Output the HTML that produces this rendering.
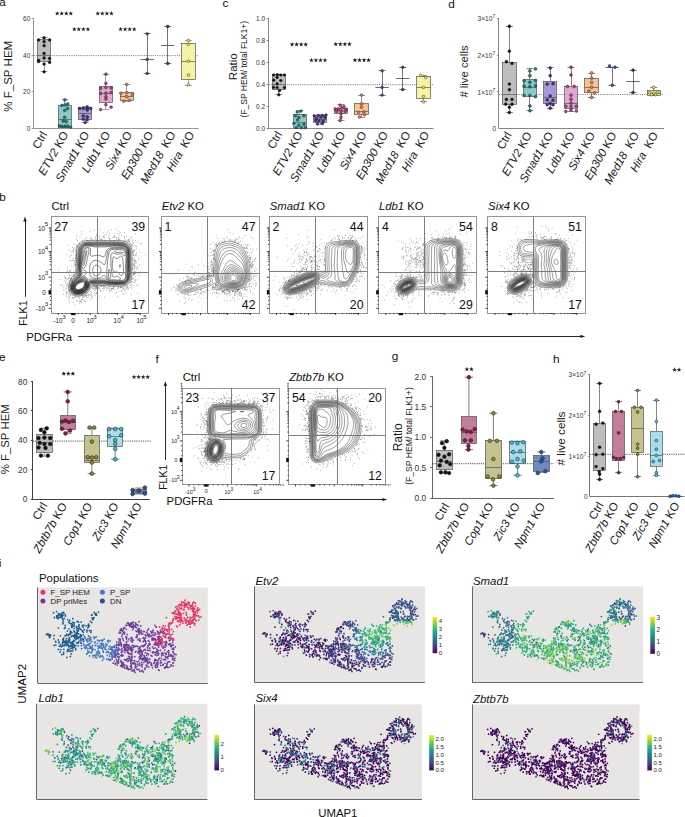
<!DOCTYPE html>
<html><head><meta charset="utf-8"><style>
html,body{margin:0;padding:0;background:#fff;width:685px;height:817px;overflow:hidden}
svg{display:block}
text{font-family:"Liberation Sans",sans-serif}
</style></head><body>
<svg width="685" height="817" viewBox="0 0 685 817" font-family="Liberation Sans, sans-serif">
<rect width="685" height="817" fill="#fff"/>
<text x="-0.7" y="5.8" font-size="11.8" text-anchor="start" fill="#111" >a</text>
<line x1="33.5" y1="18.2" x2="33.5" y2="128.7" stroke="#8a8a8a" stroke-width="0.9" />
<line x1="31.7" y1="18.5" x2="33.7" y2="18.5" stroke="#8a8a8a" stroke-width="0.9" />
<text x="30.2" y="20.9" font-size="6.4" text-anchor="end" fill="#333" >60</text>
<line x1="31.7" y1="55.5" x2="33.7" y2="55.5" stroke="#8a8a8a" stroke-width="0.9" />
<text x="30.2" y="57.7" font-size="6.4" text-anchor="end" fill="#333" >40</text>
<line x1="31.7" y1="91.5" x2="33.7" y2="91.5" stroke="#8a8a8a" stroke-width="0.9" />
<text x="30.2" y="94.2" font-size="6.4" text-anchor="end" fill="#333" >20</text>
<line x1="31.7" y1="128.5" x2="33.7" y2="128.5" stroke="#8a8a8a" stroke-width="0.9" />
<text x="30.2" y="130.6" font-size="6.4" text-anchor="end" fill="#333" >0</text>
<line x1="33.7" y1="128.5" x2="198.5" y2="128.5" stroke="#8a8a8a" stroke-width="0.9" />
<line x1="34" y1="55.6" x2="198" y2="55.6" stroke="#555" stroke-width="0.75" stroke-dasharray="1.1 1.1"/>
<line x1="44.5" y1="37.8" x2="44.5" y2="39.6" stroke="#9a9a9a" stroke-width="0.9" />
<line x1="44.5" y1="61.5" x2="44.5" y2="71.8" stroke="#9a9a9a" stroke-width="0.9" />
<line x1="40.6" y1="37.5" x2="47.6" y2="37.5" stroke="#9a9a9a" stroke-width="0.9" />
<line x1="40.6" y1="71.5" x2="47.6" y2="71.5" stroke="#9a9a9a" stroke-width="0.9" />
<rect x="37.5" y="39.5" width="13" height="22" fill="#bdbdbd" stroke="#555" stroke-width="0.7" />
<line x1="37.4" y1="55.5" x2="50.8" y2="55.5" stroke="#555" stroke-width="0.7" />
<circle cx="38.6" cy="40" r="1.4" fill="#111" stroke="#222" stroke-width="0.45"/>
<circle cx="44.1" cy="37.8" r="1.4" fill="#111" stroke="#222" stroke-width="0.45"/>
<circle cx="49.6" cy="40" r="1.4" fill="#111" stroke="#222" stroke-width="0.45"/>
<circle cx="44.1" cy="41.7" r="1.4" fill="#111" stroke="#222" stroke-width="0.45"/>
<circle cx="44.1" cy="45.7" r="1.4" fill="#111" stroke="#222" stroke-width="0.45"/>
<circle cx="44.1" cy="53.4" r="1.4" fill="#111" stroke="#222" stroke-width="0.45"/>
<circle cx="44.1" cy="58" r="1.4" fill="#111" stroke="#222" stroke-width="0.45"/>
<circle cx="49.6" cy="58.5" r="1.4" fill="#111" stroke="#222" stroke-width="0.45"/>
<circle cx="38.6" cy="60.4" r="1.4" fill="#111" stroke="#222" stroke-width="0.45"/>
<circle cx="49.6" cy="62.4" r="1.4" fill="#111" stroke="#222" stroke-width="0.45"/>
<circle cx="44.1" cy="64.1" r="1.4" fill="#111" stroke="#222" stroke-width="0.45"/>
<circle cx="44.1" cy="71.8" r="1.4" fill="#111" stroke="#222" stroke-width="0.45"/>
<circle cx="38.6" cy="61.5" r="1.4" fill="#111" stroke="#222" stroke-width="0.45"/>
<line x1="64.5" y1="99.9" x2="64.5" y2="105.3" stroke="#9a9a9a" stroke-width="0.9" />
<line x1="64.5" y1="127.5" x2="64.5" y2="127.5" stroke="#9a9a9a" stroke-width="0.9" />
<line x1="61.4" y1="99.5" x2="68.4" y2="99.5" stroke="#9a9a9a" stroke-width="0.9" />
<line x1="61.4" y1="127.5" x2="68.4" y2="127.5" stroke="#9a9a9a" stroke-width="0.9" />
<rect x="58.5" y="105.5" width="13" height="22" fill="#8ec8c7" stroke="#555" stroke-width="0.7" />
<line x1="58.2" y1="119.5" x2="71.6" y2="119.5" stroke="#555" stroke-width="0.7" />
<circle cx="64.9" cy="99.9" r="1.4" fill="#13817f" stroke="#222" stroke-width="0.45"/>
<circle cx="61.9" cy="105.4" r="1.4" fill="#13817f" stroke="#222" stroke-width="0.45"/>
<circle cx="64.9" cy="104.9" r="1.4" fill="#13817f" stroke="#222" stroke-width="0.45"/>
<circle cx="67.7" cy="103.9" r="1.4" fill="#13817f" stroke="#222" stroke-width="0.45"/>
<circle cx="67.7" cy="108.5" r="1.4" fill="#13817f" stroke="#222" stroke-width="0.45"/>
<circle cx="64.7" cy="110.4" r="1.4" fill="#13817f" stroke="#222" stroke-width="0.45"/>
<circle cx="64.7" cy="117.3" r="1.4" fill="#13817f" stroke="#222" stroke-width="0.45"/>
<circle cx="63.2" cy="121" r="1.4" fill="#13817f" stroke="#222" stroke-width="0.45"/>
<circle cx="66.2" cy="121.6" r="1.4" fill="#13817f" stroke="#222" stroke-width="0.45"/>
<circle cx="59.3" cy="125.9" r="1.4" fill="#13817f" stroke="#222" stroke-width="0.45"/>
<circle cx="61.9" cy="126.4" r="1.4" fill="#13817f" stroke="#222" stroke-width="0.45"/>
<circle cx="64.9" cy="126.2" r="1.4" fill="#13817f" stroke="#222" stroke-width="0.45"/>
<circle cx="67.7" cy="126.2" r="1.4" fill="#13817f" stroke="#222" stroke-width="0.45"/>
<circle cx="70.6" cy="127.2" r="1.4" fill="#13817f" stroke="#222" stroke-width="0.45"/>
<line x1="85.5" y1="106.3" x2="85.5" y2="107.3" stroke="#9a9a9a" stroke-width="0.9" />
<line x1="85.5" y1="119.5" x2="85.5" y2="122.6" stroke="#9a9a9a" stroke-width="0.9" />
<line x1="81.7" y1="106.5" x2="88.7" y2="106.5" stroke="#9a9a9a" stroke-width="0.9" />
<line x1="81.7" y1="122.5" x2="88.7" y2="122.5" stroke="#9a9a9a" stroke-width="0.9" />
<rect x="78.5" y="107.5" width="13" height="12" fill="#a797d4" stroke="#555" stroke-width="0.7" />
<line x1="78.5" y1="113.5" x2="91.9" y2="113.5" stroke="#555" stroke-width="0.7" />
<circle cx="79.6" cy="108.5" r="1.4" fill="#4b2d8d" stroke="#222" stroke-width="0.45"/>
<circle cx="83.3" cy="108.5" r="1.4" fill="#4b2d8d" stroke="#222" stroke-width="0.45"/>
<circle cx="87.2" cy="108.5" r="1.4" fill="#4b2d8d" stroke="#222" stroke-width="0.45"/>
<circle cx="90.8" cy="108.5" r="1.4" fill="#4b2d8d" stroke="#222" stroke-width="0.45"/>
<circle cx="87.2" cy="106.8" r="1.4" fill="#4b2d8d" stroke="#222" stroke-width="0.45"/>
<circle cx="87.2" cy="110.1" r="1.4" fill="#4b2d8d" stroke="#222" stroke-width="0.45"/>
<circle cx="83.3" cy="116" r="1.4" fill="#4b2d8d" stroke="#222" stroke-width="0.45"/>
<circle cx="87.2" cy="116.9" r="1.4" fill="#4b2d8d" stroke="#222" stroke-width="0.45"/>
<circle cx="83.3" cy="119.3" r="1.4" fill="#4b2d8d" stroke="#222" stroke-width="0.45"/>
<circle cx="87.2" cy="119.9" r="1.4" fill="#4b2d8d" stroke="#222" stroke-width="0.45"/>
<circle cx="85.2" cy="122.6" r="1.4" fill="#4b2d8d" stroke="#222" stroke-width="0.45"/>
<line x1="105.5" y1="74.2" x2="105.5" y2="86.8" stroke="#9a9a9a" stroke-width="0.9" />
<line x1="105.5" y1="102.3" x2="105.5" y2="109.6" stroke="#9a9a9a" stroke-width="0.9" />
<line x1="102.4" y1="74.5" x2="109.4" y2="74.5" stroke="#9a9a9a" stroke-width="0.9" />
<line x1="102.4" y1="109.5" x2="109.4" y2="109.5" stroke="#9a9a9a" stroke-width="0.9" />
<rect x="99.5" y="86.5" width="13" height="16" fill="#dcaad0" stroke="#555" stroke-width="0.7" />
<line x1="99.2" y1="93.5" x2="112.6" y2="93.5" stroke="#555" stroke-width="0.7" />
<circle cx="105.9" cy="74.2" r="1.4" fill="#c3397c" stroke="#222" stroke-width="0.45"/>
<circle cx="105.9" cy="83.4" r="1.4" fill="#c3397c" stroke="#222" stroke-width="0.45"/>
<circle cx="100.6" cy="88.4" r="1.4" fill="#c3397c" stroke="#222" stroke-width="0.45"/>
<circle cx="105.9" cy="87.6" r="1.4" fill="#c3397c" stroke="#222" stroke-width="0.45"/>
<circle cx="111.1" cy="87.9" r="1.4" fill="#c3397c" stroke="#222" stroke-width="0.45"/>
<circle cx="100.6" cy="93.5" r="1.4" fill="#c3397c" stroke="#222" stroke-width="0.45"/>
<circle cx="105.9" cy="93.2" r="1.4" fill="#c3397c" stroke="#222" stroke-width="0.45"/>
<circle cx="111.1" cy="92.4" r="1.4" fill="#c3397c" stroke="#222" stroke-width="0.45"/>
<circle cx="105.9" cy="96.7" r="1.4" fill="#c3397c" stroke="#222" stroke-width="0.45"/>
<circle cx="105.9" cy="99.1" r="1.4" fill="#c3397c" stroke="#222" stroke-width="0.45"/>
<circle cx="105.9" cy="104.7" r="1.4" fill="#c3397c" stroke="#222" stroke-width="0.45"/>
<circle cx="100.6" cy="109.6" r="1.4" fill="#c3397c" stroke="#222" stroke-width="0.45"/>
<circle cx="111.1" cy="107.2" r="1.4" fill="#c3397c" stroke="#222" stroke-width="0.45"/>
<line x1="126.5" y1="84.4" x2="126.5" y2="92.7" stroke="#9a9a9a" stroke-width="0.9" />
<line x1="126.5" y1="100.7" x2="126.5" y2="101.5" stroke="#9a9a9a" stroke-width="0.9" />
<line x1="123.2" y1="84.5" x2="130.2" y2="84.5" stroke="#9a9a9a" stroke-width="0.9" />
<line x1="123.2" y1="101.5" x2="130.2" y2="101.5" stroke="#9a9a9a" stroke-width="0.9" />
<rect x="120.5" y="92.5" width="13" height="8" fill="#f9c48f" stroke="#555" stroke-width="0.7" />
<line x1="120" y1="96.5" x2="133.4" y2="96.5" stroke="#555" stroke-width="0.7" />
<circle cx="126.7" cy="84.4" r="1.4" fill="#ea7b6d" stroke="#222" stroke-width="0.45"/>
<circle cx="120.9" cy="93.2" r="1.4" fill="#ea7b6d" stroke="#222" stroke-width="0.45"/>
<circle cx="126.7" cy="92.7" r="1.4" fill="#ea7b6d" stroke="#222" stroke-width="0.45"/>
<circle cx="132.3" cy="94.3" r="1.4" fill="#ea7b6d" stroke="#222" stroke-width="0.45"/>
<circle cx="126.7" cy="96.7" r="1.4" fill="#ea7b6d" stroke="#222" stroke-width="0.45"/>
<circle cx="123.6" cy="101.2" r="1.4" fill="#ea7b6d" stroke="#222" stroke-width="0.45"/>
<circle cx="129.5" cy="100.3" r="1.4" fill="#ea7b6d" stroke="#222" stroke-width="0.45"/>
<line x1="147.5" y1="33.8" x2="147.5" y2="73.4" stroke="#555" stroke-width="0.8" />
<line x1="143.7" y1="33.5" x2="150.7" y2="33.5" stroke="#555" stroke-width="0.8" />
<line x1="143.7" y1="73.5" x2="150.7" y2="73.5" stroke="#555" stroke-width="0.8" />
<line x1="140.5" y1="59.5" x2="153.9" y2="59.5" stroke="#444" stroke-width="0.8" />
<circle cx="147.2" cy="33.8" r="1.4" fill="#2d56a2" stroke="#222" stroke-width="0.45"/>
<circle cx="147.2" cy="59.5" r="1.4" fill="#2d56a2" stroke="#222" stroke-width="0.45"/>
<circle cx="147.2" cy="73.4" r="1.4" fill="#2d56a2" stroke="#222" stroke-width="0.45"/>
<line x1="167.5" y1="26.5" x2="167.5" y2="63.5" stroke="#555" stroke-width="0.8" />
<line x1="164.2" y1="26.5" x2="171.2" y2="26.5" stroke="#555" stroke-width="0.8" />
<line x1="164.2" y1="63.5" x2="171.2" y2="63.5" stroke="#555" stroke-width="0.8" />
<line x1="161" y1="45.5" x2="174.4" y2="45.5" stroke="#444" stroke-width="0.8" />
<circle cx="167.7" cy="26.5" r="1.4" fill="#7b1746" stroke="#222" stroke-width="0.45"/>
<circle cx="167.7" cy="63.5" r="1.4" fill="#7b1746" stroke="#222" stroke-width="0.45"/>
<line x1="188.5" y1="40.5" x2="188.5" y2="43.2" stroke="#9a9a9a" stroke-width="0.9" />
<line x1="188.5" y1="79.9" x2="188.5" y2="85" stroke="#9a9a9a" stroke-width="0.9" />
<line x1="184.9" y1="40.5" x2="191.9" y2="40.5" stroke="#9a9a9a" stroke-width="0.9" />
<line x1="184.9" y1="85.5" x2="191.9" y2="85.5" stroke="#9a9a9a" stroke-width="0.9" />
<rect x="181.5" y="43.5" width="14" height="36" fill="#f5f2a3" stroke="#555" stroke-width="0.7" />
<line x1="181.7" y1="61.5" x2="195.1" y2="61.5" stroke="#555" stroke-width="0.7" />
<circle cx="188.4" cy="40.5" r="1.4" fill="#ece463" stroke="#222" stroke-width="0.45"/>
<circle cx="188.4" cy="44.3" r="1.4" fill="#ece463" stroke="#222" stroke-width="0.45"/>
<circle cx="188.4" cy="61.1" r="1.4" fill="#ece463" stroke="#222" stroke-width="0.45"/>
<circle cx="188.4" cy="75.2" r="1.4" fill="#ece463" stroke="#222" stroke-width="0.45"/>
<circle cx="188.4" cy="85" r="1.4" fill="#ece463" stroke="#222" stroke-width="0.45"/>
<path d="M57.17,11.05 L57.78,12.67 L59.51,12.74 L58.15,13.82 L58.62,15.48 L57.17,14.53 L55.73,15.48 L56.2,13.82 L54.84,12.74 L56.57,12.67ZM61.72,11.05 L62.33,12.67 L64.06,12.74 L62.7,13.82 L63.17,15.48 L61.72,14.53 L60.28,15.48 L60.75,13.82 L59.39,12.74 L61.12,12.67ZM66.27,11.05 L66.88,12.67 L68.61,12.74 L67.25,13.82 L67.72,15.48 L66.27,14.53 L64.83,15.48 L65.3,13.82 L63.94,12.74 L65.67,12.67ZM70.82,11.05 L71.43,12.67 L73.16,12.74 L71.8,13.82 L72.27,15.48 L70.82,14.53 L69.38,15.48 L69.85,13.82 L68.49,12.74 L70.22,12.67Z" fill="#222"/>
<path d="M74.27,26.85 L74.88,28.47 L76.61,28.54 L75.25,29.62 L75.72,31.28 L74.27,30.33 L72.83,31.28 L73.3,29.62 L71.94,28.54 L73.67,28.47ZM78.82,26.85 L79.43,28.47 L81.16,28.54 L79.8,29.62 L80.27,31.28 L78.82,30.33 L77.38,31.28 L77.85,29.62 L76.49,28.54 L78.22,28.47ZM83.37,26.85 L83.98,28.47 L85.71,28.54 L84.35,29.62 L84.82,31.28 L83.37,30.33 L81.93,31.28 L82.4,29.62 L81.04,28.54 L82.77,28.47ZM87.92,26.85 L88.53,28.47 L90.26,28.54 L88.9,29.62 L89.37,31.28 L87.92,30.33 L86.48,31.28 L86.95,29.62 L85.59,28.54 L87.32,28.47Z" fill="#222"/>
<path d="M97.77,11.05 L98.38,12.67 L100.11,12.74 L98.75,13.82 L99.22,15.48 L97.77,14.53 L96.33,15.48 L96.8,13.82 L95.44,12.74 L97.17,12.67ZM102.32,11.05 L102.93,12.67 L104.66,12.74 L103.3,13.82 L103.77,15.48 L102.32,14.53 L100.88,15.48 L101.35,13.82 L99.99,12.74 L101.72,12.67ZM106.87,11.05 L107.48,12.67 L109.21,12.74 L107.85,13.82 L108.32,15.48 L106.87,14.53 L105.43,15.48 L105.9,13.82 L104.54,12.74 L106.27,12.67ZM111.42,11.05 L112.03,12.67 L113.76,12.74 L112.4,13.82 L112.87,15.48 L111.42,14.53 L109.98,15.48 L110.45,13.82 L109.09,12.74 L110.82,12.67Z" fill="#222"/>
<path d="M120.58,26.85 L121.18,28.47 L122.91,28.54 L121.55,29.62 L122.02,31.28 L120.58,30.33 L119.13,31.28 L119.6,29.62 L118.24,28.54 L119.97,28.47ZM125.12,26.85 L125.73,28.47 L127.46,28.54 L126.1,29.62 L126.57,31.28 L125.12,30.33 L123.68,31.28 L124.15,29.62 L122.79,28.54 L124.52,28.47ZM129.68,26.85 L130.28,28.47 L132.01,28.54 L130.65,29.62 L131.12,31.28 L129.68,30.33 L128.23,31.28 L128.7,29.62 L127.34,28.54 L129.07,28.47ZM134.22,26.85 L134.83,28.47 L136.56,28.54 L135.2,29.62 L135.67,31.28 L134.22,30.33 L132.78,31.28 L133.25,29.62 L131.89,28.54 L133.62,28.47Z" fill="#222"/>
<text x="12.1" y="76.3" font-size="11.55" text-anchor="middle" transform="rotate(-90 12.1 76.3)" fill="#1a1a1a" >% F_SP HEM</text>
<text x="47.6" y="134.3" font-size="11.5" text-anchor="end" transform="rotate(-60 47.6 134.3)" fill="#1a1a1a"><tspan>Ctrl</tspan></text>
<text x="68.8" y="134.3" font-size="11.5" text-anchor="end" transform="rotate(-60 68.8 134.3)" fill="#1a1a1a"><tspan font-style="italic">ETV2</tspan><tspan> KO</tspan></text>
<text x="89.8" y="134.3" font-size="11.5" text-anchor="end" transform="rotate(-60 89.8 134.3)" fill="#1a1a1a"><tspan font-style="italic">Smad1</tspan><tspan> KO</tspan></text>
<text x="110.8" y="134.3" font-size="11.5" text-anchor="end" transform="rotate(-60 110.8 134.3)" fill="#1a1a1a"><tspan font-style="italic">Ldb1</tspan><tspan> KO</tspan></text>
<text x="132.4" y="134.3" font-size="11.5" text-anchor="end" transform="rotate(-60 132.4 134.3)" fill="#1a1a1a"><tspan font-style="italic">Six4</tspan><tspan> KO</tspan></text>
<text x="153.7" y="134.3" font-size="11.5" text-anchor="end" transform="rotate(-60 153.7 134.3)" fill="#1a1a1a"><tspan font-style="italic">Ep300</tspan><tspan> KO</tspan></text>
<text x="175.9" y="134.3" font-size="11.5" text-anchor="end" transform="rotate(-60 175.9 134.3)" fill="#1a1a1a"><tspan font-style="italic">Med18</tspan><tspan>&#160; KO</tspan></text>
<text x="194.8" y="134.3" font-size="11.5" text-anchor="end" transform="rotate(-60 194.8 134.3)" fill="#1a1a1a"><tspan font-style="italic">Hira</tspan><tspan>&#160; KO</tspan></text>
<text x="222.6" y="6.5" font-size="11.8" text-anchor="start" fill="#111" >c</text>
<line x1="268.5" y1="18.1" x2="268.5" y2="128.8" stroke="#7a7a7a" stroke-width="0.9" />
<line x1="266.6" y1="18.5" x2="268.6" y2="18.5" stroke="#7a7a7a" stroke-width="0.9" />
<text x="265.1" y="20.84" font-size="6.5" text-anchor="end" fill="#333" >1.0</text>
<line x1="266.6" y1="40.5" x2="268.6" y2="40.5" stroke="#7a7a7a" stroke-width="0.9" />
<text x="265.1" y="42.74" font-size="6.5" text-anchor="end" fill="#333" >0.8</text>
<line x1="266.6" y1="62.5" x2="268.6" y2="62.5" stroke="#7a7a7a" stroke-width="0.9" />
<text x="265.1" y="64.74" font-size="6.5" text-anchor="end" fill="#333" >0.6</text>
<line x1="266.6" y1="84.5" x2="268.6" y2="84.5" stroke="#7a7a7a" stroke-width="0.9" />
<text x="265.1" y="86.74" font-size="6.5" text-anchor="end" fill="#333" >0.4</text>
<line x1="266.6" y1="106.5" x2="268.6" y2="106.5" stroke="#7a7a7a" stroke-width="0.9" />
<text x="265.1" y="108.74" font-size="6.5" text-anchor="end" fill="#333" >0.2</text>
<line x1="266.6" y1="128.5" x2="268.6" y2="128.5" stroke="#7a7a7a" stroke-width="0.9" />
<text x="265.1" y="130.74" font-size="6.5" text-anchor="end" fill="#333" >0.0</text>
<line x1="268.6" y1="128.5" x2="433.5" y2="128.5" stroke="#7a7a7a" stroke-width="0.9" />
<line x1="269" y1="84.7" x2="433" y2="84.7" stroke="#555" stroke-width="0.75" stroke-dasharray="1.1 1.1"/>
<line x1="278.5" y1="74.7" x2="278.5" y2="74.8" stroke="#8a8a8a" stroke-width="0.9" />
<line x1="278.5" y1="89" x2="278.5" y2="94.8" stroke="#8a8a8a" stroke-width="0.9" />
<line x1="275.4" y1="74.5" x2="282.4" y2="74.5" stroke="#8a8a8a" stroke-width="0.9" />
<line x1="275.4" y1="94.5" x2="282.4" y2="94.5" stroke="#8a8a8a" stroke-width="0.9" />
<rect x="272.5" y="74.5" width="13" height="15" fill="#bdbdbd" stroke="#555" stroke-width="0.7" />
<line x1="272.2" y1="84.5" x2="285.6" y2="84.5" stroke="#555" stroke-width="0.7" />
<circle cx="273.7" cy="75" r="1.35" fill="#111" stroke="#222" stroke-width="0.45"/>
<circle cx="277.4" cy="74.7" r="1.35" fill="#111" stroke="#222" stroke-width="0.45"/>
<circle cx="280.8" cy="75" r="1.35" fill="#111" stroke="#222" stroke-width="0.45"/>
<circle cx="284.4" cy="75" r="1.35" fill="#111" stroke="#222" stroke-width="0.45"/>
<circle cx="277.1" cy="77.4" r="1.35" fill="#111" stroke="#222" stroke-width="0.45"/>
<circle cx="273.7" cy="80.2" r="1.35" fill="#111" stroke="#222" stroke-width="0.45"/>
<circle cx="280.8" cy="80.6" r="1.35" fill="#111" stroke="#222" stroke-width="0.45"/>
<circle cx="277.1" cy="83.9" r="1.35" fill="#111" stroke="#222" stroke-width="0.45"/>
<circle cx="273.4" cy="87.3" r="1.35" fill="#111" stroke="#222" stroke-width="0.45"/>
<circle cx="277.1" cy="87.6" r="1.35" fill="#111" stroke="#222" stroke-width="0.45"/>
<circle cx="284.4" cy="87.6" r="1.35" fill="#111" stroke="#222" stroke-width="0.45"/>
<circle cx="279.6" cy="90.6" r="1.35" fill="#111" stroke="#222" stroke-width="0.45"/>
<circle cx="278.9" cy="94.8" r="1.35" fill="#111" stroke="#222" stroke-width="0.45"/>
<line x1="299.5" y1="110.8" x2="299.5" y2="114.2" stroke="#8a8a8a" stroke-width="0.9" />
<line x1="299.5" y1="128.5" x2="299.5" y2="128.5" stroke="#8a8a8a" stroke-width="0.9" />
<line x1="296.2" y1="110.5" x2="303.2" y2="110.5" stroke="#8a8a8a" stroke-width="0.9" />
<line x1="296.2" y1="128.5" x2="303.2" y2="128.5" stroke="#8a8a8a" stroke-width="0.9" />
<rect x="293.5" y="114.5" width="13" height="14" fill="#8ec8c7" stroke="#555" stroke-width="0.7" />
<line x1="293" y1="122.5" x2="306.4" y2="122.5" stroke="#555" stroke-width="0.7" />
<circle cx="297.2" cy="112.1" r="1.35" fill="#13817f" stroke="#222" stroke-width="0.45"/>
<circle cx="300.9" cy="111.1" r="1.35" fill="#13817f" stroke="#222" stroke-width="0.45"/>
<circle cx="295.5" cy="115.8" r="1.35" fill="#13817f" stroke="#222" stroke-width="0.45"/>
<circle cx="298.9" cy="117.5" r="1.35" fill="#13817f" stroke="#222" stroke-width="0.45"/>
<circle cx="303.9" cy="115.8" r="1.35" fill="#13817f" stroke="#222" stroke-width="0.45"/>
<circle cx="297.6" cy="120" r="1.35" fill="#13817f" stroke="#222" stroke-width="0.45"/>
<circle cx="293.9" cy="123.4" r="1.35" fill="#13817f" stroke="#222" stroke-width="0.45"/>
<circle cx="298.9" cy="125.1" r="1.35" fill="#13817f" stroke="#222" stroke-width="0.45"/>
<circle cx="303.9" cy="124.2" r="1.35" fill="#13817f" stroke="#222" stroke-width="0.45"/>
<circle cx="296.4" cy="127.6" r="1.35" fill="#13817f" stroke="#222" stroke-width="0.45"/>
<circle cx="301.4" cy="127.6" r="1.35" fill="#13817f" stroke="#222" stroke-width="0.45"/>
<circle cx="305.4" cy="127.6" r="1.35" fill="#13817f" stroke="#222" stroke-width="0.45"/>
<line x1="320.5" y1="114.8" x2="320.5" y2="115.4" stroke="#8a8a8a" stroke-width="0.9" />
<line x1="320.5" y1="122.3" x2="320.5" y2="124.2" stroke="#8a8a8a" stroke-width="0.9" />
<line x1="316.7" y1="114.5" x2="323.7" y2="114.5" stroke="#8a8a8a" stroke-width="0.9" />
<line x1="316.7" y1="124.5" x2="323.7" y2="124.5" stroke="#8a8a8a" stroke-width="0.9" />
<rect x="313.5" y="115.5" width="13" height="7" fill="#a797d4" stroke="#555" stroke-width="0.7" />
<line x1="313.5" y1="119.5" x2="326.9" y2="119.5" stroke="#555" stroke-width="0.7" />
<circle cx="314.2" cy="115.8" r="1.35" fill="#4b2d8d" stroke="#222" stroke-width="0.45"/>
<circle cx="318.2" cy="115.5" r="1.35" fill="#4b2d8d" stroke="#222" stroke-width="0.45"/>
<circle cx="322.4" cy="115.5" r="1.35" fill="#4b2d8d" stroke="#222" stroke-width="0.45"/>
<circle cx="326" cy="115" r="1.35" fill="#4b2d8d" stroke="#222" stroke-width="0.45"/>
<circle cx="316.5" cy="118.3" r="1.35" fill="#4b2d8d" stroke="#222" stroke-width="0.45"/>
<circle cx="320.7" cy="117.5" r="1.35" fill="#4b2d8d" stroke="#222" stroke-width="0.45"/>
<circle cx="324.9" cy="117.5" r="1.35" fill="#4b2d8d" stroke="#222" stroke-width="0.45"/>
<circle cx="315.7" cy="120.5" r="1.35" fill="#4b2d8d" stroke="#222" stroke-width="0.45"/>
<circle cx="319" cy="120.9" r="1.35" fill="#4b2d8d" stroke="#222" stroke-width="0.45"/>
<circle cx="323.2" cy="120.9" r="1.35" fill="#4b2d8d" stroke="#222" stroke-width="0.45"/>
<circle cx="317.4" cy="123.9" r="1.35" fill="#4b2d8d" stroke="#222" stroke-width="0.45"/>
<circle cx="322.4" cy="123.4" r="1.35" fill="#4b2d8d" stroke="#222" stroke-width="0.45"/>
<line x1="341.5" y1="104.9" x2="341.5" y2="108" stroke="#8a8a8a" stroke-width="0.9" />
<line x1="341.5" y1="113.1" x2="341.5" y2="120.6" stroke="#8a8a8a" stroke-width="0.9" />
<line x1="337.5" y1="104.5" x2="344.5" y2="104.5" stroke="#8a8a8a" stroke-width="0.9" />
<line x1="337.5" y1="120.5" x2="344.5" y2="120.5" stroke="#8a8a8a" stroke-width="0.9" />
<rect x="334.5" y="108.5" width="13" height="5" fill="#dcaad0" stroke="#555" stroke-width="0.7" />
<line x1="334.3" y1="110.5" x2="347.7" y2="110.5" stroke="#555" stroke-width="0.7" />
<circle cx="340.1" cy="105.2" r="1.35" fill="#c3397c" stroke="#222" stroke-width="0.45"/>
<circle cx="335.1" cy="108.9" r="1.35" fill="#c3397c" stroke="#222" stroke-width="0.45"/>
<circle cx="338.4" cy="108.9" r="1.35" fill="#c3397c" stroke="#222" stroke-width="0.45"/>
<circle cx="341.8" cy="108.1" r="1.35" fill="#c3397c" stroke="#222" stroke-width="0.45"/>
<circle cx="346" cy="109.2" r="1.35" fill="#c3397c" stroke="#222" stroke-width="0.45"/>
<circle cx="336.8" cy="111.4" r="1.35" fill="#c3397c" stroke="#222" stroke-width="0.45"/>
<circle cx="341" cy="111.4" r="1.35" fill="#c3397c" stroke="#222" stroke-width="0.45"/>
<circle cx="345.1" cy="111.4" r="1.35" fill="#c3397c" stroke="#222" stroke-width="0.45"/>
<circle cx="341" cy="113.9" r="1.35" fill="#c3397c" stroke="#222" stroke-width="0.45"/>
<circle cx="341" cy="117.3" r="1.35" fill="#c3397c" stroke="#222" stroke-width="0.45"/>
<circle cx="340.1" cy="120.6" r="1.35" fill="#c3397c" stroke="#222" stroke-width="0.45"/>
<circle cx="344" cy="106.5" r="1.35" fill="#c3397c" stroke="#222" stroke-width="0.45"/>
<line x1="361.5" y1="95.1" x2="361.5" y2="103.9" stroke="#8a8a8a" stroke-width="0.9" />
<line x1="361.5" y1="114.3" x2="361.5" y2="117.2" stroke="#8a8a8a" stroke-width="0.9" />
<line x1="358" y1="95.5" x2="365" y2="95.5" stroke="#8a8a8a" stroke-width="0.9" />
<line x1="358" y1="117.5" x2="365" y2="117.5" stroke="#8a8a8a" stroke-width="0.9" />
<rect x="354.5" y="103.5" width="14" height="11" fill="#f9c48f" stroke="#555" stroke-width="0.7" />
<line x1="354.8" y1="111.5" x2="368.2" y2="111.5" stroke="#555" stroke-width="0.7" />
<circle cx="361.5" cy="95.1" r="1.35" fill="#ea7b6d" stroke="#222" stroke-width="0.45"/>
<circle cx="361.5" cy="103.9" r="1.35" fill="#ea7b6d" stroke="#222" stroke-width="0.45"/>
<circle cx="361.5" cy="107.2" r="1.35" fill="#ea7b6d" stroke="#222" stroke-width="0.45"/>
<circle cx="358.6" cy="112.3" r="1.35" fill="#ea7b6d" stroke="#222" stroke-width="0.45"/>
<circle cx="364" cy="111.9" r="1.35" fill="#ea7b6d" stroke="#222" stroke-width="0.45"/>
<circle cx="359.4" cy="117" r="1.35" fill="#ea7b6d" stroke="#222" stroke-width="0.45"/>
<circle cx="364.4" cy="114.8" r="1.35" fill="#ea7b6d" stroke="#222" stroke-width="0.45"/>
<line x1="382.5" y1="70.8" x2="382.5" y2="95.1" stroke="#555" stroke-width="0.8" />
<line x1="378.6" y1="70.5" x2="385.6" y2="70.5" stroke="#555" stroke-width="0.8" />
<line x1="378.6" y1="95.5" x2="385.6" y2="95.5" stroke="#555" stroke-width="0.8" />
<line x1="375.4" y1="87.5" x2="388.8" y2="87.5" stroke="#444" stroke-width="0.8" />
<circle cx="382.1" cy="70.8" r="1.35" fill="#2d56a2" stroke="#222" stroke-width="0.45"/>
<circle cx="382.1" cy="87.4" r="1.35" fill="#2d56a2" stroke="#222" stroke-width="0.45"/>
<circle cx="382.1" cy="95.1" r="1.35" fill="#2d56a2" stroke="#222" stroke-width="0.45"/>
<line x1="402.5" y1="67.3" x2="402.5" y2="89.6" stroke="#555" stroke-width="0.8" />
<line x1="399.2" y1="67.5" x2="406.2" y2="67.5" stroke="#555" stroke-width="0.8" />
<line x1="399.2" y1="89.5" x2="406.2" y2="89.5" stroke="#555" stroke-width="0.8" />
<line x1="396" y1="78.5" x2="409.4" y2="78.5" stroke="#444" stroke-width="0.8" />
<circle cx="402.7" cy="67.3" r="1.35" fill="#7b1746" stroke="#222" stroke-width="0.45"/>
<circle cx="402.7" cy="89.6" r="1.35" fill="#7b1746" stroke="#222" stroke-width="0.45"/>
<line x1="423.5" y1="75.3" x2="423.5" y2="76.7" stroke="#8a8a8a" stroke-width="0.9" />
<line x1="423.5" y1="98.5" x2="423.5" y2="101.8" stroke="#8a8a8a" stroke-width="0.9" />
<line x1="419.9" y1="75.5" x2="426.9" y2="75.5" stroke="#8a8a8a" stroke-width="0.9" />
<line x1="419.9" y1="101.5" x2="426.9" y2="101.5" stroke="#8a8a8a" stroke-width="0.9" />
<rect x="416.5" y="76.5" width="14" height="22" fill="#f5f2a3" stroke="#555" stroke-width="0.7" />
<line x1="416.7" y1="87.5" x2="430.1" y2="87.5" stroke="#555" stroke-width="0.7" />
<circle cx="420.7" cy="75.3" r="1.35" fill="#ece463" stroke="#222" stroke-width="0.45"/>
<circle cx="425.7" cy="77.5" r="1.35" fill="#ece463" stroke="#222" stroke-width="0.45"/>
<circle cx="423.4" cy="87.4" r="1.35" fill="#ece463" stroke="#222" stroke-width="0.45"/>
<circle cx="423.4" cy="96.3" r="1.35" fill="#ece463" stroke="#222" stroke-width="0.45"/>
<circle cx="423.4" cy="101.8" r="1.35" fill="#ece463" stroke="#222" stroke-width="0.45"/>
<path d="M292.07,41.95 L292.68,43.57 L294.41,43.64 L293.05,44.72 L293.52,46.38 L292.07,45.43 L290.63,46.38 L291.1,44.72 L289.74,43.64 L291.47,43.57ZM296.62,41.95 L297.23,43.57 L298.96,43.64 L297.6,44.72 L298.07,46.38 L296.62,45.43 L295.18,46.38 L295.65,44.72 L294.29,43.64 L296.02,43.57ZM301.18,41.95 L301.78,43.57 L303.51,43.64 L302.15,44.72 L302.62,46.38 L301.18,45.43 L299.73,46.38 L300.2,44.72 L298.84,43.64 L300.57,43.57ZM305.72,41.95 L306.33,43.57 L308.06,43.64 L306.7,44.72 L307.17,46.38 L305.72,45.43 L304.28,46.38 L304.75,44.72 L303.39,43.64 L305.12,43.57Z" fill="#222"/>
<path d="M311.38,57.85 L311.98,59.47 L313.71,59.54 L312.35,60.62 L312.82,62.28 L311.38,61.33 L309.93,62.28 L310.4,60.62 L309.04,59.54 L310.77,59.47ZM315.93,57.85 L316.53,59.47 L318.26,59.54 L316.9,60.62 L317.37,62.28 L315.93,61.33 L314.48,62.28 L314.95,60.62 L313.59,59.54 L315.32,59.47ZM320.48,57.85 L321.08,59.47 L322.81,59.54 L321.45,60.62 L321.92,62.28 L320.48,61.33 L319.03,62.28 L319.5,60.62 L318.14,59.54 L319.87,59.47ZM325.02,57.85 L325.63,59.47 L327.36,59.54 L326,60.62 L326.47,62.28 L325.02,61.33 L323.58,62.28 L324.05,60.62 L322.69,59.54 L324.42,59.47Z" fill="#222"/>
<path d="M335.78,41.75 L336.38,43.37 L338.11,43.44 L336.75,44.52 L337.22,46.18 L335.78,45.23 L334.33,46.18 L334.8,44.52 L333.44,43.44 L335.17,43.37ZM340.33,41.75 L340.93,43.37 L342.66,43.44 L341.3,44.52 L341.77,46.18 L340.33,45.23 L338.88,46.18 L339.35,44.52 L337.99,43.44 L339.72,43.37ZM344.88,41.75 L345.48,43.37 L347.21,43.44 L345.85,44.52 L346.32,46.18 L344.88,45.23 L343.43,46.18 L343.9,44.52 L342.54,43.44 L344.27,43.37ZM349.43,41.75 L350.03,43.37 L351.76,43.44 L350.4,44.52 L350.87,46.18 L349.43,45.23 L347.98,46.18 L348.45,44.52 L347.09,43.44 L348.82,43.37Z" fill="#222"/>
<path d="M354.98,57.75 L355.58,59.37 L357.31,59.44 L355.95,60.52 L356.42,62.18 L354.98,61.23 L353.53,62.18 L354,60.52 L352.64,59.44 L354.37,59.37ZM359.53,57.75 L360.13,59.37 L361.86,59.44 L360.5,60.52 L360.97,62.18 L359.53,61.23 L358.08,62.18 L358.55,60.52 L357.19,59.44 L358.92,59.37ZM364.08,57.75 L364.68,59.37 L366.41,59.44 L365.05,60.52 L365.52,62.18 L364.08,61.23 L362.63,62.18 L363.1,60.52 L361.74,59.44 L363.47,59.37ZM368.62,57.75 L369.23,59.37 L370.96,59.44 L369.6,60.52 L370.07,62.18 L368.62,61.23 L367.18,62.18 L367.65,60.52 L366.29,59.44 L368.02,59.37Z" fill="#222"/>
<text x="236.7" y="66.7" font-size="11.5" text-anchor="middle" transform="rotate(-90 236.7 66.7)" fill="#1a1a1a" >Ratio</text>
<text x="246.9" y="69.2" font-size="8.5" text-anchor="middle" transform="rotate(-90 246.9 69.2)" fill="#1a1a1a" >(F_SP HEM/ total FLK1+)</text>
<text x="282.6" y="134.3" font-size="11.5" text-anchor="end" transform="rotate(-60 282.6 134.3)" fill="#1a1a1a"><tspan>Ctrl</tspan></text>
<text x="303.1" y="134.3" font-size="11.5" text-anchor="end" transform="rotate(-60 303.1 134.3)" fill="#1a1a1a"><tspan font-style="italic">ETV2</tspan><tspan> KO</tspan></text>
<text x="324.5" y="134.3" font-size="11.5" text-anchor="end" transform="rotate(-60 324.5 134.3)" fill="#1a1a1a"><tspan font-style="italic">Smad1</tspan><tspan> KO</tspan></text>
<text x="345.8" y="134.3" font-size="11.5" text-anchor="end" transform="rotate(-60 345.8 134.3)" fill="#1a1a1a"><tspan font-style="italic">Ldb1</tspan><tspan> KO</tspan></text>
<text x="367.1" y="134.3" font-size="11.5" text-anchor="end" transform="rotate(-60 367.1 134.3)" fill="#1a1a1a"><tspan font-style="italic">Six4</tspan><tspan> KO</tspan></text>
<text x="388.5" y="134.3" font-size="11.5" text-anchor="end" transform="rotate(-60 388.5 134.3)" fill="#1a1a1a"><tspan font-style="italic">Ep300</tspan><tspan> KO</tspan></text>
<text x="410.9" y="134.3" font-size="11.5" text-anchor="end" transform="rotate(-60 410.9 134.3)" fill="#1a1a1a"><tspan font-style="italic">Med18</tspan><tspan>&#160; KO</tspan></text>
<text x="429.8" y="134.3" font-size="11.5" text-anchor="end" transform="rotate(-60 429.8 134.3)" fill="#1a1a1a"><tspan font-style="italic">Hira</tspan><tspan>&#160; KO</tspan></text>
<text x="448.3" y="8.4" font-size="11.8" text-anchor="start" fill="#111" >d</text>
<line x1="498.5" y1="18" x2="498.5" y2="128.5" stroke="#777" stroke-width="0.9" />
<line x1="498.7" y1="128.5" x2="664" y2="128.5" stroke="#777" stroke-width="0.9" />
<line x1="497" y1="18.5" x2="498.7" y2="18.5" stroke="#777" stroke-width="0.9" />
<line x1="497" y1="55.5" x2="498.7" y2="55.5" stroke="#777" stroke-width="0.9" />
<line x1="497" y1="91.5" x2="498.7" y2="91.5" stroke="#777" stroke-width="0.9" />
<text x="495.2" y="21.1" font-size="6.6" text-anchor="end" fill="#333">3×10<tspan dy="-2.7" font-size="4.95">7</tspan></text>
<text x="495.2" y="57.8" font-size="6.6" text-anchor="end" fill="#333">2×10<tspan dy="-2.7" font-size="4.95">7</tspan></text>
<text x="495.2" y="94.5" font-size="6.6" text-anchor="end" fill="#333">1×10<tspan dy="-2.7" font-size="4.95">7</tspan></text>
<text x="496.2" y="130.8" font-size="6.6" text-anchor="end" fill="#333" >0</text>
<line x1="499" y1="94.5" x2="664" y2="94.5" stroke="#555" stroke-width="0.75" stroke-dasharray="1.1 1.1"/>
<line x1="509.5" y1="26.3" x2="509.5" y2="62.2" stroke="#777" stroke-width="0.9" />
<line x1="509.5" y1="104.2" x2="509.5" y2="112.6" stroke="#777" stroke-width="0.9" />
<line x1="505.9" y1="26.5" x2="512.9" y2="26.5" stroke="#777" stroke-width="0.9" />
<line x1="505.9" y1="112.5" x2="512.9" y2="112.5" stroke="#777" stroke-width="0.9" />
<rect x="502.5" y="62.5" width="14" height="42" fill="#bdbdbd" stroke="#555" stroke-width="0.7" />
<line x1="502.7" y1="94.5" x2="516.1" y2="94.5" stroke="#555" stroke-width="0.7" />
<circle cx="509.4" cy="26.3" r="1.45" fill="#111" stroke="#222" stroke-width="0.45"/>
<circle cx="509.4" cy="51.2" r="1.45" fill="#111" stroke="#222" stroke-width="0.45"/>
<circle cx="506.4" cy="61.7" r="1.45" fill="#111" stroke="#222" stroke-width="0.45"/>
<circle cx="512" cy="63.4" r="1.45" fill="#111" stroke="#222" stroke-width="0.45"/>
<circle cx="509.4" cy="84.1" r="1.45" fill="#111" stroke="#222" stroke-width="0.45"/>
<circle cx="509.4" cy="89.7" r="1.45" fill="#111" stroke="#222" stroke-width="0.45"/>
<circle cx="506.4" cy="99.5" r="1.45" fill="#111" stroke="#222" stroke-width="0.45"/>
<circle cx="512" cy="99.5" r="1.45" fill="#111" stroke="#222" stroke-width="0.45"/>
<circle cx="505.7" cy="104.2" r="1.45" fill="#111" stroke="#222" stroke-width="0.45"/>
<circle cx="512" cy="104.2" r="1.45" fill="#111" stroke="#222" stroke-width="0.45"/>
<circle cx="509.4" cy="107.2" r="1.45" fill="#111" stroke="#222" stroke-width="0.45"/>
<circle cx="509.4" cy="112.6" r="1.45" fill="#111" stroke="#222" stroke-width="0.45"/>
<line x1="529.5" y1="68.3" x2="529.5" y2="79.2" stroke="#777" stroke-width="0.9" />
<line x1="529.5" y1="96" x2="529.5" y2="110.7" stroke="#777" stroke-width="0.9" />
<line x1="526.4" y1="68.5" x2="533.4" y2="68.5" stroke="#777" stroke-width="0.9" />
<line x1="526.4" y1="110.5" x2="533.4" y2="110.5" stroke="#777" stroke-width="0.9" />
<rect x="523.5" y="79.5" width="13" height="17" fill="#8ec8c7" stroke="#555" stroke-width="0.7" />
<line x1="523.2" y1="87.5" x2="536.6" y2="87.5" stroke="#555" stroke-width="0.7" />
<circle cx="529.9" cy="71" r="1.45" fill="#13817f" stroke="#222" stroke-width="0.45"/>
<circle cx="535.5" cy="68.9" r="1.45" fill="#13817f" stroke="#222" stroke-width="0.45"/>
<circle cx="529.9" cy="75.7" r="1.45" fill="#13817f" stroke="#222" stroke-width="0.45"/>
<circle cx="524.1" cy="80.9" r="1.45" fill="#13817f" stroke="#222" stroke-width="0.45"/>
<circle cx="529.9" cy="82.3" r="1.45" fill="#13817f" stroke="#222" stroke-width="0.45"/>
<circle cx="535.5" cy="80.6" r="1.45" fill="#13817f" stroke="#222" stroke-width="0.45"/>
<circle cx="524.1" cy="86.2" r="1.45" fill="#13817f" stroke="#222" stroke-width="0.45"/>
<circle cx="529.9" cy="86.7" r="1.45" fill="#13817f" stroke="#222" stroke-width="0.45"/>
<circle cx="535.5" cy="85.8" r="1.45" fill="#13817f" stroke="#222" stroke-width="0.45"/>
<circle cx="524.1" cy="95.5" r="1.45" fill="#13817f" stroke="#222" stroke-width="0.45"/>
<circle cx="529.9" cy="95.5" r="1.45" fill="#13817f" stroke="#222" stroke-width="0.45"/>
<circle cx="535.5" cy="96.7" r="1.45" fill="#13817f" stroke="#222" stroke-width="0.45"/>
<circle cx="529.9" cy="106" r="1.45" fill="#13817f" stroke="#222" stroke-width="0.45"/>
<circle cx="529.9" cy="110.7" r="1.45" fill="#13817f" stroke="#222" stroke-width="0.45"/>
<line x1="550.5" y1="67.4" x2="550.5" y2="81.1" stroke="#777" stroke-width="0.9" />
<line x1="550.5" y1="103.4" x2="550.5" y2="108.6" stroke="#777" stroke-width="0.9" />
<line x1="546.7" y1="67.5" x2="553.7" y2="67.5" stroke="#777" stroke-width="0.9" />
<line x1="546.7" y1="108.5" x2="553.7" y2="108.5" stroke="#777" stroke-width="0.9" />
<rect x="543.5" y="81.5" width="13" height="22" fill="#a797d4" stroke="#555" stroke-width="0.7" />
<line x1="543.5" y1="97.5" x2="556.9" y2="97.5" stroke="#555" stroke-width="0.7" />
<circle cx="550.2" cy="68" r="1.45" fill="#4b2d8d" stroke="#222" stroke-width="0.45"/>
<circle cx="550.2" cy="75.7" r="1.45" fill="#4b2d8d" stroke="#222" stroke-width="0.45"/>
<circle cx="547.2" cy="84.1" r="1.45" fill="#4b2d8d" stroke="#222" stroke-width="0.45"/>
<circle cx="553" cy="83.7" r="1.45" fill="#4b2d8d" stroke="#222" stroke-width="0.45"/>
<circle cx="550.2" cy="96" r="1.45" fill="#4b2d8d" stroke="#222" stroke-width="0.45"/>
<circle cx="547.2" cy="99.9" r="1.45" fill="#4b2d8d" stroke="#222" stroke-width="0.45"/>
<circle cx="553" cy="100.2" r="1.45" fill="#4b2d8d" stroke="#222" stroke-width="0.45"/>
<circle cx="550.2" cy="103.4" r="1.45" fill="#4b2d8d" stroke="#222" stroke-width="0.45"/>
<circle cx="547.2" cy="104.8" r="1.45" fill="#4b2d8d" stroke="#222" stroke-width="0.45"/>
<circle cx="553" cy="104.8" r="1.45" fill="#4b2d8d" stroke="#222" stroke-width="0.45"/>
<circle cx="550.2" cy="108.3" r="1.45" fill="#4b2d8d" stroke="#222" stroke-width="0.45"/>
<line x1="571.5" y1="67.2" x2="571.5" y2="86.4" stroke="#777" stroke-width="0.9" />
<line x1="571.5" y1="108.3" x2="571.5" y2="111.2" stroke="#777" stroke-width="0.9" />
<line x1="567.5" y1="67.5" x2="574.5" y2="67.5" stroke="#777" stroke-width="0.9" />
<line x1="567.5" y1="111.5" x2="574.5" y2="111.5" stroke="#777" stroke-width="0.9" />
<rect x="564.5" y="86.5" width="13" height="22" fill="#dcaad0" stroke="#555" stroke-width="0.7" />
<line x1="564.3" y1="103.5" x2="577.7" y2="103.5" stroke="#555" stroke-width="0.7" />
<circle cx="571" cy="67.2" r="1.45" fill="#c3397c" stroke="#222" stroke-width="0.45"/>
<circle cx="571" cy="75" r="1.45" fill="#c3397c" stroke="#222" stroke-width="0.45"/>
<circle cx="567.5" cy="86.4" r="1.45" fill="#c3397c" stroke="#222" stroke-width="0.45"/>
<circle cx="574.2" cy="86.4" r="1.45" fill="#c3397c" stroke="#222" stroke-width="0.45"/>
<circle cx="571" cy="95.2" r="1.45" fill="#c3397c" stroke="#222" stroke-width="0.45"/>
<circle cx="571" cy="99.2" r="1.45" fill="#c3397c" stroke="#222" stroke-width="0.45"/>
<circle cx="571" cy="103.1" r="1.45" fill="#c3397c" stroke="#222" stroke-width="0.45"/>
<circle cx="565.8" cy="106.2" r="1.45" fill="#c3397c" stroke="#222" stroke-width="0.45"/>
<circle cx="571" cy="106.6" r="1.45" fill="#c3397c" stroke="#222" stroke-width="0.45"/>
<circle cx="576.4" cy="106.2" r="1.45" fill="#c3397c" stroke="#222" stroke-width="0.45"/>
<circle cx="571" cy="110.1" r="1.45" fill="#c3397c" stroke="#222" stroke-width="0.45"/>
<circle cx="565.8" cy="111.5" r="1.45" fill="#c3397c" stroke="#222" stroke-width="0.45"/>
<circle cx="576.4" cy="111" r="1.45" fill="#c3397c" stroke="#222" stroke-width="0.45"/>
<line x1="591.5" y1="73" x2="591.5" y2="78.2" stroke="#777" stroke-width="0.9" />
<line x1="591.5" y1="92.6" x2="591.5" y2="97.5" stroke="#777" stroke-width="0.9" />
<line x1="588.1" y1="73.5" x2="595.1" y2="73.5" stroke="#777" stroke-width="0.9" />
<line x1="588.1" y1="97.5" x2="595.1" y2="97.5" stroke="#777" stroke-width="0.9" />
<rect x="584.5" y="78.5" width="14" height="14" fill="#f9c48f" stroke="#555" stroke-width="0.7" />
<line x1="584.9" y1="87.5" x2="598.3" y2="87.5" stroke="#555" stroke-width="0.7" />
<circle cx="591.6" cy="72.9" r="1.45" fill="#ea7b6d" stroke="#222" stroke-width="0.45"/>
<circle cx="591.6" cy="78.2" r="1.45" fill="#ea7b6d" stroke="#222" stroke-width="0.45"/>
<circle cx="591.6" cy="82.4" r="1.45" fill="#ea7b6d" stroke="#222" stroke-width="0.45"/>
<circle cx="591.6" cy="87.3" r="1.45" fill="#ea7b6d" stroke="#222" stroke-width="0.45"/>
<circle cx="588.9" cy="91.2" r="1.45" fill="#ea7b6d" stroke="#222" stroke-width="0.45"/>
<circle cx="594.5" cy="92.9" r="1.45" fill="#ea7b6d" stroke="#222" stroke-width="0.45"/>
<circle cx="591.6" cy="97.5" r="1.45" fill="#ea7b6d" stroke="#222" stroke-width="0.45"/>
<line x1="612.5" y1="67.2" x2="612.5" y2="85.2" stroke="#555" stroke-width="0.8" />
<line x1="608.7" y1="67.5" x2="615.7" y2="67.5" stroke="#555" stroke-width="0.8" />
<line x1="608.7" y1="85.5" x2="615.7" y2="85.5" stroke="#555" stroke-width="0.8" />
<line x1="605.5" y1="67.5" x2="618.9" y2="67.5" stroke="#444" stroke-width="0.8" />
<circle cx="609.6" cy="66" r="1.45" fill="#2d56a2" stroke="#222" stroke-width="0.45"/>
<circle cx="615" cy="67.2" r="1.45" fill="#2d56a2" stroke="#222" stroke-width="0.45"/>
<circle cx="612.2" cy="85.2" r="1.45" fill="#2d56a2" stroke="#222" stroke-width="0.45"/>
<line x1="633.5" y1="70.1" x2="633.5" y2="92.6" stroke="#555" stroke-width="0.8" />
<line x1="629.5" y1="70.5" x2="636.5" y2="70.5" stroke="#555" stroke-width="0.8" />
<line x1="629.5" y1="92.5" x2="636.5" y2="92.5" stroke="#555" stroke-width="0.8" />
<line x1="626.3" y1="81.5" x2="639.7" y2="81.5" stroke="#444" stroke-width="0.8" />
<circle cx="633" cy="70.1" r="1.45" fill="#7b1746" stroke="#222" stroke-width="0.45"/>
<circle cx="633" cy="92.6" r="1.45" fill="#7b1746" stroke="#222" stroke-width="0.45"/>
<line x1="653.5" y1="87.3" x2="653.5" y2="90.5" stroke="#777" stroke-width="0.9" />
<line x1="653.5" y1="95.5" x2="653.5" y2="95.5" stroke="#777" stroke-width="0.9" />
<line x1="650.2" y1="87.5" x2="657.2" y2="87.5" stroke="#777" stroke-width="0.9" />
<line x1="650.2" y1="95.5" x2="657.2" y2="95.5" stroke="#777" stroke-width="0.9" />
<rect x="647.5" y="90.5" width="13" height="5" fill="#f5f2a3" stroke="#555" stroke-width="0.7" />
<line x1="647" y1="93.5" x2="660.4" y2="93.5" stroke="#555" stroke-width="0.7" />
<circle cx="653.7" cy="87.3" r="1.45" fill="#ece463" stroke="#222" stroke-width="0.45"/>
<circle cx="649.6" cy="92.7" r="1.45" fill="#ece463" stroke="#222" stroke-width="0.45"/>
<circle cx="653.7" cy="93.2" r="1.45" fill="#ece463" stroke="#222" stroke-width="0.45"/>
<circle cx="657.6" cy="92.5" r="1.45" fill="#ece463" stroke="#222" stroke-width="0.45"/>
<circle cx="651.5" cy="94.6" r="1.45" fill="#ece463" stroke="#222" stroke-width="0.45"/>
<circle cx="655.8" cy="94.6" r="1.45" fill="#ece463" stroke="#222" stroke-width="0.45"/>
<text x="467.6" y="71.5" font-size="11.3" text-anchor="middle" transform="rotate(-90 467.6 71.5)" fill="#1a1a1a" ># live cells</text>
<text x="512.1" y="134.8" font-size="11.5" text-anchor="end" transform="rotate(-60 512.1 134.8)" fill="#1a1a1a"><tspan>Ctrl</tspan></text>
<text x="532.3" y="134.8" font-size="11.5" text-anchor="end" transform="rotate(-60 532.3 134.8)" fill="#1a1a1a"><tspan font-style="italic">ETV2</tspan><tspan> KO</tspan></text>
<text x="553.8" y="134.8" font-size="11.5" text-anchor="end" transform="rotate(-60 553.8 134.8)" fill="#1a1a1a"><tspan font-style="italic">Smad1</tspan><tspan> KO</tspan></text>
<text x="575.2" y="134.8" font-size="11.5" text-anchor="end" transform="rotate(-60 575.2 134.8)" fill="#1a1a1a"><tspan font-style="italic">Ldb1</tspan><tspan> KO</tspan></text>
<text x="595.5" y="134.8" font-size="11.5" text-anchor="end" transform="rotate(-60 595.5 134.8)" fill="#1a1a1a"><tspan font-style="italic">Six4</tspan><tspan> KO</tspan></text>
<text x="617.1" y="134.8" font-size="11.5" text-anchor="end" transform="rotate(-60 617.1 134.8)" fill="#1a1a1a"><tspan font-style="italic">Ep300</tspan><tspan> KO</tspan></text>
<text x="639.5" y="134.8" font-size="11.5" text-anchor="end" transform="rotate(-60 639.5 134.8)" fill="#1a1a1a"><tspan font-style="italic">Med18</tspan><tspan>&#160; KO</tspan></text>
<text x="658.5" y="134.8" font-size="11.5" text-anchor="end" transform="rotate(-60 658.5 134.8)" fill="#1a1a1a"><tspan font-style="italic">Hira</tspan><tspan>&#160; KO</tspan></text>
<text x="-1" y="360.6" font-size="11.8" text-anchor="start" fill="#111" >e</text>
<line x1="32.5" y1="381.1" x2="32.5" y2="499.5" stroke="#2a2a2a" stroke-width="0.9" />
<line x1="30.9" y1="381.5" x2="32.7" y2="381.5" stroke="#2a2a2a" stroke-width="0.9" />
<text x="27.3" y="384.52" font-size="8.4" text-anchor="end" fill="#333" >80</text>
<line x1="30.9" y1="410.5" x2="32.7" y2="410.5" stroke="#2a2a2a" stroke-width="0.9" />
<text x="27.3" y="413.92" font-size="8.4" text-anchor="end" fill="#333" >60</text>
<line x1="30.9" y1="440.5" x2="32.7" y2="440.5" stroke="#2a2a2a" stroke-width="0.9" />
<text x="27.3" y="443.32" font-size="8.4" text-anchor="end" fill="#333" >40</text>
<line x1="30.9" y1="469.5" x2="32.7" y2="469.5" stroke="#2a2a2a" stroke-width="0.9" />
<text x="27.3" y="472.72" font-size="8.4" text-anchor="end" fill="#333" >20</text>
<line x1="30.9" y1="499.5" x2="32.7" y2="499.5" stroke="#2a2a2a" stroke-width="0.9" />
<text x="27.3" y="502.12" font-size="8.4" text-anchor="end" fill="#333" >0</text>
<line x1="32.7" y1="499.5" x2="149.8" y2="499.5" stroke="#2a2a2a" stroke-width="0.9" />
<line x1="33" y1="441.1" x2="151.5" y2="441.1" stroke="#333" stroke-width="0.9" stroke-dasharray="1.1 1.1"/>
<line x1="44.4" y1="428.3" x2="44.4" y2="434.6" stroke="#a0a0a0" stroke-width="1.3" />
<line x1="44.4" y1="452.1" x2="44.4" y2="456.1" stroke="#a0a0a0" stroke-width="1.3" />
<line x1="40.2" y1="428.3" x2="48.6" y2="428.3" stroke="#a0a0a0" stroke-width="1.3" />
<line x1="40.2" y1="456.1" x2="48.6" y2="456.1" stroke="#a0a0a0" stroke-width="1.3" />
<rect x="36.5" y="434.5" width="16" height="18" fill="#bdbdbd" stroke="#555" stroke-width="0.7" />
<line x1="36.8" y1="442.5" x2="52" y2="442.5" stroke="#555" stroke-width="0.7" />
<circle cx="40.9" cy="429.9" r="1.85" fill="#111" stroke="#222" stroke-width="0.6"/>
<circle cx="46.7" cy="428.3" r="1.85" fill="#111" stroke="#222" stroke-width="0.6"/>
<circle cx="44.4" cy="432.3" r="1.85" fill="#111" stroke="#222" stroke-width="0.6"/>
<circle cx="38.5" cy="438.1" r="1.85" fill="#111" stroke="#222" stroke-width="0.6"/>
<circle cx="44.4" cy="437.6" r="1.85" fill="#111" stroke="#222" stroke-width="0.6"/>
<circle cx="50.2" cy="438.1" r="1.85" fill="#111" stroke="#222" stroke-width="0.6"/>
<circle cx="39.7" cy="442.8" r="1.85" fill="#111" stroke="#222" stroke-width="0.6"/>
<circle cx="44.4" cy="444" r="1.85" fill="#111" stroke="#222" stroke-width="0.6"/>
<circle cx="50.2" cy="444" r="1.85" fill="#111" stroke="#222" stroke-width="0.6"/>
<circle cx="38.5" cy="447.5" r="1.85" fill="#111" stroke="#222" stroke-width="0.6"/>
<circle cx="45.5" cy="447.9" r="1.85" fill="#111" stroke="#222" stroke-width="0.6"/>
<circle cx="40.9" cy="455.6" r="1.85" fill="#111" stroke="#222" stroke-width="0.6"/>
<circle cx="47.9" cy="455.6" r="1.85" fill="#111" stroke="#222" stroke-width="0.6"/>
<line x1="67.7" y1="391.9" x2="67.7" y2="415.9" stroke="#a0a0a0" stroke-width="1.3" />
<line x1="67.7" y1="429.5" x2="67.7" y2="433.4" stroke="#a0a0a0" stroke-width="1.3" />
<line x1="63.5" y1="391.9" x2="71.9" y2="391.9" stroke="#a0a0a0" stroke-width="1.3" />
<line x1="63.5" y1="433.4" x2="71.9" y2="433.4" stroke="#a0a0a0" stroke-width="1.3" />
<rect x="60.5" y="415.5" width="15" height="14" fill="#c27d98" stroke="#555" stroke-width="0.7" />
<line x1="60.1" y1="422.5" x2="75.3" y2="422.5" stroke="#555" stroke-width="0.7" />
<circle cx="67.7" cy="391.9" r="1.85" fill="#8f1753" stroke="#222" stroke-width="0.6"/>
<circle cx="67.7" cy="401.3" r="1.85" fill="#8f1753" stroke="#222" stroke-width="0.6"/>
<circle cx="62" cy="421.5" r="1.85" fill="#8f1753" stroke="#222" stroke-width="0.6"/>
<circle cx="65.5" cy="420.5" r="1.85" fill="#8f1753" stroke="#222" stroke-width="0.6"/>
<circle cx="69" cy="422" r="1.85" fill="#8f1753" stroke="#222" stroke-width="0.6"/>
<circle cx="73" cy="420.8" r="1.85" fill="#8f1753" stroke="#222" stroke-width="0.6"/>
<circle cx="62" cy="428.8" r="1.85" fill="#8f1753" stroke="#222" stroke-width="0.6"/>
<circle cx="70" cy="430.5" r="1.85" fill="#8f1753" stroke="#222" stroke-width="0.6"/>
<circle cx="65.5" cy="433.4" r="1.85" fill="#8f1753" stroke="#222" stroke-width="0.6"/>
<line x1="91.8" y1="427.6" x2="91.8" y2="435.3" stroke="#a0a0a0" stroke-width="1.3" />
<line x1="91.8" y1="462.2" x2="91.8" y2="473.6" stroke="#a0a0a0" stroke-width="1.3" />
<line x1="87.6" y1="427.6" x2="96" y2="427.6" stroke="#a0a0a0" stroke-width="1.3" />
<line x1="87.6" y1="473.6" x2="96" y2="473.6" stroke="#a0a0a0" stroke-width="1.3" />
<rect x="84.5" y="435.5" width="15" height="27" fill="#c4c28e" stroke="#555" stroke-width="0.7" />
<line x1="84.2" y1="460.5" x2="99.4" y2="460.5" stroke="#555" stroke-width="0.7" />
<circle cx="89.6" cy="427.6" r="1.85" fill="#8d8b2c" stroke="#222" stroke-width="0.6"/>
<circle cx="94.2" cy="427.6" r="1.85" fill="#8d8b2c" stroke="#222" stroke-width="0.6"/>
<circle cx="91.8" cy="441.6" r="1.85" fill="#8d8b2c" stroke="#222" stroke-width="0.6"/>
<circle cx="87.6" cy="457.3" r="1.85" fill="#8d8b2c" stroke="#222" stroke-width="0.6"/>
<circle cx="91.8" cy="457.6" r="1.85" fill="#8d8b2c" stroke="#222" stroke-width="0.6"/>
<circle cx="96.2" cy="457.3" r="1.85" fill="#8d8b2c" stroke="#222" stroke-width="0.6"/>
<circle cx="91.8" cy="462.6" r="1.85" fill="#8d8b2c" stroke="#222" stroke-width="0.6"/>
<circle cx="91.8" cy="473.6" r="1.85" fill="#8d8b2c" stroke="#222" stroke-width="0.6"/>
<line x1="115.2" y1="428.3" x2="115.2" y2="428.3" stroke="#a0a0a0" stroke-width="1.3" />
<line x1="115.2" y1="446.2" x2="115.2" y2="459.3" stroke="#a0a0a0" stroke-width="1.3" />
<line x1="111" y1="428.3" x2="119.4" y2="428.3" stroke="#a0a0a0" stroke-width="1.3" />
<line x1="111" y1="459.3" x2="119.4" y2="459.3" stroke="#a0a0a0" stroke-width="1.3" />
<rect x="107.5" y="428.5" width="15" height="18" fill="#aadde9" stroke="#555" stroke-width="0.7" />
<line x1="107.6" y1="436.5" x2="122.8" y2="436.5" stroke="#555" stroke-width="0.7" />
<circle cx="109" cy="429" r="1.85" fill="#40bedb" stroke="#222" stroke-width="0.6"/>
<circle cx="115.2" cy="429" r="1.85" fill="#40bedb" stroke="#222" stroke-width="0.6"/>
<circle cx="121.3" cy="429" r="1.85" fill="#40bedb" stroke="#222" stroke-width="0.6"/>
<circle cx="109" cy="436.2" r="1.85" fill="#40bedb" stroke="#222" stroke-width="0.6"/>
<circle cx="121.3" cy="435.2" r="1.85" fill="#40bedb" stroke="#222" stroke-width="0.6"/>
<circle cx="115.2" cy="440" r="1.85" fill="#40bedb" stroke="#222" stroke-width="0.6"/>
<circle cx="115.2" cy="443.8" r="1.85" fill="#40bedb" stroke="#222" stroke-width="0.6"/>
<circle cx="115.2" cy="448.8" r="1.85" fill="#40bedb" stroke="#222" stroke-width="0.6"/>
<circle cx="115.2" cy="459.3" r="1.85" fill="#40bedb" stroke="#222" stroke-width="0.6"/>
<line x1="139" y1="488" x2="139" y2="489" stroke="#a0a0a0" stroke-width="1.3" />
<line x1="139" y1="493.6" x2="139" y2="494" stroke="#a0a0a0" stroke-width="1.3" />
<line x1="134.8" y1="488" x2="143.2" y2="488" stroke="#a0a0a0" stroke-width="1.3" />
<line x1="134.8" y1="494" x2="143.2" y2="494" stroke="#a0a0a0" stroke-width="1.3" />
<rect x="131.5" y="489.5" width="15" height="4" fill="#7089c3" stroke="#555" stroke-width="0.7" />
<line x1="131.6" y1="491.5" x2="146.4" y2="491.5" stroke="#555" stroke-width="0.7" />
<circle cx="132.6" cy="490" r="1.85" fill="#1e5ca8" stroke="#222" stroke-width="0.6"/>
<circle cx="138.8" cy="490.6" r="1.85" fill="#1e5ca8" stroke="#222" stroke-width="0.6"/>
<circle cx="144.9" cy="487.6" r="1.85" fill="#1e5ca8" stroke="#222" stroke-width="0.6"/>
<circle cx="132.6" cy="494" r="1.85" fill="#1e5ca8" stroke="#222" stroke-width="0.6"/>
<circle cx="144.9" cy="493.6" r="1.85" fill="#1e5ca8" stroke="#222" stroke-width="0.6"/>
<path d="M63.75,371.25 L64.35,372.87 L66.08,372.94 L64.73,374.02 L65.19,375.68 L63.75,374.73 L62.31,375.68 L62.77,374.02 L61.42,372.94 L63.15,372.87ZM68.3,371.25 L68.9,372.87 L70.63,372.94 L69.28,374.02 L69.74,375.68 L68.3,374.73 L66.86,375.68 L67.32,374.02 L65.97,372.94 L67.7,372.87ZM72.85,371.25 L73.45,372.87 L75.18,372.94 L73.83,374.02 L74.29,375.68 L72.85,374.73 L71.41,375.68 L71.87,374.02 L70.52,372.94 L72.25,372.87Z" fill="#222"/>
<path d="M134.08,374.55 L134.68,376.17 L136.41,376.24 L135.05,377.32 L135.52,378.98 L134.08,378.03 L132.63,378.98 L133.1,377.32 L131.74,376.24 L133.47,376.17ZM138.63,374.55 L139.23,376.17 L140.96,376.24 L139.6,377.32 L140.07,378.98 L138.63,378.03 L137.18,378.98 L137.65,377.32 L136.29,376.24 L138.02,376.17ZM143.18,374.55 L143.78,376.17 L145.51,376.24 L144.15,377.32 L144.62,378.98 L143.18,378.03 L141.73,378.98 L142.2,377.32 L140.84,376.24 L142.57,376.17ZM147.73,374.55 L148.33,376.17 L150.06,376.24 L148.7,377.32 L149.17,378.98 L147.73,378.03 L146.28,378.98 L146.75,377.32 L145.39,376.24 L147.12,376.17Z" fill="#222"/>
<text x="9.4" y="439.3" font-size="11.4" text-anchor="middle" transform="rotate(-90 9.4 439.3)" fill="#1a1a1a" >% F_SP HEM</text>
<text x="47.8" y="505.2" font-size="11.5" text-anchor="end" transform="rotate(-60 47.8 505.2)" fill="#1a1a1a"><tspan>Ctrl</tspan></text>
<text x="67.4" y="505.5" font-size="11.5" text-anchor="end" transform="rotate(-60 67.4 505.5)" fill="#1a1a1a"><tspan font-style="italic">Zbtb7b</tspan><tspan> KO</tspan></text>
<text x="92.8" y="505.5" font-size="11.5" text-anchor="end" transform="rotate(-60 92.8 505.5)" fill="#1a1a1a"><tspan font-style="italic">Cop1</tspan><tspan> KO</tspan></text>
<text x="119" y="505.5" font-size="11.5" text-anchor="end" transform="rotate(-60 119 505.5)" fill="#1a1a1a"><tspan font-style="italic">Zic3</tspan><tspan> KO</tspan></text>
<text x="142.2" y="505.5" font-size="11.5" text-anchor="end" transform="rotate(-60 142.2 505.5)" fill="#1a1a1a"><tspan font-style="italic">Npm1</tspan><tspan> KO</tspan></text>
<text x="391.7" y="360.3" font-size="11.8" text-anchor="start" fill="#111" >g</text>
<line x1="432.5" y1="376.1" x2="432.5" y2="498.4" stroke="#555" stroke-width="0.9" />
<line x1="430.2" y1="376.5" x2="432" y2="376.5" stroke="#555" stroke-width="0.9" />
<text x="426.2" y="379.52" font-size="8.4" text-anchor="end" fill="#333" >2.0</text>
<line x1="430.2" y1="406.5" x2="432" y2="406.5" stroke="#555" stroke-width="0.9" />
<text x="426.2" y="409.92" font-size="8.4" text-anchor="end" fill="#333" >1.5</text>
<line x1="430.2" y1="437.5" x2="432" y2="437.5" stroke="#555" stroke-width="0.9" />
<text x="426.2" y="440.32" font-size="8.4" text-anchor="end" fill="#333" >1.0</text>
<line x1="430.2" y1="467.5" x2="432" y2="467.5" stroke="#555" stroke-width="0.9" />
<text x="426.2" y="470.62" font-size="8.4" text-anchor="end" fill="#333" >0.5</text>
<line x1="430.2" y1="498.5" x2="432" y2="498.5" stroke="#555" stroke-width="0.9" />
<text x="426.2" y="501.02" font-size="8.4" text-anchor="end" fill="#333" >0.0</text>
<line x1="432" y1="498.5" x2="553.9" y2="498.5" stroke="#555" stroke-width="0.9" />
<line x1="432.5" y1="463.7" x2="553.9" y2="463.7" stroke="#333" stroke-width="0.9" stroke-dasharray="1.1 1.1"/>
<line x1="444.4" y1="440.8" x2="444.4" y2="450.6" stroke="#8a8a8a" stroke-width="1.1" />
<line x1="444.4" y1="469.3" x2="444.4" y2="473" stroke="#8a8a8a" stroke-width="1.1" />
<line x1="440.2" y1="440.8" x2="448.6" y2="440.8" stroke="#8a8a8a" stroke-width="1.1" />
<line x1="440.2" y1="473" x2="448.6" y2="473" stroke="#8a8a8a" stroke-width="1.1" />
<rect x="436.5" y="450.5" width="16" height="19" fill="#bdbdbd" stroke="#555" stroke-width="0.7" />
<line x1="436.5" y1="461.5" x2="452.3" y2="461.5" stroke="#555" stroke-width="0.7" />
<circle cx="442" cy="443.1" r="1.85" fill="#111" stroke="#222" stroke-width="0.55"/>
<circle cx="446.7" cy="441.2" r="1.85" fill="#111" stroke="#222" stroke-width="0.55"/>
<circle cx="444.4" cy="447.8" r="1.85" fill="#111" stroke="#222" stroke-width="0.55"/>
<circle cx="438.5" cy="454.8" r="1.85" fill="#111" stroke="#222" stroke-width="0.55"/>
<circle cx="444.4" cy="456.7" r="1.85" fill="#111" stroke="#222" stroke-width="0.55"/>
<circle cx="449.1" cy="454.3" r="1.85" fill="#111" stroke="#222" stroke-width="0.55"/>
<circle cx="440.9" cy="460.6" r="1.85" fill="#111" stroke="#222" stroke-width="0.55"/>
<circle cx="446.7" cy="461.8" r="1.85" fill="#111" stroke="#222" stroke-width="0.55"/>
<circle cx="439.7" cy="465.3" r="1.85" fill="#111" stroke="#222" stroke-width="0.55"/>
<circle cx="450.2" cy="464.1" r="1.85" fill="#111" stroke="#222" stroke-width="0.55"/>
<circle cx="440.9" cy="472.3" r="1.85" fill="#111" stroke="#222" stroke-width="0.55"/>
<circle cx="445.5" cy="472.3" r="1.85" fill="#111" stroke="#222" stroke-width="0.55"/>
<circle cx="449.1" cy="473" r="1.85" fill="#111" stroke="#222" stroke-width="0.55"/>
<line x1="468.9" y1="377.2" x2="468.9" y2="416.2" stroke="#8a8a8a" stroke-width="1.1" />
<line x1="468.9" y1="443.6" x2="468.9" y2="449.6" stroke="#8a8a8a" stroke-width="1.1" />
<line x1="464.7" y1="377.2" x2="473.1" y2="377.2" stroke="#8a8a8a" stroke-width="1.1" />
<line x1="464.7" y1="449.6" x2="473.1" y2="449.6" stroke="#8a8a8a" stroke-width="1.1" />
<rect x="461.5" y="416.5" width="15" height="27" fill="#c27d98" stroke="#555" stroke-width="0.7" />
<line x1="461" y1="432.5" x2="476.8" y2="432.5" stroke="#555" stroke-width="0.7" />
<circle cx="468.9" cy="377.2" r="1.85" fill="#8f1753" stroke="#222" stroke-width="0.55"/>
<circle cx="462.6" cy="429.6" r="1.85" fill="#8f1753" stroke="#222" stroke-width="0.55"/>
<circle cx="466.6" cy="431.4" r="1.85" fill="#8f1753" stroke="#222" stroke-width="0.55"/>
<circle cx="470.8" cy="431.9" r="1.85" fill="#8f1753" stroke="#222" stroke-width="0.55"/>
<circle cx="474.7" cy="429.1" r="1.85" fill="#8f1753" stroke="#222" stroke-width="0.55"/>
<circle cx="464.9" cy="440.3" r="1.85" fill="#8f1753" stroke="#222" stroke-width="0.55"/>
<circle cx="470.8" cy="440.3" r="1.85" fill="#8f1753" stroke="#222" stroke-width="0.55"/>
<circle cx="468.4" cy="445.9" r="1.85" fill="#8f1753" stroke="#222" stroke-width="0.55"/>
<circle cx="468.4" cy="449.6" r="1.85" fill="#8f1753" stroke="#222" stroke-width="0.55"/>
<line x1="493.4" y1="413.2" x2="493.4" y2="440.8" stroke="#8a8a8a" stroke-width="1.1" />
<line x1="493.4" y1="478.6" x2="493.4" y2="485.6" stroke="#8a8a8a" stroke-width="1.1" />
<line x1="489.2" y1="413.2" x2="497.6" y2="413.2" stroke="#8a8a8a" stroke-width="1.1" />
<line x1="489.2" y1="485.6" x2="497.6" y2="485.6" stroke="#8a8a8a" stroke-width="1.1" />
<rect x="485.5" y="440.5" width="16" height="38" fill="#c4c28e" stroke="#555" stroke-width="0.7" />
<line x1="485.5" y1="467.5" x2="501.3" y2="467.5" stroke="#555" stroke-width="0.7" />
<circle cx="493.4" cy="413.2" r="1.85" fill="#8d8b2c" stroke="#222" stroke-width="0.55"/>
<circle cx="489.9" cy="440.8" r="1.85" fill="#8d8b2c" stroke="#222" stroke-width="0.55"/>
<circle cx="496.9" cy="440.8" r="1.85" fill="#8d8b2c" stroke="#222" stroke-width="0.55"/>
<circle cx="493.4" cy="459" r="1.85" fill="#8d8b2c" stroke="#222" stroke-width="0.55"/>
<circle cx="487.6" cy="476.5" r="1.85" fill="#8d8b2c" stroke="#222" stroke-width="0.55"/>
<circle cx="499.3" cy="476.5" r="1.85" fill="#8d8b2c" stroke="#222" stroke-width="0.55"/>
<circle cx="493" cy="479.3" r="1.85" fill="#8d8b2c" stroke="#222" stroke-width="0.55"/>
<circle cx="493.4" cy="485.6" r="1.85" fill="#8d8b2c" stroke="#222" stroke-width="0.55"/>
<line x1="517.6" y1="441.2" x2="517.6" y2="441.2" stroke="#8a8a8a" stroke-width="1.1" />
<line x1="517.6" y1="463.4" x2="517.6" y2="475.3" stroke="#8a8a8a" stroke-width="1.1" />
<line x1="513.4" y1="441.2" x2="521.8" y2="441.2" stroke="#8a8a8a" stroke-width="1.1" />
<line x1="513.4" y1="475.3" x2="521.8" y2="475.3" stroke="#8a8a8a" stroke-width="1.1" />
<rect x="509.5" y="441.5" width="16" height="22" fill="#aadde9" stroke="#555" stroke-width="0.7" />
<line x1="509.7" y1="452.5" x2="525.5" y2="452.5" stroke="#555" stroke-width="0.7" />
<circle cx="511.7" cy="442.6" r="1.85" fill="#40bedb" stroke="#222" stroke-width="0.55"/>
<circle cx="517.5" cy="443.1" r="1.85" fill="#40bedb" stroke="#222" stroke-width="0.55"/>
<circle cx="523.3" cy="442.1" r="1.85" fill="#40bedb" stroke="#222" stroke-width="0.55"/>
<circle cx="513.3" cy="452" r="1.85" fill="#40bedb" stroke="#222" stroke-width="0.55"/>
<circle cx="520.3" cy="451.3" r="1.85" fill="#40bedb" stroke="#222" stroke-width="0.55"/>
<circle cx="517.5" cy="459" r="1.85" fill="#40bedb" stroke="#222" stroke-width="0.55"/>
<circle cx="517.5" cy="466.5" r="1.85" fill="#40bedb" stroke="#222" stroke-width="0.55"/>
<circle cx="512.1" cy="461.8" r="1.85" fill="#40bedb" stroke="#222" stroke-width="0.55"/>
<circle cx="523.8" cy="460.6" r="1.85" fill="#40bedb" stroke="#222" stroke-width="0.55"/>
<circle cx="517.5" cy="475.3" r="1.85" fill="#40bedb" stroke="#222" stroke-width="0.55"/>
<line x1="541.4" y1="452" x2="541.4" y2="455.3" stroke="#8a8a8a" stroke-width="1.1" />
<line x1="541.4" y1="471.8" x2="541.4" y2="472.5" stroke="#8a8a8a" stroke-width="1.1" />
<line x1="537.2" y1="452" x2="545.6" y2="452" stroke="#8a8a8a" stroke-width="1.1" />
<line x1="537.2" y1="472.5" x2="545.6" y2="472.5" stroke="#8a8a8a" stroke-width="1.1" />
<rect x="533.5" y="455.5" width="16" height="16" fill="#7089c3" stroke="#555" stroke-width="0.7" />
<line x1="533.5" y1="461.5" x2="549.3" y2="461.5" stroke="#555" stroke-width="0.7" />
<circle cx="541.3" cy="452" r="1.85" fill="#1e5ca8" stroke="#222" stroke-width="0.55"/>
<circle cx="542.5" cy="458.3" r="1.85" fill="#1e5ca8" stroke="#222" stroke-width="0.55"/>
<circle cx="541.3" cy="461.3" r="1.85" fill="#1e5ca8" stroke="#222" stroke-width="0.55"/>
<circle cx="537.8" cy="473" r="1.85" fill="#1e5ca8" stroke="#222" stroke-width="0.55"/>
<circle cx="545.5" cy="471.1" r="1.85" fill="#1e5ca8" stroke="#222" stroke-width="0.55"/>
<path d="M466.93,366.85 L467.53,368.47 L469.26,368.54 L467.9,369.62 L468.37,371.28 L466.93,370.33 L465.48,371.28 L465.95,369.62 L464.59,368.54 L466.32,368.47ZM471.48,366.85 L472.08,368.47 L473.81,368.54 L472.45,369.62 L472.92,371.28 L471.48,370.33 L470.03,371.28 L470.5,369.62 L469.14,368.54 L470.87,368.47Z" fill="#222"/>
<text x="402" y="437.3" font-size="12" text-anchor="middle" transform="rotate(-90 402 437.3)" fill="#1a1a1a" >Ratio</text>
<text x="411.8" y="436" font-size="8.6" text-anchor="middle" transform="rotate(-90 411.8 436)" fill="#1a1a1a" >(F_SP HEM/ total FLK1+)</text>
<text x="449.7" y="506" font-size="11.5" text-anchor="end" transform="rotate(-60 449.7 506)" fill="#1a1a1a"><tspan>Ctrl</tspan></text>
<text x="469.7" y="505.5" font-size="11.5" text-anchor="end" transform="rotate(-60 469.7 505.5)" fill="#1a1a1a"><tspan font-style="italic">Zbtb7b</tspan><tspan> KO</tspan></text>
<text x="494" y="505.5" font-size="11.5" text-anchor="end" transform="rotate(-60 494 505.5)" fill="#1a1a1a"><tspan font-style="italic">Cop1</tspan><tspan> KO</tspan></text>
<text x="520.3" y="505.5" font-size="11.5" text-anchor="end" transform="rotate(-60 520.3 505.5)" fill="#1a1a1a"><tspan font-style="italic">Zic3</tspan><tspan> KO</tspan></text>
<text x="545.6" y="505.5" font-size="11.5" text-anchor="end" transform="rotate(-60 545.6 505.5)" fill="#1a1a1a"><tspan font-style="italic">Npm1</tspan><tspan> KO</tspan></text>
<text x="553.1" y="362.6" font-size="11.8" text-anchor="start" fill="#111" >h</text>
<line x1="589.5" y1="374.8" x2="589.5" y2="496.6" stroke="#666" stroke-width="0.9" />
<line x1="589.8" y1="496.5" x2="684.5" y2="496.5" stroke="#666" stroke-width="0.9" />
<line x1="588.2" y1="374.5" x2="589.8" y2="374.5" stroke="#666" stroke-width="0.9" />
<line x1="588.2" y1="415.5" x2="589.8" y2="415.5" stroke="#666" stroke-width="0.9" />
<line x1="588.2" y1="456.5" x2="589.8" y2="456.5" stroke="#666" stroke-width="0.9" />
<text x="586.2" y="377.4" font-size="6.6" text-anchor="end" fill="#333">3×10<tspan dy="-2.7" font-size="4.95">7</tspan></text>
<text x="586.2" y="418.1" font-size="6.6" text-anchor="end" fill="#333">2×10<tspan dy="-2.7" font-size="4.95">7</tspan></text>
<text x="586.2" y="458.6" font-size="6.6" text-anchor="end" fill="#333">1×10<tspan dy="-2.7" font-size="4.95">7</tspan></text>
<text x="587.6" y="498.9" font-size="6.6" text-anchor="end" fill="#333" >0</text>
<line x1="590" y1="454.3" x2="685" y2="454.3" stroke="#333" stroke-width="0.9" stroke-dasharray="1.1 1.1"/>
<line x1="599.5" y1="383.4" x2="599.5" y2="423.7" stroke="#777" stroke-width="0.9" />
<line x1="599.5" y1="470.3" x2="599.5" y2="479.5" stroke="#777" stroke-width="0.9" />
<line x1="596.2" y1="383.5" x2="603" y2="383.5" stroke="#777" stroke-width="0.9" />
<line x1="596.2" y1="479.5" x2="603" y2="479.5" stroke="#777" stroke-width="0.9" />
<rect x="593.5" y="423.5" width="12" height="47" fill="#bdbdbd" stroke="#555" stroke-width="0.7" />
<line x1="593.5" y1="454.5" x2="605.7" y2="454.5" stroke="#555" stroke-width="0.7" />
<circle cx="599.6" cy="383.4" r="1.45" fill="#111" stroke="#222" stroke-width="0.5"/>
<circle cx="599.6" cy="411.4" r="1.45" fill="#111" stroke="#222" stroke-width="0.5"/>
<circle cx="596.1" cy="424.3" r="1.45" fill="#111" stroke="#222" stroke-width="0.5"/>
<circle cx="602.8" cy="423.1" r="1.45" fill="#111" stroke="#222" stroke-width="0.5"/>
<circle cx="599.6" cy="447.2" r="1.45" fill="#111" stroke="#222" stroke-width="0.5"/>
<circle cx="596.1" cy="454.7" r="1.45" fill="#111" stroke="#222" stroke-width="0.5"/>
<circle cx="602.8" cy="454.3" r="1.45" fill="#111" stroke="#222" stroke-width="0.5"/>
<circle cx="596.1" cy="466.6" r="1.45" fill="#111" stroke="#222" stroke-width="0.5"/>
<circle cx="602.8" cy="468.6" r="1.45" fill="#111" stroke="#222" stroke-width="0.5"/>
<circle cx="599.2" cy="471.7" r="1.45" fill="#111" stroke="#222" stroke-width="0.5"/>
<circle cx="599.6" cy="474.2" r="1.45" fill="#111" stroke="#222" stroke-width="0.5"/>
<circle cx="599.6" cy="479.5" r="1.45" fill="#111" stroke="#222" stroke-width="0.5"/>
<line x1="618.5" y1="401.8" x2="618.5" y2="411.4" stroke="#777" stroke-width="0.9" />
<line x1="618.5" y1="460.1" x2="618.5" y2="472.7" stroke="#777" stroke-width="0.9" />
<line x1="615.2" y1="401.5" x2="622" y2="401.5" stroke="#777" stroke-width="0.9" />
<line x1="615.2" y1="472.5" x2="622" y2="472.5" stroke="#777" stroke-width="0.9" />
<rect x="612.5" y="411.5" width="12" height="49" fill="#c27d98" stroke="#555" stroke-width="0.7" />
<line x1="612.5" y1="457.5" x2="624.7" y2="457.5" stroke="#555" stroke-width="0.7" />
<circle cx="618.6" cy="401.8" r="1.45" fill="#8f1753" stroke="#222" stroke-width="0.5"/>
<circle cx="615.5" cy="411.4" r="1.45" fill="#8f1753" stroke="#222" stroke-width="0.5"/>
<circle cx="621.6" cy="411.4" r="1.45" fill="#8f1753" stroke="#222" stroke-width="0.5"/>
<circle cx="618.6" cy="432.9" r="1.45" fill="#8f1753" stroke="#222" stroke-width="0.5"/>
<circle cx="613.5" cy="457.4" r="1.45" fill="#8f1753" stroke="#222" stroke-width="0.5"/>
<circle cx="616.5" cy="459" r="1.45" fill="#8f1753" stroke="#222" stroke-width="0.5"/>
<circle cx="620.2" cy="459" r="1.45" fill="#8f1753" stroke="#222" stroke-width="0.5"/>
<circle cx="623.7" cy="457.4" r="1.45" fill="#8f1753" stroke="#222" stroke-width="0.5"/>
<circle cx="618.6" cy="472.7" r="1.45" fill="#8f1753" stroke="#222" stroke-width="0.5"/>
<line x1="637.5" y1="390.4" x2="637.5" y2="407.3" stroke="#777" stroke-width="0.9" />
<line x1="637.5" y1="452.3" x2="637.5" y2="476.8" stroke="#777" stroke-width="0.9" />
<line x1="634.2" y1="390.5" x2="641" y2="390.5" stroke="#777" stroke-width="0.9" />
<line x1="634.2" y1="476.5" x2="641" y2="476.5" stroke="#777" stroke-width="0.9" />
<rect x="631.5" y="407.5" width="12" height="45" fill="#c4c28e" stroke="#555" stroke-width="0.7" />
<line x1="631.5" y1="428.5" x2="643.7" y2="428.5" stroke="#555" stroke-width="0.7" />
<circle cx="637.6" cy="390.4" r="1.45" fill="#8d8b2c" stroke="#222" stroke-width="0.5"/>
<circle cx="634.5" cy="407.3" r="1.45" fill="#8d8b2c" stroke="#222" stroke-width="0.5"/>
<circle cx="641" cy="407.3" r="1.45" fill="#8d8b2c" stroke="#222" stroke-width="0.5"/>
<circle cx="637.6" cy="412" r="1.45" fill="#8d8b2c" stroke="#222" stroke-width="0.5"/>
<circle cx="637.6" cy="444.1" r="1.45" fill="#8d8b2c" stroke="#222" stroke-width="0.5"/>
<circle cx="637.6" cy="448.2" r="1.45" fill="#8d8b2c" stroke="#222" stroke-width="0.5"/>
<circle cx="637.6" cy="454.3" r="1.45" fill="#8d8b2c" stroke="#222" stroke-width="0.5"/>
<circle cx="637.6" cy="476.8" r="1.45" fill="#8d8b2c" stroke="#222" stroke-width="0.5"/>
<line x1="656.5" y1="400.2" x2="656.5" y2="431.5" stroke="#777" stroke-width="0.9" />
<line x1="656.5" y1="466.6" x2="656.5" y2="475.4" stroke="#777" stroke-width="0.9" />
<line x1="653" y1="400.5" x2="659.8" y2="400.5" stroke="#777" stroke-width="0.9" />
<line x1="653" y1="475.5" x2="659.8" y2="475.5" stroke="#777" stroke-width="0.9" />
<rect x="650.5" y="431.5" width="12" height="35" fill="#aadde9" stroke="#555" stroke-width="0.7" />
<line x1="650.3" y1="455.5" x2="662.5" y2="455.5" stroke="#555" stroke-width="0.7" />
<circle cx="656.4" cy="400.2" r="1.45" fill="#40bedb" stroke="#222" stroke-width="0.5"/>
<circle cx="656.4" cy="421.6" r="1.45" fill="#40bedb" stroke="#222" stroke-width="0.5"/>
<circle cx="656.4" cy="440.6" r="1.45" fill="#40bedb" stroke="#222" stroke-width="0.5"/>
<circle cx="656.4" cy="449.2" r="1.45" fill="#40bedb" stroke="#222" stroke-width="0.5"/>
<circle cx="656.4" cy="455.4" r="1.45" fill="#40bedb" stroke="#222" stroke-width="0.5"/>
<circle cx="653.3" cy="461.5" r="1.45" fill="#40bedb" stroke="#222" stroke-width="0.5"/>
<circle cx="659.5" cy="460.5" r="1.45" fill="#40bedb" stroke="#222" stroke-width="0.5"/>
<circle cx="656.4" cy="472.7" r="1.45" fill="#40bedb" stroke="#222" stroke-width="0.5"/>
<circle cx="656.4" cy="475.4" r="1.45" fill="#40bedb" stroke="#222" stroke-width="0.5"/>
<circle cx="670.1" cy="496.3" r="1.5" fill="#1e5ca8" stroke="#123" stroke-width="0.45"/>
<circle cx="672.7" cy="495.8" r="1.5" fill="#1e5ca8" stroke="#123" stroke-width="0.45"/>
<circle cx="675.8" cy="495.8" r="1.5" fill="#1e5ca8" stroke="#123" stroke-width="0.45"/>
<circle cx="678.9" cy="496.3" r="1.5" fill="#1e5ca8" stroke="#123" stroke-width="0.45"/>
<path d="M674.52,367.35 L675.13,368.97 L676.86,369.04 L675.5,370.12 L675.97,371.78 L674.52,370.83 L673.08,371.78 L673.55,370.12 L672.19,369.04 L673.92,368.97ZM679.07,367.35 L679.68,368.97 L681.41,369.04 L680.05,370.12 L680.52,371.78 L679.07,370.83 L677.63,371.78 L678.1,370.12 L676.74,369.04 L678.47,368.97Z" fill="#222"/>
<text x="565.2" y="438.5" font-size="11.7" text-anchor="middle" transform="rotate(-90 565.2 438.5)" fill="#1a1a1a" ># live cells</text>
<text x="604" y="505" font-size="11.5" text-anchor="end" transform="rotate(-60 604 505)" fill="#1a1a1a"><tspan>Ctrl</tspan></text>
<text x="619" y="505" font-size="11.5" text-anchor="end" transform="rotate(-60 619 505)" fill="#1a1a1a"><tspan font-style="italic">Zbtb7b</tspan><tspan> KO</tspan></text>
<text x="639.2" y="505" font-size="11.5" text-anchor="end" transform="rotate(-60 639.2 505)" fill="#1a1a1a"><tspan font-style="italic">Cop1</tspan><tspan> KO</tspan></text>
<text x="659.2" y="505" font-size="11.5" text-anchor="end" transform="rotate(-60 659.2 505)" fill="#1a1a1a"><tspan font-style="italic">Zic3</tspan><tspan> KO</tspan></text>
<text x="679.9" y="505" font-size="11.5" text-anchor="end" transform="rotate(-60 679.9 505)" fill="#1a1a1a"><tspan font-style="italic">Npm1</tspan><tspan> KO</tspan></text>
<text x="-0.8" y="200.7" font-size="11.8" text-anchor="start" fill="#111" >b</text>
<g>
<path d="M63.5 286.8h0.65M135.5 280.5h0.65M66.8 271.6h0.65M73.5 276.1h0.65M124.0 237.4h0.65M108.1 230.9h0.65M91.6 287.4h0.65M66.9 270.2h0.65M65.7 279.2h0.65M70.1 255.8h0.65M133.1 300.3h0.65M106.7 232.9h0.65M135.1 263.9h0.65M123.1 293.7h0.65M127.5 287.6h0.65M109.0 289.6h0.65M132.2 241.1h0.65M93.4 289.2h0.65M81.1 300.0h0.65M120.9 287.5h0.65M87.8 297.6h0.65M75.4 256.9h0.65M134.3 272.8h0.65M99.8 286.1h0.65M132.4 268.5h0.65M93.4 288.2h0.65M130.0 243.0h0.65M140.1 272.0h0.65M73.7 260.6h0.65M114.6 286.7h0.65M99.3 236.9h0.65M135.9 253.1h0.65M69.8 295.3h0.65M106.7 290.1h0.65M134.2 269.5h0.65M98.9 287.9h0.65M65.6 277.4h0.65M73.9 244.2h0.65M117.8 287.3h0.65M75.9 255.2h0.65M86.4 237.5h0.65M112.8 288.8h0.65M94.3 286.8h0.65M95.5 293.1h0.65M131.3 279.3h0.65M69.0 257.0h0.65M103.2 290.2h0.65M118.0 288.4h0.65M94.8 295.4h0.65M75.1 297.0h0.65M109.8 286.5h0.65M76.7 246.1h0.65M65.3 282.5h0.65M69.3 297.6h0.65M133.8 267.9h0.65M92.3 297.8h0.65M67.9 283.2h0.65M76.1 272.9h0.65M110.4 290.3h0.65M67.4 279.2h0.65M66.4 284.6h0.65M135.1 261.5h0.65M66.1 293.9h0.65M118.5 237.9h0.65M132.3 259.3h0.65M85.4 301.5h0.65M68.6 285.5h0.65M100.1 290.9h0.65M134.1 278.9h0.65M120.2 286.8h0.65M68.6 290.6h0.65M104.1 296.9h0.65M75.3 258.4h0.65M89.4 295.0h0.65M78.9 244.1h0.65M113.1 237.5h0.65M84.5 295.9h0.65M95.7 286.7h0.65M76.1 270.3h0.65M118.2 287.0h0.65M119.7 287.8h0.65M89.7 238.4h0.65M84.5 296.6h0.65M75.0 265.6h0.65M76.4 297.2h0.65M73.1 260.7h0.65M136.0 246.8h0.65M77.4 240.8h0.65M87.4 295.2h0.65M107.7 287.0h0.65M122.6 289.3h0.65M98.7 235.6h0.65M82.4 240.1h0.65M76.0 239.1h0.65M132.1 279.1h0.65M134.3 261.9h0.65M60.2 285.2h0.65M135.1 279.8h0.65M71.5 275.4h0.65M135.1 254.7h0.65M76.3 256.7h0.65M66.5 293.1h0.65M81.8 299.5h0.65M136.2 253.7h0.65M68.9 302.2h0.65M137.1 293.4h0.65M100.9 239.5h0.65M139.9 274.8h0.65M122.6 294.3h0.65M85.7 295.3h0.65M75.8 260.4h0.65M132.4 271.9h0.65M99.7 296.0h0.65M97.1 287.0h0.65M75.1 258.6h0.65M110.9 288.6h0.65M108.8 292.1h0.65M111.3 290.2h0.65M74.9 254.4h0.65M103.1 285.8h0.65M97.5 225.0h0.65M117.9 287.1h0.65M66.2 288.3h0.65M99.6 239.3h0.65M74.4 264.3h0.65M68.0 245.2h0.65M123.8 287.0h0.65M75.2 255.7h0.65M86.4 240.4h0.65M125.6 293.4h0.65M60.4 279.6h0.65M99.0 288.0h0.65M71.0 278.5h0.65M91.0 291.7h0.65M67.4 292.3h0.65M135.9 255.7h0.65M81.4 302.8h0.65M70.4 279.4h0.65M70.5 270.2h0.65M127.7 289.3h0.65M90.1 291.6h0.65M124.0 232.6h0.65M138.7 273.4h0.65M106.4 234.5h0.65M73.6 251.8h0.65M116.2 239.2h0.65M131.5 239.9h0.65M133.0 282.2h0.65M82.0 297.4h0.65M131.5 282.1h0.65M91.8 288.2h0.65M132.8 263.3h0.65M72.1 251.0h0.65M129.4 241.5h0.65M131.1 244.4h0.65M109.4 235.1h0.65M130.7 284.8h0.65M131.6 286.9h0.65M120.4 232.8h0.65M105.5 240.4h0.65M82.1 299.5h0.65M132.5 264.0h0.65M104.7 288.2h0.65M133.5 264.0h0.65M111.5 288.6h0.65M96.5 286.7h0.65M84.2 300.7h0.65M108.4 237.2h0.65M134.5 263.0h0.65M74.4 248.0h0.65M75.0 249.5h0.65M70.9 278.8h0.65M123.2 288.6h0.65M66.4 291.4h0.65M133.8 250.7h0.65M82.8 296.6h0.65M96.3 287.1h0.65M76.0 245.3h0.65M140.6 244.0h0.65M65.2 288.1h0.65M118.4 291.7h0.65M124.3 289.4h0.65M82.3 295.8h0.65M91.7 239.1h0.65M80.5 301.4h0.65M75.2 271.8h0.65M76.9 246.1h0.65M112.5 237.3h0.65M114.1 236.6h0.65M95.2 289.7h0.65M96.3 234.5h0.65M72.1 247.3h0.65M122.0 287.8h0.65M114.1 240.5h0.65M63.3 290.3h0.65M120.9 290.6h0.65M96.1 292.5h0.65M131.5 245.8h0.65M81.9 295.9h0.65M86.3 297.2h0.65M104.6 240.2h0.65M67.3 284.7h0.65M128.4 241.1h0.65M74.5 263.2h0.65M133.4 252.3h0.65M137.1 267.9h0.65M94.5 292.9h0.65M134.3 250.6h0.65M72.7 248.8h0.65M69.1 250.5h0.65M66.7 283.5h0.65M145.3 254.8h0.65M130.4 237.5h0.65M129.7 244.1h0.65M90.6 293.4h0.65M82.3 240.8h0.65M69.5 281.6h0.65M113.3 286.6h0.65M100.6 285.9h0.65M137.8 242.2h0.65M135.2 260.6h0.65M126.7 241.0h0.65M112.9 288.3h0.65M96.4 288.8h0.65M133.0 260.6h0.65M90.9 294.9h0.65M112.6 288.1h0.65M132.2 267.0h0.65M74.4 266.9h0.65M134.8 267.2h0.65M96.5 288.7h0.65M130.9 289.0h0.65M94.0 286.6h0.65M74.1 274.9h0.65M127.2 285.8h0.65M97.1 285.8h0.65M118.6 235.7h0.65M106.1 287.9h0.65M126.3 236.0h0.65M132.9 274.1h0.65M136.2 262.9h0.65M65.0 277.9h0.65M68.6 294.8h0.65M66.2 296.7h0.65M107.7 287.9h0.65M128.2 239.4h0.65M72.6 298.1h0.65M132.5 260.1h0.65M96.0 293.9h0.65M115.7 292.9h0.65M69.5 293.7h0.65M83.5 297.3h0.65M134.2 274.4h0.65M103.8 286.3h0.65M132.9 265.7h0.65M103.9 237.4h0.65M126.6 287.6h0.65M111.8 291.0h0.65M66.4 292.6h0.65M104.5 287.2h0.65M133.1 242.4h0.65M130.8 237.9h0.65M91.7 297.3h0.65M60.6 285.2h0.65M134.0 282.4h0.65M68.0 278.5h0.65M71.0 255.0h0.65M75.8 259.1h0.65M71.7 294.2h0.65M117.9 239.2h0.65M101.4 286.2h0.65M123.1 286.9h0.65M75.9 247.7h0.65M81.3 299.5h0.65M58.4 270.7h0.65M132.4 251.9h0.65M117.1 233.6h0.65M132.4 269.1h0.65M73.2 249.4h0.65M135.0 240.8h0.65M103.5 285.9h0.65M70.4 280.3h0.65M127.5 242.3h0.65M112.0 288.7h0.65M134.4 273.4h0.65M137.9 258.0h0.65M94.5 286.7h0.65M103.5 288.2h0.65M132.8 243.6h0.65M87.6 240.3h0.65M74.9 252.5h0.65M74.0 297.9h0.65M133.8 265.6h0.65M101.9 288.4h0.65M129.9 285.4h0.65M64.7 290.1h0.65M133.8 245.7h0.65M88.3 295.9h0.65M131.8 248.1h0.65M135.1 276.4h0.65M124.6 239.8h0.65M103.7 237.3h0.65M95.0 286.9h0.65M68.6 281.2h0.65M109.3 238.6h0.65M132.4 246.8h0.65M135.8 261.6h0.65M100.1 290.8h0.65M70.0 295.4h0.65M131.4 282.2h0.65M134.1 266.0h0.65M71.4 252.0h0.65M109.3 291.1h0.65M116.4 292.4h0.65M75.8 274.0h0.65M90.7 238.8h0.65M136.8 285.1h0.65M113.2 240.3h0.65M132.4 244.1h0.65M94.8 239.3h0.65M132.4 269.2h0.65M68.6 290.1h0.65M129.3 241.7h0.65M98.4 287.4h0.65M135.8 248.8h0.65M89.9 231.1h0.65M126.6 288.4h0.65M65.6 295.1h0.65M132.6 252.6h0.65M76.4 262.5h0.65M64.0 276.8h0.65M77.3 301.2h0.65M135.4 233.9h0.65M75.3 264.2h0.65M109.0 288.1h0.65M96.1 235.9h0.65M133.2 255.3h0.65M120.0 287.1h0.65M115.0 237.2h0.65M75.2 271.5h0.65M138.2 259.9h0.65M132.4 257.4h0.65M72.5 297.4h0.65M118.3 237.8h0.65M133.6 249.6h0.65M73.1 271.2h0.65M121.3 291.5h0.65M130.3 244.5h0.65M101.5 239.4h0.65M132.4 253.2h0.65M94.2 288.2h0.65M67.8 285.4h0.65M92.6 288.7h0.65M73.3 298.6h0.65M124.8 288.3h0.65M121.1 287.0h0.65M133.9 285.2h0.65M78.6 297.5h0.65M86.6 293.4h0.65M69.2 271.6h0.65M119.3 239.9h0.65M76.1 259.3h0.65M114.0 236.5h0.65M133.2 254.4h0.65M129.3 239.8h0.65M117.3 296.3h0.65M64.5 280.8h0.65M102.5 239.9h0.65M95.9 287.2h0.65M86.1 295.8h0.65M105.3 286.5h0.65M114.5 286.6h0.65M75.1 260.6h0.65M133.4 255.5h0.65M75.3 269.7h0.65M72.8 258.3h0.65M71.2 265.6h0.65M62.0 288.0h0.65M91.6 236.7h0.65M76.5 300.1h0.65M108.8 286.2h0.65M130.8 281.1h0.65M68.7 296.5h0.65M92.3 286.7h0.65M67.2 267.1h0.65M85.4 295.3h0.65M137.4 285.4h0.65M133.9 273.8h0.65M78.3 244.0h0.65M84.9 239.9h0.65M69.1 275.9h0.65M135.5 246.1h0.65M84.9 238.4h0.65M103.4 237.0h0.65M66.2 286.5h0.65M133.5 251.4h0.65M68.6 300.1h0.65M93.9 230.3h0.65M64.7 278.2h0.65M81.4 302.5h0.65M123.6 240.9h0.65M79.2 298.4h0.65M74.7 296.7h0.65M128.4 240.8h0.65M69.1 277.5h0.65M133.4 274.7h0.65M90.6 238.9h0.65M69.8 275.0h0.65M94.6 285.7h0.65M99.1 240.0h0.65M76.5 236.1h0.65M65.8 281.2h0.65M62.6 284.6h0.65M134.4 271.6h0.65M136.5 269.5h0.65M68.1 298.5h0.65M103.0 233.0h0.65M137.5 279.0h0.65M72.9 266.0h0.65M139.2 264.5h0.65M130.2 282.8h0.65M79.7 296.9h0.65M75.5 265.2h0.65M68.8 273.9h0.65M95.0 237.1h0.65M138.7 276.0h0.65M73.2 251.4h0.65M68.6 278.4h0.65M81.5 231.4h0.65M66.5 255.0h0.65M70.5 271.7h0.65M116.1 237.6h0.65M71.9 297.4h0.65M134.3 266.1h0.65M133.3 278.0h0.65M134.3 260.8h0.65M99.0 288.3h0.65M79.4 242.9h0.65M107.7 288.4h0.65M96.8 238.1h0.65M131.6 294.9h0.65M79.1 301.1h0.65M131.6 284.8h0.65M131.8 277.1h0.65M96.3 286.8h0.65M111.4 288.4h0.65M134.3 273.2h0.65M75.1 262.6h0.65M79.7 301.4h0.65M114.5 289.6h0.65M102.3 286.3h0.65M95.5 238.6h0.65M124.0 236.7h0.65M79.7 237.1h0.65M119.2 233.7h0.65M131.8 279.4h0.65M76.2 261.2h0.65M108.9 240.6h0.65M132.9 250.4h0.65M135.0 273.7h0.65M68.9 289.9h0.65M76.3 253.9h0.65M120.4 287.3h0.65M70.1 280.4h0.65M101.5 240.4h0.65M83.7 295.2h0.65M108.9 232.9h0.65M141.1 243.6h0.65M125.6 240.4h0.65M127.8 240.0h0.65M121.2 235.3h0.65M75.5 257.6h0.65M70.9 260.9h0.65M109.1 239.2h0.65M136.9 273.8h0.65M100.4 238.2h0.65M118.6 239.5h0.65M68.8 292.6h0.65M72.9 273.9h0.65M94.4 290.4h0.65M101.0 285.9h0.65M95.1 288.2h0.65M134.1 258.2h0.65M133.4 273.0h0.65M132.8 264.4h0.65M88.0 294.6h0.65M79.1 303.3h0.65M74.6 304.3h0.65M69.3 270.8h0.65M75.4 264.5h0.65M92.8 239.7h0.65M139.6 252.2h0.65M102.8 236.3h0.65M95.6 288.1h0.65M67.7 286.4h0.65M75.8 273.7h0.65M129.8 287.5h0.65M134.1 259.3h0.65M69.4 260.6h0.65M131.7 245.6h0.65M103.6 288.0h0.65M72.0 260.0h0.65M133.1 274.0h0.65M73.0 274.6h0.65M91.4 296.4h0.65M135.1 255.8h0.65M136.8 266.9h0.65M133.6 264.7h0.65M127.6 287.2h0.65M76.1 251.1h0.65M72.7 302.4h0.65M132.8 275.2h0.65M95.8 286.4h0.65M109.9 240.4h0.65M117.9 240.4h0.65M126.0 286.8h0.65M104.5 235.0h0.65M71.1 278.6h0.65M132.7 268.0h0.65M128.2 288.8h0.65M75.5 268.9h0.65M75.9 245.8h0.65M90.6 299.2h0.65M134.8 271.7h0.65M99.9 230.1h0.65M96.2 240.3h0.65M124.9 290.4h0.65M80.1 301.2h0.65M114.0 235.5h0.65M90.7 295.5h0.65M81.2 233.9h0.65M136.6 267.8h0.65M118.5 231.2h0.65M93.2 286.3h0.65M75.5 250.4h0.65M98.0 289.0h0.65M68.5 287.1h0.65M63.1 294.3h0.65M85.5 295.4h0.65M111.8 288.2h0.65M117.4 289.0h0.65M74.1 261.5h0.65M113.1 286.8h0.65M100.9 291.2h0.65M115.1 229.3h0.65M74.0 274.9h0.65M111.4 229.8h0.65M109.1 238.7h0.65M113.8 234.0h0.65M135.0 281.0h0.65" stroke="#555" stroke-width="0.65" fill="none"/>
<path d="M78.5 296.2l-3.7 -0.4 -1.6 -0.5 -1.7 -1.2 -1.3 -1.5 -0.9 -1.4 -0.5 -1.8 -0.1 -1.8 1.1 -6 1.1 -3 1.6 -2 3 -2.3 0.7 -1.4 -0.1 -6.5 0.5 -16.5 0.8 -3.3 1.8 -2.8 1.8 -1.4 2.2 -1.1 2.6 -0.6 3.2 -0.1 32.2 0.1 4.3 0.8 1.7 0.9 1.6 1.2 1.5 2 1 2.3 0.5 2.5 0.2 3.2 -0.3 22.6 -1 4.2 -0.8 1.8 -1.1 1.5 -1.3 1 -1.5 0.8 -4 0.6 -11 0 -7.2 -0.7 -11.4 0.2 -1.2 0.8 -1.8 4 -2.4 2.6 -3.8 2 -4.7 1.2z M79.2 294.9l-2 0.2 -1.7 -0.2 -1.7 -0.7 -1.3 -0.7 -1.1 -1.1 -0.9 -1.5 -0.6 -1.7 -0.1 -1.6 0.6 -3.2 1.8 -5 1.4 -1.8 3 -2.2 0.9 -1.6 0.2 -1.9 -0.4 -5.7 0.7 -16 0.7 -3 1.7 -2.6 2.6 -1.8 3.8 -0.8 28.2 -0.1 5.2 0.1 3 0.3 2.8 1 1.9 1.3 1.4 1.8 0.9 2 0.4 2.2 0.1 3.3 -0.2 22.3 -1 4 -1.7 2.7 -1.3 0.9 -1.5 0.7 -4.8 0.5 -9.4 -0.1 -6.8 -0.8 -12.5 0.3 -1.3 1 -1.6 4 -2.1 2.5 -3.3 1.9 -4 1.1z M78.8 294.4l-3.3 -0.2 -2.7 -1.3 -1.2 -1.3 -0.7 -1.2 -0.5 -3 0.7 -3.2 1.8 -4.3 1.3 -1.6 3 -2.2 1 -1.9 0.2 -2 -0.4 -6 0.8 -15.8 0.7 -3 1.5 -2.2 2.5 -1.7 3.5 -0.8 29.2 0 4.6 0.1 2.7 0.4 2.3 0.8 1.7 1.4 1.2 1.5 0.9 2 0.3 2 0.1 3 -0.2 22 -0.9 3.7 -1.7 2.8 -1.2 0.9 -1.5 0.6 -4.7 0.5 -9 -0.1 -6.8 -0.9 -12.8 0.2 -0.7 0.3 -0.7 0.7 -1.7 4.3 -2 2.5 -3.1 1.9 -4.2 1.1z M79 293.9l-3.2 -0.1 -1.6 -0.5 -1.2 -0.8 -1.7 -2.3 -0.4 -2.8 0.7 -3.2 1.6 -3.6 1.5 -1.7 3.1 -2.3 1.1 -2.2 0.2 -2.2 -0.6 -6.3 0.9 -15.3 0.6 -2.7 1.5 -2.3 2.5 -1.6 3.2 -0.7 29.6 0 4.2 0.1 2.5 0.4 2 0.8 1.7 1.3 1.1 1.5 0.8 1.8 0.4 4.4 -0.2 22 -0.7 3.6 -1.6 2.7 -1.2 0.9 -1.6 0.6 -5 0.5 -8.7 -0.1 -6.5 -1 -13 0.2 -0.9 0.4 -0.6 0.7 -1.6 4.3 -1.9 2.5 -3 1.9 -4 1.1z M78.2 293.7l-3 -0.4 -2.2 -1.3 -1.4 -2.1 -0.3 -2.7 0.6 -2.8 1.6 -3.2 1.5 -1.8 3.2 -2.5 1.2 -2.3 0.2 -2.4 -0.6 -6.3 1 -15.3 0.7 -2.7 1.3 -2 2.5 -1.6 3 -0.5 6.7 0.2 23 -0.2 3.8 0.2 2.5 0.4 2 0.8 1.5 1.2 1.4 2.2 0.6 3 -0.1 22 -0.5 4.8 -0.7 1.8 -1.1 1.4 -1.1 0.8 -1.5 0.6 -5.5 0.5 -8 -0.2 -6.5 -1 -13.2 0.2 -0.9 0.4 -0.7 0.7 -1.6 4.6 -1.9 2.4 -3.2 2 -4.3 1.1z M79.5 293.2l-3.3 0 -2.4 -1 -1.7 -2 -0.5 -2.8 0.6 -2.8 1.6 -3 1.4 -1.7 3.3 -2.5 1.4 -2.5 0.2 -2.7 -0.8 -6.3 1.3 -15 0.6 -2.7 1.4 -2 2.2 -1.4 2.7 -0.6 6.7 0.3 23 -0.2 6 0.6 1.8 0.6 1.5 1.1 1 1.3 0.8 1.7 0.4 4 -0.3 22.3 -0.7 3.3 -1.5 2.2 -1.2 0.8 -1.5 0.5 -5.3 0.4 -8 -0.2 -6.2 -1.1 -13.5 0.3 -0.8 0.3 -0.7 0.8 -1.6 4.7 -1.6 2.3 -2.8 1.9 -3.5 1.1z M79.2 292.9l-3 0 -2.4 -1.1 -0.9 -0.9 -0.7 -1.3 -0.3 -2.4 0.6 -2.6 1.5 -2.7 1.5 -1.6 3.5 -2.7 1.4 -2.7 0.3 -2.5 -0.9 -4.8 0 -3.4 1.5 -14.3 0.7 -2 1.1 -1.5 2.1 -1.2 2.3 -0.5 6.7 0.5 23.8 -0.3 5.5 0.6 1.7 0.7 1.3 1 1.3 2 0.5 2.7 -0.2 22.3 -0.5 4.2 -0.7 1.5 -0.9 1.2 -1.2 0.8 -1.6 0.5 -5.4 0.4 -7.6 -0.2 -6.2 -1.3 -13.8 0.3 -0.7 0.4 -0.7 0.8 -1.5 4.6 -1.7 2.5 -2.6 1.8 -3.8 1.2z M79.2 292.7l-3 0 -2.2 -1 -1.5 -2.1 -0.3 -2.4 0.5 -2.3 1.4 -2.5 1.4 -1.6 3.7 -2.8 1.2 -1.6 0.7 -1.8 0.2 -2.2 -1.1 -4.8 0 -3.2 1.7 -14.2 0.7 -2 1.1 -1.6 1.8 -1.1 2 -0.4 6.7 0.8 11.3 0 12.5 -0.5 5.2 0.5 1.8 0.7 1.2 1 1.3 2 0.5 2.6 -0.3 22.2 -0.5 3.8 -0.6 1.4 -0.8 1.2 -1 0.7 -1.6 0.5 -5.7 0.5 -7.5 -0.3 -6 -1.4 -13.8 0.3 -1 0.4 -0.7 0.9 -1.4 4.8 -1.6 2.4 -2.7 2 -3.6 1.1z M79.2 292.4l-2.7 0.1 -2.3 -1 -1.4 -1.9 -0.4 -2.4 0.6 -2.3 1.2 -2.2 1.6 -1.6 3.9 -2.9 1.4 -2 0.8 -1.8 0.2 -2 -1.5 -4.5 -0.1 -3.4 2.1 -14.1 0.6 -2 1.1 -1.5 1.5 -0.9 1.7 -0.4 7 1.3 10.5 0 6.2 -0.7 7 -0.3 5 0.6 1.6 0.5 1.2 1 1.1 1.6 0.5 2.6 -0.3 22.4 -0.4 3.6 -1.4 2.3 -1 0.7 -1.5 0.5 -5.8 0.4 -7.2 -0.2 -6 -1.7 -14 0.4 -1 0.5 -0.8 1 -1.3 4.8 -1.6 2.5 -2.5 1.9 -3.6 1.1z M79.5 291.9l-2.7 0.1 -2.3 -0.9 -1.3 -1.7 -0.3 -2.5 0.8 -2.3 1.5 -2.2 4.6 -3.2 2.7 -2.8 2.7 -1.8 0.8 -1 0.1 -1.4 -0.3 -1.2 -0.6 -0.5 -2 -0.6 -1 -0.9 -0.7 -1.3 -0.3 -1.8 0.4 -3.7 1.6 -8.8 1.1 -4 1.2 -1.9 1.3 -0.7 1.2 -0.1 1.2 0.5 1 1 0.4 1.7 -0.4 4.7 0.6 1.4 1 0.2 3.7 -0.8 2.7 -0.1 1.8 0.3 3.2 1.3 0.8 -0.1 0.8 -0.8 1.7 -4.8 0.7 -1.5 1 -1 1.3 -0.6 5.3 -0.9 4.4 -0.1 4.3 0.5 1.3 0.5 0.9 0.8 0.9 1.5 0.3 2 -0.4 8.2 -0.1 14.8 -0.4 2.8 -1 1.6 -1 0.7 -1.5 0.4 -6 0.5 -7 -0.4 -4.3 -2 -1.2 -0.3 -7.5 0.8 -7 -0.5 -0.7 0.4 -0.8 1.1 -1.3 5.7 -1.3 2.4 -2.4 2.1 -3.5 1.2z M120 267.2l0.3 -0.3 0.1 -1 -0.4 -1.3 -0.5 0.5 -0.1 0.8 0.6 1.3z M84 268l-1.2 -0.1 -0.8 -1.2 -0.2 -1.8 0.4 -3.1 1.3 -5.9 1.7 -6.3 1 -1.5 1.6 -0.4 0.8 0.5 0.4 0.7 -0.1 2.3 -2.8 13.4 -1 2.3 -1.1 1.1z M117.8 280.9l-7.3 -0.2 -1.7 -0.5 -2.1 -1.6 -1.9 -2.9 -0.6 -0.4 -0.7 0.2 -2.8 1.9 -2.3 0.8 -3.4 0.2 -2.8 -0.8 -1.6 -1.2 -0.6 -1.8 -0.3 -4.2 0.1 -4 0.7 -2.5 1.1 -1.7 1.5 -1.3 1.9 -0.6 2 0.1 2.2 0.8 2 1.2 2.6 2.2 0.7 0.1 0.5 -0.6 0.5 -1.6 2.2 -10.6 1.1 -2 2 -1.1 4.4 -0.8 3.3 -0.2 4 0.3 1.5 0.4 1.2 0.8 0.8 1.1 0.4 1.5 -0.7 9.3 -0.3 10.2 0.2 5.5 -0.6 1.8 -1.2 1.1 -2.3 0.6 -3.7 0.5z M121.6 275.6l0.6 -0.4 0.7 -1 0.6 -3 -0.4 -10 -0.9 -4.2 -0.7 -1 -1 -0.1 -2.3 2.3 -1.2 0.5 -1 -0.3 -2.2 -1.9 -0.5 0.4 -0.3 1.1 -0.7 5.6 0.1 4 0.8 3 1 1.4 2.3 -0.1 1.3 0.3 2.7 3.1 1.1 0.3z M79.5 291.7l-3 0 -1.3 -0.4 -1 -0.9 -0.7 -1 -0.3 -1.2 0.4 -2.8 0.9 -1.6 1.3 -1.4 4 -2.8 2.7 -2.2 1.5 -0.6 1.8 0.3 1.2 0.9 0.4 1.4 -0.7 5.2 -0.6 2.3 -1.1 1.7 -1.3 1.3 -1.9 1.1 -2.3 0.7z M117.8 280.2l-4.3 -0.5 -3.5 0.2 -1.6 -0.7 -0.9 -1.3 -0.6 -2.3 -0.2 -4.2 1.1 -12.6 1.2 -6.6 0.5 -1 0.7 -0.8 1.8 -0.8 4.2 -0.9 2.6 -0.1 4 0.3 1.8 0.7 1 1.6 0.1 2.4 -0.9 2.5 -0.6 -0.1 -1.6 -1.8 -1.4 -0.6 -4 0.7 -3.2 -1.1 -1.2 -0.2 -1.3 0.6 -0.6 1.3 0.1 12 1.4 8.7 0.6 1.3 0.8 0.3 2.4 -1.1 1.3 0.1 3 2.4 0 0.6 -0.6 0.4 -2.1 0.6z M83.5 265.5l-0.3 -0.1 -0.3 -0.8 0.3 -2.7 3 -10.3 0.6 -1 0.2 0 0 0.9 -1.6 6.7 -0.9 5.4 -0.5 1.4 -0.5 0.5z M96.8 275.9l-1.6 0 -1.2 -0.8 -0.8 -1.5 -0.5 -2.2 0.1 -2.5 0.7 -2 1 -1.2 1.5 -0.5 1.8 0.3 1.4 0.9 1.3 1.7 0.5 1.8 -0.2 2 -0.9 1.7 -1.4 1.6 -1.7 0.7z M79.2 291.4l-2.8 0 -1.2 -0.5 -0.9 -0.7 -0.6 -1 -0.3 -1.3 0.6 -2.5 1.2 -2 1.8 -1.5 5.8 -3.8 1 -0.3 1.2 0.2 1.1 0.9 0.6 1.5 -0.2 3.8 -0.6 2.4 -1.1 1.8 -1.3 1.3 -2 1.1 -2.3 0.6z M124.5 252.7l-0.7 0.1 -2.6 -0.6 -4.2 0.4 -1.8 -0.7 -0.8 -1 0.7 -0.7 1.9 -0.6 5.8 0.4 1 0.3 0.7 0.6 0.3 1 -0.3 0.8z M110.2 278.5l-0.6 -0.1 -0.6 -0.5 -0.6 -2 0 -4.5 0.4 -1.7 0.4 -0.6 0.6 1 0.6 3.3 0.3 4.2 -0.5 0.9z M79.2 291.2l-2.7 -0.1 -1.1 -0.5 -0.9 -0.7 -0.8 -2 0.5 -2.4 1.3 -1.9 2 -1.6 5 -3 1.3 -0.3 1 0.2 1 0.8 0.5 1.7 -0.1 3 -0.6 2.2 -0.9 1.6 -1.5 1.3 -1.7 1 -2.3 0.7z M79 290.9l-2.5 -0.1 -1.7 -1.1 -0.8 -1.8 0.5 -2.3 1.3 -1.8 2 -1.6 4.7 -2.6 1 -0.2 1 0.2 1 0.9 0.4 1.7 0 2.4 -0.7 2.1 -0.9 1.5 -1.4 1.2 -1.9 1 -2 0.5z M78.8 290.7l-2.3 -0.2 -1.6 -1.1 -0.6 -1.8 0.7 -2.2 1.4 -1.8 2.1 -1.4 4 -2 1.7 0 1 1 0.4 1.7 -0.1 2 -0.7 2 -1 1.4 -1.4 1.1 -1.6 0.8 -2 0.5z M78.2 290.4l-2 -0.3 -1.2 -1.2 -0.3 -1.7 0.8 -2 1.7 -1.8 3.6 -2 2 -0.7 1.4 0.2 0.8 1.1 0.3 1.6 -0.3 2 -0.7 1.6 -1.1 1.2 -1.4 1 -1.8 0.7 -1.8 0.3z M79.2 289.9l-2 0.1 -1.5 -0.8 -0.6 -1.6 0.4 -1.7 1.3 -1.6 2 -1.4 3.2 -1.5 1.8 0 0.7 0.8 0.4 1.2 -0.1 1.5 -0.6 1.6 -1.9 2.1 -3.1 1.3z M78.5 289.7l-1.7 -0.3 -1 -0.9 -0.3 -1.3 0.6 -1.6 1.5 -1.4 2.2 -1.3 2.4 -1 1.4 0.3 0.6 0.7 0.2 1.3 -0.2 1.2 -0.7 1.5 -2 1.8 -3 1z" fill="none" stroke="#181818" stroke-width="0.5" stroke-opacity="1.0" stroke-linejoin="round"/>
</g>
<rect x="51.5" y="216.5" width="97" height="97" fill="none" stroke="#8a8a8a" stroke-width="0.9" />
<line x1="97.5" y1="216.9" x2="97.5" y2="313" stroke="#6f6f6f" stroke-width="0.9" />
<line x1="51" y1="272.5" x2="148.8" y2="272.5" stroke="#6f6f6f" stroke-width="0.9" />
<text x="54.3" y="231.1" font-size="12.3" text-anchor="start" fill="#111" >27</text>
<text x="145.2" y="231.1" font-size="12.3" text-anchor="end" fill="#111" >39</text>
<text x="145.2" y="308.6" font-size="12.3" text-anchor="end" fill="#111" >17</text>
<g>
<path d="M189.9 277.4h0.65M204.0 274.1h0.65M251.7 283.0h0.65M212.6 242.5h0.65M238.3 289.5h0.65M189.5 297.7h0.65M226.3 295.8h0.65M242.1 288.2h0.65M249.6 259.7h0.65M250.0 265.8h0.65M222.1 240.9h0.65M234.1 298.0h0.65M212.5 255.3h0.65M185.6 276.8h0.65M245.7 250.1h0.65M250.7 277.5h0.65M217.4 245.6h0.65M234.1 300.7h0.65M175.6 291.5h0.65M224.2 292.8h0.65M213.0 257.8h0.65M230.4 239.4h0.65M230.2 300.6h0.65M251.0 276.8h0.65M249.0 257.6h0.65M213.3 254.3h0.65M251.6 267.3h0.65M211.5 261.2h0.65M186.7 279.4h0.65M254.0 276.3h0.65M237.2 297.1h0.65M193.5 274.1h0.65M212.2 250.5h0.65M200.2 278.4h0.65M248.1 281.4h0.65M222.7 292.4h0.65M220.0 288.1h0.65M210.4 248.4h0.65M220.4 289.6h0.65M210.8 275.4h0.65M246.5 296.7h0.65M212.8 288.0h0.65M213.8 287.6h0.65M229.4 239.8h0.65M241.5 244.9h0.65M254.4 269.1h0.65M213.2 251.6h0.65M213.0 250.6h0.65M198.4 278.6h0.65M234.9 291.7h0.65M227.2 238.2h0.65M224.8 293.0h0.65M234.9 241.1h0.65M256.7 285.5h0.65M250.2 257.7h0.65M216.1 290.2h0.65M218.6 294.3h0.65M245.9 289.8h0.65M249.6 269.2h0.65M213.2 272.3h0.65M212.5 270.6h0.65M246.3 253.1h0.65M187.8 273.7h0.65M240.0 291.9h0.65M199.4 296.0h0.65M206.7 287.9h0.65M206.9 289.2h0.65M192.9 274.4h0.65M233.0 291.7h0.65M242.3 298.7h0.65M186.8 276.3h0.65M246.7 245.0h0.65M212.0 267.1h0.65M220.5 293.6h0.65M217.9 288.9h0.65M224.3 294.5h0.65M213.1 287.1h0.65M254.0 288.7h0.65M200.4 292.4h0.65M218.9 289.3h0.65M213.2 271.8h0.65M227.7 291.1h0.65M244.8 287.8h0.65M249.3 283.7h0.65M190.4 295.0h0.65M213.0 269.8h0.65M247.6 287.2h0.65M213.6 259.0h0.65M253.2 284.2h0.65M234.1 291.9h0.65M232.3 291.2h0.65M246.4 251.6h0.65M188.5 294.5h0.65M240.1 296.1h0.65M244.7 287.9h0.65M187.2 277.9h0.65M184.6 294.0h0.65M170.5 290.0h0.65M232.8 291.1h0.65M176.8 294.7h0.65M218.8 289.6h0.65M185.6 301.9h0.65M251.9 261.4h0.65M227.3 293.6h0.65M188.4 299.5h0.65M244.0 288.1h0.65M211.7 255.5h0.65M230.4 294.0h0.65M224.0 238.8h0.65M250.5 266.8h0.65M203.1 291.5h0.65M251.4 272.8h0.65M215.0 284.7h0.65M249.0 255.4h0.65M246.8 245.4h0.65M188.0 276.4h0.65M249.9 265.0h0.65M196.0 275.5h0.65M215.3 244.2h0.65M191.5 277.5h0.65M212.6 275.1h0.65M235.5 290.6h0.65M215.8 235.2h0.65M216.6 244.4h0.65M249.5 283.6h0.65M216.4 289.4h0.65M256.4 283.3h0.65M209.3 269.1h0.65M173.8 287.2h0.65M213.8 289.5h0.65M249.5 258.0h0.65M212.3 264.3h0.65M200.8 289.8h0.65M196.9 297.6h0.65M187.9 279.6h0.65M239.2 294.2h0.65M251.5 279.4h0.65M224.0 292.4h0.65M234.8 240.6h0.65M226.4 291.5h0.65M205.4 292.6h0.65M255.3 283.2h0.65M188.6 280.2h0.65M229.2 291.6h0.65M211.6 274.4h0.65M238.5 293.4h0.65M200.4 290.4h0.65M209.9 266.0h0.65M237.2 291.3h0.65M249.4 280.2h0.65M244.7 235.6h0.65M241.6 295.9h0.65M251.1 263.4h0.65M204.0 292.1h0.65M184.4 303.5h0.65M218.9 290.6h0.65M246.2 247.8h0.65M237.7 290.4h0.65M245.2 289.6h0.65M179.0 283.4h0.65M235.8 292.1h0.65M218.1 289.6h0.65M205.8 290.8h0.65M211.1 265.4h0.65M249.8 283.7h0.65M246.1 285.1h0.65M210.4 266.9h0.65M227.3 229.4h0.65M215.4 285.1h0.65M185.0 280.5h0.65M211.9 293.6h0.65M215.0 283.2h0.65M248.7 286.2h0.65M211.3 271.1h0.65M178.0 269.8h0.65M210.3 255.8h0.65M255.2 267.6h0.65M246.7 287.0h0.65M193.7 273.2h0.65M256.5 269.3h0.65M249.4 265.3h0.65M224.3 290.4h0.65M235.2 242.0h0.65M208.5 269.1h0.65M207.2 289.7h0.65M201.7 291.4h0.65M218.7 288.8h0.65M213.7 287.0h0.65M255.3 285.8h0.65M215.1 284.3h0.65M216.2 292.7h0.65M219.3 242.3h0.65M239.2 292.1h0.65M215.8 245.5h0.65M254.2 261.3h0.65M250.5 264.9h0.65M226.7 294.5h0.65M226.7 300.7h0.65M213.2 267.6h0.65M248.4 256.1h0.65M249.3 279.0h0.65M251.5 267.2h0.65M208.6 262.8h0.65M216.9 287.2h0.65M212.4 288.8h0.65M222.8 242.4h0.65M214.4 250.1h0.65M200.9 276.5h0.65M222.3 289.9h0.65M242.6 289.5h0.65M232.5 297.0h0.65M209.4 274.7h0.65M247.5 252.7h0.65M229.1 292.8h0.65M208.4 275.3h0.65M194.2 278.9h0.65M206.5 275.2h0.65M235.8 293.6h0.65M244.9 244.9h0.65M249.5 260.2h0.65M232.5 291.4h0.65M205.8 297.9h0.65M222.6 292.5h0.65M233.6 290.6h0.65M249.5 277.0h0.65M225.8 289.9h0.65M214.4 247.1h0.65M184.9 281.3h0.65M195.5 292.0h0.65M224.5 300.8h0.65M240.1 293.0h0.65M213.7 254.5h0.65M211.1 268.6h0.65M216.3 285.4h0.65M224.5 240.4h0.65M210.3 273.5h0.65M208.4 275.1h0.65M231.7 290.9h0.65M216.6 246.0h0.65M249.2 279.5h0.65M244.9 251.9h0.65M241.6 244.8h0.65M232.0 241.2h0.65M189.7 279.1h0.65M238.2 243.2h0.65M250.4 280.1h0.65M232.5 291.5h0.65M249.9 270.7h0.65M188.6 295.4h0.65M189.6 278.5h0.65M216.8 297.1h0.65M175.3 289.5h0.65M247.4 252.8h0.65M210.3 275.4h0.65M213.0 274.6h0.65M216.0 244.3h0.65M187.5 276.4h0.65M217.4 290.0h0.65M211.3 275.3h0.65M218.7 243.2h0.65M217.6 288.7h0.65M234.1 295.2h0.65M200.9 294.2h0.65M207.8 272.4h0.65M226.0 293.0h0.65M226.8 290.2h0.65M212.1 272.0h0.65M206.7 267.2h0.65M223.1 238.8h0.65M252.3 271.7h0.65M239.3 289.4h0.65M213.1 286.1h0.65M231.8 290.7h0.65M216.6 287.8h0.65M207.8 272.0h0.65M229.2 290.3h0.65M215.0 288.9h0.65M196.2 278.7h0.65M193.8 275.3h0.65M250.2 272.8h0.65M216.3 292.3h0.65M232.9 233.9h0.65M244.8 248.5h0.65M207.6 269.0h0.65M229.6 294.8h0.65M208.0 272.8h0.65M256.4 275.9h0.65M171.1 288.0h0.65M198.1 264.8h0.65M243.8 291.0h0.65M217.6 293.2h0.65M216.6 288.0h0.65M240.4 241.4h0.65M210.8 258.9h0.65M213.4 291.2h0.65M206.9 266.5h0.65M181.9 282.2h0.65M229.1 295.8h0.65M243.5 247.8h0.65M243.1 247.0h0.65M243.8 248.0h0.65M236.3 239.2h0.65M210.0 261.8h0.65M213.9 258.9h0.65M191.0 278.3h0.65M238.4 242.9h0.65M237.4 290.3h0.65M202.6 275.6h0.65M203.5 265.5h0.65M224.0 290.1h0.65M250.4 257.9h0.65M251.3 266.7h0.65M235.0 291.2h0.65M224.5 290.3h0.65M243.7 296.7h0.65M236.7 290.9h0.65M251.5 268.9h0.65M208.5 255.8h0.65M198.3 293.1h0.65M176.3 287.9h0.65M252.5 261.5h0.65M194.7 272.3h0.65M216.5 243.3h0.65M250.8 252.8h0.65M192.7 299.3h0.65M246.2 286.1h0.65M253.0 276.0h0.65M235.2 238.9h0.65M237.7 239.3h0.65M220.9 242.0h0.65M207.6 290.4h0.65M234.6 294.0h0.65M248.4 279.9h0.65M209.0 274.9h0.65M192.1 267.0h0.65M206.8 255.3h0.65M238.5 299.4h0.65M254.2 259.9h0.65M213.1 272.2h0.65M187.0 294.2h0.65M212.2 269.8h0.65M246.7 291.2h0.65M250.0 292.1h0.65M211.4 261.3h0.65M195.4 294.3h0.65M211.8 262.5h0.65M234.7 295.4h0.65M202.5 293.1h0.65M209.5 272.5h0.65M249.4 262.1h0.65M241.9 238.2h0.65M220.7 288.8h0.65M230.1 240.4h0.65M185.8 264.0h0.65M210.9 269.8h0.65M190.8 300.0h0.65M237.5 289.7h0.65M255.5 259.0h0.65M252.2 264.6h0.65M206.2 290.0h0.65M215.8 293.2h0.65M252.2 294.0h0.65M213.7 250.4h0.65M208.6 290.5h0.65M191.2 278.9h0.65M227.1 289.9h0.65M244.5 294.1h0.65M250.0 264.2h0.65M242.3 298.1h0.65M237.8 292.0h0.65M214.0 249.7h0.65M196.2 292.2h0.65M250.2 291.2h0.65M249.3 280.5h0.65M248.6 245.0h0.65M213.3 275.9h0.65M238.6 237.2h0.65M224.5 292.8h0.65M215.7 289.5h0.65M176.2 289.4h0.65M222.1 291.3h0.65M251.2 237.4h0.65M183.7 297.2h0.65M173.7 287.2h0.65M213.4 251.7h0.65M197.9 291.5h0.65M211.7 265.8h0.65M246.7 289.6h0.65M209.1 275.9h0.65M238.3 289.7h0.65M247.9 285.1h0.65M203.4 275.6h0.65M236.6 291.8h0.65M249.6 275.8h0.65M202.5 276.4h0.65M249.2 286.3h0.65M214.0 292.6h0.65M208.5 276.1h0.65M212.3 264.2h0.65M241.4 293.5h0.65M184.9 281.5h0.65M252.7 274.2h0.65M249.3 279.0h0.65M249.5 276.4h0.65M228.4 291.5h0.65M218.8 244.2h0.65M221.1 288.8h0.65M213.5 286.0h0.65M224.1 241.8h0.65M256.1 249.1h0.65M234.5 294.2h0.65M221.0 290.8h0.65M210.8 273.7h0.65M200.5 289.3h0.65M253.4 238.7h0.65M211.5 263.8h0.65M222.8 290.6h0.65M241.0 294.6h0.65M252.7 264.4h0.65M217.4 238.4h0.65M210.3 244.1h0.65M250.3 257.4h0.65M254.7 271.1h0.65M224.7 290.8h0.65M229.8 291.9h0.65M246.4 247.0h0.65M226.6 236.9h0.65M251.9 265.0h0.65M252.7 258.9h0.65M213.2 270.7h0.65M251.3 263.2h0.65M228.6 291.2h0.65M246.3 247.6h0.65M207.7 276.3h0.65M189.4 270.7h0.65M214.1 287.7h0.65M225.6 289.6h0.65M254.2 271.2h0.65M213.3 258.8h0.65M200.1 293.8h0.65M245.2 287.5h0.65M252.1 266.4h0.65M252.1 262.9h0.65M249.7 258.0h0.65M222.9 291.7h0.65M208.2 266.6h0.65M211.9 286.5h0.65M249.8 261.6h0.65M247.6 257.0h0.65M250.2 259.5h0.65M233.7 241.6h0.65M199.8 276.6h0.65M211.8 289.7h0.65M233.7 240.0h0.65M239.4 237.4h0.65M249.7 267.4h0.65M244.4 248.0h0.65M177.5 285.9h0.65M238.9 294.9h0.65M228.4 293.5h0.65M221.6 290.3h0.65M210.7 252.5h0.65M251.1 286.9h0.65M211.8 268.3h0.65M249.6 278.2h0.65M229.8 232.5h0.65M211.9 287.5h0.65M198.4 276.5h0.65M192.2 278.3h0.65M234.9 292.4h0.65M186.9 294.2h0.65M238.4 242.4h0.65M253.4 265.4h0.65M237.5 289.7h0.65M250.3 248.9h0.65M211.6 287.6h0.65M214.9 287.2h0.65M246.8 248.3h0.65M239.4 292.8h0.65M193.9 294.5h0.65M244.6 287.3h0.65M193.6 294.6h0.65M252.8 277.3h0.65M244.1 289.2h0.65M247.1 248.4h0.65M251.2 253.2h0.65M212.6 268.1h0.65M196.7 293.7h0.65M212.0 288.5h0.65M238.1 289.5h0.65M222.7 290.6h0.65M237.5 291.0h0.65M251.9 267.6h0.65M217.3 246.0h0.65M214.2 289.0h0.65M213.5 255.1h0.65M252.7 251.1h0.65M222.5 291.6h0.65M223.4 291.3h0.65M178.1 294.3h0.65M197.8 302.6h0.65M249.8 289.3h0.65M181.5 293.1h0.65M250.5 275.1h0.65M254.7 280.7h0.65M255.0 258.0h0.65M213.0 276.8h0.65M252.7 249.1h0.65M237.3 294.5h0.65M219.7 288.9h0.65M255.2 275.5h0.65M251.7 274.2h0.65M200.9 274.4h0.65M185.9 274.1h0.65M215.0 285.6h0.65M239.7 295.4h0.65M177.3 290.7h0.65M179.3 280.0h0.65M185.1 298.4h0.65M214.4 244.9h0.65M210.8 264.3h0.65M215.5 287.1h0.65M237.3 243.3h0.65M179.4 301.1h0.65M200.8 298.8h0.65M232.5 298.6h0.65M249.6 281.6h0.65M183.4 278.3h0.65M176.2 284.6h0.65M184.5 294.9h0.65M250.0 275.7h0.65M251.2 278.7h0.65M198.2 274.2h0.65M186.8 280.5h0.65M249.7 262.5h0.65M214.3 259.4h0.65M227.3 290.1h0.65M202.4 276.2h0.65M240.9 294.0h0.65M211.5 271.3h0.65M191.3 266.9h0.65M227.2 289.7h0.65M229.3 292.5h0.65M239.8 289.8h0.65M253.2 279.0h0.65M216.5 285.7h0.65M251.2 265.6h0.65M188.1 278.2h0.65M177.5 285.5h0.65M209.2 274.9h0.65" stroke="#555" stroke-width="0.65" fill="none"/>
<path d="M185.6 293.2l-2.6 0 -2 -0.6 -1.6 -1.2 -1 -1.5 -0.4 -2 0.4 -2 1 -1.5 1.6 -1.4 2.3 -1 3.3 -1 11.4 -2.4 9 -2.2 2.6 -0.3 3 0.6 0.7 -0.4 0.2 -1.4 0.5 -14.3 0.6 -6 1.7 -7 0.9 -1.7 1.4 -1.5 2 -1.2 3.7 -1.2 3.3 -0.7 2.7 -0.1 3.3 0.8 4 1.5 2.4 1.4 1.8 1.7 2.2 3.6 3.7 7.2 1 2.8 0.5 3.2 0.2 9.2 -0.4 4.8 -0.9 2.8 -1.4 3.2 -1.3 2 -1.4 1.5 -2.4 1.5 -3.6 0.9 -5.7 0.6 -4.5 -0.1 -5.2 -1.1 -3.3 -1.1 -2 -1.4 -2 -2.7 -0.7 -0.5 -3 2.1 -2 1 -18.8 5.9 -5.2 1.2z M235 288.7l-3.7 0.2 -3.3 -0.2 -4.7 -1 -3.3 -1.1 -1.7 -1.2 -1.2 -1.5 -1 -2.3 -0.7 -2.7 -0.6 -6.3 0.5 -10.2 0.7 -6.5 1.4 -6 1.2 -2.6 1.5 -1.7 2.5 -1.1 4.2 -1.2 2.8 -0.2 3 0.5 4.2 1.5 2.8 1.7 2.1 2.6 3 5.2 2 4 0.9 3 0.6 8.6 0 4.4 -0.5 3.3 -1.5 4 -1.8 3 -2.1 1.8 -2.7 1.2 -4.6 0.8z M185.3 291.9l-2 -0.1 -1.7 -0.5 -1.3 -1.1 -0.7 -1.3 -0.1 -1.7 0.7 -1.6 1.1 -1.1 1.7 -1 4.8 -1.5 11 -2.1 9 -2.1 2.8 0.2 1.1 0.6 0.7 1 0.2 1.3 -0.5 1.5 -1.1 1.2 -1.4 0.8 -9.6 3 -9.4 3.4 -5.3 1.1z M234.6 287.9l-3.6 0.2 -3.2 -0.3 -4.8 -1 -2.7 -1.1 -1.5 -1.2 -1.1 -1.6 -0.8 -2.3 -0.7 -3.2 -0.4 -5.2 0.7 -9.8 0.7 -5.8 1.3 -5 1.3 -2.7 1.4 -1.5 2.5 -1.2 3.6 -1 2.7 -0.2 2.8 0.5 3.5 1.3 2.3 1.4 2.2 2.7 3.4 5.5 1.6 3.2 0.7 2.8 0.7 8 0.1 4.2 -0.6 3.6 -1.3 3.4 -1.7 2.8 -1.9 1.7 -3 1.1 -4.2 0.7z M186.8 290.7l-3.2 0 -2 -1 -0.7 -1.1 -0.1 -1 0.3 -1 0.7 -1 2 -1.3 3.5 -1.1 12 -2 7.7 -1.8 2.3 0 1.2 1 0.1 0.8 -0.3 0.7 -1.7 1.3 -8.3 2.7 -9.3 3.6 -4.2 1.2z M232.3 287.4l-3 -0.1 -3.3 -0.6 -4 -1.1 -2 -1.1 -1.1 -1.3 -0.8 -1.8 -1.2 -6.2 0 -4.3 0.9 -9 0.8 -4.3 1.2 -3.8 1.3 -2.4 1.8 -1.8 2.9 -1.4 3 -0.7 3.2 0.2 3.5 1.2 2.3 1.6 2.2 2.5 3 4.4 1.8 3.5 0.7 2.7 0.8 7 0.1 4 -0.4 3 -1.3 3.8 -1.5 2.5 -1.6 1.4 -2 1 -3.3 0.7 -4 0.4z M186.3 289.7l-2.5 -0.2 -0.8 -0.4 -0.6 -0.7 -0.1 -0.8 0.3 -1 1.7 -1.3 3 -1.1 3.7 -0.6 4.8 -0.2 2.3 0.5 -0.1 0.5 -0.8 0.8 -3.9 2.2 -3.6 1.5 -3.4 0.8z M234.6 286.7l-3.3 0.1 -3 -0.2 -3.5 -0.9 -3 -1.1 -1.4 -1 -1 -1.2 -1.2 -4 -0.4 -3.8 0.1 -3.7 1.1 -7.7 1.2 -4.3 1.6 -3.3 2 -2.4 2.2 -1.7 2.6 -0.9 2.7 0 2.7 1 2.6 1.8 3.2 3.1 2.2 2.8 1.5 2.6 0.8 2.4 0.9 4.6 0.5 4 -0.1 3.3 -0.8 3.2 -1.4 3 -1.3 1.8 -1.8 1.1 -2.3 0.8 -3.4 0.6z M187.8 288.2l-2.5 0.1 -0.7 -0.4 -0.1 -0.7 1.1 -1.1 2.4 -0.8 2.8 -0.2 1.2 0.5 -0.1 0.6 -0.9 0.7 -3.2 1.3z M234.8 286.2l-3.2 0.1 -2.8 -0.2 -6 -1.8 -1.5 -0.8 -1 -1.1 -0.6 -1.2 -0.5 -2 -0.5 -3.8 0.1 -3 1 -5.2 1.2 -4.3 1.7 -3.5 2.1 -3.1 2 -1.9 2 -0.8 2.2 0.1 2.3 1 2.3 1.9 5.2 5.2 1.2 1.6 1 1.8 1.6 5.4 0.4 3.3 -0.2 2.7 -0.8 3.3 -1.2 2.5 -1.2 1.5 -1.6 1 -2.2 0.7 -3 0.6z M234 285.4l-4.7 -0.1 -4.3 -1.3 -2.8 -1.8 -0.7 -1 -0.5 -1.6 -0.1 -4.4 1.3 -4 4.4 -7.9 1.4 -1.7 1.6 -0.8 1.4 0.1 1.8 0.8 7.2 5.1 2.3 2.7 1.2 3.4 0.2 2.5 -0.3 2.5 -0.7 2.5 -1.1 2 -1.3 1.2 -1.5 0.8 -4.8 1z M233.8 284.9l-4 -0.1 -3.6 -1.2 -2.6 -1.7 -0.7 -1 -0.4 -1.3 -0.1 -2 0.5 -2.4 2.1 -5 1.4 -2.3 1.4 -1.7 1.2 -0.9 1.6 -0.6 1.4 0 2 0.6 2.6 1.2 2.2 1.5 2.6 2.9 0.9 1.7 0.4 1.8 0.1 2 -0.3 2.2 -0.7 2 -0.9 1.6 -1.1 1 -1.5 0.8 -4.5 0.9z M233.6 284.4l-3.6 -0.2 -3.1 -1 -2.1 -1.8 -0.7 -2 0.4 -4 1.7 -4.2 2.4 -3 1.2 -0.8 1.5 -0.5 1.5 0 1.8 0.5 3.7 2.1 2.4 2.7 1.1 3.2 -0.2 3.8 -0.6 1.7 -0.9 1.3 -2.5 1.4 -4 0.8z M232.8 283.9l-3 -0.3 -2.5 -1.2 -1.4 -1.5 -0.5 -2.3 0.5 -3.4 1.7 -3.6 2.2 -2.3 2.5 -0.7 3 0.6 3 2 1.9 2.7 0.8 3.3 -0.5 3 -1.4 2 -2.7 1.2 -3.6 0.5z M234.8 283.2l-3 0.1 -2.5 -0.7 -1.7 -1.2 -0.8 -1.8 0 -3 1 -3 1.6 -2.2 2.2 -1.2 2.4 0 2.6 1.2 2 2 1.2 2.8 0.1 2.4 -0.7 2.3 -1.8 1.5 -2.6 0.8z M233.8 282.7l-2.2 -0.2 -1.8 -0.6 -1.3 -1.3 -0.6 -1.7 0.1 -2.5 1 -2.5 1.6 -1.7 2 -0.7 2.2 0.3 2 1.4 1.4 2 0.7 2.2 -0.1 2 -1 1.7 -1.7 1.1 -2.3 0.5z M234.8 281.7l-1.8 0.2 -1.7 -0.4 -1.3 -0.9 -0.7 -1.2 -0.2 -1.8 0.5 -2 1 -1.5 1.4 -1 1.8 -0.1 1.5 0.7 1.3 1.2 0.9 1.7 0.2 1.8 -0.3 1.5 -1.1 1.2 -1.5 0.6z M234 280.7l-1.2 0 -1 -0.4 -0.7 -0.7 -0.5 -1 0 -1.2 0.4 -1.2 0.6 -0.8 1 -0.6 1.2 0 1 0.5 0.8 0.9 0.5 1.2 0.1 1.2 -0.4 1 -0.8 0.7 -1 0.4z" fill="none" stroke="#2a2a2a" stroke-width="0.45" stroke-opacity="1.0" stroke-linejoin="round"/>
</g>
<rect x="161.5" y="216.5" width="98" height="97" fill="none" stroke="#8a8a8a" stroke-width="0.9" />
<line x1="207.5" y1="216.9" x2="207.5" y2="313" stroke="#6f6f6f" stroke-width="0.9" />
<line x1="161.3" y1="273.5" x2="259.1" y2="273.5" stroke="#6f6f6f" stroke-width="0.9" />
<text x="164.6" y="231.1" font-size="12.3" text-anchor="start" fill="#111" >1</text>
<text x="255.5" y="231.1" font-size="12.3" text-anchor="end" fill="#111" >47</text>
<text x="255.5" y="308.6" font-size="12.3" text-anchor="end" fill="#111" >42</text>
<g>
<path d="M317.6 263.2h0.65M315.9 269.9h0.65M359.4 280.2h0.65M360.5 252.0h0.65M322.6 272.9h0.65M362.4 236.3h0.65M306.5 251.3h0.65M273.2 280.2h0.65M306.7 299.5h0.65M305.3 262.4h0.65M341.2 290.1h0.65M320.3 249.7h0.65M288.4 280.6h0.65M299.8 298.5h0.65M293.5 296.0h0.65M347.9 286.7h0.65M296.7 248.9h0.65M335.0 293.0h0.65M360.7 272.1h0.65M360.2 271.5h0.65M314.0 260.1h0.65M311.6 260.7h0.65M360.7 248.8h0.65M303.2 250.7h0.65M307.7 237.7h0.65M313.1 261.9h0.65M306.0 252.6h0.65M289.9 270.3h0.65M297.6 263.9h0.65M288.6 279.2h0.65M352.5 240.2h0.65M301.0 269.4h0.65M287.7 281.4h0.65M300.7 256.0h0.65M291.0 274.4h0.65M287.5 277.0h0.65M360.1 238.3h0.65M284.7 282.8h0.65M280.6 287.1h0.65M298.1 275.3h0.65M319.3 248.9h0.65M296.8 273.8h0.65M292.9 278.4h0.65M360.9 249.1h0.65M313.1 287.8h0.65M287.5 245.9h0.65M322.4 289.3h0.65M314.7 270.5h0.65M281.4 294.8h0.65M351.1 237.6h0.65M299.9 270.9h0.65M359.8 270.1h0.65M299.8 275.3h0.65M289.6 278.8h0.65M298.6 295.7h0.65M301.9 293.9h0.65M309.8 262.1h0.65M331.1 287.6h0.65M336.3 290.6h0.65M298.0 234.6h0.65M306.3 293.0h0.65M360.7 254.1h0.65M311.8 288.4h0.65M362.8 267.2h0.65M341.4 288.0h0.65M299.7 271.9h0.65M301.4 271.4h0.65M319.4 286.4h0.65M278.9 289.5h0.65M311.1 270.1h0.65M359.6 270.0h0.65M288.9 298.1h0.65M309.8 258.8h0.65M353.7 284.4h0.65M340.0 240.7h0.65M303.3 253.9h0.65M364.1 278.7h0.65M338.2 238.2h0.65M311.4 288.0h0.65M323.6 271.8h0.65M307.2 261.9h0.65M301.1 294.4h0.65M357.7 238.1h0.65M324.0 284.3h0.65M296.4 244.5h0.65M319.9 290.7h0.65M310.9 256.5h0.65M324.0 286.1h0.65M288.9 276.3h0.65M362.1 252.5h0.65M352.2 240.5h0.65M302.9 296.6h0.65M309.5 256.3h0.65M303.5 273.5h0.65M306.1 269.8h0.65M309.9 271.1h0.65M308.1 230.2h0.65M309.1 291.2h0.65M355.9 275.6h0.65M346.9 288.2h0.65M321.4 284.7h0.65M319.3 266.8h0.65M355.6 289.0h0.65M362.0 249.0h0.65M280.8 290.6h0.65M300.7 257.0h0.65M317.4 250.7h0.65M356.8 278.2h0.65M305.7 273.1h0.65M311.7 287.9h0.65M302.5 259.5h0.65M307.6 260.5h0.65M296.4 273.4h0.65M289.9 280.0h0.65M319.0 248.5h0.65M355.8 286.3h0.65M352.8 292.3h0.65M364.0 250.7h0.65M304.7 269.4h0.65M337.6 239.3h0.65M305.8 270.8h0.65M303.0 296.1h0.65M288.5 258.6h0.65M360.9 260.9h0.65M284.7 294.3h0.65M312.2 264.2h0.65M315.9 287.8h0.65M324.6 257.8h0.65M361.0 262.5h0.65M323.8 284.3h0.65M301.6 292.5h0.65M293.9 272.6h0.65M363.4 267.5h0.65M342.1 237.1h0.65M360.6 246.4h0.65M283.7 284.2h0.65M363.7 266.5h0.65M320.4 284.4h0.65M321.9 256.2h0.65M312.7 290.2h0.65M304.4 252.5h0.65M306.3 271.9h0.65M279.2 291.3h0.65M315.2 286.3h0.65M356.0 279.6h0.65M293.8 262.3h0.65M359.7 262.6h0.65M306.9 255.9h0.65M286.2 280.5h0.65M304.1 252.7h0.65M333.9 290.9h0.65M356.4 281.8h0.65M339.1 241.4h0.65M306.0 291.3h0.65M290.2 277.2h0.65M363.7 248.0h0.65M352.5 281.4h0.65M294.0 260.2h0.65M356.4 240.6h0.65M319.0 271.5h0.65M297.9 255.1h0.65M317.1 251.7h0.65M288.2 281.2h0.65M314.6 268.6h0.65M300.1 272.7h0.65M317.8 285.8h0.65M306.8 236.9h0.65M296.4 276.0h0.65M279.4 289.7h0.65M316.5 247.1h0.65M286.0 297.3h0.65M306.0 259.4h0.65M344.9 234.8h0.65M306.0 294.1h0.65M355.4 238.2h0.65M310.0 292.0h0.65M326.2 243.0h0.65M313.7 287.3h0.65M306.6 252.3h0.65M356.0 240.5h0.65M352.0 237.5h0.65M295.6 275.5h0.65M291.6 275.5h0.65M329.0 286.1h0.65M296.7 294.1h0.65M330.8 291.5h0.65M287.0 260.6h0.65M316.9 266.0h0.65M279.8 288.3h0.65M313.1 267.0h0.65M357.4 280.7h0.65M344.1 287.1h0.65M303.4 267.7h0.65M287.3 297.4h0.65M360.4 257.8h0.65M359.7 245.9h0.65M310.8 257.3h0.65M336.9 235.2h0.65M314.8 263.9h0.65M285.0 281.8h0.65M308.6 254.4h0.65M293.1 275.4h0.65M307.6 267.0h0.65M283.4 277.6h0.65M317.8 284.6h0.65M306.2 295.8h0.65M316.7 290.6h0.65M313.9 261.2h0.65M298.5 293.3h0.65M302.2 269.7h0.65M277.3 294.9h0.65M297.3 247.0h0.65M350.3 291.9h0.65M296.0 296.9h0.65M292.3 266.0h0.65M350.4 239.2h0.65M317.2 265.7h0.65M347.4 290.7h0.65M306.4 290.7h0.65M323.3 270.3h0.65M295.0 250.8h0.65M314.3 271.2h0.65M319.9 294.6h0.65M283.4 293.5h0.65M364.1 252.9h0.65M298.8 244.0h0.65M337.2 236.6h0.65M364.4 255.9h0.65M300.6 264.0h0.65M361.0 247.5h0.65M315.4 287.3h0.65M324.8 272.7h0.65M310.8 268.1h0.65M294.3 273.5h0.65M289.2 280.5h0.65M310.6 262.2h0.65M305.5 264.0h0.65M308.0 293.9h0.65M301.6 274.1h0.65M310.3 265.3h0.65M293.5 309.7h0.65M307.2 293.4h0.65M306.5 271.7h0.65M331.2 240.3h0.65M358.2 273.3h0.65M361.5 247.3h0.65M286.4 238.2h0.65M318.8 269.4h0.65M338.2 236.0h0.65M299.5 271.0h0.65M307.6 244.3h0.65M299.1 262.0h0.65M282.1 292.8h0.65M344.7 295.8h0.65M285.2 296.0h0.65M320.9 243.3h0.65M291.0 277.8h0.65M311.4 267.5h0.65M291.4 263.9h0.65M308.6 271.3h0.65M354.5 285.0h0.65M360.9 248.8h0.65M311.2 267.2h0.65M304.0 292.5h0.65M303.7 292.6h0.65M324.3 259.3h0.65M360.2 257.2h0.65M276.8 257.1h0.65M366.6 249.2h0.65M291.1 298.1h0.65M352.3 286.4h0.65M355.4 276.3h0.65M316.7 265.3h0.65M295.1 245.9h0.65M360.6 253.7h0.65M309.5 258.0h0.65M309.0 290.6h0.65M288.6 297.7h0.65M315.5 291.4h0.65M300.9 297.2h0.65M362.0 276.4h0.65M315.3 287.4h0.65M312.3 268.2h0.65M362.6 242.6h0.65M350.5 238.8h0.65M313.0 293.7h0.65M322.4 272.2h0.65M319.3 245.2h0.65M302.1 256.9h0.65M310.0 257.7h0.65M299.1 252.9h0.65M362.3 251.8h0.65M334.3 237.8h0.65M311.7 260.5h0.65M299.3 293.6h0.65M301.1 293.4h0.65M287.0 299.2h0.65M347.7 237.4h0.65M366.7 245.4h0.65M350.0 235.6h0.65M362.4 264.5h0.65M298.3 299.7h0.65M318.7 288.0h0.65M318.0 251.4h0.65M298.1 256.5h0.65M297.2 274.8h0.65M316.7 262.1h0.65M298.2 272.7h0.65M289.1 279.5h0.65M349.8 238.4h0.65M359.9 272.0h0.65M314.5 286.9h0.65M312.8 250.4h0.65M339.1 239.7h0.65M293.2 266.6h0.65M315.3 288.0h0.65M322.8 272.7h0.65M362.9 265.9h0.65M283.8 279.3h0.65M299.9 294.0h0.65M303.8 272.9h0.65M303.6 264.2h0.65M320.8 285.3h0.65M360.7 265.7h0.65M296.2 270.1h0.65M324.0 260.3h0.65M360.1 253.9h0.65M307.2 254.7h0.65M318.2 284.8h0.65M321.8 259.6h0.65M317.4 286.5h0.65M344.3 238.0h0.65M299.7 296.9h0.65M361.7 247.4h0.65M309.1 290.5h0.65M314.8 234.4h0.65M303.8 269.2h0.65M350.9 237.9h0.65M317.2 269.5h0.65M357.4 272.3h0.65M302.2 270.8h0.65M353.6 279.3h0.65M309.1 259.7h0.65M365.7 267.8h0.65M359.9 255.8h0.65M351.9 235.7h0.65M366.5 267.7h0.65M318.2 260.3h0.65M310.2 256.2h0.65M334.0 230.0h0.65M355.2 281.5h0.65M313.8 254.9h0.65M310.8 295.3h0.65M298.6 271.5h0.65M310.3 290.1h0.65M324.8 248.2h0.65M315.6 262.1h0.65M287.6 297.6h0.65M357.4 272.4h0.65M366.6 241.5h0.65M357.6 272.8h0.65M321.7 253.0h0.65M349.3 286.0h0.65M339.1 287.8h0.65M359.2 276.4h0.65M321.3 285.9h0.65M285.3 282.0h0.65M316.4 264.9h0.65M310.9 261.7h0.65M305.9 268.9h0.65M298.9 258.5h0.65M295.8 276.1h0.65M284.9 278.2h0.65M314.6 249.2h0.65M313.4 242.9h0.65M305.5 262.0h0.65M353.1 236.5h0.65M312.3 258.8h0.65M304.9 294.2h0.65M321.6 262.6h0.65M314.6 256.4h0.65M299.1 256.0h0.65M318.7 255.9h0.65M300.7 261.2h0.65M308.9 241.6h0.65M300.4 272.2h0.65M301.3 270.4h0.65M360.2 265.1h0.65M300.5 266.3h0.65M315.0 288.3h0.65M302.3 268.7h0.65M281.6 288.3h0.65M305.9 260.9h0.65M313.0 257.8h0.65M320.8 239.3h0.65M319.2 267.2h0.65M363.5 254.5h0.65M306.3 269.0h0.65M360.9 246.2h0.65M307.1 260.4h0.65M324.2 261.5h0.65M346.4 288.8h0.65M354.9 239.7h0.65M306.1 258.7h0.65M324.2 264.6h0.65M310.8 261.2h0.65M287.0 298.9h0.65M311.4 295.1h0.65M325.1 247.7h0.65M285.8 306.1h0.65M358.8 281.4h0.65M292.6 276.0h0.65M304.7 255.4h0.65M339.3 287.3h0.65M310.1 291.8h0.65M313.8 250.9h0.65M323.8 242.7h0.65M325.3 268.3h0.65M340.2 286.7h0.65M295.5 294.0h0.65M297.0 276.3h0.65M304.1 251.7h0.65M361.8 250.2h0.65M298.5 273.8h0.65M336.4 290.6h0.65M311.8 243.7h0.65M361.4 266.9h0.65M274.9 276.5h0.65M312.0 261.4h0.65M314.2 256.5h0.65M321.3 290.1h0.65M347.3 289.0h0.65M288.8 295.7h0.65M345.3 235.5h0.65M306.7 264.7h0.65M338.8 239.3h0.65M318.5 258.1h0.65M319.5 251.7h0.65M322.3 272.2h0.65M293.4 263.1h0.65M281.0 285.5h0.65M348.9 235.2h0.65M300.8 295.4h0.65M333.3 289.0h0.65M323.1 252.7h0.65M339.0 235.9h0.65M362.2 263.7h0.65M311.5 291.0h0.65M321.0 272.1h0.65M304.8 262.5h0.65M320.0 259.9h0.65M302.7 293.6h0.65M284.7 297.6h0.65M301.6 259.2h0.65M293.6 275.4h0.65M360.8 251.8h0.65M300.9 259.7h0.65M291.5 249.6h0.65M340.6 286.6h0.65M360.9 259.5h0.65M307.0 292.9h0.65M330.6 240.8h0.65M331.9 240.1h0.65M311.3 269.9h0.65M303.4 257.3h0.65M308.7 242.5h0.65M362.7 249.8h0.65M340.9 286.8h0.65M361.3 273.7h0.65M300.9 267.6h0.65M315.8 289.6h0.65M302.5 245.5h0.65M302.8 268.8h0.65M306.3 270.1h0.65M319.6 260.5h0.65M361.4 262.9h0.65M307.6 271.5h0.65M298.8 294.9h0.65M335.2 238.8h0.65M342.1 238.2h0.65M303.2 268.0h0.65M311.1 261.8h0.65M366.7 254.9h0.65M336.7 287.4h0.65M283.8 282.2h0.65M304.8 267.5h0.65M308.0 272.0h0.65M320.0 271.2h0.65M293.9 276.3h0.65M360.4 270.2h0.65M316.3 246.8h0.65M291.2 248.9h0.65M289.8 297.2h0.65M361.0 251.3h0.65M302.4 298.4h0.65M360.1 276.5h0.65M352.5 286.4h0.65M359.6 243.9h0.65M292.9 253.8h0.65M320.7 273.1h0.65M316.2 256.1h0.65M359.8 257.8h0.65M345.6 291.3h0.65M282.8 287.1h0.65M356.5 241.9h0.65M364.7 255.2h0.65M318.6 266.2h0.65M307.8 253.2h0.65M327.0 290.8h0.65M283.2 282.6h0.65M360.9 247.0h0.65M348.4 237.8h0.65M365.9 259.5h0.65M365.1 262.8h0.65M310.9 260.8h0.65M327.9 287.7h0.65M323.3 265.1h0.65M324.4 265.0h0.65M289.9 295.1h0.65M299.1 259.4h0.65M363.9 258.6h0.65M310.5 289.8h0.65M346.3 240.1h0.65M317.0 287.3h0.65M310.9 291.8h0.65M317.6 288.7h0.65M295.6 294.0h0.65M356.1 277.8h0.65M316.8 267.3h0.65M282.6 292.8h0.65M291.5 277.1h0.65M306.9 267.0h0.65M301.1 271.4h0.65M364.4 248.1h0.65M363.0 273.5h0.65M288.2 280.7h0.65M348.7 240.1h0.65M312.8 246.4h0.65M278.8 281.9h0.65M357.1 241.8h0.65M332.5 239.0h0.65M321.8 245.0h0.65M311.3 265.5h0.65M305.8 269.4h0.65M299.4 272.7h0.65M306.4 249.3h0.65M318.2 288.4h0.65M361.7 276.1h0.65M303.9 264.9h0.65M318.3 269.1h0.65" stroke="#555" stroke-width="0.65" fill="none"/>
<path d="M291.3 294.7l-3 0 -2.5 -0.9 -1.9 -1.6 -1 -2.6 0.1 -2.2 1.1 -2.5 1.9 -2.1 3.6 -2.5 5.4 -3.1 5.6 -2.4 5 -1.8 5.2 -1.3 3.2 -0.3 2.6 0.3 1.4 0.6 3 1.9 1.3 0.5 1.5 -0.1 1 -0.8 0.6 -1.4 0.2 -2.5 -0.5 -13.7 0.1 -7.8 0.6 -2.8 1.5 -1.9 1.7 -0.9 3 -0.7 10.8 -1.4 5.8 -0.3 3.4 0 2.3 0.4 2 0.9 1.5 1.5 1.4 2.7 0.6 3.5 -0.2 11 -0.6 6.5 -1.3 3.7 -4.7 9.3 -1.8 3 -1.6 1.8 -1.8 1 -2.2 0.5 -9 0.1 -6.3 -0.5 -6.7 -1.9 -4.3 -0.2 -2.7 0.9 -7 4 -5.6 2.4 -6.4 2.3 -6.3 1.4z M292 293.7l-3.2 0.1 -2.5 -0.8 -1.9 -1.8 -0.6 -2.6 0.6 -2.4 1.5 -2 2.7 -2.2 4 -2.4 5 -2.6 4.7 -2 4.7 -1.5 5 -1.1 2.6 -0.1 2.2 0.4 1.8 1 2.4 2 1.3 0.6 2.3 -0.2 1.7 -1.2 0.8 -1.5 0.2 -2.8 -0.4 -13.7 0.2 -8.3 0.5 -2.2 1.2 -1.5 1.8 -0.9 3 -0.7 9.2 -1.5 5 -0.3 3.8 -0.1 2.2 0.4 1.8 0.7 1.5 1.4 1.2 2.5 0.5 3.2 -0.2 10.8 -0.6 6.2 -1.3 3.8 -4.5 8.8 -1.8 3 -1.6 1.6 -1.8 1 -1.7 0.3 -8.5 -0.1 -6.8 -0.7 -6.4 -1.9 -3.6 -0.1 -2.5 0.9 -7.7 4.3 -5 2.3 -7 2.5 -5.8 1.4z M290.8 293.2l-3 -0.3 -1.2 -0.6 -1 -0.8 -0.7 -1.1 -0.4 -1.2 0.5 -2.6 1.3 -1.9 2.3 -1.9 3.4 -2.2 5.6 -2.8 7.7 -3.1 4.5 -1.2 3.2 -0.5 2.3 0.1 2 0.6 1.6 1.2 2.4 2.7 1.3 0.5 1.2 0 1.5 -0.6 2.7 -1.9 0.9 -1.4 0.3 -2.3 -0.3 -13.3 0.3 -9.7 0.4 -1.7 1 -1.3 1.9 -1 3.1 -0.8 6.7 -1.3 5 -0.5 3.7 -0.1 2.3 0.3 1.7 0.7 1.6 1.4 1.1 2.3 0.4 3 -0.3 10.5 -0.6 6.2 -1.3 3.6 -4.5 8.7 -1.7 2.7 -1.4 1.5 -1.5 0.8 -2 0.4 -8 -0.3 -7.2 -1.1 -5.8 -2.2 -2.2 -0.3 -2.3 0.9 -9.5 5.4 -4.8 2.3 -7.7 2.8 -6.5 1.4z M344.8 283.4l-4.2 -0.2 -4.5 -0.6 -7.1 -1.5 -1.2 -0.7 -0.6 -0.8 0 -0.4 0.6 -0.8 3.2 -2.2 0.7 -1.8 -0.3 -14.2 0.6 -11.6 0.6 -1.2 1.2 -1.2 4.8 -1.7 7 -1.3 4.4 -0.3 2.8 0.2 1.5 0.5 1.4 1 0.9 1.6 0.6 2 0 11.2 -0.6 6.5 -1.5 4.3 -5.7 10.4 -2 2 -2.6 0.8z M292 292.4l-2.7 0.2 -2 -0.5 -1.6 -1.5 -0.6 -1.7 0.3 -1.7 1.2 -1.9 2 -1.8 3 -2 5.2 -2.8 5 -2.2 4.5 -1.5 5 -1.2 2.7 -0.3 2 0.4 1.8 0.9 1.4 1.6 0.7 2 -0.5 1.5 -2.4 1.9 -5 3 -4.4 2.5 -4.8 2 -5.8 2 -5 1.1z M345.8 282.4l-3 0.1 -4.5 -0.8 -2.3 -1 -1 -1.3 0 -4.8 -0.8 -8.4 0.8 -17 0.4 -1.3 0.9 -1 1.8 -1 2.7 -1 5.8 -1.2 6 0 1.4 0.5 1.3 1 0.9 1.4 0.4 1.8 0 10.8 -0.6 6.4 -1.4 4 -5.3 9.8 -1.5 2 -2 1z M290 292.2l-2 -0.4 -1.4 -0.9 -0.8 -1.5 0 -1.8 0.7 -1.4 1.3 -1.5 5 -3.4 9 -4.3 4.5 -1.5 5 -1.2 2.5 -0.3 2 0.3 1.5 0.8 1.2 1.3 0.4 1.2 0 1 -1 1.8 -2.1 1.6 -6 3.6 -4.5 2.2 -6.7 2.5 -5.3 1.4 -3.3 0.5z M345.3 281.7l-2.3 -0.1 -2.5 -0.7 -1.5 -0.8 -0.7 -1.2 -0.2 -4.3 -1 -7 0.5 -18.2 0.4 -1.2 0.8 -1 3.2 -1.8 4.8 -1.1 5.5 0 1.5 0.5 1.1 0.8 0.7 1.3 0.5 1.7 0 10.6 -0.6 6.2 -1.5 4.1 -5 9 -1.7 2.3 -2 0.9z M291.6 291.7l-2.3 0 -1.6 -0.5 -1.2 -1.3 -0.4 -1.5 0.4 -1.5 1.1 -1.5 4.4 -3.2 9.6 -4.7 8.4 -2.6 2.8 -0.4 2.2 0 1.6 0.7 1.3 1.2 0.4 2 -0.8 1.8 -1.9 1.5 -5 3 -4 2.1 -5 2 -5.3 1.8 -4.7 1.1z M345.6 278.9l-0.9 -0.3 -0.7 -1 -1.5 -8.2 -1.1 -12 0.2 -8 1 -2 2 -1.2 3.4 -0.8 4 -0.1 1.3 0.5 0.9 0.8 0.9 2.6 -0.1 10 -0.6 6 -1.1 3.2 -3.3 5.6 -2.7 3.8 -1 0.9 -0.7 0.2z M292 290.9l-2.2 0.2 -1.5 -0.4 -1.1 -1.1 -0.3 -1.2 0.3 -1.2 1.1 -1.5 4 -2.9 9 -4.5 7.7 -2.5 3.3 -0.6 2 -0.1 1.7 0.5 1.1 1 0.3 1.8 -1 1.8 -1.8 1.4 -5 3 -3.8 1.9 -4.5 1.7 -4.7 1.6 -4.6 1.1z M348.3 272.7l-0.7 -0.2 -0.7 -1.3 -3.1 -11 -0.5 -3.8 0.2 -5.2 0.6 -2.6 1.2 -1.3 2.5 -0.9 3.5 -0.3 1.2 0.3 0.8 0.5 0.7 1 0.3 1.2 -0.2 11.8 -0.6 3.7 -0.9 2.7 -2.3 3.7 -1 1.1 -1 0.6z M291 290.7l-1.7 -0.2 -1.2 -0.6 -0.7 -1.3 0.2 -1.2 0.7 -1.1 1.3 -1.2 4.4 -2.8 8.3 -4 7.5 -2.2 2.8 -0.6 1.7 0 1.5 0.5 0.8 0.9 0.3 1.5 -1.1 1.8 -7.5 4.6 -4 1.9 -5.7 2.1 -4.3 1.3 -3.3 0.6z M351.3 264.2l-0.7 0.2 -1 -0.3 -2.3 -2 -1.4 -2.7 -0.6 -3 0.2 -4 0.9 -3 1.4 -1.4 2.5 -0.6 1.3 0.1 1 0.6 0.5 1.1 0.2 1.4 -0.2 9.3 -0.8 2.8 -1 1.5z M292 290.2l-2 0.1 -1.2 -0.4 -0.8 -1 0 -1.3 0.6 -1 1.1 -1.2 4.3 -2.7 7.6 -3.7 6.7 -2.2 5.3 -0.9 1.4 0.3 1.2 1 0.1 1.4 -1 1.4 -7.3 4.5 -3.4 1.7 -4.8 1.8 -7.8 2.2z M292.6 289.7l-2 0.2 -1.3 -0.3 -0.7 -0.8 -0.1 -1.2 0.5 -1 1.3 -1.2 4.6 -2.8 7.1 -3.4 6 -2 5.3 -0.9 1.5 0.3 0.9 0.8 0 1.2 -0.9 1.3 -7 4.4 -6.8 2.8 -8.4 2.6z M291.8 289.4l-1.5 0 -1 -0.5 -0.3 -1 0.6 -1.3 2.5 -2 6 -3.2 5.7 -2.5 6.3 -1.7 3.5 -0.5 1 0.3 0.6 0.6 0 1 -1.1 1.3 -7.3 4.5 -9.1 3.5 -5.9 1.5z M292.3 288.9l-1.5 0 -1 -0.5 -0.1 -0.8 0.6 -1 2.6 -2 6.6 -3.4 4.8 -2.1 5.5 -1.5 3.2 -0.4 1 0.2 0.5 0.5 -0.1 1 -1 1 -6.9 4.3 -8.6 3.2 -5.6 1.5z M292.3 288.4l-1.3 -0.1 -0.5 -0.4 0.1 -0.7 0.9 -1 2.7 -1.8 6.7 -3.5 3.8 -1.5 3.8 -1 3.8 -0.6 0.8 0.1 0.5 0.4 -0.1 0.6 -1 1 -4.1 2.7 -2.8 1.6 -9.1 3.2 -4.2 1z M292.8 287.7l-0.8 -0.2 -0.2 -0.3 1.1 -1.3 8.6 -4.7 5.8 -2 3 -0.5 1.3 0.2 -0.2 0.7 -1.4 1.3 -4.4 2.8 -8.6 2.9 -4.2 1.1z M297 285.7l-1.3 -0.1 2.7 -2 4 -2.2 4.2 -1.4 1.7 -0.1 0.6 0.3 -0.1 0.4 -1 1 -3 1.8 -3.6 1.2 -4.2 1.1z M303.3 282.7l-0.2 -0.1 0.1 -0.2 0.4 -0.2 1.1 -0.3 -1.4 0.8z" fill="none" stroke="#2a2a2a" stroke-width="0.45" stroke-opacity="1.0" stroke-linejoin="round"/>
</g>
<rect x="269.5" y="216.5" width="98" height="97" fill="none" stroke="#8a8a8a" stroke-width="0.9" />
<line x1="315.5" y1="216.9" x2="315.5" y2="313" stroke="#6f6f6f" stroke-width="0.9" />
<line x1="269.3" y1="271.5" x2="367.1" y2="271.5" stroke="#6f6f6f" stroke-width="0.9" />
<text x="272.6" y="231.1" font-size="12.3" text-anchor="start" fill="#111" >2</text>
<text x="363.5" y="231.1" font-size="12.3" text-anchor="end" fill="#111" >44</text>
<text x="363.5" y="308.6" font-size="12.3" text-anchor="end" fill="#111" >20</text>
<g>
<path d="M398.3 294.8h0.65M469.0 253.8h0.65M407.5 247.6h0.65M463.0 251.4h0.65M418.5 293.9h0.65M418.0 261.9h0.65M397.2 280.4h0.65M476.3 287.3h0.65M423.7 263.3h0.65M404.4 276.1h0.65M466.4 233.2h0.65M458.1 291.7h0.65M451.3 236.1h0.65M422.6 262.8h0.65M420.1 260.8h0.65M420.5 251.4h0.65M411.8 241.9h0.65M463.8 270.9h0.65M424.8 259.2h0.65M409.8 256.8h0.65M409.7 238.9h0.65M398.6 280.0h0.65M394.1 304.4h0.65M407.3 297.6h0.65M464.8 242.7h0.65M418.3 248.0h0.65M461.3 290.4h0.65M448.8 291.3h0.65M433.5 292.3h0.65M405.8 276.1h0.65M463.0 245.6h0.65M409.5 243.5h0.65M470.8 269.7h0.65M415.3 247.2h0.65M409.0 263.4h0.65M403.5 256.7h0.65M463.6 265.9h0.65M408.4 266.3h0.65M416.6 255.1h0.65M384.3 299.9h0.65M423.5 256.8h0.65M417.4 259.8h0.65M432.9 292.5h0.65M406.4 252.4h0.65M414.8 277.9h0.65M393.3 288.4h0.65M464.5 259.6h0.65M408.8 269.0h0.65M438.2 238.5h0.65M416.7 262.5h0.65M413.7 259.3h0.65M417.8 251.4h0.65M405.7 260.8h0.65M464.8 283.8h0.65M410.3 248.6h0.65M442.0 290.8h0.65M449.8 303.2h0.65M459.3 231.5h0.65M409.0 307.0h0.65M453.7 292.0h0.65M420.7 295.9h0.65M409.1 265.1h0.65M425.3 233.5h0.65M464.1 283.3h0.65M398.1 241.0h0.65M464.4 288.2h0.65M416.7 253.5h0.65M463.8 282.6h0.65M421.0 255.4h0.65M425.7 239.2h0.65M464.8 275.1h0.65M454.3 291.6h0.65M408.9 249.4h0.65M420.0 261.4h0.65M406.7 295.2h0.65M404.8 270.1h0.65M410.2 263.4h0.65M423.5 254.3h0.65M399.4 281.5h0.65M441.8 237.6h0.65M419.1 271.2h0.65M466.3 274.6h0.65M421.7 260.0h0.65M416.5 267.9h0.65M448.2 292.5h0.65M423.8 259.6h0.65M408.2 276.0h0.65M421.3 276.3h0.65M448.0 292.2h0.65M418.2 274.6h0.65M397.8 296.2h0.65M415.6 298.3h0.65M435.5 238.9h0.65M411.9 262.4h0.65M423.5 243.4h0.65M419.8 279.1h0.65M423.0 258.7h0.65M416.0 249.9h0.65M464.7 261.7h0.65M463.2 275.1h0.65M465.5 264.4h0.65M398.5 280.9h0.65M395.8 276.0h0.65M465.4 249.0h0.65M423.1 245.5h0.65M424.0 265.3h0.65M420.8 265.1h0.65M417.1 256.1h0.65M438.6 239.1h0.65M413.0 261.1h0.65M410.9 265.9h0.65M451.8 237.6h0.65M420.0 255.9h0.65M395.1 284.4h0.65M476.0 281.7h0.65M453.9 303.4h0.65M469.9 249.6h0.65M421.6 262.2h0.65M438.3 234.6h0.65M431.3 234.8h0.65M407.4 266.7h0.65M416.4 261.9h0.65M467.4 269.6h0.65M463.4 253.9h0.65M381.9 284.8h0.65M423.0 266.2h0.65M428.0 296.3h0.65M411.5 261.3h0.65M416.9 263.5h0.65M415.9 253.0h0.65M418.4 260.5h0.65M463.6 276.4h0.65M415.7 258.8h0.65M420.2 247.2h0.65M463.2 283.4h0.65M464.7 280.3h0.65M411.9 293.1h0.65M390.5 281.6h0.65M416.1 238.9h0.65M421.8 243.7h0.65M424.3 254.2h0.65M466.5 274.2h0.65M403.7 256.2h0.65M420.6 261.2h0.65M422.2 267.4h0.65M437.7 239.0h0.65M397.8 295.3h0.65M463.8 257.9h0.65M464.2 258.3h0.65M445.8 237.3h0.65M399.4 296.2h0.65M430.0 290.3h0.65M424.5 253.8h0.65M410.4 267.3h0.65M414.5 262.8h0.65M406.0 270.0h0.65M463.7 262.8h0.65M417.2 259.7h0.65M416.7 256.5h0.65M453.3 299.3h0.65M469.2 276.0h0.65M425.0 244.2h0.65M471.4 282.0h0.65M404.8 246.4h0.65M416.3 266.0h0.65M399.4 276.9h0.65M423.4 252.3h0.65M423.2 261.5h0.65M466.9 265.6h0.65M398.5 294.7h0.65M469.1 279.1h0.65M466.5 245.1h0.65M449.1 238.4h0.65M421.1 253.0h0.65M396.0 281.1h0.65M463.6 270.0h0.65M401.9 276.7h0.65M391.4 291.6h0.65M403.3 296.3h0.65M415.6 257.5h0.65M443.3 234.0h0.65M449.3 238.3h0.65M442.6 236.4h0.65M407.1 295.4h0.65M413.5 242.7h0.65M405.2 295.3h0.65M401.7 299.0h0.65M410.3 257.3h0.65M455.2 292.3h0.65M413.3 277.0h0.65M450.7 227.9h0.65M415.7 267.3h0.65M410.8 270.7h0.65M415.7 260.8h0.65M448.4 295.2h0.65M436.6 292.5h0.65M439.7 298.7h0.65M455.5 237.3h0.65M450.8 238.9h0.65M455.2 236.4h0.65M418.5 252.5h0.65M405.5 276.2h0.65M463.7 273.0h0.65M402.6 257.4h0.65M463.6 264.5h0.65M400.5 278.7h0.65M400.9 277.0h0.65M452.4 291.8h0.65M406.9 255.2h0.65M424.8 254.8h0.65M449.9 237.6h0.65M422.9 251.8h0.65M433.8 292.8h0.65M453.7 298.6h0.65M400.1 280.5h0.65M467.6 290.1h0.65M410.3 255.4h0.65M416.1 277.3h0.65M413.5 249.8h0.65M415.1 264.3h0.65M415.0 258.0h0.65M414.5 247.1h0.65M463.8 269.5h0.65M394.1 296.0h0.65M410.1 276.7h0.65M418.2 295.1h0.65M412.8 293.4h0.65M458.8 293.4h0.65M418.3 254.9h0.65M449.3 291.7h0.65M405.1 244.0h0.65M404.4 270.1h0.65M423.1 264.8h0.65M422.4 279.2h0.65M442.6 292.5h0.65M411.0 259.3h0.65M391.7 286.4h0.65M464.4 282.4h0.65M450.1 292.4h0.65M467.5 268.0h0.65M465.5 264.3h0.65M445.6 231.2h0.65M441.5 295.4h0.65M395.8 273.3h0.65M400.5 276.5h0.65M407.7 247.1h0.65M463.2 254.4h0.65M424.8 263.3h0.65M417.8 242.9h0.65M451.6 300.9h0.65M400.9 297.2h0.65M458.6 240.0h0.65M441.8 291.6h0.65M409.3 270.8h0.65M458.9 290.0h0.65M414.0 272.5h0.65M463.6 290.4h0.65M417.2 264.8h0.65M418.2 265.1h0.65M418.9 255.1h0.65M400.9 257.1h0.65M399.4 295.9h0.65M401.0 276.2h0.65M407.9 302.9h0.65M418.4 262.8h0.65M412.5 295.7h0.65M408.8 260.8h0.65M454.4 292.4h0.65M469.5 282.6h0.65M402.8 278.9h0.65M463.1 274.9h0.65M416.4 259.1h0.65M423.1 266.9h0.65M408.7 275.3h0.65M390.4 289.0h0.65M468.9 253.4h0.65M423.8 260.3h0.65M452.5 300.7h0.65M407.2 274.4h0.65M455.1 236.9h0.65M412.8 276.9h0.65M409.0 273.4h0.65M402.1 274.9h0.65M414.0 259.2h0.65M463.1 258.9h0.65M403.5 243.0h0.65M398.4 294.1h0.65M454.5 292.5h0.65M419.0 275.7h0.65M422.9 244.2h0.65M463.8 285.8h0.65M469.1 265.6h0.65M449.3 295.0h0.65M424.5 261.6h0.65M395.1 292.0h0.65M444.3 294.4h0.65M412.8 269.4h0.65M422.9 275.4h0.65M412.9 298.1h0.65M410.9 241.1h0.65M401.8 274.8h0.65M419.4 247.5h0.65M401.9 277.2h0.65M444.4 237.6h0.65M431.1 240.3h0.65M463.0 278.2h0.65M397.7 279.2h0.65M413.8 253.8h0.65M402.3 249.3h0.65M447.9 292.7h0.65M415.0 260.8h0.65M419.6 257.5h0.65M400.9 273.7h0.65M419.5 270.9h0.65M408.9 294.1h0.65M463.6 288.9h0.65M462.8 243.8h0.65M421.5 278.4h0.65M424.4 256.3h0.65M420.2 261.8h0.65M412.2 300.5h0.65M393.7 282.8h0.65M465.3 285.8h0.65M463.0 249.9h0.65M416.2 278.0h0.65M421.8 253.3h0.65M463.1 265.1h0.65M451.8 291.9h0.65M445.2 238.5h0.65M448.7 233.0h0.65M411.7 257.9h0.65M416.0 249.2h0.65M414.9 278.2h0.65M439.9 291.1h0.65M413.4 292.2h0.65M422.8 259.8h0.65M438.1 294.5h0.65M464.6 286.9h0.65M420.2 238.3h0.65M419.4 274.3h0.65M414.7 258.6h0.65M408.2 264.8h0.65M464.2 273.5h0.65M395.0 281.0h0.65M424.8 275.7h0.65M387.6 292.2h0.65M463.1 265.4h0.65M434.4 294.7h0.65M462.9 259.7h0.65M393.9 284.2h0.65M465.6 254.2h0.65M430.7 293.5h0.65M400.4 278.0h0.65M409.9 275.2h0.65M406.2 256.0h0.65M401.7 249.1h0.65M464.2 284.4h0.65M406.4 268.1h0.65M416.2 242.5h0.65M416.5 290.1h0.65M423.4 264.8h0.65M470.3 267.0h0.65M422.9 257.4h0.65M428.9 295.7h0.65M446.1 238.3h0.65M463.9 270.8h0.65M409.8 276.3h0.65M444.4 291.9h0.65M462.1 242.0h0.65M451.3 292.2h0.65M400.9 275.7h0.65M421.0 269.0h0.65M391.9 290.3h0.65M393.0 284.0h0.65M405.9 264.4h0.65M383.8 287.0h0.65M410.5 274.5h0.65M407.3 296.3h0.65M466.7 249.3h0.65M398.1 294.5h0.65M406.8 261.1h0.65M455.0 238.5h0.65M401.6 297.3h0.65M419.0 258.6h0.65M408.1 251.1h0.65M425.3 241.8h0.65M436.2 230.9h0.65M402.8 296.4h0.65M400.9 278.5h0.65M402.4 298.9h0.65M433.2 238.7h0.65M414.9 243.9h0.65M420.0 265.2h0.65M464.8 285.4h0.65M459.8 289.7h0.65M456.4 292.0h0.65M419.8 279.0h0.65M417.4 253.2h0.65M406.0 251.8h0.65M472.3 263.2h0.65M422.5 256.5h0.65M446.0 237.7h0.65M431.8 238.8h0.65M416.5 271.5h0.65M423.8 253.5h0.65M406.8 295.3h0.65M424.4 259.2h0.65M410.9 255.0h0.65M447.1 292.3h0.65M444.8 294.2h0.65M407.1 276.1h0.65M467.7 275.1h0.65M464.5 263.6h0.65M420.6 267.9h0.65M465.0 275.4h0.65M454.4 236.3h0.65M403.4 258.8h0.65M463.9 285.0h0.65M455.3 293.3h0.65M419.0 291.3h0.65M417.3 276.6h0.65M419.0 260.5h0.65M413.5 276.3h0.65M417.0 247.1h0.65M424.9 278.7h0.65M467.2 257.3h0.65M471.6 275.4h0.65M421.6 254.8h0.65M405.3 277.6h0.65M452.3 291.9h0.65M436.9 295.1h0.65M465.3 257.4h0.65M395.9 276.4h0.65M423.0 257.1h0.65M463.7 261.7h0.65M415.6 272.2h0.65M463.1 278.6h0.65M446.5 234.0h0.65M448.1 229.1h0.65M453.1 298.0h0.65M423.1 271.7h0.65M460.0 240.8h0.65M468.3 252.4h0.65M431.9 237.3h0.65M434.7 291.2h0.65M419.4 266.7h0.65M410.4 247.1h0.65M412.9 258.5h0.65M422.2 259.5h0.65M402.6 247.8h0.65M420.6 276.4h0.65M454.5 238.2h0.65M402.6 299.4h0.65M464.9 270.5h0.65M423.2 249.6h0.65M394.5 292.4h0.65M418.5 291.7h0.65M416.2 277.7h0.65M410.3 271.7h0.65M464.3 292.2h0.65M403.4 295.7h0.65M410.7 302.1h0.65M465.6 249.5h0.65M417.8 248.5h0.65M441.7 301.4h0.65M462.6 289.1h0.65M407.0 277.9h0.65M416.5 241.8h0.65M416.6 257.8h0.65M424.3 264.0h0.65M416.6 254.9h0.65M417.0 272.8h0.65M415.7 261.9h0.65M419.6 262.4h0.65M416.2 264.7h0.65M460.2 234.3h0.65M466.1 252.2h0.65M417.8 270.8h0.65M417.2 248.9h0.65M411.8 259.2h0.65M423.4 264.1h0.65M405.6 249.8h0.65M415.9 259.3h0.65M422.3 264.1h0.65M410.5 248.9h0.65M464.2 265.9h0.65M464.5 270.0h0.65M465.3 270.5h0.65M470.8 244.0h0.65M410.5 251.6h0.65M407.0 276.1h0.65M448.8 237.7h0.65M410.3 260.4h0.65M405.1 250.8h0.65M463.9 248.0h0.65M421.4 249.1h0.65M401.2 242.3h0.65M422.9 244.5h0.65M396.1 298.5h0.65M432.6 292.5h0.65M420.9 277.2h0.65M468.0 253.9h0.65M395.5 298.9h0.65M408.6 262.0h0.65M444.0 237.4h0.65M422.2 253.9h0.65M454.3 297.2h0.65M405.4 247.3h0.65M401.2 295.6h0.65M418.1 277.0h0.65M406.4 272.8h0.65M470.1 246.4h0.65M436.5 292.8h0.65M419.9 273.1h0.65M414.4 267.1h0.65M464.6 255.7h0.65M431.1 237.6h0.65M449.0 235.1h0.65M403.3 258.7h0.65M424.6 252.0h0.65M437.0 238.0h0.65M422.1 245.9h0.65M449.5 237.2h0.65M432.2 294.4h0.65M393.9 286.1h0.65M466.7 266.3h0.65M389.7 280.3h0.65M424.8 264.1h0.65M443.0 291.4h0.65M464.4 275.1h0.65M419.5 248.5h0.65M412.2 300.5h0.65M418.8 257.0h0.65M468.0 280.3h0.65M405.2 262.7h0.65M415.2 277.1h0.65M466.9 270.5h0.65M438.1 292.8h0.65M437.7 239.2h0.65M423.4 249.5h0.65M464.8 284.7h0.65M408.5 262.8h0.65M408.4 295.1h0.65M420.9 250.8h0.65M423.0 271.9h0.65M466.9 242.7h0.65M386.7 295.5h0.65M464.5 278.8h0.65M437.6 293.5h0.65M411.7 256.7h0.65" stroke="#555" stroke-width="0.65" fill="none"/>
<path d="M405.1 294.9l-2.7 0.1 -2.8 -0.8 -2 -1.3 -1.3 -2 -0.6 -2.5 0.5 -2.5 1.2 -2.3 2.2 -2.2 2 -1.4 2.5 -1.2 2.7 -1 2.8 -0.5 3.5 0.3 4.7 2.2 2 0.5 3.3 0 1 -0.4 0.6 -0.7 0.4 -2.6 0.1 -28.4 0.6 -3.3 1.7 -2.5 2.6 -1.7 3.5 -0.9 6.8 -0.8 9.2 -0.3 3.5 0.1 2.7 0.4 2.6 1.1 1.7 1.4 1.8 2.7 0.8 3.8 0.1 29.7 -0.1 3.7 -0.4 2.6 -0.8 2 -1.5 2 -1.9 1.3 -1.7 0.8 -4.8 0.7 -5.5 -0.2 -14.3 -1.2 -5.7 0.4 -8.5 -0.5 -2 0.6 -6 3.4 -4.5 1.4z M405.6 293.9l-3 0.2 -2.5 -0.6 -1.9 -1.3 -1.2 -2 -0.3 -2.3 0.5 -2.3 1.5 -2.2 2.4 -2.1 4.3 -2.1 4.4 -1 1.8 0 1.8 0.4 4.7 2.8 2.1 0.5 2.4 0.1 1.8 -0.2 1.3 -0.6 0.9 -1.3 0.4 -2.5 0.1 -29.2 0.6 -3 1.4 -2 2.5 -1.5 4 -0.9 5.5 -0.7 9 -0.3 3 0 2.5 0.4 2 0.8 1.8 1.4 1.6 2.5 0.8 3.5 0 29.2 -0.4 6 -0.8 2 -1.3 1.8 -1.5 1.1 -1.7 0.8 -2.3 0.5 -2.7 0.2 -5.3 -0.2 -14.1 -1.6 -5.3 0.3 -8.3 -0.5 -2 0.6 -6 3.7 -4.5 1.6z M404.6 293.4l-2.5 0 -2.3 -0.8 -1.7 -1.7 -0.7 -2 0.1 -2 1.1 -2.3 1.8 -1.9 2.4 -1.7 4.8 -1.8 2.2 -0.4 1.8 0.1 3 1.1 4.2 3.4 3.6 0.4 2 -0.2 1.7 -0.6 1.5 -1 0.9 -1.1 0.5 -2.7 -0.2 -13.3 0.3 -17 0.4 -2.3 1.2 -1.7 2.7 -1.4 5 -1.2 12.2 -0.7 2.8 0 2.2 0.4 2 0.9 1.4 1.3 1.5 2.4 0.5 3.3 0 30 -0.1 3 -0.4 2 -0.8 1.7 -1.1 1.4 -1.5 1 -2 0.8 -5.3 0.4 -5.4 -0.4 -12.8 -2.1 -4.8 0.3 -7.7 -0.8 -2 0.7 -6.7 4.6 -3 1.3 -2.8 0.6z M453.4 288.4l-6.6 -0.1 -9.2 -1.6 -4 -1.3 -1.6 -1 -0.6 -0.8 0.3 -4.7 -0.3 -9.5 0.2 -22 0.4 -1.5 0.5 -1 2.3 -1.5 3 -1 3.3 -0.6 12 -0.5 2.3 0.4 1.7 0.8 1.5 1.2 1.1 1.7 0.5 2.2 0.2 3 -0.2 31.6 -0.7 2.4 -1.4 1.9 -2 1.2 -2.7 0.7z M404.1 292.9l-2 -0.1 -1.5 -0.5 -1.3 -0.9 -0.9 -1.2 -0.4 -1.6 0.1 -1.4 0.7 -1.8 1.1 -1.5 1.7 -1.4 2 -1.2 5 -1.8 3.5 0 1.5 0.6 1.5 1.1 1.3 1.4 0.6 1.6 -0.2 1.2 -0.9 1.2 -2.5 2.3 -3 2 -3.3 1.4 -3 0.6z M452.4 287.9l-5.6 -0.2 -6.8 -1.5 -3.7 -1.6 -0.8 -0.7 -0.6 -1 -0.6 -11 0.3 -8.7 -0.1 -16 0.3 -1.3 0.7 -1 1.5 -1 1.9 -0.7 4.5 -0.8 7.7 -0.4 3 0.1 2 0.6 1.5 0.9 1.1 1.3 0.7 1.5 0.3 2 0.1 3.2 0 26.8 -0.3 4 -0.7 2.2 -1.4 1.7 -2.3 1.2 -2.7 0.4z M404.4 292.4l-1.8 0 -1.5 -0.4 -1.3 -0.8 -1 -1.3 -0.3 -1.3 0.1 -1.4 0.6 -1.6 1.1 -1.4 3.3 -2.4 5 -1.8 1.8 -0.2 1.7 0.2 1.3 0.5 1.2 0.9 1.1 1.5 0.4 1.5 -0.4 1.2 -1.1 1.6 -2.2 1.9 -2.6 1.5 -3 1.3 -2.4 0.5z M452.4 287.4l-5 -0.2 -4.8 -1.2 -3.4 -1.6 -1 -1 -0.5 -1.2 -0.6 -8.3 0.2 -9 -0.5 -9 0 -8.5 0.2 -1.2 0.7 -1 1.1 -0.9 1.8 -0.7 10 -1 3.8 0.1 1.7 0.6 1.3 0.8 1 1.3 0.6 1.5 0.3 5 -0.2 9.7 0.2 16.6 -0.2 4 -0.7 2.1 -1.4 1.6 -1.9 1 -2.7 0.5z M405.1 291.9l-1.7 0.2 -1.6 -0.3 -1.4 -0.6 -0.9 -1 -0.6 -1.3 0 -1.3 0.4 -1.2 0.9 -1.5 2.9 -2.4 4.7 -1.9 3.6 -0.3 1.4 0.4 1.2 0.7 1 1.2 0.5 1.3 -0.3 1.5 -0.7 1.2 -1.7 1.6 -2.2 1.6 -3 1.4 -2.5 0.7z M452.6 286.7l-4.2 -0.1 -3.6 -0.9 -2.5 -1.5 -0.8 -1 -0.5 -1.3 -0.3 -3.3 0.2 -8 -1.8 -12.2 -0.2 -5 0.3 -5 0.4 -1.8 0.9 -1.2 1.9 -0.8 8.7 -1.1 3 0 1.5 0.5 1.2 0.8 0.9 1.1 0.6 1.5 0.3 4.5 -0.3 9.5 0.3 15.5 -0.2 4.7 -0.6 2 -1.1 1.6 -1.7 1 -2.4 0.5z M405.1 291.4l-3 0 -1.3 -0.6 -0.8 -0.9 -0.5 -1.3 0 -1.2 0.4 -1.2 0.9 -1.3 3 -2.3 4.3 -1.6 3.3 -0.2 2.2 1 0.9 1.1 0.3 1.3 -0.3 1.2 -1 1.5 -1.7 1.5 -2 1.2 -2.4 1.2 -2.3 0.6z M453.1 286.2l-3.5 0.1 -3 -0.5 -2.4 -1.2 -1.5 -1.7 -0.4 -1.5 -0.2 -2.2 0.6 -8 -2.1 -9 -0.8 -7 0.7 -6.6 0.5 -1.4 0.8 -1 2 -0.9 9 -1.3 2.6 0.4 1.7 1.5 0.8 2 0.2 3.7 -0.3 9.8 0.3 15 -0.1 5 -0.6 2 -0.9 1.2 -1.4 1 -2 0.6z M404.8 291.2l-2.7 -0.1 -1.3 -0.7 -0.6 -0.8 -0.4 -1 0 -1.2 0.5 -1.2 0.9 -1.3 2.9 -2.1 4.3 -1.6 3 -0.1 2.1 1.1 0.7 1 0.2 1.2 -0.4 1.2 -0.9 1.3 -1.5 1.3 -2.2 1.4 -4.6 1.6z M451.4 285.9l-2.8 -0.1 -2.3 -0.6 -1.8 -1.3 -0.9 -1.5 -0.4 -1.8 0 -2.2 1.2 -5.8 0 -1.7 -2.8 -8.6 -0.8 -4.4 -0.1 -3.5 0.9 -4.6 0.7 -1.4 0.8 -0.9 7.2 -2.3 3.3 -0.5 1.5 0.3 1.3 0.9 0.7 1.3 0.4 1.7 0.1 5 -0.4 7.7 0.4 18.3 -0.4 2.7 -1.1 1.7 -1.8 1.1 -2.9 0.5z M404.8 290.9l-2.7 -0.1 -1 -0.6 -0.7 -0.8 -0.4 -1 0.1 -1.2 1.5 -2.3 3 -2 4 -1.5 2.8 -0.1 1.9 1.1 0.6 1 0.2 1.2 -0.4 1 -0.9 1.3 -3.7 2.5 -4.3 1.5z M451.8 285.4l-2.7 0 -2.1 -0.5 -1.6 -1.1 -1 -1.6 -0.4 -2 0.2 -2.6 2.1 -6 0.2 -1.4 -0.5 -1.3 -2.2 -3.3 -1 -2.4 -1 -4.3 -0.2 -3.5 0.5 -2.9 1.3 -2 1.4 -0.5 3.3 0.7 0.7 -0.8 1.2 -2.3 0.8 -1 1.3 -0.7 1.7 -0.3 1.3 0.3 0.9 0.7 0.6 1.1 0.3 1.7 0.1 5 -0.6 7.2 0.7 17.8 -0.3 2.5 -0.9 1.7 -1.5 1.2 -2.6 0.6z M404.8 290.7l-2.4 -0.1 -1 -0.5 -0.8 -0.9 -0.3 -1 0.1 -1 1.3 -2 2.7 -1.9 4 -1.6 2.7 -0.1 1.8 0.8 0.7 1 0.2 1 -0.4 1.2 -0.8 1.1 -3.5 2.4 -4.3 1.6z M454.8 258.4l-0.7 0 -0.9 -1.2 -0.6 -1.8 -0.3 -2.2 0.1 -2.6 0.4 -2 0.7 -1 0.9 -0.3 0.7 0.2 0.5 0.7 0.6 3 -0.3 4.7 -0.5 1.8 -0.6 0.7z M446.8 265l-1 0 -1.2 -1.2 -0.9 -1.6 -0.7 -2.3 -0.4 -2.5 0.1 -2 0.5 -1.5 0.9 -0.8 1 0.2 1 1 1.4 3.6 0.5 4.7 -0.3 1.6 -0.9 0.8z M451.6 284.9l-3.2 -0.1 -2.3 -1.2 -1.1 -2 -0.2 -3 0.6 -2.2 1 -2 1.4 -1.7 3.6 -3 1.9 -4.3 1.1 -1 0.7 0.7 0.6 2.3 0.8 8.5 -0.1 4.7 -0.5 1.8 -0.9 1.2 -1.4 0.8 -2 0.5z M404.8 290.4l-2.4 -0.1 -1.5 -1.1 -0.3 -1 0.1 -1 1.3 -2 2.6 -1.8 3.8 -1.4 2.4 -0.2 2 0.8 0.6 1 0 1 -1.1 2 -3.5 2.4 -4 1.4z M451.4 284.4l-2.8 -0.1 -2 -1.1 -1 -2.3 0.1 -2.7 0.9 -2.3 1.8 -1.8 2.2 -1 3.2 -0.5 1 0.8 0.7 2 0.3 2.8 -0.3 2.7 -0.4 1.3 -0.8 1 -1.2 0.7 -1.7 0.5z M404.8 290.2l-2.2 -0.1 -0.9 -0.5 -0.6 -0.7 -0.1 -1.7 1.4 -2 2.7 -1.8 3.5 -1.2 2.2 -0.2 1.8 0.9 0.5 0.7 0 1 -0.4 1 -0.9 1.1 -3.2 2.1 -3.8 1.4z M451.4 283.7l-1.8 0.2 -1.8 -0.6 -1 -1.1 -0.6 -1.8 0.2 -2 0.9 -2 1.3 -1.2 1.8 -0.6 1.7 0.1 1.3 0.6 0.8 1.1 0.4 1.5 -0.1 2.3 -0.6 1.7 -1.1 1.1 -1.4 0.7z M404.8 289.9l-2.2 -0.1 -1.2 -1.1 0 -1.7 1.2 -1.7 2.5 -1.6 3.5 -1.3 2.2 -0.1 1.6 0.8 0.4 0.8 0 0.7 -0.4 1 -0.8 1 -3.2 2.1 -3.6 1.2z M451.1 282.9l-1.5 0.2 -1.2 -0.4 -0.9 -0.8 -0.5 -1.3 0 -1.4 0.5 -1.6 0.9 -1 1.2 -0.6 1.2 0 1.1 0.4 0.8 0.8 0.5 1.2 0.1 1.5 -0.3 1.3 -0.7 1 -1.2 0.7z M404.8 289.7l-2 -0.1 -1.1 -1 -0.1 -1.4 1.2 -1.8 2.4 -1.5 3.4 -1.2 2 -0.2 1.5 0.8 0.4 0.6 -0.1 1 -1.2 1.7 -3.3 2 -3.1 1.1z M450.6 281.9l-1 0.2 -0.8 -0.3 -0.9 -1.4 0 -1 0.3 -1 0.6 -0.7 0.8 -0.4 1.5 0.3 0.8 1.3 -0.1 1.7 -1.2 1.3z M404.8 289.4l-1.7 -0.1 -1.2 -0.9 0.1 -1.5 1.3 -1.5 2.3 -1.4 3 -1.1 2 -0.1 1.2 0.7 0.4 0.7 -0.1 0.7 -1.3 1.7 -3 1.8 -3 1z M404.6 289.2l-1.5 -0.2 -0.8 -0.8 0.1 -1.3 1.2 -1.4 2.2 -1.3 2.8 -1 1.8 -0.1 1.1 0.5 0.2 1.3 -1.1 1.5 -3 1.8 -3 1z M405.4 288.7l-1.8 0.1 -0.9 -0.6 0.1 -1.3 1 -1.2 1.8 -1.1 2.8 -1 1.7 -0.2 1 0.5 0.2 1 -0.9 1.3 -2.4 1.4 -2.6 1.1z M405.1 288.4l-1.3 0 -0.6 -0.5 0.1 -1 0.8 -1 1.7 -1 2.6 -0.9 1.4 -0.2 0.8 0.4 0.1 1 -0.9 1 -2.5 1.4 -2.2 0.8z M405.1 287.9l-0.8 0 -0.5 -0.5 0.2 -0.8 0.8 -0.7 3.6 -1.5 1 -0.1 0.6 0.3 -0.1 0.8 -0.8 0.8 -2.3 1.2 -1.7 0.5z M406.1 286.9l-0.7 0.1 -0.2 -0.4 1.6 -1 1.3 -0.1 -0.4 0.7 -1.6 0.7z" fill="none" stroke="#2a2a2a" stroke-width="0.45" stroke-opacity="1.0" stroke-linejoin="round"/>
</g>
<rect x="378.5" y="216.5" width="98" height="97" fill="none" stroke="#8a8a8a" stroke-width="0.9" />
<line x1="424.5" y1="216.9" x2="424.5" y2="313" stroke="#6f6f6f" stroke-width="0.9" />
<line x1="378.6" y1="272.5" x2="476.4" y2="272.5" stroke="#6f6f6f" stroke-width="0.9" />
<text x="381.9" y="231.1" font-size="12.3" text-anchor="start" fill="#111" >4</text>
<text x="472.8" y="231.1" font-size="12.3" text-anchor="end" fill="#111" >54</text>
<text x="472.8" y="308.6" font-size="12.3" text-anchor="end" fill="#111" >29</text>
<g>
<path d="M544.4 289.4h0.65M541.2 293.2h0.65M507.4 294.2h0.65M520.4 262.7h0.65M528.1 295.9h0.65M563.0 286.4h0.65M556.1 292.6h0.65M524.6 266.3h0.65M522.9 257.5h0.65M529.3 271.6h0.65M506.4 283.0h0.65M574.0 278.0h0.65M507.5 293.2h0.65M516.6 258.2h0.65M531.7 276.4h0.65M531.2 290.9h0.65M507.3 259.7h0.65M568.5 249.0h0.65M518.0 261.9h0.65M532.7 277.1h0.65M515.8 253.4h0.65M530.7 274.1h0.65M510.7 271.4h0.65M530.4 268.9h0.65M518.7 264.8h0.65M512.9 274.1h0.65M532.7 273.9h0.65M552.9 288.5h0.65M528.5 264.6h0.65M524.1 294.7h0.65M513.6 257.1h0.65M521.9 274.0h0.65M521.6 259.2h0.65M570.4 256.8h0.65M518.5 267.2h0.65M530.9 287.6h0.65M543.6 236.8h0.65M531.5 268.8h0.65M517.1 253.2h0.65M504.9 276.5h0.65M522.8 260.2h0.65M531.1 265.5h0.65M523.7 271.6h0.65M512.6 294.8h0.65M559.7 287.9h0.65M542.2 238.3h0.65M521.8 292.9h0.65M525.5 291.7h0.65M513.5 274.3h0.65M568.8 251.0h0.65M517.6 270.2h0.65M521.3 274.6h0.65M534.3 284.9h0.65M572.1 234.8h0.65M526.7 290.1h0.65M521.2 295.0h0.65M531.2 287.5h0.65M528.2 268.6h0.65M517.6 255.9h0.65M536.8 288.8h0.65M532.4 262.7h0.65M535.0 232.7h0.65M572.5 250.5h0.65M531.5 298.2h0.65M523.6 266.9h0.65M569.9 282.1h0.65M569.3 275.6h0.65M532.0 268.0h0.65M533.0 270.5h0.65M516.0 300.4h0.65M568.6 275.1h0.65M536.1 285.1h0.65M532.1 274.7h0.65M520.0 293.8h0.65M574.0 279.8h0.65M522.7 260.0h0.65M522.8 258.5h0.65M540.2 288.0h0.65M558.8 291.2h0.65M516.1 296.5h0.65M559.4 290.2h0.65M525.3 261.0h0.65M573.7 266.0h0.65M523.2 273.4h0.65M517.2 267.2h0.65M536.5 237.7h0.65M562.8 297.5h0.65M507.8 293.5h0.65M518.2 262.1h0.65M503.9 268.4h0.65M532.3 263.9h0.65M532.0 275.4h0.65M520.1 266.0h0.65M529.6 266.7h0.65M560.0 238.9h0.65M568.9 265.5h0.65M533.0 284.6h0.65M570.8 263.9h0.65M529.4 236.5h0.65M537.3 292.1h0.65M514.4 272.9h0.65M535.0 233.3h0.65M515.9 248.3h0.65M530.2 274.2h0.65M520.8 272.5h0.65M557.4 291.7h0.65M518.0 262.2h0.65M534.6 290.4h0.65M502.4 266.0h0.65M523.3 269.7h0.65M512.9 275.8h0.65M509.7 278.6h0.65M517.2 270.1h0.65M517.0 257.6h0.65M556.0 296.1h0.65M529.3 259.6h0.65M573.9 261.6h0.65M514.4 261.0h0.65M576.5 240.1h0.65M566.4 243.9h0.65M521.4 272.1h0.65M530.8 268.9h0.65M513.6 258.9h0.65M541.5 239.3h0.65M512.8 262.3h0.65M569.4 267.1h0.65M558.4 293.2h0.65M508.3 293.3h0.65M560.0 238.6h0.65M568.5 272.4h0.65M517.2 269.4h0.65M576.9 267.6h0.65M499.2 251.7h0.65M572.3 253.5h0.65M557.2 237.9h0.65M532.4 287.5h0.65M509.8 262.3h0.65M545.5 239.5h0.65M522.6 261.5h0.65M518.8 269.6h0.65M550.0 288.2h0.65M565.9 240.5h0.65M543.0 238.0h0.65M548.2 231.3h0.65M534.9 286.4h0.65M514.6 259.9h0.65M555.9 239.4h0.65M525.4 263.9h0.65M529.5 269.2h0.65M544.9 236.3h0.65M535.3 283.9h0.65M559.2 235.4h0.65M556.9 239.4h0.65M514.2 255.3h0.65M523.8 265.7h0.65M572.4 248.2h0.65M554.5 289.1h0.65M531.3 274.6h0.65M518.0 302.1h0.65M504.1 268.2h0.65M569.1 273.6h0.65M532.8 263.7h0.65M527.5 262.5h0.65M510.7 273.0h0.65M569.8 281.1h0.65M513.7 277.1h0.65M526.8 262.2h0.65M505.2 280.0h0.65M513.5 303.0h0.65M505.1 281.5h0.65M569.6 261.1h0.65M520.0 296.1h0.65M525.5 290.5h0.65M571.6 251.8h0.65M525.9 258.0h0.65M517.7 240.9h0.65M529.6 231.5h0.65M530.1 262.1h0.65M527.3 289.6h0.65M520.6 273.9h0.65M517.3 268.7h0.65M511.4 279.1h0.65M527.2 267.4h0.65M567.7 284.4h0.65M560.1 294.0h0.65M517.0 255.8h0.65M511.3 257.0h0.65M573.8 257.0h0.65M567.8 240.9h0.65M508.4 281.7h0.65M506.3 281.5h0.65M516.8 226.9h0.65M569.0 257.1h0.65M511.5 240.9h0.65M564.5 241.7h0.65M511.3 263.8h0.65M523.5 297.8h0.65M526.1 273.2h0.65M540.5 237.2h0.65M524.0 295.9h0.65M538.0 286.2h0.65M568.7 248.7h0.65M551.2 237.3h0.65M570.6 286.7h0.65M541.6 226.5h0.65M524.9 264.7h0.65M513.2 262.3h0.65M518.3 255.8h0.65M531.3 236.7h0.65M568.1 283.2h0.65M529.4 267.2h0.65M525.5 269.7h0.65M574.2 277.5h0.65M543.8 239.0h0.65M526.6 259.9h0.65M569.6 265.9h0.65M512.8 252.8h0.65M523.3 267.2h0.65M545.2 288.3h0.65M525.5 259.5h0.65M546.2 289.3h0.65M570.4 255.0h0.65M518.0 243.1h0.65M515.6 254.0h0.65M567.9 229.9h0.65M530.2 287.5h0.65M518.0 262.3h0.65M525.4 272.7h0.65M517.6 295.1h0.65M527.6 237.3h0.65M570.2 242.4h0.65M530.6 264.5h0.65M509.0 281.2h0.65M570.1 268.8h0.65M504.9 291.5h0.65M541.2 287.5h0.65M548.3 289.0h0.65M530.3 270.9h0.65M518.3 258.3h0.65M529.9 291.0h0.65M528.9 270.6h0.65M505.7 294.3h0.65M568.4 262.4h0.65M530.1 264.3h0.65M516.8 273.8h0.65M526.6 239.3h0.65M523.9 257.9h0.65M529.5 265.2h0.65M504.3 272.5h0.65M517.4 296.2h0.65M551.8 227.4h0.65M531.0 262.1h0.65M526.6 265.7h0.65M523.9 267.1h0.65M570.3 264.0h0.65M551.2 238.5h0.65M536.2 236.0h0.65M515.5 294.5h0.65M568.0 253.2h0.65M526.9 289.8h0.65M545.9 227.9h0.65M527.1 271.4h0.65M534.2 287.1h0.65M548.7 238.7h0.65M561.7 290.2h0.65M532.1 287.3h0.65M528.7 262.5h0.65M572.5 284.5h0.65M512.2 268.5h0.65M574.0 244.3h0.65M531.1 264.4h0.65M537.2 239.1h0.65M528.3 268.6h0.65M521.6 273.5h0.65M532.5 271.6h0.65M568.3 267.7h0.65M517.1 274.9h0.65M540.7 237.5h0.65M520.6 265.0h0.65M521.8 292.8h0.65M523.7 265.5h0.65M551.0 236.5h0.65M514.9 266.9h0.65M528.3 264.4h0.65M523.5 258.8h0.65M568.8 271.7h0.65M508.5 268.9h0.65M530.0 295.2h0.65M522.7 269.9h0.65M540.9 295.9h0.65M515.7 266.2h0.65M568.7 252.3h0.65M532.1 235.8h0.65M570.5 271.7h0.65M520.3 255.2h0.65M513.8 275.6h0.65M511.2 263.4h0.65M528.7 292.6h0.65M515.7 277.1h0.65M531.3 295.3h0.65M522.7 261.0h0.65M530.4 288.7h0.65M569.1 262.8h0.65M520.7 271.1h0.65M517.0 240.0h0.65M530.6 271.2h0.65M532.7 283.6h0.65M571.5 262.7h0.65M552.1 289.0h0.65M517.1 262.9h0.65M519.4 268.2h0.65M542.7 237.9h0.65M514.0 273.9h0.65M518.4 258.5h0.65M547.7 289.3h0.65M526.2 272.1h0.65M507.5 270.7h0.65M535.2 285.6h0.65M568.5 263.3h0.65M536.8 234.9h0.65M518.1 254.5h0.65M571.7 279.1h0.65M512.3 246.9h0.65M563.7 238.5h0.65M546.1 237.6h0.65M529.1 234.6h0.65M528.2 268.5h0.65M544.3 236.4h0.65M507.4 274.2h0.65M524.7 259.7h0.65M531.7 262.0h0.65M539.3 289.2h0.65M565.8 240.2h0.65M514.9 271.9h0.65M518.2 263.4h0.65M513.0 269.4h0.65M514.9 276.7h0.65M519.1 296.0h0.65M521.7 257.1h0.65M531.9 290.6h0.65M568.1 249.6h0.65M524.1 260.8h0.65M567.5 292.3h0.65M531.5 259.2h0.65M570.9 265.8h0.65M573.1 274.1h0.65M524.9 294.6h0.65M568.3 275.6h0.65M507.4 249.3h0.65M529.7 274.6h0.65M522.6 303.8h0.65M524.6 261.8h0.65M515.6 274.3h0.65M513.9 266.4h0.65M516.0 271.7h0.65M545.1 225.8h0.65M568.6 232.0h0.65M506.4 252.8h0.65M519.0 302.3h0.65M516.1 266.7h0.65M532.0 276.1h0.65M519.8 294.2h0.65M523.7 269.4h0.65M515.1 272.8h0.65M565.3 292.6h0.65M567.9 246.9h0.65M571.9 259.8h0.65M568.8 248.4h0.65M536.5 287.4h0.65M516.8 267.0h0.65M531.5 262.3h0.65M569.4 260.4h0.65M520.4 273.9h0.65M516.7 269.8h0.65M526.7 259.1h0.65M507.7 279.6h0.65M571.0 259.7h0.65M571.5 290.2h0.65M568.0 286.0h0.65M568.6 258.3h0.65M515.5 250.4h0.65M516.7 294.6h0.65M574.8 272.6h0.65M517.2 294.7h0.65M517.1 256.6h0.65M552.7 289.4h0.65M532.2 261.1h0.65M569.7 255.8h0.65M516.0 246.0h0.65M565.9 287.2h0.65M518.2 254.0h0.65M509.0 292.9h0.65M529.1 295.5h0.65M518.4 239.1h0.65M510.1 280.4h0.65M569.8 267.6h0.65M528.1 289.8h0.65M507.6 290.7h0.65M513.8 297.4h0.65M521.5 270.9h0.65M531.1 271.6h0.65M514.8 234.1h0.65M569.4 284.2h0.65M508.1 293.7h0.65M511.4 251.1h0.65M507.4 281.4h0.65M507.9 276.2h0.65M519.3 265.1h0.65M516.2 273.8h0.65M507.0 283.3h0.65M530.7 233.7h0.65M512.7 265.9h0.65M559.4 291.1h0.65M568.1 238.6h0.65M531.0 232.6h0.65M571.4 275.3h0.65M519.2 295.6h0.65M571.6 246.1h0.65M558.9 287.8h0.65M513.8 270.2h0.65M528.9 290.2h0.65M509.7 270.5h0.65M546.1 239.8h0.65M574.6 253.2h0.65M555.8 239.4h0.65M511.5 280.1h0.65M526.8 290.6h0.65M566.8 244.5h0.65M518.3 265.5h0.65M525.3 262.0h0.65M554.9 233.9h0.65M530.5 259.4h0.65M571.5 258.6h0.65M513.2 275.9h0.65M521.0 271.4h0.65M523.5 294.1h0.65M523.5 269.7h0.65M507.9 255.0h0.65M519.7 297.2h0.65M531.1 274.6h0.65M506.4 259.1h0.65M566.8 288.5h0.65M520.2 271.5h0.65M522.0 271.6h0.65M526.1 302.2h0.65M525.4 294.9h0.65M534.8 283.0h0.65M570.5 262.4h0.65M521.3 273.8h0.65M539.8 234.1h0.65M547.8 293.2h0.65M518.0 258.9h0.65M531.2 285.2h0.65M563.1 288.0h0.65M528.4 269.3h0.65M528.8 273.9h0.65M521.9 262.3h0.65M544.2 239.6h0.65M506.5 256.8h0.65M565.5 285.5h0.65M531.5 260.2h0.65M507.8 290.9h0.65M521.0 294.2h0.65M570.8 260.5h0.65M505.3 276.8h0.65M522.3 298.5h0.65M532.7 283.3h0.65M569.7 273.0h0.65M521.2 240.7h0.65M570.7 263.3h0.65M571.5 256.8h0.65M527.3 266.1h0.65M522.9 259.6h0.65M540.3 289.5h0.65M568.8 257.4h0.65M515.8 260.1h0.65M544.2 290.5h0.65M521.1 260.4h0.65M568.5 260.0h0.65M509.5 294.2h0.65M524.9 239.6h0.65M521.1 296.5h0.65M574.5 254.8h0.65M576.1 269.4h0.65M512.6 296.8h0.65M520.8 257.4h0.65M501.3 286.5h0.65M537.5 240.1h0.65M568.6 249.2h0.65M532.0 265.5h0.65M530.0 268.3h0.65M568.3 249.7h0.65M517.4 247.7h0.65M565.3 241.8h0.65M569.8 276.9h0.65M524.8 271.5h0.65M507.2 292.6h0.65M506.6 281.0h0.65M533.8 286.9h0.65M520.5 302.2h0.65M526.8 270.6h0.65M500.5 265.6h0.65M510.2 246.4h0.65M541.6 297.8h0.65M504.9 282.7h0.65M573.6 253.2h0.65M522.3 257.9h0.65M573.1 269.0h0.65M530.3 239.3h0.65M572.3 270.3h0.65M558.9 289.9h0.65M518.6 274.5h0.65M520.2 239.3h0.65M523.5 259.4h0.65M508.9 258.3h0.65M526.9 268.2h0.65M510.4 274.7h0.65M523.0 268.4h0.65M505.7 288.0h0.65M530.0 272.1h0.65M533.8 237.9h0.65M525.3 264.2h0.65M534.9 236.0h0.65M527.5 262.8h0.65M545.7 287.8h0.65M513.0 255.3h0.65M524.5 270.2h0.65M548.7 229.4h0.65M499.2 255.7h0.65M528.6 233.0h0.65M570.4 253.7h0.65M550.5 239.2h0.65M571.5 260.8h0.65M563.5 239.9h0.65M524.5 292.8h0.65M532.5 283.9h0.65M514.2 253.4h0.65M572.7 252.6h0.65M530.8 264.4h0.65M522.2 271.9h0.65M528.7 259.3h0.65M520.5 267.0h0.65M555.2 234.0h0.65M516.1 259.3h0.65M533.0 284.4h0.65M521.2 270.1h0.65M535.8 289.8h0.65M568.1 281.2h0.65M568.1 273.9h0.65M507.2 282.6h0.65" stroke="#555" stroke-width="0.65" fill="none"/>
<path d="M514.7 294.2l-2.3 -0.2 -2.2 -1 -1.6 -1.4 -1.1 -2 -0.3 -2 0.4 -2.2 1.1 -2.2 2 -2.4 2.7 -2.2 3.3 -2 3.3 -1.6 3.2 -0.9 2.8 -0.2 2.4 0.5 1.8 1.1 2.2 2.2 0.3 -0.1 0.3 -1.2 0.1 -15.5 -0.2 -2.5 -0.7 -0.9 -1 -0.4 -6.2 -0.4 -2.6 -0.4 -1.7 -0.8 -1.5 -1.4 -1.4 -2.7 -0.3 -3.8 0.6 -3.2 1.5 -2.5 2.6 -1.7 3.8 -0.7 7.4 0 6 0.9 16.6 -0.9 3 0.2 2.2 0.6 2 0.9 1.5 1.2 1.4 1.8 1 2 0.5 2.4 0.2 3.3 -0.1 26.3 -0.9 3.4 -1.9 3 -2.9 2.1 -3.8 1 -5.2 0.1 -10.3 -0.6 -3 -0.6 -2.5 -1.2 -1.9 -1.8 -2.1 -3 -0.2 0 -1.2 2.8 -1.2 2 -1.6 1.9 -2.3 1.9 -2.7 1.8 -3.6 1.7 -3.2 1.1 -2.5 0.4z M558.4 286.7l-5.7 0.1 -10.5 -0.8 -3.5 -1.1 -2.5 -2 -1.2 -2.3 -0.6 -2.7 -0.1 -18 -0.3 -2.5 -0.7 -1 -1.1 -0.6 -8.5 -0.7 -1.8 -0.7 -1.5 -1.2 -1.1 -2.3 -0.2 -3.5 0.6 -2.8 1.4 -2 2.1 -1.1 3.2 -0.5 6.8 -0.2 5.8 0.8 6.2 -0.6 11.2 -0.5 2.8 0.2 2 0.6 1.8 0.9 1.5 1.4 1.6 2.8 0.7 3.5 0 25 -0.2 3.7 -0.8 3 -1.8 2.6 -2.3 1.6 -3.3 0.9z M516 293.2l-2.3 0.1 -2 -0.5 -1.7 -1.1 -1.1 -1.3 -0.7 -1.8 0 -2 0.6 -1.7 1.2 -2 2 -2.1 2.7 -2.1 3 -1.7 3.3 -1.4 2.7 -0.7 2 -0.2 2 0.4 1.7 1 1.6 1.8 0.6 2.3 -0.6 2.7 -1.5 2.5 -2.5 2.6 -3.6 2.3 -4 1.9 -3.4 1z M558.4 285.9l-5.7 0.1 -10 -0.8 -3.3 -1 -2.3 -1.8 -1.1 -2 -0.6 -2.8 -0.1 -18.2 -0.4 -2.8 -0.8 -1.2 -1.4 -0.9 -8 -0.8 -1.5 -0.4 -1.3 -0.9 -1 -1.8 -0.3 -2.7 0.5 -2.5 1.1 -1.5 1.8 -1 3 -0.5 6.2 -0.3 5.5 0.5 6.7 -0.8 10.8 -0.6 2.8 0.3 2 0.5 1.7 1 1.3 1.2 1.4 2.4 0.6 3.3 -0.1 28.5 -0.8 3 -1.6 2.2 -2.1 1.5 -3 0.8z M516.4 292.4l-2.2 0.2 -2 -0.3 -1.5 -0.8 -1.2 -1.3 -0.6 -1.6 0 -1.7 0.5 -1.7 1.2 -2 1.8 -2 2.6 -1.9 3 -1.7 3 -1.4 2.4 -0.7 2 -0.1 2 0.3 1.6 0.8 1.3 1.7 0.6 2.2 -0.5 2.2 -1.3 2.3 -2.4 2.4 -3 2.2 -3.7 1.8 -3.6 1.1z M557 285.4l-6 -0.2 -8.3 -0.9 -3 -1 -1.9 -1.7 -1.1 -2 -0.4 -2.4 0 -18.3 -0.4 -2.7 -1.2 -1.9 -2 -1.5 -1.7 -0.5 -4.8 -0.8 -1.8 -0.9 -0.7 -1 -0.1 -1.4 0.3 -1.6 0.8 -0.9 2 -0.8 6 -1 6 -0.4 6 -0.8 10.3 -0.8 3 0.1 2.2 0.4 1.8 0.8 1.6 1.4 1.2 2.3 0.6 3.3 0.1 25 -0.2 3.4 -0.9 2.8 -1.7 2.1 -2.5 1.4 -3.2 0.5z M516.2 291.9l-2 0.2 -1.8 -0.3 -1.4 -0.9 -1.1 -1.3 -0.5 -1.4 0.1 -1.8 0.6 -1.5 1.2 -1.7 1.9 -1.9 2.5 -1.8 5.5 -2.8 2.2 -0.6 2 -0.2 1.8 0.3 1.5 0.9 1.2 1.5 0.4 2 -0.5 2 -1.4 2.3 -2.4 2.4 -3 2 -3.6 1.7 -3.2 0.9z M558.4 284.7l-6 0 -9.2 -1.2 -3.1 -1.1 -1.9 -1.9 -0.7 -1.9 -0.3 -2.2 0 -19.5 -0.8 -2.2 -2.2 -3.3 -0.5 -1.8 0.4 -2.7 1.3 -1.5 1.8 -0.7 7 -1.2 7.5 -0.8 5 -0.2 2.3 0.2 2 0.6 1.5 1.1 1.3 1.5 0.8 2 0.3 2.7 -0.1 27.6 -0.7 2.4 -1.3 2 -1.8 1.3 -2.6 0.8z M516.4 291.4l-1.7 0.2 -1.7 -0.2 -1.6 -0.7 -1 -1.1 -0.5 -1.4 0.1 -1.6 0.6 -1.7 1.1 -1.5 1.7 -1.8 2.3 -1.6 3 -1.7 2.7 -1.2 2.3 -0.6 1.7 -0.1 1.8 0.3 1.2 0.8 1.2 1.7 0.2 1.7 -0.6 2 -1.3 2 -2.2 2 -2.7 1.9 -3.6 1.7 -3 0.9z M558.4 284.2l-6 0 -8.2 -1.3 -3.2 -1.2 -1.9 -1.8 -0.6 -1.7 -0.2 -2.3 0.1 -19 -0.5 -2 -2 -3.3 -0.5 -1.7 0.4 -2.5 1.4 -1.4 8 -1.9 6.5 -0.8 5 -0.3 2.3 0.2 1.9 0.7 1.4 1 1.1 1.5 0.8 2 0.2 2.5 -0.1 27 -0.6 2.5 -1.1 1.8 -1.9 1.3 -2.3 0.7z M516 291.2l-1.8 0.1 -1.5 -0.4 -1.3 -0.7 -0.9 -1.3 -0.2 -1.3 0.2 -1.4 0.7 -1.6 1.2 -1.4 1.8 -1.7 2.5 -1.7 5.3 -2.5 2 -0.5 1.7 0 1.5 0.4 1.1 0.7 0.9 1.5 0.2 1.8 -0.6 1.7 -1.4 2 -2.4 2.1 -2.8 1.8 -3.2 1.5 -3 0.9z M558.4 283.4l-5.2 0 -6.2 -1.2 -3.3 -1.6 -1 -1 -0.5 -1 -0.5 -2.7 0.1 -5.7 -0.5 -5.8 0.6 -6 -0.1 -2.2 -0.8 -3.3 -2 -2.6 -0.3 -0.9 0.7 -1 4.9 -2.5 6.9 -1.6 6.5 -0.5 2 0.4 1.4 0.7 1.1 1 0.9 1.5 0.6 3.8 0 26.4 -0.6 2.3 -1.1 1.7 -1.6 1.2 -2 0.6z M515.7 290.7l-1.5 0 -1.5 -0.4 -1 -0.7 -0.7 -1.2 -0.2 -1.2 0.3 -1.3 2 -2.7 4.1 -3.1 4.8 -2.3 3.4 -0.5 1.6 0.4 1 0.7 0.7 1.2 0.1 1.8 -0.7 1.8 -1.4 1.7 -2.3 1.9 -2.7 1.7 -3.3 1.5 -2.7 0.7z M558.4 282.9l-3.2 0.1 -4.2 -0.6 -3 -1 -1.8 -1.2 -0.8 -2.3 -0.4 -7.5 -1 -5.5 0.5 -7.3 -0.5 -6.7 0.5 -2.5 1.2 -1.3 2.2 -1.2 3.3 -0.9 3.8 -0.6 3.4 0 2.6 1 1.5 1.8 0.7 2.7 0 28 -0.5 1.8 -1 1.6 -1.5 1.1 -1.8 0.5z M515.4 290.4l-1.4 0 -1.3 -0.4 -0.9 -0.8 -0.5 -1 -0.1 -1.3 0.4 -1.3 1.8 -2.4 4 -3 4.8 -2.2 3.2 -0.4 1.3 0.3 1 0.7 0.7 1.3 0 1.7 -0.8 1.8 -1.4 1.6 -2.2 1.8 -3 1.8 -3 1.2 -2.6 0.6z M558.2 282.4l-2.8 0 -3.2 -0.5 -2.1 -0.7 -1.5 -1.3 -0.6 -2 -0.5 -7.7 -1.3 -6.8 0.2 -11.2 0.9 -3.6 1.3 -1.4 1.7 -1 2.7 -0.9 3.4 -0.4 2.8 0.2 1.9 1.1 1.2 1.7 0.4 2.5 0 27.2 -0.5 2 -0.9 1.3 -1.3 1 -1.8 0.5z M515 290.2l-2.3 -0.6 -0.9 -1 -0.3 -1 0.5 -2.2 2 -2.3 4 -2.8 4.2 -2 3.2 -0.4 1.3 0.4 0.8 0.6 0.7 1.3 -0.2 1.7 -0.8 1.5 -1.6 1.8 -2.4 1.8 -2.8 1.5 -3 1.2 -2.4 0.5z M558.7 281.7l-2.3 0.1 -2.7 -0.4 -1.8 -0.8 -1.2 -1.2 -0.6 -2.8 -0.6 -7.2 -1.5 -6.8 0.5 -9.4 0.5 -2.3 0.8 -2 0.9 -1.3 1.4 -1 2.2 -0.7 2.7 -0.4 2.2 0.3 1.6 0.8 0.9 1.6 0.5 2.4 0.1 26.6 -0.4 1.7 -0.7 1.3 -1.1 1 -1.4 0.5z M516.4 289.7l-2.7 0 -1 -0.5 -0.7 -0.8 -0.2 -1 0.2 -1.2 1.7 -2.6 3.7 -2.8 4.6 -2.1 3 -0.6 1.2 0.3 1 0.6 0.6 1.2 0 1.2 -0.6 1.5 -1.2 1.6 -4.3 3.1 -2.7 1.3 -2.6 0.8z M558.7 280.9l-1.7 0.1 -1.7 -0.4 -1.4 -0.7 -0.7 -0.9 -1.6 -9.4 -1.6 -5.2 -0.4 -2.5 0.1 -3 0.7 -4.3 1.8 -5 0.8 -1.2 1 -1 1.7 -0.7 1.7 -0.3 1.8 0.2 1.3 0.8 0.7 1.3 0.3 2.2 0.2 25.7 -0.3 1.8 -0.7 1.2 -0.8 0.8 -1.2 0.5z M516.4 289.4l-1.4 0.2 -1.3 -0.2 -0.9 -0.5 -0.5 -0.7 -0.2 -1 0.2 -1 1.7 -2.4 3.4 -2.7 4.3 -2.1 3.3 -0.6 1.2 0.2 0.8 0.6 0.6 1.2 -0.1 1.2 -0.6 1.3 -1.2 1.5 -4.3 3 -5 2z M559 279.5l-1.4 -0.1 -1 -1 -1.3 -7 -0.8 -2 -2.5 -4.9 -0.7 -3.1 0.5 -3.2 1.4 -3.6 3.2 -5.7 1 -0.7 1 -0.3 1.3 0.6 0.6 1.7 0.4 12.4 -0.2 6.6 0.3 7.4 -0.6 1.9 -1.2 1z M516.4 289.2l-2.4 0 -1 -0.6 -0.5 -0.7 -0.1 -1 0.3 -1 1.5 -2 3.5 -2.7 4.3 -2 2.7 -0.6 1.3 0.3 0.7 0.5 0.6 1 -0.1 1.2 -0.6 1.3 -1.2 1.5 -4.2 2.9 -4.8 1.9z M557.2 264.4l-1.8 -0.3 -0.7 -0.7 -0.5 -1 0 -2 0.5 -0.8 0.7 -0.4 0.8 0 0.8 0.4 1.1 1.8 0.1 2 -0.5 0.8 -0.5 0.2z M516.4 288.9l-2.4 0 -0.8 -0.5 -0.4 -0.8 0.2 -1.7 1.7 -2.2 3.5 -2.5 3.8 -1.8 2.7 -0.5 1 0.2 0.8 0.5 0.5 1 -0.1 1.3 -0.7 1.3 -1.2 1.2 -4 2.8 -4.6 1.7z M516.4 288.7l-2.2 0 -0.8 -0.5 -0.4 -0.8 0.4 -1.8 1.8 -2 3.5 -2.4 3.5 -1.6 2.5 -0.4 1 0.2 0.6 0.5 0.4 1 -0.1 1 -0.8 1.3 -1.1 1.2 -4 2.6 -4.3 1.7z M516.4 288.4l-2 0 -1 -1 0.3 -1.8 1.7 -1.9 3.4 -2.3 3.4 -1.6 2.5 -0.3 1.4 0.7 0.3 1 -0.3 1 -1.8 2.2 -3.9 2.5 -4 1.5z M516.2 288.2l-1.8 -0.2 -0.4 -0.4 -0.3 -0.7 0.5 -1.5 1.7 -1.8 3.1 -2 3 -1.4 2.2 -0.5 1.5 0.6 0.3 0.9 -0.2 1 -1.9 2.2 -3.9 2.5 -3.8 1.3z M517.2 287.7l-2 0.2 -1 -0.7 0.3 -1.6 1.5 -1.6 3 -2.1 3 -1.4 2.2 -0.5 1.2 0.6 0.3 0.8 -0.2 0.8 -1.7 2 -3 2 -3.6 1.5z M516.7 287.4l-1.5 0 -0.5 -0.4 -0.1 -0.6 0.6 -1.2 1.7 -1.6 2.7 -1.7 2.6 -1.2 1.8 -0.3 1.1 0.5 0.1 0.7 -0.3 0.8 -1.7 1.8 -3.1 2 -3.4 1.2z M517.2 286.9l-1.5 0.1 -0.5 -0.6 0.5 -1.2 1.4 -1.3 2.6 -1.7 2.2 -1 1.5 -0.4 1.1 0.4 0.2 0.4 -0.2 0.8 -1.7 1.8 -2.8 1.7 -2.8 1z M517.2 286.4l-1 -0.2 -0.1 -0.6 2 -2 3.6 -2 1.5 -0.3 0.7 0.3 -0.2 1 -1.6 1.6 -2.6 1.4 -2.3 0.8z" fill="none" stroke="#2a2a2a" stroke-width="0.45" stroke-opacity="1.0" stroke-linejoin="round"/>
</g>
<rect x="487.5" y="216.5" width="98" height="97" fill="none" stroke="#8a8a8a" stroke-width="0.9" />
<line x1="533.5" y1="216.9" x2="533.5" y2="313" stroke="#6f6f6f" stroke-width="0.9" />
<line x1="487.7" y1="271.5" x2="585.5" y2="271.5" stroke="#6f6f6f" stroke-width="0.9" />
<text x="491" y="231.1" font-size="12.3" text-anchor="start" fill="#111" >8</text>
<text x="581.9" y="231.1" font-size="12.3" text-anchor="end" fill="#111" >51</text>
<text x="581.9" y="308.6" font-size="12.3" text-anchor="end" fill="#111" >17</text>
<text x="155.4" y="362.7" font-size="11.8" text-anchor="start" fill="#111" >f</text>
<g>
<path d="M206.8 425.8h0.65M265.9 438.8h0.65M234.3 403.8h0.65M201.2 439.5h0.65M222.5 458.4h0.65M247.7 402.7h0.65M221.6 461.1h0.65M199.5 462.1h0.65M212.6 404.8h0.65M220.0 464.7h0.65M225.0 458.4h0.65M207.2 426.0h0.65M244.0 459.4h0.65M221.9 400.2h0.65M206.7 422.5h0.65M262.6 413.1h0.65M251.7 457.3h0.65M217.4 464.4h0.65M205.6 420.7h0.65M224.4 396.8h0.65M265.1 432.4h0.65M207.8 424.7h0.65M260.8 405.1h0.65M265.7 419.1h0.65M200.5 413.7h0.65M225.9 461.1h0.65M202.7 418.6h0.65M215.3 464.6h0.65M260.5 405.8h0.65M243.2 456.8h0.65M223.6 469.7h0.65M203.5 438.0h0.65M226.5 403.3h0.65M204.8 460.9h0.65M271.9 429.1h0.65M262.5 429.7h0.65M208.5 437.3h0.65M210.5 437.3h0.65M206.7 460.0h0.65M198.5 449.4h0.65M216.4 462.9h0.65M217.2 466.9h0.65M203.5 422.6h0.65M248.2 403.0h0.65M214.4 402.8h0.65M235.2 463.6h0.65M204.8 433.0h0.65M254.2 447.4h0.65M255.5 439.7h0.65M250.9 404.2h0.65M202.7 452.0h0.65M230.2 401.6h0.65M207.0 421.7h0.65M265.5 431.3h0.65M245.9 455.3h0.65M202.2 454.5h0.65M211.7 398.6h0.65M198.0 407.3h0.65M242.8 401.9h0.65M226.2 459.6h0.65M207.3 431.0h0.65M262.3 421.6h0.65M225.1 402.3h0.65M265.7 407.3h0.65M240.8 403.6h0.65M256.2 442.1h0.65M223.8 398.8h0.65M242.1 402.4h0.65M236.8 460.2h0.65M210.8 464.7h0.65M201.0 451.8h0.65M258.7 403.6h0.65M237.3 404.2h0.65M205.5 444.0h0.65M204.0 419.9h0.65M203.4 429.0h0.65M241.2 402.1h0.65M212.3 463.2h0.65M229.9 402.6h0.65M250.3 450.3h0.65M219.6 464.6h0.65M265.8 421.4h0.65M234.3 400.6h0.65M204.4 444.7h0.65M204.8 443.3h0.65M204.9 462.5h0.65M216.0 400.5h0.65M204.4 418.1h0.65M219.2 402.9h0.65M202.6 466.2h0.65M248.5 455.9h0.65M204.2 427.5h0.65M198.7 445.7h0.65M202.7 420.7h0.65M239.9 459.4h0.65M206.3 427.9h0.65M206.4 417.3h0.65M205.9 410.4h0.65M206.5 423.5h0.65M267.4 445.9h0.65M210.4 469.6h0.65M262.9 431.8h0.65M205.5 454.8h0.65M206.1 467.8h0.65M230.2 402.1h0.65M265.0 410.2h0.65M197.9 458.1h0.65M236.4 396.9h0.65M206.4 414.3h0.65M256.7 403.9h0.65M212.9 404.8h0.65M231.4 402.8h0.65M201.9 435.4h0.65M227.0 402.1h0.65M247.4 395.4h0.65M224.4 467.1h0.65M262.2 425.7h0.65M207.0 462.0h0.65M246.1 400.7h0.65M224.4 462.1h0.65M207.8 402.1h0.65M203.0 426.1h0.65M224.1 462.7h0.65M243.1 403.1h0.65M248.3 404.3h0.65M262.6 410.6h0.65M203.7 451.5h0.65M230.8 398.5h0.65M258.9 440.5h0.65M261.0 438.5h0.65M204.7 441.7h0.65M237.1 399.7h0.65M256.8 438.4h0.65M205.7 414.2h0.65M257.1 441.1h0.65M209.1 438.1h0.65M206.1 463.5h0.65M240.1 458.1h0.65M254.8 439.2h0.65M258.1 440.1h0.65M204.3 457.6h0.65M253.2 402.8h0.65M266.5 429.1h0.65M262.6 425.3h0.65M200.8 441.9h0.65M204.9 447.8h0.65M209.4 436.8h0.65M204.2 450.9h0.65M207.0 460.1h0.65M221.5 403.8h0.65M200.6 464.5h0.65M203.8 452.5h0.65M208.9 438.7h0.65M208.8 439.7h0.65M209.7 439.3h0.65M223.3 403.5h0.65M230.9 404.2h0.65M253.9 398.0h0.65M248.1 399.1h0.65M249.4 403.9h0.65M204.7 424.2h0.65M209.4 438.1h0.65M219.5 462.1h0.65M202.4 418.7h0.65M206.9 437.5h0.65M216.8 404.3h0.65M228.6 403.2h0.65M211.0 402.8h0.65M210.6 438.9h0.65M207.4 437.8h0.65M236.8 403.3h0.65M234.3 404.3h0.65M263.6 402.6h0.65M205.6 412.2h0.65M204.9 455.8h0.65M240.6 402.5h0.65M226.7 403.4h0.65M208.1 435.8h0.65M206.0 402.7h0.65M228.2 397.3h0.65M231.3 402.7h0.65M257.9 401.6h0.65M263.0 427.0h0.65M205.5 443.2h0.65M227.2 459.7h0.65M206.6 425.0h0.65M253.9 445.8h0.65M207.4 441.6h0.65M227.6 463.7h0.65M206.5 442.4h0.65M253.8 445.7h0.65M206.3 432.0h0.65M204.2 456.3h0.65M244.2 404.3h0.65M201.4 415.2h0.65M206.0 420.6h0.65M205.1 450.4h0.65M204.2 458.4h0.65M262.7 421.8h0.65M254.5 402.1h0.65M231.7 404.0h0.65M262.3 419.3h0.65M203.5 451.7h0.65M253.6 403.8h0.65M261.9 410.4h0.65M242.6 459.1h0.65M222.1 402.6h0.65M209.8 435.7h0.65M249.3 401.2h0.65M239.2 403.9h0.65M229.2 459.6h0.65M205.9 458.9h0.65M227.1 401.0h0.65M204.7 456.3h0.65M205.0 407.7h0.65M196.5 425.6h0.65M240.2 402.9h0.65M267.1 429.3h0.65M212.9 463.6h0.65M261.8 406.7h0.65M252.0 403.8h0.65M229.0 404.2h0.65M234.9 402.0h0.65M204.2 450.6h0.65M254.4 462.4h0.65M213.6 392.2h0.65M226.4 465.2h0.65M239.9 399.2h0.65M207.4 443.0h0.65M205.9 411.9h0.65M201.1 434.2h0.65M207.4 460.4h0.65M232.5 460.0h0.65M266.6 418.9h0.65M230.9 400.8h0.65M240.5 404.0h0.65M229.5 464.6h0.65M203.6 448.1h0.65M264.4 436.5h0.65M267.2 404.3h0.65M254.9 443.7h0.65M206.4 415.2h0.65M253.3 443.3h0.65M209.7 440.4h0.65M200.6 426.1h0.65M243.0 400.3h0.65M218.7 462.2h0.65M204.5 447.2h0.65M260.0 435.7h0.65M230.5 398.1h0.65M208.4 438.9h0.65M213.2 404.3h0.65M205.9 443.7h0.65M203.4 422.7h0.65M243.4 459.4h0.65M197.5 438.1h0.65M206.3 420.8h0.65M206.5 428.2h0.65M205.0 449.5h0.65M201.8 440.3h0.65M243.0 458.5h0.65M259.4 439.7h0.65M204.6 454.9h0.65M206.2 421.6h0.65M205.9 430.1h0.65M206.0 442.1h0.65M209.6 407.9h0.65M196.6 432.1h0.65M243.7 401.7h0.65M267.4 402.3h0.65M201.4 444.7h0.65M218.9 402.8h0.65M201.5 424.4h0.65M262.3 408.2h0.65M209.2 462.5h0.65M260.8 393.2h0.65M219.6 461.6h0.65M226.6 464.0h0.65M253.1 403.4h0.65M244.0 403.8h0.65M263.1 433.9h0.65M254.9 449.1h0.65M256.4 404.6h0.65M260.3 399.7h0.65M224.6 458.7h0.65M206.4 429.8h0.65M204.7 437.2h0.65M213.1 402.5h0.65M260.5 406.0h0.65M215.9 402.8h0.65M261.8 435.8h0.65M241.0 457.2h0.65M231.9 464.2h0.65M239.6 461.6h0.65M254.6 443.2h0.65M272.8 420.4h0.65M199.3 448.4h0.65M226.4 403.5h0.65M200.8 440.1h0.65M228.1 467.7h0.65M206.9 432.4h0.65M265.0 435.3h0.65M241.0 400.1h0.65M207.5 419.5h0.65M242.2 403.4h0.65M239.7 401.0h0.65M252.3 401.9h0.65M206.7 413.8h0.65M207.7 425.8h0.65M223.0 395.1h0.65M210.8 464.7h0.65M207.5 424.2h0.65M221.8 462.6h0.65M204.9 452.7h0.65M222.5 458.4h0.65M244.9 401.8h0.65M266.7 403.9h0.65M222.0 461.2h0.65M249.7 400.4h0.65M237.1 403.9h0.65M254.1 403.1h0.65M223.8 398.0h0.65M247.4 453.2h0.65M267.5 417.7h0.65M238.1 404.4h0.65M207.9 397.7h0.65M221.1 462.8h0.65M263.0 422.4h0.65M206.9 421.5h0.65M201.1 471.0h0.65M262.7 406.2h0.65M205.7 421.5h0.65M243.8 400.8h0.65M207.7 412.3h0.65M237.4 400.7h0.65M202.5 441.2h0.65M263.2 419.8h0.65M201.5 455.5h0.65M207.3 440.6h0.65M203.9 451.6h0.65M243.4 401.0h0.65M267.7 439.5h0.65M254.8 402.7h0.65M270.6 412.5h0.65M245.1 455.5h0.65M210.4 406.9h0.65M230.2 459.7h0.65M218.2 399.6h0.65M262.8 434.2h0.65M223.4 462.1h0.65M257.1 398.8h0.65M244.3 400.8h0.65M209.9 439.8h0.65M221.0 403.3h0.65M251.3 449.1h0.65M193.3 448.2h0.65M201.8 465.7h0.65M269.3 441.1h0.65M249.8 462.0h0.65M204.5 450.8h0.65M207.4 428.3h0.65M237.7 403.7h0.65M229.4 398.2h0.65M203.9 460.3h0.65M206.6 442.1h0.65M205.6 454.7h0.65M261.1 437.7h0.65M239.6 403.0h0.65M232.2 395.3h0.65M250.7 403.5h0.65M193.7 455.8h0.65M267.0 418.0h0.65M234.7 401.7h0.65M254.6 440.0h0.65M204.4 424.0h0.65M261.6 431.8h0.65M220.3 399.0h0.65M206.9 432.3h0.65M235.5 400.9h0.65M206.3 439.2h0.65M213.3 399.3h0.65M202.5 416.8h0.65M202.8 458.7h0.65M216.5 466.4h0.65M243.8 401.6h0.65M224.5 460.4h0.65M262.8 429.3h0.65M229.5 400.3h0.65M198.3 458.8h0.65M242.4 459.6h0.65M227.8 400.9h0.65M202.1 449.0h0.65M221.7 460.9h0.65M260.7 405.9h0.65M264.0 425.9h0.65M258.4 403.7h0.65M202.7 462.2h0.65M266.4 433.7h0.65M238.7 399.9h0.65M250.9 451.0h0.65M211.6 405.9h0.65M222.0 402.7h0.65M222.1 402.8h0.65M203.7 448.8h0.65M204.7 437.8h0.65M216.0 462.9h0.65M204.8 405.0h0.65M208.4 410.5h0.65M261.1 409.8h0.65M216.8 397.9h0.65M217.3 463.2h0.65M208.7 438.3h0.65M227.2 400.7h0.65M208.4 439.8h0.65M254.8 401.2h0.65M199.9 451.3h0.65M262.3 434.5h0.65M221.1 399.5h0.65M201.7 398.5h0.65M222.9 464.7h0.65M231.5 461.1h0.65M200.3 426.8h0.65M242.8 403.4h0.65M238.2 469.8h0.65M202.8 417.8h0.65M212.0 404.1h0.65M263.8 425.5h0.65M226.3 398.2h0.65M238.1 403.7h0.65M201.0 453.4h0.65M238.9 395.3h0.65M253.3 403.0h0.65M202.7 421.0h0.65M221.9 459.5h0.65M218.3 402.0h0.65M209.2 438.2h0.65M208.2 408.7h0.65M222.7 458.6h0.65M253.1 445.1h0.65M200.7 461.1h0.65M255.7 404.1h0.65M253.6 400.5h0.65M204.7 437.1h0.65M248.4 403.7h0.65M204.7 420.1h0.65M223.8 457.6h0.65M235.1 459.1h0.65M263.6 423.3h0.65M204.5 448.4h0.65M229.3 402.9h0.65M205.4 414.7h0.65M206.4 409.1h0.65M207.7 459.5h0.65M223.6 462.2h0.65M201.9 447.3h0.65M225.6 398.8h0.65M205.1 448.9h0.65M207.4 419.2h0.65M207.3 431.0h0.65M210.5 462.9h0.65M206.5 435.5h0.65M254.8 440.1h0.65M216.8 469.8h0.65M238.8 468.4h0.65M241.0 402.0h0.65M272.7 410.2h0.65M263.1 415.4h0.65M261.5 431.8h0.65M232.0 403.1h0.65M207.7 405.4h0.65M221.3 398.5h0.65M257.1 401.4h0.65M202.7 455.6h0.65M218.2 464.8h0.65M211.5 469.4h0.65M207.2 430.4h0.65M209.3 439.0h0.65M210.0 461.9h0.65M204.4 414.6h0.65M196.3 447.3h0.65M205.6 462.6h0.65M207.0 425.2h0.65M267.4 416.7h0.65M226.2 403.2h0.65M200.1 428.5h0.65M208.9 467.2h0.65M226.3 458.1h0.65M224.3 397.3h0.65M228.5 400.7h0.65M253.8 449.0h0.65M253.3 401.6h0.65M229.4 461.4h0.65M257.9 458.2h0.65M225.9 460.0h0.65M208.4 433.2h0.65M206.7 423.7h0.65M197.6 424.4h0.65M205.5 435.5h0.65M202.8 445.2h0.65M263.1 432.7h0.65M204.2 451.0h0.65M215.9 463.1h0.65M226.1 402.1h0.65M254.1 402.9h0.65M230.1 404.0h0.65M222.7 459.8h0.65M206.4 422.1h0.65M228.1 459.0h0.65M256.7 403.5h0.65M223.0 401.5h0.65M239.7 458.2h0.65M207.7 417.6h0.65M267.6 450.6h0.65M230.8 404.1h0.65M226.4 393.8h0.65M201.2 448.3h0.65M244.6 459.7h0.65M244.1 458.2h0.65M211.4 438.4h0.65M205.2 424.3h0.65M262.4 436.5h0.65M209.5 438.7h0.65M220.3 403.8h0.65M244.5 458.2h0.65M219.4 462.2h0.65M233.2 401.2h0.65M215.3 465.9h0.65M232.2 464.4h0.65M244.7 464.6h0.65M207.3 464.7h0.65M206.6 412.5h0.65M249.1 402.4h0.65M200.3 463.2h0.65M244.7 403.7h0.65M252.8 403.9h0.65M252.0 399.2h0.65M208.7 439.2h0.65M215.8 404.3h0.65M269.1 410.2h0.65M261.2 407.4h0.65M226.0 459.5h0.65M205.6 464.2h0.65M262.3 419.5h0.65M254.3 398.2h0.65M223.5 403.3h0.65M219.6 403.1h0.65M264.6 438.6h0.65M255.4 449.6h0.65M226.0 400.4h0.65M224.8 457.7h0.65" stroke="#555" stroke-width="0.65" fill="none"/>
<path d="M216 462.5l-1.8 0.2 -1.8 -0.2 -1.7 -0.6 -1.7 -1.2 -1.3 -1.3 -1.2 -1.7 -0.7 -1.7 -0.5 -2.6 0 -4 1.3 -4.4 1.7 -3.3 3 -3.7 -0.3 -0.8 -1.5 -2 -1 -1.8 -0.7 -4 0.1 -16.2 0.6 -3.2 1.3 -2.6 1.4 -1.3 2 -1.1 2.8 -0.6 3.4 -0.3 32 0.2 4 0.6 3 1.4 1.2 1.1 0.9 1.6 1 4 0.3 12.4 -0.3 5.3 -0.7 2.5 -1.5 2.5 -1.9 1.6 -3.1 1.9 -0.8 1 -1.2 6.2 -1.5 3 -1.8 2 -4.3 3.4 -3.7 2.3 -3.3 0.6 -7.5 0.1 -2.8 -0.2 -3.4 -0.7 -0.8 0.4 -3.5 3.5 -1.7 1 -2 0.7z M215.7 461.7l-1.7 0.2 -1.8 -0.3 -1.8 -0.8 -1.2 -0.9 -2.1 -2.9 -1.1 -4 0.3 -4.3 1.2 -4 1.8 -3 3.5 -3.7 -0.2 -0.8 -1.8 -1.8 -1 -1.4 -0.7 -1.8 -0.4 -2.2 0.1 -16.6 0.5 -3 1.3 -2.4 1.6 -1.4 1.8 -0.9 2.2 -0.5 3.2 -0.2 32 0.2 3.8 0.6 2.5 1.2 1.9 2.2 0.9 3.8 0.3 12.7 -0.3 5 -0.9 2.7 -1.4 2 -1.8 1.4 -3.4 1.9 -1 1 -0.5 1.5 -0.8 4.8 -1.2 2.4 -1.5 1.7 -4 3.2 -3.6 2.2 -3 0.6 -7.7 0.1 -2 -0.2 -2.7 -0.9 -0.8 0 -1 0.7 -3.8 4.2 -1.7 1.1 -2 0.6z M215 461.2l-3 -0.3 -1.6 -0.8 -1.2 -1.1 -1.8 -2.8 -0.8 -3.5 0.4 -4.5 1.6 -4.2 1.9 -2.8 3.3 -2.8 0.4 -0.7 -3.4 -3.5 -0.9 -2 -0.4 -2 0 -16.8 0.6 -3 1 -2 1.3 -1.2 1.8 -0.8 2.2 -0.5 3.3 -0.2 31.3 0.2 4 0.5 2.4 1.3 1.7 2.3 0.7 3.4 0.2 13 -0.4 4.8 -0.9 2.2 -1.5 1.8 -1.5 1.1 -3.8 1.9 -1.7 1.5 -0.7 1.5 -0.7 4.2 -1 2 -5.8 5 -3 1.6 -2.6 0.2 -7 0.1 -1.7 -0.3 -2.3 -0.9 -0.7 0 -1 0.8 -2.8 3.8 -1.7 1.7 -2 1.2 -2.2 0.6z M215 460.7l-1.6 0 -1.4 -0.4 -2.4 -1.6 -1.8 -2.7 -0.7 -3.6 0.5 -4.4 1.8 -4.6 2.3 -2.7 4 -2.5 0.4 -0.5 -3.1 -2.1 -1.3 -1.2 -1 -1.7 -0.6 -2 -0.2 -4.3 0.2 -12.7 0.5 -3 1.1 -2 1.3 -1.1 1.7 -0.8 2.3 -0.4 3 -0.2 31 0.3 3.7 0.5 2.3 1.1 1 1.1 0.7 1.5 0.5 5 0 13.3 -0.5 2.7 -1.3 2.2 -1.2 1.2 -1.5 0.9 -7.3 2.9 -16.4 0.2 -7.7 0.6 0 0.5 1.6 2.8 0.6 2.2 0.1 2.5 -0.6 2.3 -2.9 5.2 -2 2.8 -2.4 1.8 -2.7 0.9z M227.4 438l-4.7 -0.1 -6.5 -1.3 -3 -1.5 -1.8 -2.1 -0.6 -1.8 -0.3 -2.2 0.1 -14.6 0.5 -3.4 1.3 -2.4 1.6 -1 1.7 -0.6 5.7 -0.3 29.8 0.3 3.5 0.5 2.3 1.3 1 1.6 0.5 2.3 0.3 13.7 -0.6 4.8 -0.7 1.5 -1.1 1.4 -1.2 0.9 -2 1 -5.2 1.6 -20.6 0.4z M215.4 460.2l-1.7 0.1 -1.7 -0.4 -1.6 -0.9 -1.1 -1.3 -0.9 -1.5 -0.7 -2 -0.1 -4.2 1.2 -4.6 1.1 -2 1.3 -1.7 1.5 -1.3 1.7 -1 1.8 -0.6 1.8 0 2.7 1 2.1 1.9 1.3 3 0.2 3.5 -1 3.8 -2.7 4.7 -2.4 2.3 -2.8 1.2z M228.2 437.2l-5.2 0 -6.3 -1 -3 -1.2 -1.8 -2 -0.7 -1.8 -0.3 -2.2 0.1 -14.3 0.4 -3.5 1.3 -2.2 1.5 -1.1 1.8 -0.5 5.7 -0.3 29.3 0.3 3.4 0.5 2.2 1.3 0.9 1.5 0.5 2 0.2 14 -0.5 4.3 -0.7 1.4 -0.9 1.3 -3.1 1.8 -4.8 1.3 -20 0.4z M215 460l-1.8 -0.1 -1.5 -0.5 -1.3 -0.9 -1.1 -1.3 -1.3 -3.2 -0.2 -2 0.1 -2.3 1.4 -4.5 1.1 -2 1.2 -1.5 1.4 -1.1 1.7 -0.9 1.5 -0.4 1.8 0 2.7 1.1 1.9 2 1.1 3 0 3.6 -1.2 3.7 -2.3 4 -2.5 2.3 -2.7 1z M225.4 436l-3.7 -0.1 -5.5 -0.9 -2.2 -1.2 -1.5 -1.8 -0.4 -1.6 -0.2 -2.2 0.2 -14.2 0.4 -2.8 1.2 -1.8 2 -1 3.3 -0.4 26.4 0.2 7.3 0.4 1.7 0.5 1.3 0.9 0.6 1 0.3 1.4 0 5.3 0.3 9 -0.5 3.7 -0.7 1.4 -1 1.1 -3 1.6 -4.3 0.9 -22 0.6z M215.2 459.2l-1.5 0.1 -1.5 -0.5 -1.2 -0.8 -1 -1 -1.3 -3 -0.2 -3.8 1.1 -4 2.1 -3.6 1.3 -1.2 1.4 -0.9 1.6 -0.4 1.4 -0.1 2.3 0.8 1.9 1.9 1.1 2.7 0.1 3.3 -1 3.7 -1.9 3.6 -2.2 2.2 -2.5 1z M227.2 435l-4.8 0.1 -5.2 -0.7 -2.2 -0.8 -1.6 -1.6 -0.5 -1.6 -0.3 -2.2 0.2 -14.2 0.4 -2.6 1 -1.5 1 -0.6 1.5 -0.5 5 -0.2 28 0.4 3.3 0.4 1.8 1 0.7 1.6 -0.7 4.7 0.9 6.7 0.1 3 -0.6 3.4 -1.5 2.2 -3 1.6 -4.3 0.9 -19.2 0.5z M215.4 458.7l-1.4 0.2 -1.3 -0.3 -1.3 -0.7 -1 -1 -1.3 -2.9 -0.1 -3.8 1 -4 2 -3.2 1.2 -1.2 1.5 -0.9 1.3 -0.4 1.4 0 2.3 0.9 1.6 1.8 0.9 2.5 0.1 3 -0.7 3.3 -1.8 3.4 -2.1 2.3 -2.3 1z M226.7 434l-4.3 0.2 -5 -0.6 -2 -0.7 -1.3 -1.5 -0.5 -1.4 -0.2 -2.3 0.3 -14.5 0.3 -1.5 0.7 -1.3 2.3 -1 4.2 -0.2 26.2 0.6 4.3 0.4 1.7 0.8 0.3 1 -0.5 0.8 -4.2 1.6 -0.8 0.6 -0.2 0.4 0.5 0.8 3.8 3.2 1.1 1.9 0.7 1.9 0.3 2.2 -0.3 2.3 -0.7 1.7 -1.4 1.6 -3 1.7 -4 0.9 -4.6 0.2 -8.2 -0.3 -5.5 0.5z M214.7 458.5l-1.3 -0.1 -1.2 -0.5 -1 -0.8 -0.9 -1.1 -0.9 -2.8 0 -3.5 1.1 -3.7 1.9 -3 2.6 -1.8 2.4 -0.3 2 0.8 1.7 2 0.8 2.5 -0.1 3.2 -0.9 3.3 -1.8 3 -2.1 2 -2.3 0.8z M223.4 432.7l-2.8 0 -3.6 -0.5 -1.3 -0.8 -0.8 -1.2 -0.3 -2 0 -3.8 0.9 -8.4 -0.6 -3.6 0.5 -1.2 1.3 -0.8 2.3 -0.4 4 0.1 8.3 0.6 4.3 0.7 0 0.3 -2.5 0.7 -8.6 1.8 -2 0.8 -1 0.7 -0.1 0.5 0.2 0.8 2.1 2.7 2.3 3.6 1.4 1.4 1 0.1 1 -0.4 4.3 -3.2 3 -1.6 3.3 -1 2.7 -0.4 3.3 0.3 2.7 1.1 2.3 1.8 1.3 2.3 0.2 2.5 -0.9 2.2 -2.2 2.1 -3 1.4 -3 0.6 -3.8 -0.1 -9.4 -2 -1 0.2 -3.3 1.6 -2.5 0.5z M243.4 411.7l-2.4 0.1 -0.9 -0.1 -0.2 -0.3 2.3 -0.1 1.7 0.1 -0.5 0.3z M215.4 458l-1.2 0.1 -1.2 -0.2 -1.9 -1.5 -1.3 -2.7 -0.1 -3.3 0.9 -3.7 1.7 -3 2.4 -2 2.5 -0.4 2 0.7 1.5 1.7 0.8 2.3 0 2.7 -0.6 3 -1.5 3 -2 2.2 -2 1.1z M243.7 431l-2.3 -0.1 -2.2 -0.5 -2.1 -1 -1.5 -1.2 -0.8 -1.2 -0.1 -1.6 0.6 -1.4 1.4 -1.6 3.3 -1.7 3.7 -0.7 3.3 0.6 1.4 0.8 1.2 1 0.7 1.3 0.4 1.5 -0.2 1.2 -0.6 1.3 -1.2 1.3 -1.5 0.9 -3.5 1.1z M215 457.7l-2.3 -0.3 -1.7 -1.7 -0.9 -2.5 -0.1 -3.2 1.1 -3.6 1.6 -2.7 2.3 -1.7 2.2 -0.4 1.8 0.7 1.4 1.7 0.8 2.4 -0.1 2.8 -0.8 3 -1.4 2.8 -1.9 1.9 -2 0.8z M245 429.2l-1.6 0.2 -1.7 -0.1 -1.5 -0.5 -1.2 -0.8 -0.9 -1 -0.3 -1 0.1 -1 0.5 -1 1.9 -1.6 2.7 -0.8 2.4 0.1 2.1 1 1.3 1.7 0.1 1 -0.2 1 -1.5 1.8 -2.2 1z M215.4 457.3l-1.2 0.1 -1 -0.2 -1.8 -1.4 -1 -2.4 -0.1 -3 0.9 -3.4 1.5 -2.8 2.3 -1.9 2.2 -0.3 1.7 0.7 1.3 1.5 0.6 2.2 0 2.6 -0.6 2.7 -1.2 2.6 -1.7 1.9 -1.9 1.1z M244.7 427.5l-1.7 0.1 -1.6 -0.6 -0.7 -1.3 0.5 -1.3 1 -0.7 1.5 -0.4 1.3 0.1 1.1 0.6 0.6 1 0 1 -0.7 0.9 -1.3 0.6z M215.2 457l-2 -0.2 -1.6 -1.4 -0.9 -2.2 0 -3 0.8 -3.2 1.7 -2.8 2 -1.6 2 -0.3 1.5 0.7 1.3 1.6 0.5 2.1 0 2.5 -0.7 2.8 -1.3 2.4 -1.5 1.7 -1.8 0.9z M214.7 456.7l-1.7 -0.4 -1.5 -1.6 -0.6 -2.3 0.2 -2.7 0.9 -3 1.4 -2.3 1.8 -1.4 2 -0.3 1.5 0.7 1 1.6 0.5 2.2 -0.1 2.5 -0.8 2.5 -1.3 2.4 -1.6 1.4 -1.7 0.7z M215.2 456.2l-1.8 -0.1 -1.3 -1.1 -0.7 -2 -0.1 -2.8 0.8 -3 1.3 -2.3 1.8 -1.5 1.8 -0.4 1.4 0.7 1 1.3 0.5 2 -0.1 2.2 -0.6 2.5 -1 2 -1.5 1.7 -1.5 0.8z M215.4 455.7l-1.7 0.1 -1.3 -1 -0.7 -1.8 0 -2.6 0.7 -3 1.3 -2.2 1.5 -1.4 1.8 -0.3 1.2 0.5 0.8 1.2 0.5 1.8 0 2.2 -0.5 2.1 -1 2.1 -1.3 1.5 -1.3 0.8z M215.4 455.3l-1.4 0.1 -1.3 -1.1 -0.6 -1.9 0 -2.2 0.7 -2.5 1.2 -2.1 1.4 -1.4 1.6 -0.2 1 0.4 0.8 1.3 0.3 1.5 0 2 -0.5 2 -0.9 1.9 -1.1 1.3 -1.2 0.9z M215.2 454.8l-1.2 -0.1 -1 -1 -0.5 -1.5 0.1 -2 0.6 -2.2 1 -1.9 1.2 -1.3 1.3 -0.3 1 0.5 0.6 1 0.4 1.4 -0.1 2 -0.5 1.8 -0.9 1.8 -1 1.2 -1 0.6z M215.2 454l-1 -0.1 -0.7 -0.7 -0.3 -1.2 0 -1.8 0.5 -1.8 1 -1.9 1 -0.9 1 -0.2 0.7 0.5 0.5 0.8 0.1 2.9 -1 2.7 -0.8 1 -1 0.7z" fill="none" stroke="#222" stroke-width="0.45" stroke-opacity="1.0" stroke-linejoin="round"/>
</g>
<rect x="182.5" y="388.5" width="97" height="96" fill="none" stroke="#8a8a8a" stroke-width="0.9" />
<line x1="231.5" y1="388.2" x2="231.5" y2="484.4" stroke="#6f6f6f" stroke-width="0.9" />
<line x1="182.2" y1="434.5" x2="279" y2="434.5" stroke="#6f6f6f" stroke-width="0.9" />
<text x="185.5" y="402.4" font-size="12.3" text-anchor="start" fill="#111" >23</text>
<text x="275.4" y="402.4" font-size="12.3" text-anchor="end" fill="#111" >37</text>
<text x="275.4" y="480" font-size="12.3" text-anchor="end" fill="#111" >17</text>
<g>
<path d="M312.9 401.3h0.65M308.1 417.8h0.65M313.8 400.4h0.65M364.1 420.0h0.65M308.4 457.5h0.65M320.8 396.6h0.65M306.4 438.7h0.65M337.5 395.8h0.65M336.3 459.6h0.65M309.2 410.8h0.65M308.5 452.6h0.65M308.7 431.3h0.65M336.8 400.6h0.65M341.6 397.1h0.65M308.0 412.9h0.65M345.0 457.0h0.65M350.9 405.5h0.65M308.6 416.4h0.65M315.7 399.8h0.65M337.3 458.0h0.65M308.5 406.4h0.65M306.4 443.5h0.65M357.4 444.5h0.65M309.0 429.0h0.65M360.3 409.2h0.65M342.8 397.4h0.65M349.9 398.8h0.65M364.4 434.2h0.65M309.6 431.0h0.65M300.6 399.8h0.65M302.9 409.9h0.65M367.3 427.7h0.65M351.4 395.1h0.65M315.4 401.4h0.65M315.3 401.6h0.65M306.4 414.1h0.65M307.4 452.1h0.65M308.6 429.1h0.65M361.9 426.3h0.65M366.1 430.6h0.65M347.8 396.7h0.65M304.6 430.1h0.65M359.1 439.0h0.65M323.0 462.2h0.65M320.3 465.0h0.65M327.5 465.9h0.65M303.6 426.3h0.65M306.4 446.4h0.65M324.9 396.5h0.65M319.2 464.7h0.65M337.6 397.0h0.65M332.6 398.4h0.65M305.3 430.2h0.65M307.1 412.7h0.65M364.6 399.6h0.65M309.8 454.9h0.65M346.5 399.1h0.65M340.6 460.3h0.65M308.6 407.9h0.65M345.0 404.0h0.65M351.3 405.0h0.65M339.6 398.6h0.65M355.6 412.5h0.65M309.0 425.0h0.65M367.6 450.3h0.65M354.4 451.1h0.65M364.7 442.2h0.65M343.7 403.6h0.65M327.6 460.9h0.65M357.6 401.9h0.65M335.2 457.4h0.65M306.4 462.2h0.65M306.0 414.3h0.65M355.3 408.7h0.65M365.1 426.6h0.65M305.4 429.9h0.65M366.1 429.4h0.65M324.0 397.3h0.65M356.2 396.6h0.65M368.9 426.0h0.65M344.6 398.6h0.65M308.4 425.0h0.65M330.2 463.5h0.65M368.9 436.1h0.65M308.1 408.8h0.65M352.2 398.5h0.65M358.4 410.7h0.65M344.7 401.2h0.65M305.1 441.4h0.65M304.2 419.6h0.65M362.2 431.8h0.65M356.3 409.2h0.65M307.8 402.2h0.65M348.5 403.0h0.65M308.4 425.1h0.65M357.1 412.6h0.65M374.2 434.0h0.65M308.4 403.2h0.65M308.1 448.4h0.65M309.4 442.8h0.65M370.8 427.1h0.65M355.3 407.6h0.65M304.4 425.7h0.65M357.8 414.5h0.65M355.2 451.0h0.65M307.5 422.8h0.65M335.2 397.6h0.65M346.9 403.4h0.65M309.3 435.8h0.65M331.3 398.0h0.65M308.5 420.9h0.65M352.3 465.8h0.65M357.4 453.7h0.65M360.2 413.6h0.65M342.5 402.8h0.65M311.6 401.4h0.65M316.4 399.8h0.65M332.1 399.1h0.65M308.1 422.0h0.65M304.4 418.0h0.65M370.2 420.6h0.65M331.7 459.8h0.65M305.4 420.5h0.65M308.0 426.5h0.65M355.1 452.0h0.65M309.3 411.5h0.65M315.2 398.0h0.65M308.6 426.5h0.65M360.3 439.3h0.65M320.1 397.4h0.65M323.4 463.8h0.65M325.5 398.2h0.65M361.1 419.4h0.65M334.7 397.9h0.65M368.3 429.8h0.65M354.9 407.3h0.65M362.7 411.3h0.65M309.0 401.8h0.65M324.8 396.2h0.65M336.4 400.6h0.65M359.7 415.4h0.65M308.6 459.4h0.65M328.3 397.9h0.65M362.6 419.2h0.65M326.0 466.9h0.65M307.8 414.2h0.65M331.1 399.4h0.65M309.1 434.1h0.65M307.8 438.5h0.65M336.1 390.5h0.65M342.9 396.4h0.65M334.8 395.8h0.65M368.2 423.8h0.65M306.3 426.3h0.65M320.1 393.8h0.65M319.5 393.5h0.65M308.3 425.7h0.65M352.3 451.0h0.65M309.1 427.0h0.65M309.2 419.9h0.65M342.5 397.7h0.65M308.3 438.7h0.65M305.9 413.4h0.65M306.1 405.5h0.65M341.4 400.8h0.65M363.3 442.6h0.65M370.6 429.1h0.65M349.4 451.3h0.65M309.9 441.2h0.65M313.6 400.8h0.65M303.0 429.7h0.65M308.4 451.6h0.65M312.1 460.5h0.65M360.7 419.4h0.65M321.1 389.9h0.65M309.1 402.0h0.65M309.1 419.0h0.65M302.3 419.3h0.65M307.8 431.8h0.65M330.1 459.0h0.65M321.7 396.2h0.65M314.5 401.1h0.65M356.3 445.0h0.65M364.2 453.2h0.65M304.9 443.5h0.65M348.2 396.3h0.65M307.9 426.1h0.65M351.3 398.3h0.65M345.1 460.0h0.65M356.7 454.8h0.65M336.7 399.8h0.65M364.6 439.2h0.65M343.1 403.3h0.65M305.0 408.3h0.65M323.9 461.4h0.65M310.5 398.9h0.65M384.7 421.6h0.65M309.5 441.5h0.65M304.8 418.5h0.65M311.1 458.9h0.65M308.0 430.9h0.65M306.2 411.3h0.65M305.1 441.3h0.65M311.6 402.8h0.65M338.5 398.4h0.65M327.8 461.5h0.65M308.0 417.4h0.65M308.4 460.2h0.65M354.1 448.5h0.65M305.9 440.7h0.65M309.2 440.3h0.65M360.0 415.5h0.65M307.8 427.4h0.65M371.2 423.2h0.65M305.3 424.8h0.65M328.7 395.2h0.65M353.8 410.0h0.65M355.9 411.4h0.65M350.1 403.9h0.65M312.5 400.1h0.65M352.1 408.1h0.65M346.0 456.9h0.65M341.8 399.4h0.65M332.6 458.8h0.65M306.3 452.0h0.65M309.6 405.6h0.65M345.6 399.1h0.65M352.4 408.7h0.65M306.3 410.8h0.65M317.1 397.6h0.65M326.8 460.7h0.65M307.0 413.5h0.65M354.6 403.7h0.65M361.2 426.3h0.65M331.3 396.0h0.65M303.7 407.4h0.65M315.3 469.3h0.65M309.2 437.0h0.65M350.5 457.7h0.65M308.5 449.5h0.65M306.8 423.3h0.65M351.8 455.2h0.65M333.0 395.6h0.65M312.7 403.4h0.65M336.4 391.7h0.65M329.1 460.1h0.65M306.8 424.0h0.65M351.8 452.0h0.65M324.3 397.8h0.65M319.1 393.1h0.65M318.2 399.5h0.65M308.8 418.4h0.65M332.6 397.1h0.65M320.3 470.3h0.65M331.4 397.8h0.65M356.8 449.2h0.65M304.7 406.5h0.65M327.0 395.9h0.65M305.8 426.2h0.65M332.8 461.5h0.65M348.1 453.1h0.65M344.8 401.9h0.65M308.5 420.6h0.65M362.0 438.0h0.65M333.2 462.3h0.65M307.6 415.2h0.65M356.6 453.6h0.65M363.0 414.1h0.65M327.8 463.0h0.65M371.3 429.3h0.65M344.4 455.2h0.65M308.7 442.6h0.65M317.4 400.2h0.65M308.8 413.7h0.65M306.3 410.8h0.65M305.0 418.2h0.65M303.0 416.0h0.65M306.8 414.4h0.65M331.1 458.0h0.65M306.4 446.2h0.65M370.5 428.2h0.65M328.8 459.4h0.65M361.0 437.7h0.65M309.3 406.9h0.65M338.3 399.7h0.65M308.0 433.7h0.65M361.8 451.6h0.65M309.0 419.1h0.65M359.2 459.0h0.65M347.2 401.3h0.65M308.2 457.5h0.65M308.1 414.2h0.65M333.2 459.7h0.65M308.5 435.5h0.65M346.0 403.8h0.65M348.0 397.5h0.65M359.7 417.5h0.65M317.7 400.1h0.65M308.1 418.3h0.65M342.1 454.7h0.65M308.3 416.0h0.65M309.6 455.2h0.65M355.7 408.8h0.65M350.3 459.6h0.65M307.6 405.2h0.65M319.6 396.8h0.65M314.8 394.5h0.65M345.5 400.6h0.65M302.0 430.3h0.65M308.3 401.9h0.65M307.3 428.9h0.65M335.0 400.5h0.65M367.1 406.8h0.65M306.7 449.3h0.65M342.5 399.2h0.65M300.8 414.3h0.65M323.9 391.4h0.65M366.7 430.1h0.65M322.1 394.9h0.65M358.7 448.8h0.65M354.5 394.8h0.65M359.4 394.5h0.65M359.0 444.3h0.65M337.5 400.6h0.65M311.1 467.0h0.65M308.5 418.5h0.65M359.0 408.3h0.65M307.0 450.6h0.65M356.8 407.1h0.65M332.1 399.7h0.65M358.4 449.3h0.65M339.7 456.8h0.65M327.3 464.3h0.65M353.9 448.7h0.65M361.6 418.3h0.65M298.9 425.1h0.65M308.5 456.7h0.65M307.1 429.7h0.65M360.0 439.7h0.65M328.8 400.2h0.65M330.6 400.2h0.65M307.7 400.2h0.65M305.8 447.4h0.65M306.9 449.8h0.65M307.5 409.6h0.65M333.4 399.2h0.65M350.3 404.9h0.65M317.5 468.7h0.65M330.8 459.7h0.65M307.2 402.0h0.65M363.8 438.1h0.65M344.2 396.2h0.65M318.2 396.5h0.65M346.6 394.6h0.65M367.1 419.5h0.65M323.9 399.0h0.65M309.0 441.5h0.65M357.4 413.2h0.65M307.5 426.8h0.65M307.5 441.2h0.65M346.1 398.3h0.65M309.5 438.1h0.65M308.7 445.4h0.65M322.7 464.5h0.65M325.6 460.4h0.65M333.4 464.1h0.65M305.7 428.4h0.65M306.9 412.2h0.65M365.8 414.2h0.65M333.5 398.8h0.65M364.7 427.2h0.65M354.2 463.4h0.65M327.8 396.7h0.65M375.2 426.9h0.65M308.3 462.6h0.65M308.7 429.0h0.65M307.0 404.2h0.65M365.8 425.8h0.65M309.1 438.2h0.65M302.1 464.0h0.65M305.8 438.2h0.65M322.2 463.0h0.65M383.6 461.2h0.65M306.3 410.8h0.65M348.2 452.3h0.65M309.2 441.5h0.65M362.7 453.2h0.65M317.5 396.8h0.65M308.9 411.9h0.65M366.3 426.7h0.65M361.0 439.7h0.65M308.9 431.1h0.65M346.3 401.8h0.65M304.6 411.0h0.65M329.4 392.3h0.65M358.5 457.5h0.65M345.0 403.7h0.65M360.0 418.6h0.65M331.3 398.0h0.65M347.5 400.3h0.65M337.3 399.0h0.65M340.0 399.4h0.65M367.2 430.2h0.65M350.7 451.3h0.65M353.7 410.1h0.65M306.4 457.2h0.65M359.5 415.7h0.65M361.9 425.7h0.65M326.2 397.7h0.65M345.1 460.0h0.65M360.2 388.8h0.65M316.4 391.9h0.65M340.3 457.5h0.65M361.4 429.3h0.65M309.8 393.5h0.65M328.5 397.0h0.65M323.4 466.9h0.65M358.4 442.9h0.65M306.7 428.8h0.65M357.6 414.8h0.65" stroke="#555" stroke-width="0.65" fill="none"/>
<path d="M319.2 462.7l-3.2 0.1 -2.8 -1.2 -1.8 -2.2 -1 -3.2 -0.5 -6.5 -0.6 -28.7 0.1 -9.3 0.6 -4 1.3 -2.7 1.8 -2 2.3 -1.6 2.8 -1 3 -0.4 5.2 0 8 0.4 3.8 0.7 4.5 2 8.3 4.9 2.8 2.7 4.7 6.3 1.6 3 0.7 3.4 0.1 7.8 -0.6 3.8 -2.5 6.2 -1.9 3.5 -2.2 2.4 -3.7 2.7 -4.3 2.7 -3 1.5 -12.7 4.2 -8 3.7 -2.8 0.8z M319 461.7l-2.8 0.1 -2.5 -1.1 -1.6 -2 -0.8 -2.7 -0.5 -5.8 -0.6 -30 0.1 -8.8 0.6 -3.4 1.1 -2.3 1.7 -2 2.3 -1.6 2.4 -0.8 3.3 -0.4 5.7 0.1 7.3 0.4 3.5 0.7 2.2 0.9 4.6 2.5 5.4 3.6 2.8 2.9 4.4 6 1.3 2.7 0.6 3.5 0 7 -0.7 3.8 -2.5 6.2 -1.7 3 -2.3 2.2 -4.3 3.2 -5.8 3.3 -13 4.3 -7.8 3.7 -2.4 0.8z M318.7 461l-2.5 0 -2.2 -1.1 -1.5 -1.9 -0.7 -2.8 -1 -35.2 0.1 -8 0.6 -3.8 1.1 -2.2 1.8 -2 2 -1.4 2.6 -0.8 4.4 -0.2 8.6 0.3 3.4 0.2 2.8 0.7 7.2 4 4.6 3.1 2.6 2.8 3.8 5.5 1.3 2.8 0.6 3.2 0 6.8 -0.8 3.7 -2.4 6 -1.5 2.7 -2.2 2.3 -4.7 3.4 -5.3 3 -13.6 4.6 -6.6 3.4 -2.5 0.9z M318.7 460.3l-2.5 0 -2 -1 -1.2 -1.9 -0.6 -2.7 -1.1 -34.7 0.1 -8 0.6 -3.6 1.1 -2.2 1.6 -1.8 2 -1.3 2.3 -0.7 3.2 -0.3 6 0.1 6.2 0.4 3.3 0.6 3.3 1.7 8 5.3 2.6 2.8 3.4 5 1.4 3 0.6 3.2 -0.1 6.2 -0.8 3.8 -2.4 6 -1.3 2.5 -2.1 2.3 -4.3 3.2 -5.3 3.1 -13.4 4.7 -6.6 3.5 -2 0.8z M318.4 459.7l-2.2 0 -1.8 -1 -1 -1.7 -0.6 -2.6 -1 -34.7 0.1 -7.7 0.6 -3.6 1 -2 1.6 -1.7 1.9 -1.2 2.2 -0.7 3 -0.2 5.5 0.1 6.7 0.4 3 0.6 2.8 1.3 7.9 5.4 2.4 2.6 2.8 4.2 1.6 3.5 0.6 3.3 -0.2 5 -1.1 4.3 -2.2 6.2 -1.3 2.5 -2.1 2.4 -3.6 3 -5 3.1 -13.6 4.8 -5.7 3.5 -2.3 0.9z M318.4 459.2l-2 0.1 -1.7 -1 -1 -1.6 -0.6 -2.7 -1 -34.3 0.1 -7.7 0.6 -3.3 1 -2 1.4 -1.6 2 -1.3 2 -0.6 3.2 -0.3 6.3 0.2 5.7 0.3 3 0.7 2.6 1.3 6.8 4.8 2.3 2.2 1.9 2.8 1.9 4 0.8 3.2 -0.1 3.8 -1 4 -4 11 -1.7 2.5 -2.6 2.5 -2.6 2 -2.6 1.5 -4.4 1.9 -8.7 3 -5.6 3.7 -2 0.9z M317.7 458l-1.5 -0.2 -1.2 -1.1 -0.6 -1.7 -0.4 -2.6 -1.1 -33 0.2 -7.2 0.6 -3.2 0.8 -1.8 1.5 -1.6 1.7 -1 2 -0.6 3.7 -0.2 7 0.3 4 0.3 2.6 0.6 2.2 1.2 4.9 4.2 1.9 2.3 1.1 2.3 0.8 3.7 0.1 4.5 -0.6 3.8 -1.4 4.4 -1.6 4 -1.9 3.3 -2.1 2.7 -2.7 2.8 -2.7 2.4 -2.4 1.6 -7.6 3.1 -1.3 1.1 -3.5 4.2 -1.2 0.9 -1.3 0.5z M318 456.8l-1.3 0 -1 -0.8 -0.7 -1.8 -0.3 -2.8 -1.2 -31.7 0.1 -7.3 0.6 -3.2 0.9 -1.8 1.1 -1.2 1.5 -1 2 -0.6 3.3 -0.2 6 0.2 5 0.4 2.4 0.5 2.4 1.5 2.7 3 1.5 2 0.9 2.2 0.7 4.2 0 3.8 -0.5 4.5 -1.1 3.7 -2.2 4.6 -3.3 4.2 -2.8 2.6 -2.7 2.1 -7.8 3.8 -1.5 1.9 -2.7 5.4 -1 1.2 -1 0.6z M317.4 455.5l-0.8 -0.3 -0.6 -1.1 -0.7 -4.4 -0.2 -8.7 -1.2 -21.3 0.2 -7 0.6 -3.3 0.7 -1.5 1.3 -1.4 1.5 -0.9 1.8 -0.5 3.2 -0.2 5.8 0.2 4.4 0.4 2.6 0.6 1.8 1.1 1.4 1.8 1.4 3 0.8 3.2 0.6 3.8 0 3.4 -0.5 4 -1 3.6 -2.5 4.5 -4 4.3 -3.6 2.3 -6.2 2.3 -1.5 1.1 -1 1.8 -2.3 7.1 -1 1.5 -1 0.6z M317.4 453l-0.7 -0.7 -0.6 -2.6 -0.2 -8.5 -1.3 -15.5 -0.2 -10.7 0.3 -3.3 0.5 -2.2 0.9 -1.5 1.1 -1.2 1.2 -0.7 1.8 -0.5 9 0.1 4 0.4 2.2 0.6 1.6 0.9 0.8 1.4 1.8 9.2 0.1 5.5 -1.3 5.5 -2.4 4.2 -3.6 3.6 -3.2 1.7 -6.5 1.8 -1.6 0.9 -1 2.3 -1.2 7 -0.7 1.7 -0.8 0.6z M318 441l-0.6 -0.1 -0.2 -0.5 -0.8 -3 -1.3 -11.7 -0.2 -11.3 0.3 -3.2 0.7 -2 0.9 -1.2 1.2 -1 1.2 -0.6 1.8 -0.3 8.4 0.2 3.4 0.4 1.9 0.6 1 0.7 0.5 1 0 3.2 1.1 4.5 0.4 3 -0.4 5.3 -1.5 4.7 -2.1 3.1 -2.7 2.4 -4 1.7 -6 1.1 -1.3 0.9 -1.7 2.1z M318.4 435.7l-0.7 -0.3 -0.8 -1.7 -0.8 -3.5 -0.5 -4.8 -0.2 -10.4 0.3 -3.3 0.7 -2.2 0.8 -1.1 1.1 -1 2.7 -0.7 8 0.2 2.7 0.5 1.6 0.6 0.8 1 -0.2 3 1.2 4.4 0.4 3.3 -0.6 5.5 -1.4 4 -2.3 2.9 -3 2 -2.8 0.8 -4.7 0.1 -2.3 0.7z M325.7 432.5l-2 0.2 -5.3 -0.7 -1 -1 -0.7 -2.2 -0.9 -8.8 0.4 -7.6 0.5 -1.8 0.8 -1.4 1.2 -1 1.5 -0.6 2.2 -0.2 3.8 0.1 2.8 0.4 1.5 0.5 0.6 0.8 0 2.5 1.9 5 0.2 2.3 -0.2 2.7 -0.6 3.5 -0.9 2.5 -1.1 1.7 -1.2 1.3 -1.8 1.1 -1.7 0.7z M325 430.2l-2 0 -4.3 -1.3 -1 -1.1 -0.6 -2.1 -0.7 -6.7 0.5 -5.8 0.5 -1.6 0.8 -1.1 1.1 -0.8 1.4 -0.5 1.8 0 1.5 0.5 0.7 1.3 2.7 1.8 1.6 1.4 1 1.5 0.6 1.7 -0.1 3.8 -1.4 5.5 -1.7 2.3 -1.2 0.8 -1.2 0.4z M324.7 427.2l-1 0.2 -1.2 -0.4 -4.1 -3.1 -0.7 -2.2 -0.3 -2.7 0.2 -2.6 0.6 -1.3 0.8 0 2.4 2 3.8 0.2 0.8 0.4 0.7 0.8 0.5 2.2 -0.4 3.5 -0.8 2 -1.3 1z" fill="none" stroke="#2a2a2a" stroke-width="0.45" stroke-opacity="1.0" stroke-linejoin="round"/>
</g>
<rect x="288.5" y="388.5" width="97" height="96" fill="none" stroke="#8a8a8a" stroke-width="0.9" />
<line x1="337.5" y1="388.2" x2="337.5" y2="484.4" stroke="#6f6f6f" stroke-width="0.9" />
<line x1="288.7" y1="435.5" x2="385.5" y2="435.5" stroke="#6f6f6f" stroke-width="0.9" />
<text x="292" y="402.4" font-size="12.3" text-anchor="start" fill="#111" >54</text>
<text x="381.9" y="402.4" font-size="12.3" text-anchor="end" fill="#111" >20</text>
<text x="381.9" y="480" font-size="12.3" text-anchor="end" fill="#111" >12</text>
<path d="M48.6 227.9h2.4M48.6 251.5h2.4M48.6 277.2h2.4M48.6 292.3h2.4M48.6 308.3h2.4M49.6 269.5h1.4M49.6 264.9h1.4M49.6 261.7h1.4M49.6 259.2h1.4M49.6 257.2h1.4M49.6 255.5h1.4M49.6 254.0h1.4M49.6 252.7h1.4M49.6 244.4h1.4M49.6 240.2h1.4M49.6 237.3h1.4M49.6 235.0h1.4M49.6 233.1h1.4M49.6 231.6h1.4M49.6 230.2h1.4M49.6 229.0h1.4M49.9 281.1h1.1M49.9 285.0h1.1M49.9 288.9h1.1M49.9 292.8h1.1M49.9 296.6h1.1M49.9 300.5h1.1M49.9 304.4h1.1M58.2 313.0v2M73.1 313.0v2M90.2 313.0v2M117.3 313.0v2M140.1 313.0v2M98.4 313.0v1.1M103.1 313.0v1.1M106.5 313.0v1.1M109.1 313.0v1.1M111.3 313.0v1.1M113.1 313.0v1.1M114.7 313.0v1.1M116.1 313.0v1.1M124.2 313.0v1.1M128.2 313.0v1.1M131.0 313.0v1.1M133.2 313.0v1.1M135.0 313.0v1.1M136.6 313.0v1.1M137.9 313.0v1.1M139.1 313.0v1.1M62.2 313.0v1.1M66.2 313.0v1.1M70.2 313.0v1.1M74.2 313.0v1.1M78.2 313.0v1.1M82.2 313.0v1.1M86.2 313.0v1.1" stroke="#111" stroke-width="0.8"/>
<rect x="48.6" y="290.1" width="2.4" height="4.4" fill="#111" stroke="none" stroke-width="1" />
<rect x="71.1" y="313" width="4.4" height="2.2" fill="#111" stroke="none" stroke-width="1" />
<path d="M158.9 227.9h2.4M158.9 251.5h2.4M158.9 277.2h2.4M158.9 292.3h2.4M158.9 308.3h2.4M159.9 269.5h1.4M159.9 264.9h1.4M159.9 261.7h1.4M159.9 259.2h1.4M159.9 257.2h1.4M159.9 255.5h1.4M159.9 254.0h1.4M159.9 252.7h1.4M159.9 244.4h1.4M159.9 240.2h1.4M159.9 237.3h1.4M159.9 235.0h1.4M159.9 233.1h1.4M159.9 231.6h1.4M159.9 230.2h1.4M159.9 229.0h1.4M160.2 281.1h1.1M160.2 285.0h1.1M160.2 288.9h1.1M160.2 292.8h1.1M160.2 296.6h1.1M160.2 300.5h1.1M160.2 304.4h1.1M168.5 313.0v2M183.4 313.0v2M200.5 313.0v2M227.6 313.0v2M250.4 313.0v2M208.7 313.0v1.1M213.4 313.0v1.1M216.8 313.0v1.1M219.4 313.0v1.1M221.6 313.0v1.1M223.4 313.0v1.1M225.0 313.0v1.1M226.4 313.0v1.1M234.5 313.0v1.1M238.5 313.0v1.1M241.3 313.0v1.1M243.5 313.0v1.1M245.3 313.0v1.1M246.9 313.0v1.1M248.2 313.0v1.1M249.4 313.0v1.1M172.5 313.0v1.1M176.5 313.0v1.1M180.5 313.0v1.1M184.5 313.0v1.1M188.5 313.0v1.1M192.5 313.0v1.1M196.5 313.0v1.1" stroke="#111" stroke-width="0.8"/>
<rect x="158.9" y="290.1" width="2.4" height="4.4" fill="#111" stroke="none" stroke-width="1" />
<rect x="181.4" y="313" width="4.4" height="2.2" fill="#111" stroke="none" stroke-width="1" />
<path d="M266.9 227.9h2.4M266.9 251.5h2.4M266.9 277.2h2.4M266.9 292.3h2.4M266.9 308.3h2.4M267.9 269.5h1.4M267.9 264.9h1.4M267.9 261.7h1.4M267.9 259.2h1.4M267.9 257.2h1.4M267.9 255.5h1.4M267.9 254.0h1.4M267.9 252.7h1.4M267.9 244.4h1.4M267.9 240.2h1.4M267.9 237.3h1.4M267.9 235.0h1.4M267.9 233.1h1.4M267.9 231.6h1.4M267.9 230.2h1.4M267.9 229.0h1.4M268.2 281.1h1.1M268.2 285.0h1.1M268.2 288.9h1.1M268.2 292.8h1.1M268.2 296.6h1.1M268.2 300.5h1.1M268.2 304.4h1.1M276.5 313.0v2M291.4 313.0v2M308.5 313.0v2M335.6 313.0v2M358.4 313.0v2M316.7 313.0v1.1M321.4 313.0v1.1M324.8 313.0v1.1M327.4 313.0v1.1M329.6 313.0v1.1M331.4 313.0v1.1M333.0 313.0v1.1M334.4 313.0v1.1M342.5 313.0v1.1M346.5 313.0v1.1M349.3 313.0v1.1M351.5 313.0v1.1M353.3 313.0v1.1M354.9 313.0v1.1M356.2 313.0v1.1M357.4 313.0v1.1M280.5 313.0v1.1M284.5 313.0v1.1M288.5 313.0v1.1M292.5 313.0v1.1M296.5 313.0v1.1M300.5 313.0v1.1M304.5 313.0v1.1" stroke="#111" stroke-width="0.8"/>
<rect x="266.9" y="290.1" width="2.4" height="4.4" fill="#111" stroke="none" stroke-width="1" />
<rect x="289.4" y="313" width="4.4" height="2.2" fill="#111" stroke="none" stroke-width="1" />
<path d="M376.2 227.9h2.4M376.2 251.5h2.4M376.2 277.2h2.4M376.2 292.3h2.4M376.2 308.3h2.4M377.2 269.5h1.4M377.2 264.9h1.4M377.2 261.7h1.4M377.2 259.2h1.4M377.2 257.2h1.4M377.2 255.5h1.4M377.2 254.0h1.4M377.2 252.7h1.4M377.2 244.4h1.4M377.2 240.2h1.4M377.2 237.3h1.4M377.2 235.0h1.4M377.2 233.1h1.4M377.2 231.6h1.4M377.2 230.2h1.4M377.2 229.0h1.4M377.5 281.1h1.1M377.5 285.0h1.1M377.5 288.9h1.1M377.5 292.8h1.1M377.5 296.6h1.1M377.5 300.5h1.1M377.5 304.4h1.1M385.8 313.0v2M400.7 313.0v2M417.8 313.0v2M444.9 313.0v2M467.7 313.0v2M426.0 313.0v1.1M430.7 313.0v1.1M434.1 313.0v1.1M436.7 313.0v1.1M438.9 313.0v1.1M440.7 313.0v1.1M442.3 313.0v1.1M443.7 313.0v1.1M451.8 313.0v1.1M455.8 313.0v1.1M458.6 313.0v1.1M460.8 313.0v1.1M462.6 313.0v1.1M464.2 313.0v1.1M465.5 313.0v1.1M466.7 313.0v1.1M389.8 313.0v1.1M393.8 313.0v1.1M397.8 313.0v1.1M401.8 313.0v1.1M405.8 313.0v1.1M409.8 313.0v1.1M413.8 313.0v1.1" stroke="#111" stroke-width="0.8"/>
<rect x="376.2" y="290.1" width="2.4" height="4.4" fill="#111" stroke="none" stroke-width="1" />
<rect x="398.7" y="313" width="4.4" height="2.2" fill="#111" stroke="none" stroke-width="1" />
<path d="M485.3 227.9h2.4M485.3 251.5h2.4M485.3 277.2h2.4M485.3 292.3h2.4M485.3 308.3h2.4M486.3 269.5h1.4M486.3 264.9h1.4M486.3 261.7h1.4M486.3 259.2h1.4M486.3 257.2h1.4M486.3 255.5h1.4M486.3 254.0h1.4M486.3 252.7h1.4M486.3 244.4h1.4M486.3 240.2h1.4M486.3 237.3h1.4M486.3 235.0h1.4M486.3 233.1h1.4M486.3 231.6h1.4M486.3 230.2h1.4M486.3 229.0h1.4M486.6 281.1h1.1M486.6 285.0h1.1M486.6 288.9h1.1M486.6 292.8h1.1M486.6 296.6h1.1M486.6 300.5h1.1M486.6 304.4h1.1M494.9 313.0v2M509.8 313.0v2M526.9 313.0v2M554.0 313.0v2M576.8 313.0v2M535.1 313.0v1.1M539.8 313.0v1.1M543.2 313.0v1.1M545.8 313.0v1.1M548.0 313.0v1.1M549.8 313.0v1.1M551.4 313.0v1.1M552.8 313.0v1.1M560.9 313.0v1.1M564.9 313.0v1.1M567.7 313.0v1.1M569.9 313.0v1.1M571.7 313.0v1.1M573.3 313.0v1.1M574.6 313.0v1.1M575.8 313.0v1.1M498.9 313.0v1.1M502.9 313.0v1.1M506.9 313.0v1.1M510.9 313.0v1.1M514.9 313.0v1.1M518.9 313.0v1.1M522.9 313.0v1.1" stroke="#111" stroke-width="0.8"/>
<rect x="485.3" y="290.1" width="2.4" height="4.4" fill="#111" stroke="none" stroke-width="1" />
<rect x="507.8" y="313" width="4.4" height="2.2" fill="#111" stroke="none" stroke-width="1" />
<text x="48.2" y="230.5" font-size="6.4" text-anchor="end" fill="#222">10<tspan dx="-0.3" dy="-4.48" font-size="6.08">5</tspan></text>
<text x="48.2" y="254.1" font-size="6.4" text-anchor="end" fill="#222">10<tspan dx="-0.3" dy="-4.48" font-size="6.08">4</tspan></text>
<text x="48.2" y="279.8" font-size="6.4" text-anchor="end" fill="#222">10<tspan dx="-0.3" dy="-4.48" font-size="6.08">3</tspan></text>
<text x="45.8" y="294.5" font-size="6.4" text-anchor="end" fill="#222" >0</text>
<text x="48.2" y="310.7" font-size="6.4" text-anchor="end" fill="#222">-10<tspan dx="-0.3" dy="-4.48" font-size="6.08">3</tspan></text>
<text x="59.6" y="323" font-size="6.4" text-anchor="middle" fill="#222">-10<tspan dx="-0.3" dy="-4.48" font-size="6.08">3</tspan></text>
<text x="91.6" y="323" font-size="6.4" text-anchor="middle" fill="#222">10<tspan dx="-0.3" dy="-4.48" font-size="6.08">3</tspan></text>
<text x="118.7" y="323" font-size="6.4" text-anchor="middle" fill="#222">10<tspan dx="-0.3" dy="-4.48" font-size="6.08">4</tspan></text>
<text x="141.5" y="323" font-size="6.4" text-anchor="middle" fill="#222">10<tspan dx="-0.3" dy="-4.48" font-size="6.08">5</tspan></text>
<text x="73.1" y="323" font-size="6.4" text-anchor="middle" fill="#222" >0</text>
<text x="51.4" y="210.3" font-size="11.3" fill="#111"><tspan>Ctrl</tspan></text>
<text x="161.7" y="210.3" font-size="11.3" fill="#111"><tspan font-style="italic">Etv2</tspan><tspan> KO</tspan></text>
<text x="269.7" y="210.3" font-size="11.3" fill="#111"><tspan font-style="italic">Smad1</tspan><tspan> KO</tspan></text>
<text x="379" y="210.3" font-size="11.3" fill="#111"><tspan font-style="italic">Ldb1</tspan><tspan> KO</tspan></text>
<text x="488.1" y="210.3" font-size="11.3" fill="#111"><tspan font-style="italic">Six4</tspan><tspan> KO</tspan></text>
<text x="26.8" y="313.1" font-size="10.6" text-anchor="middle" transform="rotate(-90 26.8 313.1)" fill="#111" >FLK1</text>
<line x1="25.5" y1="296.8" x2="25.5" y2="220.5" stroke="#111" stroke-width="0.9" />
<path d="M25 216.6 L23.3 221.4 L26.7 221.4Z" fill="#222"/>
<text x="26.2" y="341" font-size="11.3" text-anchor="start" fill="#111" >PDGFRa</text>
<line x1="78.3" y1="336.5" x2="581" y2="336.5" stroke="#111" stroke-width="0.9" />
<path d="M585.2 336.4 L580.4 334.7 L580.4 338.1Z" fill="#222"/>
<path d="M179.8 411.6h2.4M179.8 440.9h2.4M179.8 460.0h2.4M179.8 480.3h2.4M180.8 432.1h1.4M180.8 426.9h1.4M180.8 423.3h1.4M180.8 420.4h1.4M180.8 418.1h1.4M180.8 416.1h1.4M180.8 414.4h1.4M180.8 412.9h1.4M180.8 402.8h1.4M180.8 397.6h1.4M180.8 394.0h1.4M180.8 391.1h1.4M180.8 388.8h1.4M180.8 386.8h1.4M180.8 385.1h1.4M180.8 383.6h1.4M181.1 445.8h1.1M181.1 450.8h1.1M181.1 455.7h1.1M181.1 460.6h1.1M181.1 465.5h1.1M181.1 470.4h1.1M181.1 475.4h1.1M189.0 484.4v2M206.3 484.4v2M227.7 484.4v2M256.3 484.4v2M236.3 484.4v1.1M241.3 484.4v1.1M244.9 484.4v1.1M247.7 484.4v1.1M250.0 484.4v1.1M251.9 484.4v1.1M253.5 484.4v1.1M255.0 484.4v1.1M264.9 484.4v1.1M269.9 484.4v1.1M273.5 484.4v1.1M276.3 484.4v1.1M278.6 484.4v1.1M280.5 484.4v1.1M282.1 484.4v1.1M283.6 484.4v1.1M193.8 484.4v1.1M198.7 484.4v1.1M203.5 484.4v1.1M208.3 484.4v1.1M213.2 484.4v1.1M218.0 484.4v1.1M222.9 484.4v1.1" stroke="#111" stroke-width="0.8"/>
<rect x="179.8" y="457.8" width="2.4" height="4.4" fill="#111" stroke="none" stroke-width="1" />
<rect x="204.1" y="484.4" width="4.4" height="2.2" fill="#111" stroke="none" stroke-width="1" />
<path d="M286.3 411.6h2.4M286.3 440.9h2.4M286.3 460.0h2.4M286.3 480.3h2.4M287.3 432.1h1.4M287.3 426.9h1.4M287.3 423.3h1.4M287.3 420.4h1.4M287.3 418.1h1.4M287.3 416.1h1.4M287.3 414.4h1.4M287.3 412.9h1.4M287.3 402.8h1.4M287.3 397.6h1.4M287.3 394.0h1.4M287.3 391.1h1.4M287.3 388.8h1.4M287.3 386.8h1.4M287.3 385.1h1.4M287.3 383.6h1.4M287.6 445.8h1.1M287.6 450.8h1.1M287.6 455.7h1.1M287.6 460.6h1.1M287.6 465.5h1.1M287.6 470.4h1.1M287.6 475.4h1.1M295.5 484.4v2M312.8 484.4v2M334.2 484.4v2M362.8 484.4v2M342.8 484.4v1.1M347.8 484.4v1.1M351.4 484.4v1.1M354.2 484.4v1.1M356.5 484.4v1.1M358.4 484.4v1.1M360.0 484.4v1.1M361.5 484.4v1.1M371.4 484.4v1.1M376.4 484.4v1.1M380.0 484.4v1.1M382.8 484.4v1.1M385.1 484.4v1.1M387.0 484.4v1.1M388.6 484.4v1.1M390.1 484.4v1.1M300.3 484.4v1.1M305.2 484.4v1.1M310.0 484.4v1.1M314.9 484.4v1.1M319.7 484.4v1.1M324.5 484.4v1.1M329.4 484.4v1.1" stroke="#111" stroke-width="0.8"/>
<rect x="286.3" y="457.8" width="2.4" height="4.4" fill="#111" stroke="none" stroke-width="1" />
<rect x="310.6" y="484.4" width="4.4" height="2.2" fill="#111" stroke="none" stroke-width="1" />
<text x="179.6" y="413.7" font-size="5.3" text-anchor="end" fill="#222">10<tspan dx="-0.3" dy="-3.71" font-size="5.03">4</tspan></text>
<text x="179.6" y="443" font-size="5.3" text-anchor="end" fill="#222">10<tspan dx="-0.3" dy="-3.71" font-size="5.03">3</tspan></text>
<text x="177.4" y="462.1" font-size="5.3" text-anchor="end" fill="#222" >0</text>
<text x="179.6" y="482.4" font-size="5.3" text-anchor="end" fill="#222">-10<tspan dx="-0.3" dy="-3.71" font-size="5.03">3</tspan></text>
<text x="190.2" y="493.8" font-size="5.3" text-anchor="middle" fill="#222">-10<tspan dy="-2.38" font-size="4.77">3</tspan></text>
<text x="228.9" y="493.8" font-size="5.3" text-anchor="middle" fill="#222">10<tspan dy="-2.38" font-size="4.77">3</tspan></text>
<text x="257.5" y="493.8" font-size="5.3" text-anchor="middle" fill="#222">10<tspan dy="-2.38" font-size="4.77">4</tspan></text>
<text x="206.3" y="493" font-size="5.3" text-anchor="middle" fill="#222" >0</text>
<text x="182.7" y="380.5" font-size="11.3" fill="#111"><tspan>Ctrl</tspan></text>
<text x="289.2" y="381.0" font-size="11.3" fill="#111"><tspan font-style="italic">Zbtb7b</tspan><tspan> KO</tspan></text>
<text x="166.7" y="477.2" font-size="10.6" text-anchor="middle" transform="rotate(-90 166.7 477.2)" fill="#111" >FLK1</text>
<line x1="165.5" y1="460" x2="165.5" y2="385" stroke="#111" stroke-width="0.9" />
<path d="M165.3 381.2 L163.6 386 L167 386Z" fill="#222"/>
<text x="166.6" y="505" font-size="11.3" text-anchor="start" fill="#111" >PDGFRa</text>
<line x1="218.9" y1="499.5" x2="383" y2="499.5" stroke="#111" stroke-width="0.9" />
<path d="M387.2 499.6 L382.4 497.9 L382.4 501.3Z" fill="#222"/>
<rect x="37.8" y="587.5" width="170" height="95.7" fill="#e8e6e4" stroke="none" stroke-width="1" />
<path d="M74.7 645.5h0M69.0 639.0h0M78.6 641.9h0M78.6 628.8h0M66.7 638.6h0M83.4 639.4h0M69.2 634.5h0M90.5 621.3h0M64.1 618.5h0M69.2 640.1h0M80.8 639.8h0M66.9 657.4h0M72.7 648.6h0M91.2 630.7h0M80.2 636.0h0M92.0 615.0h0M54.4 617.5h0M62.2 618.1h0M60.1 617.5h0M78.0 638.4h0M92.2 618.0h0M58.4 649.3h0M92.9 618.9h0M48.6 634.8h0M83.8 641.3h0M75.6 648.4h0M76.7 635.0h0M58.6 617.4h0M63.6 654.0h0M60.6 644.6h0M56.7 617.6h0M67.9 649.4h0M70.4 631.2h0M62.1 612.8h0M96.6 615.0h0M58.1 618.2h0M62.0 613.8h0M56.8 615.7h0M63.8 649.4h0M62.7 643.8h0M62.2 616.3h0M62.3 613.0h0M75.7 645.6h0M50.3 634.9h0M98.5 612.2h0M69.0 628.8h0M82.4 631.0h0M58.8 615.1h0M60.9 615.0h0M96.2 613.7h0M50.1 636.1h0M69.6 639.3h0M54.1 635.5h0M77.3 633.2h0M86.5 640.2h0M55.9 642.0h0M59.0 641.8h0M60.6 615.2h0M74.5 635.9h0M69.2 641.9h0M68.1 642.2h0M87.0 630.2h0M69.4 640.8h0M72.7 624.5h0M59.4 646.2h0M82.4 626.0h0M72.9 642.2h0M54.2 645.4h0M87.8 627.8h0M83.9 625.4h0M88.2 625.1h0M57.4 616.0h0M59.0 642.8h0M88.4 627.0h0M90.9 632.4h0M72.3 650.7h0M80.5 639.1h0M63.8 641.4h0M72.6 644.8h0M93.1 618.5h0M72.7 644.4h0M56.6 611.7h0M89.4 625.8h0M80.5 640.1h0M70.3 632.8h0M73.7 630.8h0M66.6 634.1h0M49.0 634.4h0M70.9 651.1h0M95.9 615.1h0M83.8 644.8h0M76.6 638.7h0M74.1 628.4h0M69.4 637.7h0M75.1 634.1h0M71.3 653.9h0M74.4 634.9h0M66.1 635.5h0M61.5 646.8h0M73.8 636.3h0M72.8 641.6h0M83.0 625.2h0M74.8 645.6h0M55.5 641.3h0M72.8 618.7h0M74.8 638.2h0M56.7 616.6h0M86.1 625.8h0M72.9 635.9h0M77.3 631.8h0M50.1 635.4h0M68.2 640.9h0M58.5 613.6h0M73.9 626.1h0M50.2 635.6h0M81.6 648.6h0M46.4 634.7h0M84.5 637.0h0M94.1 617.6h0M71.4 632.1h0M67.4 642.0h0M80.6 635.0h0M71.3 623.7h0M78.6 633.9h0M72.8 646.1h0M69.2 649.3h0M77.2 633.4h0M80.9 643.0h0M70.4 656.5h0M62.5 615.2h0M76.8 627.2h0M62.7 623.0h0M57.9 618.5h0M72.3 647.2h0M88.7 626.1h0M59.4 613.8h0M80.5 636.5h0M77.4 637.8h0M77.1 621.4h0M76.8 643.0h0M61.8 654.7h0M62.9 646.0h0M64.0 613.2h0M67.7 619.6h0M47.9 634.5h0M75.9 639.6h0M67.1 643.4h0M70.4 634.1h0M76.6 642.8h0M65.2 615.0h0M81.2 622.2h0M60.8 649.6h0M95.2 613.7h0M67.4 631.1h0M71.8 627.3h0M70.5 643.3h0M64.3 642.2h0M68.6 645.5h0M60.6 614.5h0M58.3 639.9h0M83.4 627.6h0M68.3 634.8h0M79.4 626.9h0M62.8 619.7h0M65.5 642.7h0M91.4 615.1h0M83.3 634.9h0M66.7 645.5h0M93.1 619.6h0M77.5 628.7h0M63.3 621.3h0M89.4 630.7h0M72.8 647.2h0M58.5 615.3h0M64.7 645.7h0M57.3 617.9h0M79.9 628.6h0M78.1 645.8h0M60.7 615.4h0M95.5 614.4h0M78.6 625.8h0M69.7 639.3h0M78.5 630.7h0M71.6 625.7h0M76.0 636.7h0M64.7 641.4h0M71.4 643.6h0M47.3 634.1h0M63.4 612.4h0M55.9 645.1h0M88.6 624.1h0M49.1 635.5h0M79.2 637.3h0M89.9 643.5h0M70.4 646.2h0M69.1 622.7h0M74.5 625.1h0M81.3 636.2h0M80.5 637.1h0M72.8 626.3h0M66.0 640.5h0M69.0 647.1h0M82.4 638.7h0M73.7 644.2h0M70.3 623.6h0M71.8 626.6h0M65.7 642.9h0M88.6 636.2h0M69.0 639.2h0M77.1 630.5h0M47.9 634.5h0M72.2 645.9h0M65.0 644.2h0M81.0 634.9h0M76.3 626.8h0M72.0 647.9h0M70.4 631.6h0M72.0 632.8h0M81.4 645.6h0M61.8 616.7h0M72.1 635.9h0M72.6 644.7h0M92.7 619.5h0M94.2 612.4h0M68.2 635.4h0M62.6 615.1h0M65.2 625.3h0M70.1 651.3h0M63.6 652.3h0M68.9 621.9h0M70.0 645.6h0M78.1 637.1h0M49.7 637.6h0M50.6 635.5h0M95.5 614.3h0M84.4 629.9h0M87.0 631.8h0M78.5 626.2h0M74.6 637.4h0M66.2 641.4h0M79.1 624.6h0M74.7 632.0h0M65.1 627.5h0M53.9 638.8h0M62.8 639.4h0M58.4 649.5h0M65.4 616.0h0M69.7 620.4h0M75.7 649.8h0M91.8 622.6h0M74.4 622.9h0M80.2 640.7h0M68.0 644.1h0M74.3 640.9h0M60.4 635.8h0M71.1 642.1h0M63.1 640.9h0M66.9 644.9h0M71.3 636.4h0M78.2 643.0h0M60.2 617.5h0M76.5 633.0h0M81.0 629.6h0M63.0 623.8h0M60.1 652.0h0M72.3 646.1h0M83.3 632.2h0M75.2 634.9h0M70.9 646.0h0M47.6 633.8h0M78.5 622.2h0M53.5 612.7h0M63.1 615.3h0M74.2 647.0h0M49.5 635.4h0M65.1 635.9h0M68.4 650.9h0M63.4 639.6h0M71.0 648.4h0M76.9 628.8h0M77.2 636.3h0M72.7 650.8h0M82.3 630.8h0M71.6 645.6h0M62.5 642.4h0M72.5 642.7h0M73.7 640.3h0M63.7 638.1h0M60.8 646.0h0M60.4 617.3h0M64.5 628.4h0M64.3 645.0h0M67.1 651.4h0M64.4 642.2h0M58.0 618.0h0M49.2 636.5h0M58.3 628.1h0M72.8 622.4h0" stroke="#1a5a8b" stroke-width="1.76" stroke-linecap="round" fill="none"/>
<path d="M133.4 624.7h0M156.4 663.2h0M164.8 650.1h0M129.0 639.0h0M161.8 653.9h0M136.0 630.8h0M132.1 656.5h0M157.8 660.8h0M135.2 665.8h0M123.4 640.3h0M162.9 653.5h0M132.3 670.4h0M166.6 642.5h0M147.4 630.6h0M162.1 639.0h0M158.4 639.0h0M144.5 659.4h0M120.5 629.6h0M133.4 647.4h0M123.8 647.2h0M141.5 652.5h0M154.5 635.4h0M147.9 662.3h0M126.0 646.8h0M130.0 653.6h0M146.2 665.2h0M142.3 651.7h0M118.1 660.8h0M116.9 642.1h0M145.7 659.9h0M132.3 642.1h0M168.2 661.6h0M132.8 629.6h0M156.0 665.0h0M164.9 663.3h0M142.3 653.6h0M140.0 650.0h0M114.3 657.1h0M121.9 636.5h0M145.6 661.3h0M144.6 656.7h0M152.1 639.9h0M163.5 647.2h0M166.6 667.0h0M160.8 643.8h0M159.1 636.5h0M127.0 644.2h0M144.3 657.8h0M142.2 658.9h0M124.5 659.7h0M118.3 660.8h0M147.8 633.7h0M141.4 665.4h0M130.4 666.5h0M145.4 652.8h0M160.6 650.4h0M135.3 667.8h0M153.3 651.9h0M138.5 648.3h0M153.4 648.4h0M146.6 655.4h0M112.2 656.7h0M128.7 645.2h0M156.8 649.1h0M114.4 653.5h0M139.3 633.8h0M147.5 650.3h0M166.1 645.7h0M173.2 665.9h0M120.9 655.5h0M129.8 658.4h0M139.2 665.1h0M130.6 660.9h0M121.4 662.5h0M161.2 658.4h0M128.9 669.6h0M133.3 622.2h0M159.1 643.1h0M140.0 648.0h0M118.8 645.4h0M138.1 639.8h0M143.7 650.5h0M149.9 648.3h0M133.8 626.4h0M136.0 666.7h0M120.1 639.8h0M159.2 658.5h0M152.5 631.3h0M154.2 644.7h0M119.5 649.3h0M117.9 656.8h0M125.9 649.3h0M131.2 622.7h0M133.5 627.9h0M121.3 644.9h0M138.4 629.4h0M143.5 637.6h0M135.9 651.5h0M156.3 653.1h0M126.2 660.6h0M155.9 652.3h0M131.0 662.1h0M133.4 645.6h0M140.0 647.0h0M131.7 667.5h0M121.0 660.7h0M146.9 666.7h0M123.1 663.9h0M121.4 630.1h0M155.0 632.8h0M153.2 630.1h0M118.7 662.2h0M163.3 655.1h0M164.4 667.8h0M124.8 664.9h0M132.2 657.0h0M119.2 632.9h0M127.5 647.4h0M130.9 663.6h0M132.7 663.2h0M145.2 668.0h0M146.6 632.3h0M129.4 624.9h0M168.6 644.5h0M165.3 666.9h0M112.3 657.2h0M131.6 623.8h0M138.4 630.9h0M135.3 667.6h0M118.9 654.4h0M171.9 656.4h0M139.6 659.0h0M155.0 659.4h0M169.5 644.3h0M129.9 626.3h0M152.5 667.8h0M148.0 663.7h0M141.3 633.0h0M126.3 645.5h0M118.8 638.8h0M131.1 626.2h0M141.0 652.3h0M160.3 662.9h0M116.3 647.7h0M122.2 662.5h0M150.1 643.9h0M126.6 636.8h0M124.4 650.3h0M141.6 670.9h0M168.0 667.5h0M159.7 632.8h0M131.0 637.9h0M136.9 637.6h0M147.7 635.0h0M158.5 650.7h0M139.8 631.0h0M153.0 637.9h0M140.1 654.8h0M127.4 651.1h0M160.2 640.1h0M165.2 667.9h0M157.5 662.4h0M143.4 658.0h0M126.7 638.9h0M136.8 635.2h0M140.1 631.7h0M148.0 660.0h0M138.3 628.7h0M125.7 660.2h0M149.9 662.4h0M158.6 670.0h0M128.0 668.7h0M159.2 670.3h0M135.1 626.3h0M166.7 666.3h0M124.5 627.7h0M121.6 649.6h0M119.4 644.2h0M121.1 644.0h0M135.1 672.4h0M125.0 652.8h0M132.0 657.9h0M134.7 661.0h0M128.7 624.6h0M128.9 649.6h0M147.9 645.6h0M165.7 634.9h0M132.8 626.5h0M152.0 656.2h0M131.6 649.6h0M137.3 664.2h0M129.0 649.2h0M156.5 655.4h0M143.1 641.6h0M165.9 642.6h0M118.3 653.6h0M120.4 639.4h0M139.0 652.7h0M128.7 647.8h0M148.7 666.9h0M174.8 660.4h0M139.1 669.6h0M118.7 659.3h0M148.3 662.6h0M138.4 631.5h0M140.1 647.1h0M154.0 652.5h0M120.7 642.7h0M121.3 665.4h0M155.8 644.8h0M168.8 653.0h0M155.1 665.9h0M134.3 660.7h0M168.5 637.5h0M130.9 640.5h0M137.5 635.1h0M138.0 652.5h0M161.6 655.8h0M123.6 628.3h0M155.9 640.2h0M170.6 654.7h0M120.8 642.8h0M115.8 656.0h0M127.7 649.5h0M121.4 646.1h0M144.5 640.5h0M160.6 632.5h0M143.3 646.5h0M128.4 653.0h0M127.8 652.8h0M144.7 639.0h0M114.6 655.3h0M141.5 630.6h0M170.7 646.0h0M135.3 625.7h0M163.3 659.7h0M157.9 631.6h0M159.3 638.4h0M131.0 665.7h0M126.2 650.6h0M131.8 627.3h0M121.4 628.7h0M146.8 665.9h0M124.6 632.2h0M125.9 645.9h0M126.5 659.5h0M123.4 662.8h0M129.0 645.4h0M144.2 631.6h0M130.9 661.5h0M127.4 667.4h0M139.9 638.8h0M123.8 628.0h0M127.1 634.4h0M121.3 650.3h0M141.4 630.6h0M118.5 650.3h0M139.4 634.2h0M138.3 639.4h0M173.5 662.8h0M139.6 654.2h0M140.8 657.1h0M170.3 644.0h0M118.2 645.2h0M166.8 665.2h0M148.5 654.5h0M121.1 661.7h0M167.6 662.7h0M168.8 653.0h0M167.5 651.6h0M172.2 649.2h0M145.0 660.8h0M166.1 654.4h0M152.8 652.8h0M172.9 658.2h0M122.0 656.1h0M116.0 663.3h0M156.0 626.9h0M165.4 656.5h0M149.9 661.8h0M160.5 630.5h0M149.4 641.6h0M137.8 646.5h0M142.2 654.5h0M135.8 624.0h0M140.7 658.5h0M133.0 662.6h0M141.1 665.2h0M131.7 651.0h0M168.5 654.6h0M121.8 666.6h0M135.6 623.0h0M164.5 652.8h0M115.9 650.2h0M171.3 646.7h0M115.4 652.6h0M165.5 645.5h0M121.3 652.6h0M131.4 664.7h0M138.3 669.7h0M122.9 663.3h0M156.4 627.1h0M165.7 657.6h0M128.2 625.1h0M142.8 634.1h0M130.2 660.1h0M120.0 631.1h0M128.0 641.1h0M141.8 655.9h0M145.3 640.8h0M140.7 651.6h0M122.3 651.9h0M129.1 646.0h0M138.7 661.4h0M158.4 641.2h0M161.7 640.8h0M151.4 632.9h0M122.8 638.7h0M157.8 652.5h0M147.7 653.6h0M145.7 641.8h0M160.0 641.3h0M123.1 655.4h0M164.4 659.4h0M161.5 653.1h0M116.9 661.3h0M146.0 659.4h0M161.5 641.7h0M114.0 656.4h0M148.4 650.1h0M132.0 648.1h0M142.1 666.9h0M157.5 665.0h0M146.3 660.7h0M112.1 658.9h0M136.9 669.2h0M133.7 670.5h0M123.8 665.6h0M166.1 641.3h0M139.3 629.0h0M128.2 658.7h0M151.5 635.9h0M171.4 665.5h0M141.1 655.9h0M157.8 662.9h0M129.1 653.8h0M136.1 637.2h0M134.0 669.6h0M115.0 663.9h0M163.2 664.7h0M134.9 663.2h0M163.1 648.1h0M126.6 666.4h0M170.3 655.8h0M156.1 643.5h0M163.1 633.6h0M138.0 629.8h0M120.1 640.9h0M136.2 627.5h0M122.0 665.2h0M119.2 656.8h0M155.2 654.7h0M152.4 646.8h0M147.5 658.2h0M151.8 665.4h0M174.4 654.0h0M172.3 659.4h0M130.9 624.5h0M142.3 670.5h0M159.0 645.1h0M160.6 660.8h0M144.8 645.2h0M147.6 662.0h0M158.5 633.8h0M145.8 657.9h0M118.4 648.0h0M126.3 660.2h0M136.6 631.5h0M134.7 656.7h0M158.9 639.4h0M142.3 660.0h0M143.5 645.8h0M168.9 650.8h0M137.0 666.3h0M134.6 626.5h0M173.2 652.5h0M133.2 625.6h0M132.5 623.2h0M162.9 632.4h0M158.5 645.8h0M147.2 653.4h0M128.0 669.2h0M143.5 672.0h0M151.9 638.4h0M139.5 648.5h0M161.9 644.0h0M124.6 668.1h0M169.9 644.4h0M116.7 644.5h0M167.1 663.9h0M143.7 641.1h0M116.3 645.1h0M116.4 659.6h0M171.1 664.8h0M164.9 636.7h0M157.1 653.1h0M150.0 650.7h0M127.6 667.8h0M149.0 644.0h0M126.3 642.0h0M122.5 665.5h0M118.8 642.8h0M145.6 659.9h0M167.6 656.8h0M160.6 642.3h0M141.8 646.0h0M147.2 662.6h0M132.0 652.3h0M117.6 662.4h0M159.8 636.3h0M166.8 642.7h0M120.7 665.9h0M150.9 636.0h0M126.9 665.9h0M138.6 632.3h0M167.9 658.3h0M149.7 659.2h0M158.7 659.4h0M148.1 646.2h0M145.5 637.6h0M145.9 643.5h0M127.9 661.4h0M162.6 665.2h0M147.2 660.4h0M157.9 650.3h0M137.0 636.9h0M165.6 659.9h0M147.7 663.0h0M120.4 644.3h0M117.3 665.1h0M123.3 629.9h0M121.8 655.0h0M150.7 631.3h0M126.0 637.1h0M130.9 646.8h0M161.6 662.7h0M170.0 666.8h0M157.4 643.5h0M130.7 650.4h0M148.5 636.8h0M132.0 660.4h0M149.3 636.7h0M160.6 644.0h0M144.9 669.2h0M155.0 643.2h0M153.3 640.0h0M112.9 647.0h0M141.4 633.8h0M151.3 665.0h0M114.7 651.2h0M139.3 656.9h0M148.1 640.7h0M157.8 664.4h0M120.5 632.8h0M169.1 656.1h0M131.1 659.4h0M147.4 647.8h0M138.6 650.6h0M161.7 631.8h0M134.9 646.5h0M140.2 641.0h0M153.9 638.8h0M131.9 654.3h0M169.7 640.3h0M126.1 625.7h0M156.3 652.5h0M151.3 663.4h0M135.8 627.1h0M158.6 647.3h0M167.3 656.8h0M136.1 646.0h0M139.7 640.7h0M142.5 664.3h0M165.8 643.4h0M156.2 651.7h0M141.1 650.4h0M149.0 643.8h0M128.5 660.6h0M126.4 668.4h0M149.5 648.1h0M154.6 660.6h0M125.9 636.9h0M132.9 649.8h0M119.0 645.5h0M118.8 657.7h0M127.7 645.4h0M119.3 640.9h0M123.4 632.5h0M129.7 657.2h0M174.0 660.0h0M124.4 647.6h0M145.2 635.0h0M120.2 630.4h0M143.9 662.4h0M113.2 663.2h0M112.4 651.1h0M115.1 654.1h0M157.2 645.1h0M116.5 647.1h0M173.1 645.0h0M135.4 664.2h0M156.0 667.5h0M153.0 634.9h0M157.5 631.5h0M156.2 660.0h0M154.6 639.6h0M118.0 649.9h0M157.8 664.6h0M155.1 648.0h0M122.3 664.1h0M131.0 654.5h0M154.9 660.9h0M128.2 652.4h0M129.8 624.0h0M133.7 663.8h0M131.9 639.0h0M157.5 667.0h0M126.4 638.3h0M111.7 649.7h0M124.7 628.1h0M130.7 648.5h0M133.5 640.2h0M176.0 654.7h0M115.4 664.1h0M129.5 647.9h0M143.5 659.6h0M152.9 632.3h0M141.3 651.2h0M123.9 646.2h0M155.5 638.8h0M135.4 652.2h0M118.2 663.2h0M144.1 645.2h0M139.4 631.4h0M143.2 638.4h0M137.0 661.6h0M163.7 631.9h0M144.5 645.6h0M122.4 631.0h0M145.0 645.0h0M127.4 658.8h0M140.0 632.1h0M136.9 624.7h0M125.3 644.3h0M143.3 631.7h0M169.4 640.7h0M170.5 643.6h0M151.1 655.5h0M124.5 667.3h0M153.7 663.5h0M139.4 651.6h0M121.4 645.8h0M116.0 650.8h0M148.4 629.0h0M130.1 669.4h0M170.7 639.7h0M160.6 665.4h0M171.9 655.4h0M169.6 661.7h0M163.2 635.8h0M124.6 648.5h0M165.0 647.4h0M158.9 653.8h0M157.4 650.2h0M122.8 651.3h0M166.0 657.7h0M125.6 646.0h0M158.2 633.0h0M126.4 625.4h0M154.8 625.3h0M175.2 646.9h0M144.1 655.3h0M124.4 634.0h0M132.3 641.4h0M152.3 652.1h0M149.7 634.3h0M142.2 654.0h0M158.3 636.9h0M146.1 635.7h0M139.5 663.5h0M140.7 626.0h0M152.7 638.7h0M156.1 652.2h0M131.3 668.6h0M158.0 655.1h0M122.7 666.9h0M148.9 635.5h0M168.8 650.7h0M126.2 650.7h0M122.3 634.4h0M140.5 655.1h0M152.8 632.7h0M117.1 653.9h0M116.9 654.8h0M165.1 644.3h0M173.8 649.0h0M134.3 670.9h0M173.2 648.1h0M128.6 656.3h0M154.4 662.4h0M128.3 622.9h0M126.4 629.3h0M130.4 626.4h0M132.1 671.1h0M149.7 644.9h0M145.3 649.8h0M173.2 651.4h0M165.9 644.5h0M139.9 671.4h0M159.4 640.7h0M126.1 625.1h0M124.4 649.9h0M132.0 637.7h0M172.7 662.9h0M157.5 650.3h0M123.9 644.9h0M147.6 634.0h0M139.0 621.7h0M131.7 656.8h0M172.7 642.4h0M141.4 658.7h0M161.1 642.1h0M112.4 651.4h0M168.4 638.4h0M173.5 656.2h0M155.7 634.2h0M123.7 644.8h0M174.9 658.1h0M157.5 645.0h0M125.9 648.6h0M122.0 648.4h0M132.4 645.4h0M127.1 623.1h0M137.9 625.5h0M144.9 649.3h0M166.2 653.5h0M111.8 654.3h0M171.8 645.5h0M125.5 650.4h0M111.0 652.8h0M141.7 662.5h0M139.0 665.3h0" stroke="#6c3c98" stroke-width="1.76" stroke-linecap="round" fill="none"/>
<path d="M94.3 637.8h0M96.5 652.5h0M99.6 653.7h0M94.4 655.5h0M99.5 647.6h0M114.8 650.5h0M106.7 659.2h0M112.4 656.6h0M97.5 640.2h0M88.1 652.8h0M91.3 648.4h0M107.7 640.9h0M98.9 641.3h0M105.9 643.9h0M91.2 652.8h0M102.2 641.2h0M104.9 648.8h0M109.6 646.6h0M89.1 638.7h0M114.5 650.9h0M96.4 636.9h0M103.7 645.5h0M80.5 641.5h0M93.0 657.3h0M85.8 646.1h0M91.1 639.1h0M88.9 644.2h0M107.1 644.7h0M103.5 652.3h0M112.7 651.2h0M98.6 653.1h0M109.0 660.1h0M95.4 645.4h0M91.1 648.0h0M112.1 654.4h0M89.2 640.7h0M101.4 644.2h0M98.1 650.8h0M90.8 637.3h0M111.2 646.9h0M114.3 646.2h0M87.0 654.1h0M91.4 652.8h0M117.6 652.0h0M94.3 638.5h0M86.2 639.7h0M86.1 645.4h0M84.8 647.1h0M84.4 647.6h0M109.2 646.7h0M102.3 644.8h0M101.6 643.3h0M105.8 646.3h0M101.7 656.3h0M87.1 640.9h0M112.0 656.9h0M106.1 644.4h0M97.3 651.6h0M103.0 643.7h0M97.9 645.9h0M107.7 640.9h0M95.6 656.0h0M115.2 656.9h0M104.9 647.4h0M90.0 639.5h0M116.0 654.4h0M113.7 652.9h0M107.9 651.4h0M81.7 642.9h0M92.2 647.7h0M102.9 640.3h0M87.8 651.0h0M85.6 648.5h0M92.1 647.7h0M103.6 646.7h0M106.5 652.3h0M92.5 645.5h0M87.6 638.9h0M89.6 652.0h0M116.7 649.1h0M101.7 640.1h0M94.9 642.8h0M114.5 661.1h0M96.0 654.9h0M113.0 650.5h0M108.1 652.6h0M85.3 638.2h0M103.7 658.6h0M99.3 651.9h0M102.7 649.5h0M114.9 645.8h0M92.2 645.6h0M114.0 650.3h0M93.7 636.8h0M89.6 655.9h0M85.1 647.8h0M90.3 637.3h0M111.1 649.1h0M114.6 647.4h0M115.8 657.6h0M110.4 660.4h0M103.3 647.2h0M98.3 648.5h0M88.0 645.2h0M100.4 643.7h0M87.6 641.9h0M86.2 646.8h0M92.0 651.5h0M117.8 661.5h0M103.0 651.5h0M94.6 642.6h0M81.5 638.9h0M112.1 656.0h0M113.7 653.7h0M95.7 645.5h0M95.9 657.7h0M109.1 646.7h0M89.8 640.9h0M95.0 649.7h0M87.8 648.7h0M105.0 648.6h0M107.5 641.1h0M98.9 647.0h0M92.6 650.1h0M109.5 656.3h0M106.2 645.6h0M115.0 651.3h0M83.6 644.2h0M100.2 656.2h0M102.7 656.2h0M112.5 650.2h0M96.7 657.7h0M99.7 645.8h0M101.4 645.9h0M89.3 638.6h0M92.1 649.5h0M97.3 643.3h0M99.7 647.3h0M103.2 651.7h0M86.7 653.7h0M87.5 648.2h0M114.1 655.9h0M107.2 655.4h0M98.3 655.7h0M115.6 650.2h0M99.9 640.4h0M111.4 648.2h0M97.3 654.1h0M112.2 657.3h0M116.6 649.6h0M108.4 640.4h0M90.5 647.0h0M110.6 653.3h0M102.5 648.1h0M89.5 648.3h0M109.9 654.6h0M110.1 659.2h0M108.8 652.4h0M89.6 646.1h0M82.3 640.3h0M93.1 649.1h0M114.1 646.2h0M100.7 655.6h0M101.1 648.0h0M108.4 659.2h0M83.7 644.4h0M102.7 656.9h0M92.9 655.3h0M113.4 650.3h0M95.0 637.5h0M104.2 639.2h0M114.5 651.9h0M116.6 650.3h0M112.9 647.5h0M106.1 649.7h0M87.4 644.8h0M113.5 650.7h0M112.6 651.8h0M99.8 657.1h0M102.5 660.4h0M110.3 641.0h0M91.8 641.5h0M108.8 649.2h0M108.4 642.1h0M110.5 649.0h0M113.5 650.3h0M95.0 641.8h0M118.0 649.4h0M90.7 639.4h0M89.8 648.5h0" stroke="#4279c2" stroke-width="1.76" stroke-linecap="round" fill="none"/>
<path d="M169.3 628.9h0M184.6 607.0h0M196.1 615.5h0M159.6 627.0h0M194.9 619.0h0M190.3 617.5h0M183.5 613.3h0M176.2 614.3h0M186.1 619.8h0M193.4 602.2h0M166.6 634.3h0M161.4 641.1h0M173.4 631.6h0M192.0 608.4h0M198.9 619.9h0M168.4 625.3h0M188.7 609.1h0M177.6 609.3h0M181.6 609.2h0M181.1 621.1h0M194.6 608.1h0M198.3 615.7h0M190.2 624.1h0M194.1 602.3h0M191.8 621.4h0M184.4 604.9h0M182.8 621.3h0M198.2 610.8h0M199.2 617.2h0M166.4 629.8h0M191.5 605.7h0M191.9 620.4h0M192.4 604.9h0M181.6 603.7h0M156.0 642.2h0M178.6 621.7h0M192.5 605.1h0M189.9 621.2h0M196.7 615.9h0M156.9 642.4h0M173.7 613.5h0M170.2 623.6h0M169.5 630.7h0M178.4 611.7h0M175.3 618.6h0M173.1 638.3h0M185.7 619.8h0M184.0 605.9h0M180.7 622.6h0M168.8 634.0h0M196.8 610.6h0M163.5 645.9h0M160.7 637.2h0M189.0 621.7h0M171.3 623.1h0M189.8 622.5h0M176.6 608.8h0M163.2 626.0h0M189.9 605.4h0M184.6 605.0h0M180.2 620.2h0M178.4 617.8h0M187.1 625.2h0M178.5 610.1h0M161.8 628.5h0M165.0 642.0h0M177.1 606.7h0M159.3 644.9h0M178.4 618.0h0M177.6 614.6h0M193.4 609.2h0M185.2 619.4h0M175.9 617.1h0M159.6 633.8h0M190.9 608.8h0M186.6 614.5h0M180.3 605.4h0M178.9 615.1h0M181.6 619.3h0M181.4 620.5h0M181.3 619.0h0M181.7 608.1h0M172.3 613.0h0M185.2 604.8h0M182.0 605.4h0M183.9 609.2h0M194.8 615.5h0M195.4 603.2h0M180.0 617.2h0M193.6 608.7h0M184.6 603.5h0M165.4 625.8h0M158.2 642.7h0M189.0 621.4h0M181.4 601.8h0M161.9 638.1h0M191.0 606.4h0M155.4 642.7h0M176.6 626.2h0M195.8 620.6h0M165.7 637.8h0M165.0 636.6h0M180.1 614.7h0M181.0 608.4h0M179.8 624.9h0M193.8 623.3h0M186.1 622.9h0M186.8 605.2h0M183.9 605.8h0M193.0 620.4h0M177.7 606.6h0M187.2 618.1h0M185.0 603.6h0M180.7 616.2h0M186.8 604.6h0M178.0 614.3h0M187.8 617.2h0M193.7 611.2h0M174.4 613.0h0M176.8 618.6h0M180.3 616.0h0M179.3 618.1h0M187.3 607.2h0M192.6 617.3h0M166.3 617.7h0M194.5 609.0h0M184.9 606.9h0M184.1 618.1h0M169.0 623.4h0M178.7 612.2h0M157.4 639.3h0M185.0 620.8h0M172.8 640.2h0M194.0 608.5h0M190.1 627.0h0M181.1 613.7h0M192.1 621.8h0M161.6 641.2h0M179.0 605.4h0M197.4 612.8h0M174.6 616.5h0M186.8 620.8h0M185.4 620.2h0M191.3 623.2h0M195.2 613.0h0M173.6 639.3h0M191.6 617.7h0M177.0 614.1h0M170.2 637.7h0M188.5 608.5h0M180.5 613.2h0M193.5 613.0h0M179.7 612.5h0M167.2 633.7h0M193.7 614.4h0M185.0 600.7h0M176.9 618.2h0M174.8 611.2h0M197.6 609.2h0M194.6 615.1h0M193.3 619.2h0M188.6 624.1h0M189.5 602.9h0M164.3 628.3h0M193.8 616.1h0M162.8 642.3h0M194.1 615.3h0M170.0 622.8h0M162.1 629.2h0M177.5 606.3h0M192.2 622.8h0M192.9 622.5h0M194.7 618.5h0M167.2 633.9h0M196.4 620.8h0M193.7 619.8h0M192.7 603.5h0M183.9 602.6h0M177.5 621.0h0M186.6 603.7h0M180.8 615.1h0M188.4 607.9h0M193.3 616.2h0M192.6 611.0h0M201.0 617.0h0M169.3 626.1h0M188.2 601.9h0M171.9 629.3h0M181.6 608.6h0M168.8 627.4h0M176.7 616.8h0M190.5 624.3h0M195.8 615.0h0M175.8 619.0h0M177.9 609.7h0M188.2 603.1h0M165.8 629.6h0M190.1 617.8h0M171.1 634.8h0M178.3 613.5h0M164.6 628.2h0M173.2 618.7h0M186.3 615.1h0M170.0 638.4h0M171.5 638.2h0M195.5 606.0h0M179.4 608.0h0M173.7 640.0h0M185.0 600.1h0M180.4 615.5h0M184.0 610.0h0M179.9 612.6h0M181.2 617.6h0M169.2 632.1h0M168.8 624.0h0M164.9 637.0h0M179.5 604.3h0M199.7 609.5h0M172.7 622.6h0M173.1 620.2h0M181.9 605.7h0M194.8 623.5h0M195.4 611.7h0M194.5 625.1h0M187.7 621.0h0M162.5 627.9h0M163.2 642.2h0M179.0 621.0h0M188.3 624.1h0M159.6 639.6h0M182.7 620.8h0M167.8 629.7h0M188.8 604.8h0M183.1 623.2h0M178.7 617.3h0M184.2 602.9h0M188.4 608.3h0M190.0 621.1h0M162.0 640.0h0M170.0 636.2h0M165.5 636.5h0M181.1 615.0h0M164.6 633.0h0M172.7 620.7h0M192.5 610.2h0M163.1 630.7h0M172.6 638.6h0M167.3 631.3h0M165.6 634.1h0M191.9 620.8h0M190.4 607.0h0M192.6 608.0h0M177.7 621.2h0M194.6 617.7h0M188.5 621.5h0M169.3 634.1h0M180.3 619.2h0M191.5 606.3h0M189.4 622.7h0M186.1 612.5h0M164.5 633.7h0M179.1 617.9h0M175.6 607.1h0M155.9 640.9h0M173.2 612.7h0M179.2 613.0h0M176.0 611.1h0M180.3 614.1h0M177.4 626.8h0M193.0 606.8h0M178.8 610.5h0M182.8 602.1h0M197.7 607.9h0M177.8 617.7h0M175.3 613.6h0M176.9 618.4h0M198.2 610.7h0M167.0 629.8h0M157.8 633.7h0M179.0 613.2h0M170.6 623.9h0M180.8 605.3h0M181.1 620.8h0M166.2 629.5h0M161.7 646.5h0M181.8 620.8h0M186.9 621.7h0M185.6 605.9h0M192.7 620.7h0M161.3 644.6h0M190.0 619.4h0M172.4 634.1h0M195.5 612.4h0M164.3 630.2h0M160.9 639.5h0M185.5 622.9h0M157.4 636.8h0M185.6 604.0h0M172.4 622.5h0" stroke="#e2356c" stroke-width="1.76" stroke-linecap="round" fill="none"/>
<line x1="37.5" y1="587.5" x2="37.5" y2="683.2" stroke="#555" stroke-width="0.9" />
<line x1="37.8" y1="683.5" x2="207.8" y2="683.5" stroke="#555" stroke-width="0.9" />
<circle cx="42.9" cy="592.2" r="2.5" fill="#e2356c" stroke="none" stroke-width="0.5"/>
<text x="50.5" y="595" font-size="7.9" text-anchor="start" fill="#222" >F_SP HEM</text>
<circle cx="42.9" cy="601" r="2.5" fill="#6c3c98" stroke="none" stroke-width="0.5"/>
<text x="50.5" y="603.8" font-size="7.9" text-anchor="start" fill="#222" >DP priMes</text>
<circle cx="102.4" cy="592.2" r="2.5" fill="#4279c2" stroke="none" stroke-width="0.5"/>
<text x="110" y="595" font-size="7.9" text-anchor="start" fill="#222" >P_SP</text>
<circle cx="102.4" cy="601" r="2.5" fill="#1a5a8b" stroke="none" stroke-width="0.5"/>
<text x="110" y="603.8" font-size="7.9" text-anchor="start" fill="#222" >DN</text>
<text x="39" y="581.8" font-size="11.4" text-anchor="start" fill="#111" >Populations</text>
<text x="26.5" y="683.8" font-size="11.6" text-anchor="middle" transform="rotate(-90 26.5 683.8)" fill="#111" >UMAP2</text>
<text x="337.8" y="816.7" font-size="11.4" text-anchor="middle" fill="#111" >UMAP1</text>
<rect x="254.3" y="586.3" width="170.7" height="96.2" fill="#e8e6e4" stroke="none" stroke-width="1" />
<path d="M313.2 651.7h0M285.6 638.1h0M413.3 614.5h0M340.2 639.4h0M295.3 627.8h0M283.4 637.7h0M300.1 638.4h0M314.3 639.3h0M308.0 647.6h0M307.9 629.7h0M296.9 635.0h0M270.9 616.5h0M276.6 616.5h0M294.7 637.5h0M307.9 652.0h0M321.7 647.9h0M275.0 648.5h0M345.6 644.3h0M309.6 617.9h0M331.2 652.7h0M309.7 656.5h0M300.5 640.4h0M292.2 647.6h0M307.9 638.2h0M293.4 634.0h0M275.2 616.4h0M347.5 660.0h0M338.2 661.6h0M280.2 653.1h0M323.8 643.8h0M277.2 643.7h0M335.6 644.5h0M287.0 630.2h0M329.5 650.4h0M274.7 617.2h0M315.4 652.2h0M278.8 615.2h0M338.1 644.0h0M395.5 610.6h0M315.3 611.1h0M343.1 659.8h0M347.8 661.3h0M275.4 614.0h0M312.9 612.7h0M340.0 663.1h0M286.2 638.4h0M270.6 634.6h0M305.9 639.8h0M318.2 643.3h0M307.5 636.4h0M336.0 631.9h0M344.4 646.5h0M347.8 662.8h0M407.1 604.2h0M275.6 640.9h0M352.2 666.8h0M289.3 623.5h0M358.5 670.1h0M385.1 666.7h0M301.5 646.2h0M304.9 624.1h0M318.4 642.4h0M382.2 667.2h0M322.6 645.4h0M309.8 617.4h0M289.4 643.5h0M306.1 624.8h0M344.9 668.0h0M336.2 643.3h0M341.9 652.0h0M314.0 650.7h0M283.2 633.1h0M319.8 642.8h0M265.6 633.5h0M300.5 643.9h0M324.5 640.0h0M312.3 655.2h0M293.2 637.7h0M290.7 627.4h0M337.3 638.5h0M291.8 633.2h0M288.0 653.1h0M282.7 634.5h0M332.0 656.1h0M289.5 640.7h0M365.3 661.8h0M272.1 640.4h0M291.5 637.3h0M337.5 641.8h0M338.2 664.7h0M321.7 646.5h0M351.2 659.8h0M332.9 653.6h0M284.8 640.0h0M275.1 612.5h0M298.4 642.0h0M290.5 625.1h0M308.9 646.9h0M266.8 634.7h0M262.9 633.8h0M301.2 636.1h0M304.5 650.1h0M284.0 641.1h0M297.3 634.1h0M287.9 622.6h0M308.8 646.8h0M320.4 645.8h0M340.7 627.0h0M285.8 648.4h0M293.9 632.4h0M335.0 644.3h0M337.9 660.8h0M331.3 660.3h0M294.1 636.9h0M329.8 649.7h0M293.7 620.4h0M280.6 612.1h0M284.3 618.6h0M320.5 657.7h0M355.2 669.0h0M292.5 638.7h0M347.1 659.3h0M330.8 649.4h0M306.3 655.0h0M281.8 614.0h0M340.0 654.6h0M301.8 646.9h0M330.8 655.5h0M277.4 648.7h0M410.9 613.4h0M359.0 666.1h0M284.0 630.1h0M327.9 648.2h0M287.2 642.4h0M350.6 669.8h0M331.8 663.1h0M277.2 613.4h0M274.9 639.0h0M320.1 646.3h0M300.1 626.6h0M296.0 625.9h0M282.1 641.8h0M336.0 656.0h0M315.1 647.7h0M308.8 650.7h0M306.1 629.7h0M289.5 646.3h0M334.6 660.7h0M353.9 665.5h0M281.3 644.8h0M298.2 637.9h0M341.5 667.3h0M325.9 645.8h0M306.5 640.0h0M344.5 667.1h0M286.3 638.3h0M295.2 629.7h0M339.3 664.7h0M281.3 640.5h0M272.5 644.2h0M392.8 618.0h0M334.4 661.6h0M337.6 665.1h0M315.6 646.1h0M338.7 654.2h0M300.3 643.3h0M287.0 645.3h0M316.9 655.3h0M319.4 655.4h0M297.2 636.1h0M285.6 646.2h0M329.7 646.1h0M299.1 637.8h0M316.4 645.0h0M290.4 643.3h0M396.6 603.2h0M318.2 645.0h0M288.4 625.6h0M308.8 648.6h0M368.3 662.6h0M359.5 663.5h0M343.3 667.6h0M320.0 650.8h0M371.6 659.8h0M281.6 643.3h0M293.0 625.8h0M288.6 647.0h0M346.5 656.4h0M289.3 643.8h0M309.4 618.5h0M329.2 650.2h0M333.3 646.2h0M279.2 614.0h0M281.8 624.3h0M352.3 663.4h0M285.5 620.9h0M286.6 644.7h0M294.8 636.2h0M267.1 634.6h0M328.2 647.3h0M291.2 636.4h0M282.8 640.5h0M295.8 623.6h0M329.0 656.5h0M291.3 631.1h0M332.2 663.3h0M333.4 648.7h0M325.2 639.5h0M327.4 652.4h0M319.3 647.3h0M326.6 653.8h0M282.0 615.0h0M286.4 619.4h0M291.0 621.9h0M342.1 643.4h0M299.0 639.4h0M284.6 643.2h0M347.0 668.6h0M341.5 647.6h0M325.1 658.4h0M276.9 634.9h0M300.4 643.5h0M283.5 644.0h0M331.4 651.0h0M276.7 651.1h0M333.4 649.4h0M356.4 662.7h0M322.9 648.8h0M291.8 633.9h0M339.5 666.1h0M264.2 632.8h0M343.1 649.8h0M329.4 651.0h0M285.1 650.0h0M345.2 621.9h0M343.3 628.3h0M280.0 638.7h0M316.6 656.2h0M287.6 647.6h0M293.9 635.4h0M342.9 624.1h0M289.3 649.9h0M288.2 644.7h0M279.1 641.5h0M325.2 641.2h0M290.3 639.4h0M330.3 649.4h0M329.2 650.6h0M280.3 637.2h0M277.4 645.1h0M280.9 644.1h0M344.0 622.1h0M283.7 650.5h0M328.6 653.4h0M274.6 617.0h0M306.5 647.6h0M274.9 627.1h0" stroke="#440154" stroke-width="1.76" stroke-linecap="round" fill="none"/>
<path d="M311.1 636.9h0M373.4 662.4h0M345.8 638.1h0M349.0 655.7h0M316.3 646.8h0M352.1 665.0h0M349.2 669.6h0M295.3 641.0h0M331.6 649.6h0M361.4 658.6h0M337.3 628.6h0M285.9 633.6h0M400.6 612.2h0M307.2 620.3h0M364.9 661.4h0M346.9 652.8h0M285.8 639.2h0M393.3 613.2h0M304.8 651.9h0M334.9 660.0h0M362.6 659.0h0M385.3 660.8h0M356.9 649.1h0M289.4 647.7h0M338.7 635.5h0M324.5 640.0h0M278.8 617.0h0M322.7 643.0h0M343.8 643.3h0M359.2 658.1h0M341.4 658.9h0M335.2 660.0h0M347.3 665.7h0M411.8 607.0h0M308.9 617.0h0M352.2 667.0h0M331.3 650.0h0M329.0 655.9h0M313.1 635.9h0M320.4 644.6h0M297.2 640.6h0M390.2 665.2h0M302.5 645.2h0M346.7 657.6h0M356.1 664.3h0M408.6 604.6h0M320.3 651.4h0M350.7 625.4h0M278.7 611.7h0M352.9 665.9h0M313.4 614.0h0M278.6 612.7h0M273.3 614.7h0M334.7 656.0h0M280.4 648.5h0M350.4 626.9h0M278.9 612.0h0M292.4 644.8h0M266.9 634.0h0M325.8 659.3h0M277.5 613.9h0M348.6 666.8h0M312.1 644.5h0M363.8 666.0h0M307.9 647.2h0M266.6 635.1h0M328.9 653.5h0M338.3 629.1h0M294.0 632.3h0M381.4 667.1h0M314.9 649.9h0M303.2 639.3h0M341.6 664.1h0M303.7 653.2h0M272.5 641.0h0M362.1 667.3h0M308.2 651.9h0M401.7 603.9h0M277.2 614.2h0M285.8 641.0h0M284.7 641.2h0M369.5 667.0h0M365.0 662.9h0M302.9 638.8h0M302.8 644.5h0M343.1 644.6h0M303.7 629.2h0M286.1 639.9h0M335.6 637.9h0M333.1 646.8h0M341.2 649.4h0M289.5 641.3h0M402.3 618.4h0M301.1 646.7h0M300.6 624.4h0M274.0 614.9h0M326.0 645.8h0M319.1 643.9h0M275.6 641.9h0M305.1 626.0h0M297.2 638.1h0M343.6 638.0h0M289.2 643.9h0M398.8 607.0h0M375.6 669.2h0M399.1 604.3h0M303.8 639.9h0M401.0 608.2h0M341.4 626.7h0M297.2 639.2h0M338.5 648.7h0M322.9 643.5h0M412.0 614.5h0M352.0 671.6h0M345.8 648.8h0M314.6 645.0h0M287.5 650.2h0M397.1 616.1h0M312.6 614.0h0M354.2 663.4h0M345.9 648.3h0M286.0 636.8h0M365.7 666.1h0M356.0 668.9h0M335.5 658.4h0M278.1 645.9h0M290.4 635.4h0M299.7 624.2h0M289.4 617.7h0M273.3 615.6h0M302.8 624.8h0M289.6 634.9h0M294.0 630.8h0M372.1 665.1h0M266.7 634.5h0M412.9 619.6h0M354.4 634.2h0M354.9 651.7h0M398.1 607.3h0M340.4 627.3h0M330.5 652.0h0M337.6 641.9h0M332.6 655.2h0M324.7 650.5h0M344.6 648.6h0M338.3 645.2h0M345.3 652.1h0M344.7 652.0h0M331.4 654.4h0M298.3 647.8h0M319.7 639.3h0M404.3 617.1h0M347.9 664.9h0M310.9 616.5h0M338.3 627.8h0M341.4 631.2h0M342.7 645.0h0M343.4 658.6h0M302.3 647.6h0M340.2 662.0h0M295.3 632.9h0M347.8 660.7h0M309.3 644.6h0M391.5 611.9h0M390.5 662.0h0M356.5 653.3h0M304.3 637.9h0M297.6 642.1h0M287.1 655.6h0M333.6 648.2h0M311.6 641.9h0M411.7 607.9h0M279.1 614.2h0M383.8 664.4h0M312.7 654.0h0M274.5 617.5h0M289.0 646.4h0M276.0 612.7h0M338.8 655.3h0M409.2 620.7h0M357.7 657.7h0M358.0 664.4h0M293.5 642.1h0M332.7 649.3h0M279.5 645.1h0M316.1 651.1h0M332.2 651.8h0M319.5 648.6h0M338.1 651.7h0M348.3 663.9h0M339.7 662.5h0M264.4 633.5h0M345.1 624.1h0M308.9 644.7h0M310.4 635.9h0M287.0 633.1h0M293.3 641.9h0M297.9 621.2h0M312.0 612.6h0M288.4 626.3h0M307.0 636.4h0M353.9 668.4h0M340.6 664.8h0M388.4 664.7h0M331.4 646.5h0M332.6 656.8h0M358.0 655.1h0M327.2 659.5h0M345.9 652.9h0M280.9 641.3h0M380.2 663.9h0M343.4 665.7h0M285.0 633.9h0M411.2 614.2h0M308.1 614.1h0M304.7 644.3h0M283.3 644.6h0M389.4 658.6h0M309.8 618.6h0M411.8 617.5h0M377.7 660.0h0M364.5 661.2h0M302.9 645.9h0M335.2 647.1h0M351.6 655.8h0M275.1 614.2h0M319.7 650.6h0M403.7 602.6h0M273.9 616.9h0M328.9 655.1h0M330.5 652.8h0M312.7 656.8h0M294.8 644.9h0M333.2 644.2h0M333.2 658.8h0M388.2 664.0h0M295.2 624.8h0M311.7 648.8h0M292.6 635.7h0M335.6 641.9h0M321.7 647.7h0M324.3 640.1h0M263.8 633.2h0M280.0 611.3h0M343.8 665.1h0M309.3 649.3h0M305.3 623.1h0M344.8 660.6h0M326.3 655.5h0M265.7 634.5h0M364.6 662.2h0M331.9 650.5h0M295.9 636.3h0M306.6 642.6h0M342.9 636.2h0M285.8 621.7h0M291.1 624.1h0M298.0 635.2h0M347.6 649.6h0M289.4 625.3h0M282.7 639.6h0M329.3 649.3h0M397.5 614.5h0M313.4 656.8h0M368.3 664.2h0M374.8 663.6h0M337.3 631.8h0M348.0 658.6h0M355.5 649.8h0M287.0 622.6h0M306.0 637.6h0M282.3 642.0h0M316.5 646.4h0M412.5 610.6h0M264.4 633.6h0M342.8 635.9h0M297.7 633.9h0M344.5 644.5h0M298.1 644.7h0M336.1 639.9h0M340.2 631.6h0M288.8 635.0h0M341.2 646.7h0M337.0 629.5h0M360.8 661.6h0M310.9 611.4h0M284.9 634.4h0M304.2 647.3h0M280.2 651.4h0M330.9 655.1h0M324.0 654.5h0M315.0 654.8h0M374.8 663.8h0M339.1 663.3h0M312.2 613.2h0M371.9 660.1h0M345.1 651.5h0M332.4 649.3h0M316.7 639.5h0M374.5 666.2h0M303.7 630.8h0M343.2 637.4h0M341.5 627.1h0M314.1 653.3h0M407.5 605.9h0M270.5 637.8h0M307.2 646.1h0M358.3 650.3h0M340.8 645.3h0M306.2 647.4h0M405.6 620.5h0M354.0 660.8h0M344.2 658.0h0M292.4 648.9h0M326.9 658.3h0M325.6 651.5h0M308.5 621.6h0M296.8 639.7h0M317.4 654.7h0M356.3 650.7h0M338.3 644.9h0M332.9 649.9h0M290.9 640.0h0M392.7 606.0h0M339.6 650.5h0M319.5 656.1h0M396.3 611.9h0M287.9 635.5h0M294.8 642.1h0M276.8 616.4h0M293.2 632.1h0M297.7 628.7h0M330.3 649.4h0M279.6 622.8h0M361.0 654.4h0M288.9 645.2h0M300.0 631.3h0M348.2 667.8h0M287.6 645.1h0M396.0 612.1h0M333.9 653.1h0M333.7 653.9h0M351.2 670.1h0M281.7 634.9h0M345.5 655.5h0M371.3 661.6h0M347.3 625.4h0M349.0 670.4h0M293.6 627.8h0M356.9 670.6h0M341.2 649.1h0M340.8 644.0h0M299.0 629.8h0M308.6 640.6h0M325.5 648.4h0M409.9 619.6h0M311.7 640.9h0M340.6 643.9h0M407.2 618.4h0M338.8 647.5h0M334.9 648.6h0M349.3 644.5h0M307.4 638.5h0M265.8 635.6h0M289.4 621.4h0M355.9 664.5h0" stroke="#482475" stroke-width="1.76" stroke-linecap="round" fill="none"/>
<path d="M350.3 623.7h0M316.4 652.9h0M374.8 660.0h0M401.7 605.9h0M380.0 652.6h0M323.5 658.3h0M329.2 655.7h0M342.8 645.9h0M280.7 617.5h0M403.2 618.8h0M363.2 664.4h0M410.5 601.1h0M333.8 641.2h0M349.2 641.2h0M349.7 628.6h0M373.0 664.2h0M359.3 652.7h0M331.1 656.3h0M308.7 613.9h0M362.5 660.5h0M361.5 655.9h0M383.6 666.2h0M394.7 608.2h0M358.3 664.6h0M398.1 620.1h0M326.4 645.7h0M415.5 614.6h0M363.6 654.6h0M265.2 633.8h0M408.9 620.4h0M401.5 603.8h0M399.9 620.3h0M337.8 654.7h0M415.4 609.7h0M416.4 616.2h0M305.6 643.3h0M350.2 621.2h0M409.0 619.4h0M284.5 648.6h0M409.5 603.8h0M395.7 620.7h0M337.0 638.9h0M413.9 614.8h0M336.3 648.4h0M352.8 650.6h0M392.4 617.5h0M350.3 644.7h0M401.1 604.7h0M337.8 659.9h0M413.9 609.5h0M335.6 661.4h0M349.0 656.2h0M328.0 646.0h0M349.6 662.4h0M346.3 623.9h0M382.3 666.1h0M334.4 651.1h0M335.7 653.5h0M356.6 658.1h0M372.0 658.6h0M346.8 625.3h0M311.1 637.5h0M394.2 605.6h0M377.3 662.1h0M276.0 645.3h0M339.0 661.7h0M395.4 616.9h0M299.1 625.0h0M394.7 613.5h0M410.6 608.1h0M270.7 644.5h0M304.5 626.8h0M397.3 604.3h0M307.7 631.4h0M357.0 654.0h0M344.2 650.3h0M364.9 659.2h0M398.4 618.0h0M273.1 610.6h0M342.6 659.4h0M366.9 661.6h0M402.3 603.7h0M318.5 655.4h0M376.2 669.5h0M383.7 665.5h0M286.9 631.8h0M338.0 643.1h0M348.9 657.0h0M351.6 660.2h0M412.6 602.1h0M349.7 625.5h0M348.5 648.8h0M373.5 654.6h0M401.7 602.4h0M335.1 652.7h0M391.9 659.6h0M398.4 600.7h0M291.4 644.7h0M408.1 605.3h0M306.7 638.5h0M387.6 653.9h0M401.0 604.7h0M352.2 624.7h0M380.3 658.9h0M394.8 605.5h0M348.7 626.3h0M402.1 602.5h0M397.8 615.1h0M363.8 665.1h0M344.3 666.6h0M323.3 651.5h0M344.0 633.5h0M393.8 617.6h0M338.2 649.4h0M397.4 614.9h0M396.4 617.1h0M357.7 656.2h0M306.3 651.1h0M409.8 616.3h0M293.5 626.2h0M402.0 605.8h0M401.2 617.1h0M384.7 661.9h0M390.0 657.4h0M297.1 635.6h0M332.9 662.5h0M349.9 661.8h0M414.6 611.8h0M403.9 619.8h0M348.6 650.1h0M402.5 619.1h0M412.4 611.9h0M408.8 616.7h0M302.0 637.3h0M338.6 665.8h0M278.4 653.8h0M405.6 607.4h0M331.8 644.9h0M382.7 656.7h0M336.8 630.1h0M344.8 640.2h0M410.7 612.0h0M339.1 651.1h0M346.0 645.1h0M339.7 637.7h0M381.4 658.5h0M333.7 660.5h0M348.9 647.3h0M394.0 617.1h0M391.8 610.2h0M374.5 664.2h0M363.3 659.8h0M414.7 608.1h0M328.9 658.0h0M406.6 601.8h0M374.8 662.1h0M350.9 668.8h0M285.2 644.6h0M351.8 662.4h0M387.4 655.0h0M354.9 628.8h0M279.4 618.7h0M364.5 657.3h0M368.8 664.6h0M317.2 642.8h0M347.8 623.5h0M359.2 669.8h0M413.6 619.8h0M362.8 657.1h0M343.2 659.4h0M353.5 630.6h0M359.3 659.2h0M385.9 649.9h0M410.8 618.7h0M409.8 602.4h0M390.3 651.7h0M350.1 624.6h0M311.3 641.7h0M360.5 671.2h0M405.5 606.8h0M296.6 627.7h0M333.5 643.5h0M277.3 614.4h0M343.1 641.1h0M288.1 642.7h0M362.5 659.0h0M413.0 614.0h0M364.1 661.8h0M395.0 608.6h0M348.9 651.5h0M385.0 657.5h0M375.7 658.6h0M395.4 612.4h0M379.6 664.4h0M364.1 659.6h0M337.3 643.4h0M334.1 664.3h0M347.8 645.9h0M378.6 661.9h0M403.4 614.1h0M387.1 666.1h0M348.9 659.5h0M412.6 604.9h0M402.1 599.0h0M361.8 668.4h0M331.5 650.3h0M356.3 656.1h0M397.0 611.5h0M351.8 645.6h0M390.2 619.2h0M348.7 653.5h0M343.0 624.7h0M384.4 656.0h0M353.0 645.1h0M305.3 635.3h0M285.6 638.3h0M358.0 649.5h0M345.4 659.8h0M349.8 649.0h0M288.8 645.0h0M335.8 644.6h0M335.6 656.9h0M396.1 620.0h0M287.1 630.6h0M278.4 615.6h0M391.1 659.2h0M399.8 619.8h0M330.0 662.4h0M405.9 603.7h0M401.3 601.8h0M286.7 650.4h0M373.0 666.7h0M407.1 620.1h0M266.2 636.7h0M347.9 653.7h0M301.1 628.9h0M346.7 623.0h0M350.6 663.0h0M389.7 619.7h0M409.7 609.1h0M295.2 625.2h0M409.1 619.8h0M393.0 653.9h0M409.8 607.0h0M360.4 658.7h0M352.3 651.4h0M279.4 638.4h0M335.1 662.4h0M339.2 630.1h0M306.3 645.2h0M353.8 623.7h0M330.9 645.3h0M317.8 647.1h0M341.3 666.6h0M370.7 662.7h0M377.6 664.6h0M396.2 616.9h0M287.7 641.2h0M390.3 611.6h0M383.0 656.9h0M397.4 613.0h0M410.1 605.7h0M309.6 654.4h0M343.3 624.4h0M392.3 646.0h0M349.2 640.5h0M359.1 653.2h0M329.7 646.6h0M415.3 609.6h0M270.1 611.6h0M357.4 654.2h0M290.8 646.1h0M330.3 649.8h0M319.3 659.6h0M327.1 640.1h0M348.9 636.8h0M389.8 662.0h0M289.1 641.8h0M392.0 657.2h0M412.6 611.3h0M277.0 616.3h0M342.4 649.5h0M358.6 661.7h0" stroke="#414487" stroke-width="1.76" stroke-linecap="round" fill="none"/>
<path d="M378.8 653.0h0M352.9 629.8h0M311.1 654.7h0M412.0 617.9h0M407.4 616.4h0M350.2 646.6h0M340.6 646.3h0M358.4 651.6h0M359.2 650.8h0M382.0 662.5h0M409.1 607.3h0M315.7 640.4h0M361.3 656.9h0M405.8 608.0h0M318.9 640.3h0M398.7 608.1h0M305.8 637.8h0M355.4 647.4h0M370.3 647.6h0M411.3 601.1h0M378.2 657.6h0M360.6 649.7h0M398.7 602.6h0M407.0 620.2h0M376.2 657.7h0M342.8 648.4h0M348.0 621.6h0M355.3 628.4h0M402.8 618.7h0M356.9 646.1h0M380.5 645.0h0M380.4 654.2h0M331.1 645.3h0M329.1 656.3h0M348.4 622.7h0M355.3 629.9h0M388.9 655.6h0M397.3 619.1h0M395.5 616.8h0M348.0 625.2h0M357.9 651.4h0M343.5 635.8h0M392.9 616.0h0M353.9 636.6h0M356.7 630.0h0M408.0 607.7h0M403.7 613.4h0M396.0 614.0h0M398.7 618.2h0M288.9 649.8h0M374.5 661.6h0M360.3 657.1h0M353.7 634.3h0M398.4 619.5h0M280.4 640.4h0M357.0 630.7h0M389.3 612.0h0M352.0 625.3h0M328.8 656.0h0M410.7 607.6h0M368.9 655.3h0M360.0 640.7h0M355.9 651.8h0M355.3 630.5h0M371.0 651.7h0M385.9 652.2h0M347.7 639.6h0M397.2 613.7h0M403.9 604.1h0M410.2 619.4h0M343.1 649.7h0M403.9 603.5h0M395.1 613.2h0M405.0 616.2h0M410.9 610.1h0M335.4 649.5h0M318.5 639.2h0M404.4 606.1h0M383.4 616.6h0M365.5 653.6h0M395.7 611.2h0M385.9 652.1h0M389.3 648.4h0M362.0 660.0h0M383.1 653.6h0M305.4 625.1h0M411.1 607.5h0M398.1 612.6h0M382.4 655.7h0M366.8 661.0h0M396.0 604.3h0M359.1 653.6h0M352.7 623.0h0M391.6 615.4h0M385.5 653.8h0M324.9 651.8h0M358.7 655.1h0M357.6 650.7h0M355.6 660.6h0M396.8 611.4h0M365.4 649.2h0M402.2 599.6h0M356.2 628.0h0M345.0 657.9h0M353.0 636.3h0M411.0 615.1h0M336.9 640.0h0M353.1 626.5h0M338.8 664.4h0M391.5 653.1h0M394.6 605.2h0M304.3 641.0h0M294.2 627.8h0M360.4 644.9h0M351.5 625.5h0M401.0 601.5h0M394.6 620.0h0M349.4 622.2h0M364.1 652.5h0M344.8 668.4h0M356.4 647.6h0M312.5 644.6h0M409.7 609.9h0M384.1 663.1h0M418.1 616.0h0M405.3 600.7h0M393.8 615.8h0M384.6 655.9h0M355.5 631.3h0M366.7 658.4h0M382.7 659.0h0M322.9 644.7h0M396.5 606.9h0M401.1 608.9h0M386.2 655.3h0M398.3 616.6h0M357.1 640.1h0M314.0 642.4h0M352.7 626.1h0M366.5 647.2h0M303.4 652.8h0M331.9 653.3h0M395.8 616.2h0M390.1 644.1h0M405.6 607.2h0M373.2 659.2h0M334.9 649.0h0M398.2 613.9h0M348.8 638.0h0M328.5 648.9h0M350.4 639.3h0M346.3 647.1h0M394.8 620.1h0M411.7 616.6h0M356.9 631.1h0M309.9 648.3h0M408.6 605.2h0M389.0 654.6h0M386.6 660.9h0M393.1 610.0h0M321.0 638.3h0M342.4 645.1h0M399.8 600.9h0M341.2 633.1h0M394.9 616.7h0M392.4 612.6h0M393.9 617.3h0M339.2 633.5h0M279.7 614.2h0M390.2 647.2h0M362.2 648.9h0M390.3 650.5h0M397.8 604.2h0M398.2 619.8h0M355.9 620.7h0M348.6 655.9h0M358.3 657.9h0M327.3 648.1h0M402.7 604.8h0M390.5 655.3h0M342.8 647.7h0M354.8 624.5h0M383.2 652.6h0M327.8 651.9h0M402.7 602.9h0" stroke="#355f8d" stroke-width="1.76" stroke-linecap="round" fill="none"/>
<path d="M381.8 649.2h0M383.7 641.6h0M416.0 618.9h0M362.3 651.9h0M370.2 651.1h0M407.3 623.1h0M345.8 668.8h0M357.0 647.2h0M355.0 638.9h0M366.8 647.4h0M409.6 604.0h0M390.7 612.4h0M360.4 636.7h0M373.3 652.2h0M372.9 651.4h0M406.1 620.6h0M393.7 607.7h0M386.6 643.4h0M395.6 609.0h0M358.2 632.0h0M347.9 637.0h0M355.2 627.8h0M345.5 623.6h0M406.1 620.4h0M345.6 646.9h0M357.0 646.2h0M385.5 636.6h0M378.6 655.0h0M387.8 645.2h0M345.8 644.5h0M361.1 630.6h0M356.8 637.9h0M358.3 629.6h0M386.0 622.4h0M384.5 650.7h0M402.1 619.8h0M369.8 652.0h0M354.7 645.6h0M352.5 622.0h0M394.1 613.1h0M381.5 651.9h0M388.3 645.8h0M283.7 642.5h0M374.8 651.6h0M364.7 652.8h0M362.6 640.9h0M362.9 658.6h0M411.7 614.1h0M410.4 618.1h0M373.1 642.6h0M372.2 653.9h0M369.4 645.9h0M361.7 644.3h0M397.9 614.0h0M386.9 643.5h0M410.5 615.1h0M374.1 652.2h0M367.0 649.9h0M398.7 607.5h0M304.5 647.9h0M358.7 645.1h0M405.3 602.0h0M407.2 616.8h0M390.2 617.7h0M353.9 635.9h0M364.3 647.0h0M416.9 608.4h0M399.0 604.6h0M356.7 639.8h0M373.2 650.9h0M379.0 639.0h0M372.1 647.1h0M347.5 647.6h0M275.0 648.7h0M361.0 644.3h0M356.4 630.5h0M362.0 644.1h0M397.4 618.2h0M360.2 630.7h0M387.5 642.7h0M368.1 654.7h0M403.2 611.4h0M374.4 649.4h0M311.7 636.6h0M395.9 609.5h0M414.9 606.8h0M357.7 625.0h0M373.1 651.4h0M375.0 654.2h0M304.1 643.9h0M390.9 648.1h0M366.6 644.0h0M398.9 619.7h0" stroke="#2a788e" stroke-width="1.76" stroke-linecap="round" fill="none"/>
<path d="M379.1 638.1h0M380.5 646.3h0M364.7 632.7h0M377.6 649.5h0M373.8 648.3h0M356.3 632.8h0M364.4 649.4h0M383.1 644.8h0M376.1 642.2h0M387.2 622.6h0M385.8 633.0h0M370.2 629.1h0M377.7 636.3h0M385.7 643.6h0M377.2 639.2h0M382.9 641.7h0M378.9 637.1h0M372.9 639.2h0M411.0 622.3h0M361.5 639.6h0M360.3 645.6h0M361.6 638.0h0M358.4 629.6h0M356.3 633.2h0M355.2 638.5h0M387.4 643.1h0M366.3 640.7h0M382.5 644.6h0M373.4 626.1h0M359.7 633.2h0M397.6 612.1h0M378.7 639.9h0M378.5 652.3h0M378.5 640.8h0M383.2 640.4h0M380.1 647.3h0M387.1 621.8h0M384.2 632.9h0M375.5 644.9h0M378.9 643.1h0M360.6 640.2h0M365.9 643.1h0M383.8 641.8h0M382.8 628.7h0M365.0 645.3h0M362.4 636.7h0M362.9 642.6h0M374.8 649.4h0M340.2 628.9h0M374.4 642.6h0M358.3 632.8h0M385.8 623.0h0M381.9 636.0h0M386.7 639.4h0M373.2 651.6h0M404.8 620.0h0M382.8 642.5h0M405.5 623.1h0M360.2 637.5h0M361.4 644.7h0M386.4 639.8h0M382.0 646.5h0M375.9 652.9h0M369.2 651.2h0M385.9 649.8h0M382.1 643.4h0M382.9 643.6h0M374.5 649.5h0M383.3 628.5h0M364.5 633.1h0M389.8 641.5h0M404.0 620.7h0M361.9 648.4h0" stroke="#21918c" stroke-width="1.76" stroke-linecap="round" fill="none"/>
<path d="M291.3 644.6h0M386.3 627.9h0M364.4 629.6h0M375.4 638.1h0M297.5 638.9h0M378.4 640.2h0M283.5 656.6h0M369.1 638.9h0M377.8 642.9h0M383.4 628.8h0M273.2 616.5h0M373.0 641.2h0M371.2 643.8h0M373.9 641.5h0M279.3 642.8h0M285.6 627.8h0M299.0 630.0h0M380.2 625.0h0M363.5 631.4h0M291.1 634.9h0M376.3 644.0h0M367.0 643.0h0M364.7 634.0h0M375.5 649.9h0M370.0 636.9h0M376.6 632.8h0M290.3 629.8h0M364.8 644.7h0M382.8 633.9h0M375.2 641.8h0M291.0 633.9h0M372.4 641.7h0M372.8 643.9h0M382.7 636.8h0M403.2 621.9h0M374.9 630.7h0M376.3 637.4h0M288.1 631.1h0M289.5 645.2h0M279.3 622.0h0M389.9 639.2h0M373.0 625.9h0M378.7 640.3h0M387.2 636.7h0M377.0 640.4h0M368.5 634.9h0M380.1 632.7h0M379.1 628.2h0M299.9 633.9h0M410.0 621.5h0M376.0 644.2h0M375.5 632.8h0M279.9 620.3h0M375.9 638.5h0M379.9 631.4h0M368.9 637.5h0M381.9 635.8h0M312.2 613.4h0M288.3 624.7h0M376.8 635.3h0M381.6 627.2h0M388.5 637.2h0M366.2 635.7h0M377.6 643.1h0M372.0 642.3h0M386.2 631.1h0M378.7 630.8h0M389.8 621.5h0M375.6 646.4h0M379.5 626.9h0M365.9 642.9h0M293.7 629.5h0M288.7 631.9h0M376.6 638.7h0M362.2 634.0h0M374.2 644.2h0M400.2 622.2h0M374.5 630.5h0M371.6 638.6h0M381.6 632.0h0M389.6 637.7h0M281.7 626.5h0M386.3 633.2h0M380.7 630.9h0M406.5 621.6h0M381.6 632.8h0M365.3 628.0h0M387.8 638.8h0M372.9 640.0h0M279.7 639.9h0M371.8 624.3h0M363.0 634.8h0M365.8 634.5h0M295.2 621.1h0M266.0 634.5h0M378.1 641.2h0M389.4 633.2h0M374.5 644.1h0M281.1 627.4h0M378.0 638.5h0M281.0 641.3h0M388.8 644.6h0M374.4 635.8h0" stroke="#22a884" stroke-width="1.76" stroke-linecap="round" fill="none"/>
<path d="M376.6 626.0h0M383.6 633.3h0M390.5 630.6h0M369.5 630.3h0M386.5 629.7h0M390.1 637.3h0M397.8 621.6h0M388.4 622.1h0M407.0 621.4h0M378.9 627.6h0M382.0 641.1h0M382.4 624.8h0M374.4 638.4h0M377.5 629.5h0M408.4 622.1h0M362.2 639.8h0M375.4 640.3h0M368.4 631.9h0M384.2 632.7h0M381.4 627.3h0M409.4 621.8h0M386.3 625.1h0M388.9 628.3h0M377.6 641.4h0M367.9 635.1h0M388.2 633.8h0M367.7 630.4h0M387.0 637.5h0M365.4 635.8h0M370.3 639.0h0M365.1 639.8h0M370.9 637.9h0M411.7 624.1h0M384.9 628.7h0M369.9 634.0h0M380.1 629.7h0M384.3 630.3h0M382.7 633.1h0M369.9 631.3h0M372.4 637.8h0M380.2 634.8h0M375.2 632.0h0M375.3 636.0h0M369.7 637.7h0M384.1 628.8h0M374.8 632.8h0M387.7 622.9h0M369.8 631.7h0M378.7 645.6h0M385.5 637.5h0M389.5 621.4h0" stroke="#44bf70" stroke-width="1.76" stroke-linecap="round" fill="none"/>
<path d="M371.5 634.4h0M385.4 624.3h0M376.1 635.5h0M372.0 631.8h0M404.2 624.2h0M376.7 631.8h0M393.7 625.2h0M382.0 635.6h0M396.9 623.9h0M377.6 631.5h0M390.7 638.3h0M405.8 623.1h0M379.9 641.4h0M407.6 623.3h0M390.7 639.1h0M411.9 622.5h0M380.2 641.3h0M387.1 635.3h0M366.7 633.4h0M376.4 639.8h0M372.7 633.2h0M378.3 643.7h0M381.3 629.2h0M402.6 621.8h0" stroke="#7ad151" stroke-width="1.76" stroke-linecap="round" fill="none"/>
<path d="M407.2 626.0h0M385.8 626.4h0M382.5 635.5h0M394.5 625.8h0" stroke="#bddf26" stroke-width="1.76" stroke-linecap="round" fill="none"/>
<line x1="254.5" y1="586.3" x2="254.5" y2="682.5" stroke="#555" stroke-width="0.9" />
<line x1="254.3" y1="682.5" x2="425" y2="682.5" stroke="#555" stroke-width="0.9" />
<text x="255.5" y="584.5" font-size="11.4" text-anchor="start" font-style="italic" fill="#111" >Etv2</text>
<defs><linearGradient id="vg432617" x1="0" y1="0" x2="0" y2="1"><stop offset="0.0" stop-color="#fde725"/><stop offset="0.1" stop-color="#bddf26"/><stop offset="0.2" stop-color="#7ad151"/><stop offset="0.3" stop-color="#44bf70"/><stop offset="0.4" stop-color="#22a884"/><stop offset="0.5" stop-color="#21918c"/><stop offset="0.6" stop-color="#2a788e"/><stop offset="0.7" stop-color="#355f8d"/><stop offset="0.8" stop-color="#414487"/><stop offset="0.9" stop-color="#482475"/><stop offset="1.0" stop-color="#440154"/></linearGradient></defs>
<rect x="432.6" y="617" width="4.6" height="36.2" fill="url(#vg432617)" stroke="none" stroke-width="1" />
<text x="438.8" y="622.56" font-size="6" text-anchor="start" fill="#222" >4</text>
<text x="438.8" y="630.66" font-size="6" text-anchor="start" fill="#222" >3</text>
<text x="438.8" y="638.76" font-size="6" text-anchor="start" fill="#222" >2</text>
<text x="438.8" y="646.96" font-size="6" text-anchor="start" fill="#222" >1</text>
<text x="438.8" y="655.06" font-size="6" text-anchor="start" fill="#222" >0</text>
<rect x="472.3" y="586.3" width="170.8" height="96.2" fill="#e8e6e4" stroke="none" stroke-width="1" />
<path d="M613.5 610.6h0M625.1 604.2h0M629.0 613.4h0M610.9 618.0h0M614.7 603.2h0" stroke="#440154" stroke-width="1.76" stroke-linecap="round" fill="none"/>
<path d="M631.4 614.5h0M513.3 627.8h0M626.7 604.6h0M619.1 608.2h0M631.0 619.6h0M622.4 617.1h0M503.8 648.4h0M609.6 611.9h0M629.9 617.5h0M505.1 645.3h0M630.6 610.6h0M506.7 631.9h0M614.1 612.1h0M625.3 618.4h0" stroke="#482475" stroke-width="1.76" stroke-linecap="round" fill="none"/>
<path d="M509.3 644.6h0M558.7 646.3h0M618.7 612.2h0M611.4 613.2h0M634.1 618.9h0M533.7 640.4h0M494.7 616.5h0M512.7 637.5h0M612.8 608.2h0M629.9 607.0h0M588.3 651.1h0M588.4 647.6h0M483.2 633.8h0M563.8 668.8h0M491.2 616.5h0M587.5 630.3h0M592.0 641.5h0M570.8 650.6h0M484.9 634.0h0M610.4 617.5h0M503.6 627.8h0M517.1 630.0h0M619.2 604.7h0M484.6 635.1h0M488.6 634.6h0M598.6 645.0h0M619.7 603.9h0M547.1 656.3h0M570.3 666.8h0M615.3 619.1h0M507.3 623.5h0M566.0 625.2h0M557.1 661.7h0M620.4 618.4h0M595.3 639.2h0M616.9 607.0h0M536.5 655.4h0M617.2 604.3h0M546.8 656.0h0M630.1 614.5h0M508.4 629.8h0M483.6 633.5h0M615.2 616.1h0M509.1 633.9h0M626.2 605.3h0M484.7 634.5h0M616.2 607.3h0M578.3 645.6h0M579.7 638.0h0M484.8 634.7h0M619.0 604.7h0M480.9 633.8h0M506.1 631.1h0M506.0 622.6h0M623.1 616.2h0M507.5 645.2h0M553.4 649.5h0M615.5 614.9h0M614.5 617.1h0M629.8 607.9h0M619.3 617.1h0M497.3 622.0h0M625.3 626.0h0M616.2 612.6h0M622.0 619.8h0M620.6 619.1h0M603.6 653.8h0M502.4 618.6h0M623.7 607.4h0M482.4 633.5h0M510.5 638.7h0M499.9 614.0h0M612.1 617.1h0M581.3 659.8h0M502.0 630.1h0M592.9 662.1h0M571.0 636.3h0M495.2 613.4h0M629.3 614.2h0M500.1 641.8h0M518.0 633.9h0M628.1 621.5h0M578.5 644.9h0M499.3 644.8h0M621.8 602.6h0M616.0 614.0h0M628.6 615.1h0M578.7 640.2h0M530.3 613.4h0M522.5 647.9h0M631.1 614.0h0M481.8 633.2h0M601.9 641.8h0M483.7 634.5h0M615.6 614.5h0M588.3 639.0h0M586.4 664.2h0M635.0 608.4h0M532.1 642.4h0M576.1 649.5h0M482.4 633.6h0M553.7 656.9h0M506.6 647.0h0M625.2 620.1h0M484.2 636.7h0M485.1 634.6h0M627.7 609.1h0M500.9 640.5h0M602.4 630.3h0M611.1 653.9h0M625.6 605.9h0M499.7 626.5h0M587.9 631.3h0M629.8 616.6h0M604.4 633.2h0M500.0 615.0h0M509.1 621.9h0M614.3 616.9h0M610.8 606.0h0M614.4 611.9h0M628.2 605.7h0M560.5 645.1h0M589.8 624.3h0M509.8 633.9h0M482.2 632.8h0M557.2 633.5h0M484.0 634.5h0M505.6 647.6h0M497.1 641.5h0M627.9 619.6h0M495.4 645.1h0M592.6 644.1h0M483.8 635.6h0M507.5 621.4h0" stroke="#414487" stroke-width="1.76" stroke-linecap="round" fill="none"/>
<path d="M619.8 605.9h0M503.6 638.1h0M628.6 601.1h0M493.0 648.5h0M633.6 614.6h0M619.6 603.8h0M510.3 647.6h0M633.5 609.7h0M498.3 653.1h0M495.2 643.7h0M627.1 619.4h0M627.6 603.8h0M632.0 614.8h0M496.8 615.2h0M493.4 614.0h0M632.0 609.5h0M504.3 638.4h0M612.3 605.6h0M613.5 616.9h0M612.8 613.5h0M628.7 608.1h0M615.4 604.3h0M616.5 618.0h0M507.4 643.5h0M620.4 603.7h0M630.6 602.1h0M501.2 633.1h0M619.8 602.4h0M511.3 637.7h0M508.7 627.4h0M509.8 633.2h0M506.0 653.1h0M616.5 600.7h0M500.7 634.5h0M507.5 640.7h0M490.1 640.4h0M509.5 637.3h0M502.8 640.0h0M572.5 634.2h0M493.1 612.5h0M508.6 625.1h0M612.9 605.5h0M620.2 602.5h0M511.9 632.4h0M611.9 617.6h0M627.9 616.3h0M620.0 605.8h0M604.1 622.4h0M512.1 636.9h0M632.7 611.8h0M511.7 620.4h0M630.5 611.9h0M626.9 616.7h0M498.6 612.1h0M628.8 612.0h0M519.8 646.9h0M609.9 610.2h0M632.8 608.1h0M624.7 601.8h0M492.9 639.0h0M514.0 625.9h0M507.5 646.3h0M628.9 618.7h0M627.9 602.4h0M623.6 606.8h0M504.3 638.3h0M513.2 629.7h0M499.3 640.5h0M613.5 612.4h0M621.5 614.1h0M620.2 599.0h0M615.1 611.5h0M508.4 643.3h0M506.4 625.6h0M608.3 619.2h0M511.7 629.5h0M499.6 643.3h0M511.0 625.8h0M507.3 643.8h0M617.9 619.8h0M624.0 603.7h0M499.9 624.3h0M619.4 601.8h0M503.5 620.9h0M504.6 644.7h0M512.8 636.2h0M597.1 639.0h0M513.8 623.6h0M627.2 619.8h0M627.9 607.0h0M504.4 619.4h0M495.0 634.9h0M501.5 644.0h0M608.4 611.6h0M615.5 613.0h0M494.7 651.1h0M633.4 609.6h0M503.1 650.0h0M511.9 635.4h0M507.3 649.9h0M508.4 639.4h0M547.2 650.6h0M498.3 637.2h0M630.7 611.3h0M498.9 644.1h0M501.7 650.5h0M499.0 641.3h0" stroke="#355f8d" stroke-width="1.76" stroke-linecap="round" fill="none"/>
<path d="M598.0 652.6h0M513.3 641.0h0M630.1 617.9h0M597.1 638.1h0M501.4 637.7h0M503.9 633.6h0M621.3 618.8h0M575.0 649.1h0M501.6 656.6h0M507.4 647.7h0M514.9 635.0h0M488.9 616.5h0M496.8 617.0h0M623.9 608.0h0M616.8 608.1h0M625.4 623.1h0M563.7 644.3h0M634.5 616.2h0M511.4 634.0h0M493.2 616.4h0M594.1 642.2h0M505.0 630.2h0M616.8 602.6h0M492.7 617.2h0M568.4 626.9h0M578.5 636.7h0M510.4 644.8h0M533.3 611.1h0M620.9 618.7h0M603.9 633.0h0M588.3 629.1h0M512.0 632.3h0M493.6 640.9h0M495.2 614.2h0M509.2 634.9h0M503.8 641.0h0M502.8 641.2h0M504.1 639.9h0M611.0 616.0h0M626.1 607.7h0M621.8 613.4h0M493.6 641.9h0M614.1 614.0h0M616.7 618.2h0M536.4 642.4h0M540.6 645.4h0M616.5 619.5h0M507.2 643.9h0M578.1 640.7h0M504.1 636.8h0M496.1 645.9h0M583.3 661.8h0M597.0 637.1h0M539.8 646.5h0M507.6 634.9h0M512.0 630.8h0M615.3 613.7h0M591.0 639.2h0M629.0 622.3h0M622.0 604.1h0M628.3 619.4h0M519.2 636.1h0M502.0 641.1h0M615.9 615.1h0M622.0 603.5h0M613.2 613.2h0M628.9 610.1h0M538.4 645.8h0M558.7 627.0h0M601.4 616.6h0M553.0 644.3h0M511.5 626.2h0M613.8 611.2h0M494.0 612.7h0M584.4 640.7h0M614.1 604.3h0M511.5 642.1h0M596.8 639.9h0M511.3 641.9h0M596.5 640.8h0M495.4 648.7h0M620.2 599.6h0M506.4 626.3h0M505.2 642.4h0M498.9 641.3h0M629.1 615.1h0M518.2 626.6h0M591.2 642.6h0M572.9 628.8h0M587.5 645.9h0M501.3 644.6h0M612.7 605.2h0M607.5 658.6h0M602.3 632.9h0M631.7 619.8h0M604.0 649.9h0M493.1 614.2h0M491.9 616.9h0M513.2 624.8h0M611.9 615.8h0M490.5 644.2h0M613.0 608.6h0M556.7 654.2h0M515.2 636.1h0M507.4 625.3h0M630.7 604.9h0M614.5 606.9h0M503.6 646.2h0M534.5 645.0h0M616.4 616.6h0M603.9 623.0h0M600.0 636.0h0M500.3 642.0h0M586.4 662.6h0M589.7 659.8h0M564.6 656.4h0M506.8 635.0h0M502.9 634.4h0M497.2 614.0h0M616.3 613.9h0M607.8 619.7h0M509.2 636.4h0M509.4 631.1h0M550.3 663.3h0M551.4 648.7h0M488.5 637.8h0M576.3 650.3h0M578.2 630.7h0M626.7 605.2h0M502.6 643.2h0M509.0 640.0h0M559.5 647.6h0M505.9 635.5h0M494.8 616.4h0M511.2 632.1h0M617.9 600.9h0M610.3 646.0h0M613.0 616.7h0M506.9 645.2h0M612.0 617.3h0M505.6 645.1h0M557.6 666.1h0M498.0 638.7h0M534.6 656.2h0M615.9 604.2h0M616.3 619.8h0M601.3 628.5h0M506.3 644.7h0M543.6 648.4h0M492.6 617.0h0M620.8 602.9h0M492.9 627.1h0" stroke="#2a788e" stroke-width="1.76" stroke-linecap="round" fill="none"/>
<path d="M604.4 627.9h0M591.5 662.4h0M592.9 660.0h0M558.3 639.4h0M601.7 641.6h0M593.4 638.1h0M625.5 616.4h0M582.9 661.4h0M532.3 639.3h0M503.8 639.2h0M603.3 660.8h0M577.3 652.7h0M526.1 647.6h0M627.2 607.3h0M579.6 655.9h0M577.2 658.1h0M525.9 652.0h0M582.8 632.7h0M539.7 647.9h0M581.6 654.6h0M527.7 617.9h0M629.4 601.1h0M549.3 652.7h0M527.8 656.5h0M608.3 665.2h0M618.0 620.3h0M601.5 628.8h0M565.5 660.0h0M541.9 643.8h0M584.9 647.4h0M568.7 625.4h0M496.7 611.7h0M627.7 604.0h0M533.4 652.2h0M496.6 612.7h0M491.3 614.7h0M605.3 622.6h0M498.4 648.5h0M497.3 642.8h0M556.2 644.0h0M497.0 612.0h0M561.1 659.8h0M568.4 644.7h0M495.5 613.9h0M531.0 612.7h0M595.8 636.3h0M536.2 643.3h0M525.5 636.4h0M554.0 631.9h0M562.4 646.5h0M565.8 662.8h0M490.5 641.0h0M613.6 616.8h0M529.1 637.5h0M594.4 644.0h0M561.5 635.8h0M576.6 670.1h0M507.6 641.3h0M603.2 666.7h0M519.6 646.2h0M522.9 624.1h0M492.0 614.9h0M574.7 630.0h0M588.0 636.9h0M506.9 649.8h0M600.3 667.2h0M571.7 634.3h0M527.9 617.4h0M575.1 630.7h0M607.4 612.0h0M563.0 668.0h0M559.4 626.7h0M504.9 631.8h0M554.2 643.3h0M559.9 652.0h0M537.8 642.8h0M505.6 650.2h0M628.8 607.6h0M518.5 643.9h0M530.3 655.2h0M591.6 654.6h0M555.3 638.5h0M550.0 656.1h0M508.4 635.4h0M573.4 630.5h0M589.1 651.7h0M590.4 641.7h0M507.4 617.7h0M491.3 615.6h0M555.6 641.8h0M556.2 664.7h0M590.2 665.1h0M569.3 659.8h0M550.9 653.6h0M603.6 636.6h0M573.0 651.7h0M605.7 653.9h0M516.4 642.0h0M527.0 646.9h0M570.2 624.7h0M594.4 637.4h0M515.3 634.1h0M513.3 632.9h0M579.2 630.6h0M574.6 653.3h0M505.1 655.6h0M524.3 651.1h0M622.5 606.1h0M497.1 614.2h0M556.0 660.8h0M492.5 617.5h0M620.2 619.8h0M507.0 646.4h0M629.2 607.5h0M627.3 620.7h0M596.7 640.3h0M547.9 649.7h0M609.7 615.4h0M605.3 636.7h0M497.5 645.1h0M538.5 657.7h0M591.5 626.1h0M600.8 656.7h0M505.1 633.1h0M614.9 611.4h0M580.7 640.9h0M583.4 649.2h0M577.1 666.1h0M601.2 640.4h0M605.4 655.0h0M503.0 633.9h0M533.1 647.7h0M605.2 621.8h0M597.2 628.2h0M595.7 660.0h0M593.6 632.8h0M571.6 630.6h0M497.9 620.3h0M594.0 638.5h0M572.0 665.5h0M619.1 601.5h0M568.2 624.6h0M516.2 637.9h0M559.5 667.3h0M543.9 645.8h0M627.8 609.9h0M636.2 616.0h0M512.8 644.9h0M524.5 640.0h0M562.5 667.1h0M623.4 600.7h0M557.4 664.7h0M616.8 607.5h0M510.6 635.7h0M506.1 642.7h0M498.0 611.3h0M594.8 635.3h0M623.4 602.0h0M555.6 665.1h0M533.7 646.1h0M600.9 628.7h0M625.3 616.8h0M573.6 631.3h0M580.5 636.7h0M608.3 617.7h0M518.3 643.3h0M513.9 636.3h0M503.8 621.7h0M535.0 655.3h0M509.2 624.1h0M592.5 642.6h0M537.5 655.4h0M500.7 639.6h0M547.7 646.1h0M619.2 608.9h0M573.6 649.8h0M604.3 631.1h0M505.0 622.6h0M569.9 645.6h0M536.2 645.0h0M575.2 640.1h0M526.8 648.6h0M577.5 663.5h0M600.9 642.5h0M503.7 638.3h0M591.3 650.9h0M538.0 650.8h0M584.6 647.2h0M560.8 635.9h0M623.6 623.1h0M527.5 618.5h0M547.2 650.2h0M613.9 616.2h0M504.7 650.4h0M498.2 651.4h0M623.6 607.2h0M592.9 663.8h0M590.2 647.1h0M589.9 660.1h0M592.5 666.2h0M599.7 632.0h0M559.6 627.1h0M513.2 625.2h0M607.7 637.7h0M547.0 656.5h0M543.2 639.5h0M545.4 652.4h0M623.7 620.5h0M575.0 631.1h0M510.4 648.9h0M571.9 623.7h0M560.2 643.4h0M517.0 639.4h0M615.5 618.2h0M624.6 621.6h0M514.9 639.7h0M621.3 611.4h0M574.3 650.7h0M592.5 649.4h0M497.7 639.9h0M611.2 610.0h0M512.9 642.1h0M497.7 622.8h0M579.1 654.4h0M567.2 640.5h0M610.5 612.6h0M574.5 662.7h0M540.9 648.8h0M513.2 621.1h0M561.2 649.8h0M547.5 651.0h0M499.7 634.9h0M608.3 647.2h0M563.2 621.9h0M561.3 628.3h0M565.3 625.4h0M511.6 627.8h0M584.7 644.0h0M561.0 624.1h0M566.9 636.8h0M543.3 641.2h0M617.0 619.7h0M620.7 604.8h0M607.5 633.2h0M567.3 644.5h0M562.0 622.1h0M601.3 652.6h0M546.7 653.4h0M592.4 635.8h0" stroke="#21918c" stroke-width="1.76" stroke-linecap="round" fill="none"/>
<path d="M529.1 636.9h0M568.4 623.7h0M531.2 651.7h0M599.9 649.2h0M563.9 638.1h0M596.9 653.0h0M570.2 665.0h0M567.2 669.6h0M549.7 649.6h0M541.5 658.3h0M582.4 629.6h0M547.2 655.7h0M579.5 658.6h0M555.4 628.6h0M518.1 638.4h0M525.3 620.3h0M580.7 659.0h0M515.5 638.9h0M567.2 641.2h0M601.7 633.3h0M567.8 628.6h0M596.5 640.2h0M525.9 629.7h0M556.8 635.5h0M526.7 613.9h0M587.2 638.9h0M598.6 646.3h0M595.9 642.9h0M561.9 643.3h0M553.2 660.0h0M616.2 620.1h0M526.9 617.0h0M523.8 637.8h0M549.4 650.0h0M627.0 620.4h0M515.2 640.6h0M518.5 640.4h0M601.2 644.8h0M525.9 638.2h0M564.7 657.6h0M556.3 661.6h0M568.2 621.2h0M538.4 651.4h0M553.7 644.5h0M578.7 649.7h0M502.5 648.6h0M570.9 665.9h0M547.5 650.4h0M591.1 641.2h0M531.4 614.0h0M613.8 620.7h0M608.8 612.4h0M573.3 628.4h0M591.3 652.2h0M543.8 659.3h0M591.0 651.4h0M565.9 661.3h0M615.9 621.6h0M558.0 663.1h0M556.3 629.1h0M523.9 639.8h0M599.5 667.1h0M606.5 622.1h0M532.9 649.9h0M549.2 645.3h0M521.7 653.2h0M611.8 607.7h0M598.3 625.0h0M581.6 631.4h0M564.4 623.9h0M552.5 651.1h0M573.3 629.9h0M590.1 658.6h0M604.6 643.4h0M587.6 667.0h0M583.0 662.9h0M613.6 609.0h0M600.1 641.1h0M576.3 632.0h0M520.9 638.8h0M561.2 644.6h0M521.7 629.2h0M553.7 637.9h0M494.0 645.3h0M551.1 646.8h0M488.7 644.5h0M518.6 624.4h0M571.9 636.6h0M582.7 634.0h0M594.7 632.8h0M544.1 645.8h0M523.1 626.0h0M515.2 638.1h0M561.6 638.0h0M573.2 627.8h0M491.2 610.6h0M524.1 624.8h0M593.7 669.2h0M521.8 639.9h0M570.0 625.3h0M556.5 648.7h0M532.0 650.7h0M563.8 648.8h0M532.7 645.0h0M600.8 633.9h0M567.7 625.5h0M587.0 655.3h0M542.6 640.0h0M572.3 663.4h0M563.9 648.3h0M601.0 641.7h0M593.3 641.8h0M583.7 666.1h0M517.7 624.2h0M509.4 644.7h0M590.9 643.9h0M520.8 624.8h0M600.8 636.8h0M558.5 627.3h0M555.7 641.9h0M621.3 621.9h0M542.8 650.5h0M556.3 645.2h0M579.5 639.6h0M605.8 645.2h0M516.4 647.8h0M598.4 658.9h0M593.0 630.7h0M537.7 639.3h0M565.9 664.9h0M566.7 626.3h0M528.9 616.5h0M522.5 650.1h0M556.3 627.8h0M559.5 631.2h0M560.8 645.0h0M561.4 658.6h0M526.8 646.8h0M562.1 633.5h0M576.4 629.6h0M608.6 662.0h0M551.6 648.2h0M601.9 664.4h0M549.4 660.3h0M603.9 652.1h0M530.8 654.0h0M607.4 648.4h0M607.9 639.2h0M523.4 625.1h0M608.1 657.4h0M591.1 625.9h0M600.5 655.7h0M575.7 657.7h0M576.0 664.4h0M626.5 622.1h0M520.1 637.3h0M612.2 613.1h0M599.6 651.9h0M496.4 653.8h0M550.7 649.3h0M606.4 645.8h0M550.2 651.8h0M600.6 644.6h0M556.2 651.7h0M573.3 669.0h0M557.8 662.5h0M563.1 624.1h0M527.0 644.7h0M565.2 659.3h0M548.8 649.4h0M562.9 640.2h0M575.7 650.7h0M524.3 655.0h0M592.9 651.6h0M595.0 640.4h0M558.0 654.6h0M599.5 658.5h0M515.9 621.2h0M548.9 655.5h0M592.6 664.2h0M629.8 614.1h0M628.5 618.1h0M546.0 648.2h0M599.4 627.3h0M568.7 669.8h0M574.2 628.0h0M586.5 634.9h0M606.5 664.7h0M576.1 655.1h0M549.8 663.1h0M598.3 663.9h0M503.3 644.6h0M538.1 646.3h0M561.5 665.7h0M598.2 632.7h0M497.4 618.7h0M554.0 656.0h0M522.7 644.3h0M565.8 623.5h0M527.9 618.6h0M594.0 644.2h0M579.8 644.3h0M522.3 641.0h0M582.6 661.2h0M580.9 657.1h0M553.3 647.1h0M526.8 650.7h0M569.7 655.8h0M524.2 629.7h0M552.7 660.7h0M569.5 625.5h0M608.4 651.7h0M529.4 641.7h0M597.9 631.4h0M593.6 644.9h0M582.2 652.5h0M586.9 637.5h0M514.6 627.7h0M596.9 643.1h0M548.6 652.8h0M605.0 643.5h0M530.5 644.6h0M604.4 625.1h0M495.3 614.4h0M606.3 664.0h0M592.1 652.2h0M585.0 649.9h0M584.0 643.1h0M607.0 628.3h0M529.8 648.8h0M553.7 641.9h0M552.5 661.6h0M603.0 657.5h0M593.8 658.6h0M580.9 642.6h0M562.9 660.6h0M597.7 664.4h0M582.2 659.6h0M599.7 627.2h0M582.7 662.2h0M549.9 650.5h0M560.9 636.2h0M516.0 635.2h0M565.7 649.6h0M606.6 637.2h0M584.3 635.7h0M595.6 643.1h0M590.1 642.3h0M592.8 663.6h0M555.4 631.8h0M517.1 637.8h0M596.8 630.8h0M607.9 621.5h0M617.1 604.6h0M604.8 639.4h0M534.5 646.4h0M570.7 626.1h0M602.4 656.0h0M571.1 645.1h0M574.7 639.8h0M629.8 624.1h0M597.6 626.9h0M561.3 667.6h0M506.8 645.0h0M614.2 620.0h0M505.1 630.6h0M562.6 644.5h0M516.1 644.7h0M554.2 639.9h0M594.7 638.7h0M496.4 615.6h0M609.2 659.2h0M578.9 661.6h0M602.9 628.7h0M618.2 622.2h0M551.3 646.2h0M608.2 644.1h0M570.3 663.4h0M522.2 647.3h0M588.0 634.0h0M592.6 630.5h0M533.1 654.8h0M589.7 638.6h0M563.2 651.5h0M564.8 623.0h0M534.7 639.5h0M546.2 647.3h0M521.7 630.8h0M561.3 637.4h0M565.6 647.6h0M532.1 653.3h0M568.4 639.3h0M525.3 646.1h0M558.8 645.3h0M537.3 647.3h0M612.9 620.1h0M570.4 651.4h0M497.4 638.4h0M493.0 648.7h0M579.1 644.3h0M574.4 630.5h0M544.7 653.8h0M598.8 630.9h0M580.0 644.1h0M545.0 658.3h0M526.6 621.6h0M604.5 639.8h0M605.6 642.7h0M599.6 632.8h0M550.9 649.9h0M565.0 668.6h0M543.2 658.4h0M600.0 646.5h0M505.8 641.2h0M518.4 643.5h0M591.0 640.0h0M601.1 656.9h0M549.4 651.0h0M614.0 609.5h0M633.0 606.8h0M593.3 636.0h0M518.0 631.3h0M551.5 649.4h0M581.1 634.8h0M575.7 625.0h0M591.1 651.4h0M583.9 634.5h0M488.1 611.6h0M508.8 646.1h0M551.8 653.9h0M589.4 661.6h0M580.3 648.9h0M601.0 643.6h0M574.9 670.6h0M545.1 640.1h0M558.8 644.0h0M582.6 633.1h0M574.0 620.7h0M507.1 641.8h0M596.2 641.2h0M548.4 649.4h0M529.7 640.9h0M558.6 643.9h0M610.1 657.2h0M495.0 616.3h0M499.1 627.4h0M552.9 648.6h0M596.0 638.5h0M572.9 624.5h0M525.5 638.5h0M524.6 647.6h0M573.9 664.5h0" stroke="#22a884" stroke-width="1.76" stroke-linecap="round" fill="none"/>
<path d="M571.0 629.8h0M529.2 654.7h0M567.1 655.7h0M534.3 646.8h0M594.7 626.0h0M576.5 651.6h0M564.9 652.8h0M498.7 617.5h0M581.2 664.4h0M522.9 651.9h0M577.3 650.8h0M608.6 630.6h0M542.5 640.0h0M580.6 660.5h0M601.7 666.2h0M540.7 643.0h0M594.1 635.5h0M579.3 656.9h0M559.4 658.9h0M576.4 664.6h0M565.3 665.7h0M580.4 651.9h0M595.7 649.5h0M570.3 667.0h0M573.5 647.4h0M547.0 655.9h0M531.2 635.9h0M538.5 644.6h0M591.8 648.3h0M520.5 645.2h0M574.2 664.3h0M596.3 657.6h0M575.0 647.2h0M573.0 638.9h0M555.0 638.9h0M625.1 620.2h0M589.2 643.8h0M604.6 629.7h0M608.2 637.3h0M574.9 646.1h0M566.6 666.8h0M530.2 644.5h0M581.9 666.0h0M525.9 647.2h0M547.0 653.5h0M598.4 654.2h0M625.0 621.4h0M521.2 639.3h0M559.7 664.1h0M580.2 667.3h0M526.2 651.9h0M600.4 666.1h0M607.0 655.6h0M574.6 658.1h0M564.8 625.3h0M596.9 627.6h0M520.8 644.5h0M595.4 662.1h0M585.1 643.0h0M559.3 649.4h0M522.6 626.8h0M519.2 646.7h0M537.1 643.9h0M575.1 654.0h0M562.3 650.3h0M592.5 661.6h0M498.4 640.4h0M583.0 659.2h0M584.9 661.6h0M594.2 669.5h0M601.8 665.5h0M515.2 639.2h0M540.9 643.5h0M556.0 643.1h0M570.0 671.6h0M530.7 614.0h0M566.5 648.8h0M600.5 624.8h0M574.0 651.8h0M563.7 646.9h0M610.0 659.6h0M574.1 668.9h0M553.6 658.4h0M575.1 646.2h0M603.9 652.2h0M565.8 639.6h0M550.6 655.2h0M562.7 648.6h0M563.4 652.1h0M562.7 652.0h0M549.4 654.4h0M576.5 629.6h0M561.1 649.7h0M581.9 665.1h0M520.3 647.6h0M558.3 662.0h0M563.9 644.5h0M574.9 637.9h0M527.3 644.6h0M522.3 637.9h0M515.6 642.1h0M575.8 656.2h0M536.5 639.2h0M605.4 643.1h0M529.7 641.9h0M583.5 653.6h0M602.7 661.9h0M602.6 650.7h0M592.5 638.4h0M601.2 653.6h0M587.9 652.0h0M556.9 655.3h0M595.5 629.5h0M577.2 653.6h0M570.8 623.0h0M566.6 650.1h0M542.9 651.8h0M608.7 638.3h0M534.1 651.1h0M537.5 648.6h0M566.3 663.9h0M577.8 633.2h0M615.7 612.1h0M554.9 630.1h0M528.5 635.9h0M564.1 645.1h0M501.7 642.5h0M593.5 640.3h0M586.4 631.9h0M557.7 637.7h0M582.7 652.8h0M602.3 632.7h0M567.0 647.3h0M530.0 612.6h0M525.1 636.4h0M571.9 668.4h0M558.7 664.8h0M549.4 646.5h0M564.0 652.9h0M598.1 647.3h0M554.9 640.0h0M571.2 626.5h0M556.9 664.4h0M590.2 653.9h0M526.1 614.1h0M582.5 657.3h0M586.8 664.6h0M609.6 653.1h0M627.5 621.8h0M520.9 645.9h0M512.2 627.8h0M577.3 659.2h0M537.8 650.6h0M612.7 620.0h0M578.5 671.2h0M574.4 647.6h0M530.7 656.8h0M551.6 643.5h0M551.2 644.2h0M600.0 635.8h0M561.2 641.1h0M506.3 624.7h0M580.6 659.0h0M539.8 647.7h0M542.3 640.1h0M602.7 655.9h0M595.7 641.4h0M576.8 645.1h0M582.2 661.8h0M561.9 665.1h0M527.4 649.3h0M583.1 645.3h0M523.3 623.1h0M606.2 633.8h0M544.4 655.5h0M592.9 649.4h0M600.7 659.0h0M555.3 643.4h0M585.8 630.4h0M524.6 642.6h0M565.8 645.9h0M596.7 661.9h0M605.1 666.1h0M605.1 637.5h0M583.5 635.8h0M608.8 639.1h0M547.4 649.3h0M531.5 656.8h0M576.4 632.8h0M574.3 656.1h0M604.3 655.3h0M566.0 658.6h0M582.4 647.0h0M524.0 637.6h0M588.9 637.9h0M561.1 624.7h0M591.3 651.6h0M593.7 646.4h0M584.0 642.9h0M567.9 649.0h0M515.7 633.9h0M558.3 631.6h0M559.3 646.7h0M580.2 634.0h0M555.1 629.5h0M528.9 611.4h0M592.2 644.2h0M548.9 655.1h0M591.1 666.7h0M542.0 654.5h0M552.9 649.0h0M557.2 663.3h0M530.2 613.2h0M550.5 649.3h0M605.1 635.3h0M566.9 638.0h0M598.2 629.7h0M600.7 633.1h0M578.5 658.7h0M590.5 637.8h0M524.3 647.4h0M578.2 637.5h0M572.0 660.8h0M579.5 644.7h0M557.2 630.1h0M562.3 658.0h0M543.6 651.5h0M527.9 648.3h0M535.5 654.7h0M588.8 662.7h0M556.3 644.9h0M583.4 628.0h0M595.7 664.6h0M607.1 654.6h0M598.3 634.8h0M557.7 650.5h0M537.5 656.1h0M515.8 628.7h0M539.0 638.3h0M593.3 632.0h0M561.4 624.4h0M577.2 653.2h0M587.8 637.7h0M602.1 628.8h0M592.9 632.8h0M575.5 654.2h0M605.8 622.9h0M497.7 614.2h0M587.9 631.7h0M551.9 653.1h0M600.2 643.4h0M609.0 648.1h0M569.3 670.1h0M563.5 655.5h0M567.0 670.4h0M608.4 650.5h0M559.3 649.1h0M607.8 662.0h0M592.5 649.5h0M517.0 629.8h0M596.7 645.6h0M526.6 640.6h0M607.9 641.5h0M545.4 648.1h0M556.9 647.5h0M599.4 629.2h0M560.4 649.5h0M545.8 651.9h0M576.7 661.7h0M607.6 621.4h0" stroke="#44bf70" stroke-width="1.76" stroke-linecap="round" fill="none"/>
<path d="M534.4 652.9h0M568.3 646.6h0M589.5 634.4h0M560.9 645.9h0M552.9 660.0h0M551.8 641.2h0M591.1 664.2h0M600.0 662.5h0M549.2 656.3h0M603.5 624.3h0M544.4 645.7h0M574.3 632.8h0M582.5 649.4h0M555.8 654.7h0M523.6 643.3h0M594.3 657.7h0M554.3 648.4h0M552.8 656.0h0M566.1 621.6h0M590.1 631.8h0M553.6 661.4h0M624.2 620.6h0M567.1 656.2h0M546.0 646.0h0M603.7 643.6h0M566.5 622.7h0M622.3 624.2h0M576.0 651.4h0M594.8 631.8h0M593.6 649.9h0M525.7 631.4h0M578.4 657.1h0M560.7 659.4h0M567.0 657.0h0M582.9 644.7h0M553.1 652.7h0M624.2 620.4h0M611.8 625.2h0M524.7 638.5h0M600.1 635.6h0M596.7 655.0h0M615.0 623.9h0M548.6 652.0h0M595.7 631.5h0M565.8 660.7h0M562.4 666.6h0M541.3 651.5h0M556.2 649.4h0M574.3 633.2h0M573.3 638.5h0M515.2 635.6h0M550.9 662.5h0M584.9 661.0h0M572.8 645.6h0M568.0 661.8h0M556.7 665.8h0M549.8 644.9h0M576.7 655.1h0M557.2 651.1h0M596.6 652.3h0M551.7 660.5h0M546.9 658.0h0M623.8 623.1h0M550.7 656.8h0M545.3 659.5h0M569.8 662.4h0M597.9 641.4h0M535.2 642.8h0M577.3 669.8h0M561.2 659.4h0M567.5 622.2h0M547.0 655.1h0M551.3 658.8h0M625.7 623.3h0M566.9 651.5h0M585.9 635.1h0M584.7 658.4h0M572.0 635.9h0M558.3 628.9h0M567.0 659.5h0M579.9 668.4h0M583.2 639.8h0M566.8 653.5h0M630.0 622.5h0M523.4 635.3h0M563.4 659.8h0M598.3 641.3h0M553.9 644.6h0M591.3 659.2h0M565.9 653.7h0M519.1 628.9h0M568.6 663.0h0M553.1 662.4h0M524.3 645.2h0M548.9 645.3h0M535.9 647.1h0M586.2 654.7h0M559.4 666.6h0M605.9 638.8h0M604.7 660.9h0M527.6 654.4h0M548.3 649.4h0M529.7 636.6h0M559.3 633.1h0M587.3 651.2h0M584.8 633.4h0M547.7 646.6h0M566.2 667.8h0M593.1 654.2h0M603.9 649.8h0M522.1 643.9h0M548.3 649.8h0M594.5 639.8h0M576.3 657.9h0M603.5 637.5h0M608.6 655.3h0M590.7 633.2h0M596.4 643.7h0M579.9 648.4h0M620.7 621.8h0" stroke="#7ad151" stroke-width="1.76" stroke-linecap="round" fill="none"/>
<path d="M537.0 640.3h0M560.9 648.4h0M555.9 659.9h0M567.6 662.4h0M553.8 653.5h0M517.1 625.0h0M565.9 637.0h0M569.7 660.2h0M563.6 623.6h0M580.0 660.0h0M570.5 622.0h0M580.3 639.8h0M573.7 660.6h0M581.0 658.6h0M569.0 668.8h0M602.2 663.1h0M603.9 626.4h0M541.0 644.7h0M552.2 664.3h0M549.6 650.3h0M622.9 620.0h0M548.0 662.4h0M521.4 652.8h0M600.6 635.5h0M546.5 648.9h0M564.4 647.1h0M593.9 652.9h0M537.3 659.6h0M560.8 647.7h0M606.9 644.6h0" stroke="#bddf26" stroke-width="1.76" stroke-linecap="round" fill="none"/>
<path d="M563.1 657.9h0M562.9 668.4h0M550.0 653.3h0M612.6 625.8h0M566.6 655.9h0M622.1 620.7h0" stroke="#fde725" stroke-width="1.76" stroke-linecap="round" fill="none"/>
<line x1="472.5" y1="586.3" x2="472.5" y2="682.5" stroke="#555" stroke-width="0.9" />
<line x1="472.3" y1="682.5" x2="643.1" y2="682.5" stroke="#555" stroke-width="0.9" />
<text x="473" y="585.2" font-size="11.4" text-anchor="start" font-style="italic" fill="#111" >Smad1</text>
<defs><linearGradient id="vg650616" x1="0" y1="0" x2="0" y2="1"><stop offset="0.0" stop-color="#fde725"/><stop offset="0.1" stop-color="#bddf26"/><stop offset="0.2" stop-color="#7ad151"/><stop offset="0.3" stop-color="#44bf70"/><stop offset="0.4" stop-color="#22a884"/><stop offset="0.5" stop-color="#21918c"/><stop offset="0.6" stop-color="#2a788e"/><stop offset="0.7" stop-color="#355f8d"/><stop offset="0.8" stop-color="#414487"/><stop offset="0.9" stop-color="#482475"/><stop offset="1.0" stop-color="#440154"/></linearGradient></defs>
<rect x="650.3" y="616.6" width="4.6" height="37.2" fill="url(#vg650616)" stroke="none" stroke-width="1" />
<text x="656.5" y="620" font-size="6.4" text-anchor="start" fill="#222" >3</text>
<text x="656.5" y="631.9" font-size="6.4" text-anchor="start" fill="#222" >2</text>
<text x="656.5" y="643.6" font-size="6.4" text-anchor="start" fill="#222" >1</text>
<text x="656.5" y="655.5" font-size="6.4" text-anchor="start" fill="#222" >0</text>
<rect x="36.8" y="703.8" width="170.6" height="95.7" fill="#e8e6e4" stroke="none" stroke-width="1" />
<path d="M73.8 761.8h0M123.1 763.5h0M175.7 730.6h0M198.4 736.2h0M98.1 757.6h0M152.7 768.2h0M152.8 764.7h0M128.2 785.9h0M55.7 733.9h0M151.9 747.6h0M156.4 758.7h0M135.2 767.8h0M68.1 745.1h0M81.5 747.3h0M111.5 773.5h0M134.6 783.9h0M179.7 736.5h0M130.4 742.5h0M121.5 778.8h0M159.7 756.4h0M100.9 772.6h0M111.3 773.2h0M72.8 747.1h0M73.5 751.2h0M142.7 762.8h0M144.1 755.3h0M70.5 748.4h0M187.4 733.5h0M71.9 762.4h0M117.8 766.6h0M179.8 732.3h0M61.8 739.3h0M189.6 743.3h0M180.6 730.0h0M167.9 770.9h0M176.4 734.5h0M145.7 777.0h0M157.2 779.2h0M135.4 753.5h0M82.4 751.2h0M192.5 738.8h0M142.9 762.1h0M180.3 731.4h0M192.9 732.5h0M143.1 757.4h0M94.7 730.7h0M86.9 765.0h0M166.2 759.0h0M152.7 756.3h0M150.7 781.3h0M199.3 725.8h0M96.5 759.6h0M140.4 766.7h0M118.1 774.0h0M189.5 737.4h0M192.1 726.5h0M166.8 747.6h0M175.5 771.0h0M64.2 743.8h0M152.3 748.6h0M194.1 734.0h0M168.7 750.4h0M124.9 762.3h0M154.2 741.6h0M121.6 750.7h0M156.9 761.3h0" stroke="#482475" stroke-width="1.76" stroke-linecap="round" fill="none"/>
<path d="M77.8 745.1h0M163.0 762.2h0M136.9 751.4h0M68.3 765.6h0M84.3 764.1h0M69.5 762.5h0M71.2 749.1h0M61.6 758.7h0M59.9 762.3h0" stroke="#414487" stroke-width="1.76" stroke-linecap="round" fill="none"/>
<path d="M68.1 755.3h0M139.3 766.3h0M59.1 733.8h0M77.2 754.7h0M189.7 740.4h0M177.9 728.0h0M152.6 746.4h0M53.1 751.8h0M189.5 721.7h0M71.8 740.8h0M87.3 741.4h0M83.7 753.3h0M70.4 740.0h0M168.4 739.7h0M66.8 735.9h0M75.0 755.9h0M161.2 757.1h0M64.3 731.3h0M193.3 730.7h0M66.5 747.4h0M59.7 730.8h0M82.6 743.9h0M155.5 759.8h0M64.6 759.0h0M151.8 763.1h0M168.4 767.1h0M63.8 762.0h0M63.8 757.7h0M175.3 735.3h0M121.1 771.3h0M79.7 753.4h0M98.9 762.1h0M179.0 720.6h0M150.7 779.7h0M154.1 776.9h0M71.1 764.2h0M129.0 773.5h0M161.5 756.3h0M65.3 757.7h0M115.8 765.9h0M64.5 732.3h0M73.5 739.2h0M123.9 764.8h0M74.3 751.2h0M122.0 783.2h0M70.1 764.7h0M71.8 767.1h0M108.0 765.5h0M111.6 767.7h0M71.9 738.7h0" stroke="#355f8d" stroke-width="1.76" stroke-linecap="round" fill="none"/>
<path d="M195.7 731.8h0M122.7 756.6h0M162.4 769.8h0M166.1 758.8h0M161.5 755.3h0M82.6 755.7h0M183.0 729.6h0M147.3 778.6h0M167.7 777.9h0M141.7 769.9h0M141.6 775.2h0M57.5 765.6h0M128.1 761.5h0M113.7 769.8h0M83.0 757.6h0M74.7 764.7h0M129.9 777.2h0M62.7 770.3h0M191.0 722.0h0M59.6 760.9h0M158.5 759.4h0M133.1 742.7h0M57.1 734.5h0M97.9 769.4h0M169.6 739.9h0M61.2 732.6h0M132.8 744.2h0M142.8 753.9h0M97.8 728.5h0M125.5 776.9h0M57.8 731.4h0M95.4 730.0h0M168.2 750.3h0M68.7 755.6h0M160.1 753.5h0M126.8 763.7h0M130.2 779.9h0M167.5 783.8h0M84.0 763.4h0M100.9 759.6h0M164.7 784.2h0M105.0 762.6h0M139.4 748.0h0M71.9 760.7h0M181.5 721.7h0M127.4 785.0h0M183.4 725.5h0M194.4 731.8h0M124.3 769.1h0M65.7 750.4h0M179.5 733.5h0M82.9 761.1h0M155.9 771.7h0M142.5 757.9h0M75.7 755.0h0M73.2 744.7h0M74.2 750.4h0M70.4 770.2h0M65.2 751.8h0M114.4 773.2h0M72.0 757.9h0M147.7 778.9h0M161.3 754.4h0M54.6 757.6h0M73.9 754.5h0M120.6 781.7h0M104.2 763.7h0M133.6 777.0h0M167.9 753.8h0M67.3 757.2h0M195.3 736.9h0M155.4 756.5h0M57.6 729.9h0M193.4 739.6h0M80.8 759.2h0M73.0 742.4h0M186.7 734.4h0M66.5 758.3h0M79.8 751.3h0M102.9 763.0h0M123.1 744.3h0M173.9 729.3h0M76.4 749.7h0M139.0 770.5h0M117.4 761.5h0M120.4 778.0h0M148.8 757.9h0M76.6 754.1h0M112.3 766.8h0M76.2 737.7h0M63.1 729.5h0M103.0 774.9h0M160.9 758.0h0M147.8 766.4h0M141.5 783.2h0M57.3 756.2h0M137.3 746.1h0M78.5 743.2h0M169.5 739.1h0M171.8 775.7h0M194.2 734.8h0M160.1 777.1h0M166.7 750.2h0M71.9 763.5h0M136.4 782.6h0M186.1 720.0h0M80.7 755.2h0M123.9 784.4h0M68.8 755.6h0M77.7 747.0h0M120.0 782.2h0M137.9 748.6h0M82.8 760.5h0M137.9 766.9h0M72.9 760.5h0M168.2 740.3h0M164.4 753.3h0M70.9 742.9h0M139.6 757.3h0M194.9 728.0h0M148.9 764.4h0M76.2 746.8h0M64.1 760.5h0M75.5 743.1h0M71.8 761.0h0M111.6 767.4h0M64.3 741.6h0M68.0 738.2h0M69.1 761.9h0M77.2 753.4h0M154.3 777.2h0M78.3 740.9h0M114.7 780.4h0M140.7 767.5h0M188.0 737.8h0M68.8 736.7h0M124.6 760.6h0M81.5 756.6h0M142.6 748.0h0M138.7 767.9h0M59.4 752.1h0M156.8 766.5h0M66.0 761.2h0M174.7 763.2h0M59.2 768.3h0M143.5 771.6h0M138.9 779.8h0M125.5 767.0h0M178.4 729.5h0M111.9 768.1h0M67.6 767.2h0M127.6 739.2h0M125.7 745.6h0M99.0 773.4h0M129.7 742.7h0M149.1 761.2h0M76.4 752.6h0M125.4 741.4h0M165.7 745.8h0M72.8 756.6h0M62.7 754.4h0M189.6 735.7h0M63.4 761.3h0M131.7 761.7h0M126.4 739.4h0M66.2 767.7h0M63.5 758.5h0M111.1 770.6h0" stroke="#2a788e" stroke-width="1.76" stroke-linecap="round" fill="none"/>
<path d="M168.7 745.2h0M95.7 768.8h0M155.8 779.5h0M128.3 755.3h0M161.2 770.2h0M157.2 777.1h0M134.6 782.1h0M77.8 758.2h0M105.9 775.5h0M65.8 754.9h0M157.8 755.3h0M111.6 772.9h0M143.9 775.7h0M68.3 750.8h0M96.8 756.5h0M145.1 776.2h0M80.0 756.1h0M131.6 758.4h0M132.2 745.9h0M90.5 764.7h0M66.0 773.7h0M71.8 764.9h0M79.3 752.3h0M91.2 731.3h0M53.4 733.8h0M61.3 734.4h0M143.9 773.0h0M162.9 763.5h0M90.4 769.1h0M177.1 725.6h0M147.2 750.0h0M194.2 724.4h0M104.2 765.1h0M197.9 732.0h0M146.0 771.7h0M92.1 735.2h0M79.7 757.8h0M92.2 773.6h0M172.6 782.2h0M182.3 737.6h0M165.9 746.1h0M129.1 774.7h0M75.9 751.3h0M57.7 733.7h0M120.7 778.8h0M106.3 761.0h0M118.1 761.7h0M143.1 766.8h0M149.3 764.6h0M69.5 747.5h0M135.3 783.0h0M111.9 767.5h0M120.6 761.2h0M74.8 761.9h0M174.8 734.9h0M130.3 778.4h0M132.8 761.9h0M183.5 722.2h0M122.4 780.2h0M88.4 757.0h0M76.5 749.5h0M100.6 760.5h0M89.9 753.6h0M118.4 749.2h0M86.1 770.4h0M162.6 742.3h0M184.1 721.3h0M58.1 758.1h0M59.7 731.5h0M116.9 768.3h0M137.7 747.2h0M73.6 752.2h0M68.3 758.2h0M67.2 758.5h0M151.9 784.1h0M147.4 780.0h0M93.5 754.8h0M85.3 756.0h0M125.6 761.8h0M86.2 746.5h0M68.6 757.1h0M158.8 761.2h0M125.9 753.1h0M141.0 787.2h0M184.7 735.7h0M83.0 741.7h0M136.3 753.9h0M139.1 747.3h0M152.4 754.2h0M159.0 750.1h0M58.1 759.1h0M87.5 743.3h0M79.6 755.4h0M136.1 751.5h0M71.7 761.1h0M92.3 734.8h0M181.2 724.4h0M88.6 742.1h0M184.7 721.1h0M86.2 757.2h0M123.8 744.0h0M118.6 760.5h0M102.3 760.0h0M132.1 742.8h0M151.4 772.5h0M107.0 757.2h0M136.7 780.5h0M94.8 772.3h0M157.7 759.0h0M119.7 755.7h0M68.5 754.0h0M60.6 763.1h0M82.2 741.5h0M190.5 722.7h0M137.8 747.8h0M153.4 768.8h0M154.8 759.0h0M120.0 759.0h0M85.3 742.1h0M72.0 752.2h0M76.4 748.1h0M154.5 782.2h0M115.3 770.7h0M137.4 768.8h0M180.5 724.7h0M170.0 771.0h0M120.1 759.1h0M185.6 739.2h0M91.4 764.0h0M80.8 764.9h0M183.4 722.1h0M134.6 742.0h0M157.3 747.9h0M158.7 754.7h0M184.5 719.9h0M86.9 767.3h0M125.8 775.8h0M143.6 747.9h0M176.3 734.9h0M178.8 734.4h0M88.7 768.3h0M194.1 725.3h0M75.9 743.5h0M184.4 723.2h0M183.6 734.4h0M168.3 769.3h0M172.3 756.5h0M87.9 742.4h0M58.4 730.1h0M191.7 738.1h0M161.1 757.5h0M140.1 774.8h0M140.4 781.5h0M186.3 737.1h0M184.9 736.5h0M191.2 734.0h0M84.5 754.5h0M75.9 759.3h0M169.6 754.0h0M188.0 724.8h0M137.7 786.0h0M155.8 743.4h0M165.1 773.9h0M129.6 776.4h0M88.8 772.2h0M75.8 759.1h0M145.0 758.1h0M122.4 771.7h0M80.4 738.5h0M113.3 772.7h0M59.9 765.9h0M197.1 725.5h0M70.9 743.6h0M110.4 765.4h0M69.6 759.6h0M133.1 786.8h0M165.6 757.6h0M140.4 772.2h0M114.2 780.2h0M63.4 758.5h0M162.7 781.0h0M102.5 763.5h0M169.8 772.1h0M193.7 731.6h0M118.4 773.1h0M97.6 764.8h0M161.5 745.5h0M87.1 761.5h0M65.8 761.8h0M86.8 758.2h0M147.0 778.3h0M157.9 750.1h0M145.2 774.2h0M135.9 747.8h0M91.2 767.8h0M134.1 773.0h0M158.3 755.7h0M88.6 747.0h0M117.1 777.8h0M193.2 736.1h0M57.6 731.6h0M192.2 719.8h0M132.6 741.9h0M93.8 758.9h0M56.4 734.2h0M162.3 748.7h0M157.9 762.1h0M151.3 754.7h0M161.3 760.3h0M108.3 763.0h0M89.0 757.2h0M170.6 781.1h0M126.9 784.1h0M77.7 742.1h0M121.8 781.8h0M195.4 731.3h0M55.0 761.4h0M116.9 778.7h0M159.2 752.6h0M98.1 763.3h0M165.2 745.9h0M158.1 775.7h0M144.9 753.9h0M127.3 777.7h0M177.8 729.8h0M146.6 776.7h0M164.1 744.5h0M147.1 779.3h0M99.4 772.5h0M80.5 752.5h0M156.8 759.8h0M130.0 766.7h0M101.9 772.5h0M71.9 742.6h0M68.1 763.4h0M179.9 731.8h0M154.4 759.5h0M112.1 763.3h0M157.2 780.7h0M81.5 755.0h0M168.6 748.4h0M134.2 762.8h0M100.7 762.2h0M64.8 759.2h0M91.3 765.8h0M135.4 762.3h0M141.9 780.6h0M165.2 759.7h0M162.0 744.2h0M155.6 768.0h0M102.5 768.0h0M125.2 753.2h0M187.9 740.4h0M80.5 761.9h0M71.3 752.2h0M91.9 735.8h0M182.2 737.1h0M143.2 778.7h0M182.6 739.5h0M67.3 751.7h0M115.7 763.4h0M61.7 731.4h0M172.5 761.3h0M134.7 780.5h0M86.7 764.5h0M154.0 755.9h0M157.2 780.9h0M154.5 764.3h0M127.6 768.7h0M110.6 764.5h0M156.9 783.3h0M86.2 748.1h0M164.0 749.3h0M124.0 744.4h0M73.7 753.7h0M172.0 754.9h0M111.4 773.6h0M73.8 748.3h0M191.5 737.1h0M189.9 723.3h0M107.6 756.7h0M53.0 755.1h0M109.8 769.6h0M101.8 764.4h0M134.8 768.5h0M109.1 770.9h0M139.4 748.4h0M136.3 741.0h0M188.9 739.0h0M67.1 760.4h0M129.4 785.7h0M73.4 757.2h0M178.6 734.2h0M107.6 775.5h0M82.9 760.7h0M175.1 723.4h0M155.4 757.2h0M172.7 729.0h0M178.7 729.3h0M70.4 752.7h0M165.4 774.0h0M192.5 723.1h0M59.3 733.8h0M75.7 749.3h0M113.8 768.2h0M131.6 757.7h0M71.4 762.4h0M82.5 748.5h0M115.9 766.6h0M105.3 766.0h0M197.7 727.0h0M70.0 762.3h0M172.7 764.4h0M153.8 778.7h0M62.5 755.9h0M144.7 766.1h0M131.3 754.0h0M123.2 761.2h0M70.7 761.9h0M146.9 750.3h0M107.7 758.4h0M112.8 766.6h0M192.3 737.0h0M171.8 750.4h0M165.6 769.8h0M156.8 753.1h0M57.1 734.3h0M89.0 764.8h0M57.3 744.4h0M138.3 781.6h0" stroke="#21918c" stroke-width="1.76" stroke-linecap="round" fill="none"/>
<path d="M93.5 754.1h0M132.7 741.0h0M164.2 766.4h0M93.6 771.8h0M131.5 772.8h0M184.1 723.3h0M131.6 786.7h0M159.1 743.3h0M114.1 766.8h0M146.8 746.9h0M194.4 735.3h0M119.8 745.9h0M140.8 768.8h0M89.7 737.6h0M129.3 769.9h0M68.3 756.4h0M185.6 736.1h0M193.0 718.5h0M87.3 769.1h0M141.6 768.0h0M166.1 750.6h0M160.8 757.4h0M90.3 747.0h0M121.2 752.8h0M107.0 757.2h0M145.0 777.6h0M151.5 756.2h0M160.3 760.1h0M126.3 760.5h0M123.8 776.0h0M117.6 777.1h0M188.3 725.4h0M181.1 725.5h0M180.6 737.4h0M129.7 782.8h0M91.4 734.3h0M134.7 784.1h0M88.3 755.0h0M137.9 764.6h0M113.8 767.2h0M111.4 773.0h0M156.2 765.4h0M191.3 737.7h0M183.9 721.2h0M165.6 762.0h0M197.8 727.1h0M85.0 762.4h0M198.8 733.5h0M90.3 755.4h0M138.6 781.4h0M160.6 774.7h0M132.6 738.5h0M102.8 768.6h0M191.4 736.7h0M61.2 729.1h0M191.9 721.2h0M155.5 758.5h0M95.8 731.3h0M178.1 738.0h0M189.4 737.5h0M61.1 730.1h0M196.3 732.2h0M55.8 732.0h0M62.9 765.7h0M61.8 760.1h0M137.7 745.7h0M61.4 729.3h0M155.7 769.4h0M108.3 776.4h0M155.3 768.6h0M139.3 763.3h0M60.0 731.3h0M131.0 783.8h0M180.2 738.9h0M146.3 783.0h0M111.4 770.7h0M120.7 746.4h0M196.3 726.9h0M162.8 771.4h0M163.9 784.1h0M170.8 739.4h0M97.3 767.1h0M85.6 756.5h0M124.1 781.2h0M113.6 762.5h0M54.9 758.3h0M144.6 784.3h0M90.6 769.1h0M145.9 748.6h0M128.8 741.2h0M164.8 783.2h0M139.0 775.3h0M154.4 775.7h0M169.0 760.6h0M164.4 758.3h0M140.7 749.3h0M85.2 761.7h0M118.1 755.1h0M176.6 723.0h0M115.5 764.0h0M149.5 760.2h0M177.9 734.3h0M177.1 730.9h0M193.0 725.5h0M72.0 758.5h0M175.4 733.4h0M83.6 763.9h0M147.1 751.3h0M56.5 732.3h0M190.4 725.1h0M108.5 763.0h0M101.5 761.1h0M186.1 730.8h0M179.8 721.7h0M178.4 731.4h0M71.4 767.0h0M139.5 771.1h0M126.0 755.2h0M147.4 776.3h0M180.8 735.3h0M137.6 745.0h0M158.1 786.3h0M134.4 742.6h0M79.6 756.4h0M120.9 765.9h0M105.3 760.7h0M195.0 719.5h0M96.5 767.9h0M128.2 765.9h0M97.1 762.2h0M165.2 751.2h0M70.0 767.4h0M95.1 731.4h0M130.9 765.9h0M128.3 765.5h0M184.1 719.8h0M165.3 758.9h0M148.1 783.2h0M138.5 785.9h0M180.9 718.1h0M118.0 775.6h0M72.9 752.6h0M139.5 763.4h0M71.9 735.0h0M55.8 732.9h0M155.2 761.1h0M168.3 769.3h0M165.1 754.1h0M122.9 744.6h0M115.0 772.3h0M107.2 767.7h0M127.1 765.8h0M120.7 762.4h0M143.9 756.8h0M127.8 769.3h0M127.1 769.1h0M113.8 771.6h0M170.2 762.3h0M186.3 721.5h0M162.8 776.0h0M192.6 736.7h0M177.2 722.9h0M102.2 756.6h0M130.3 782.0h0M125.5 766.9h0M131.1 743.6h0M93.3 733.9h0M120.7 745.0h0M180.2 732.5h0M146.2 782.2h0M123.9 748.5h0M125.2 762.2h0M84.8 764.8h0M128.3 761.7h0M186.3 720.9h0M77.8 750.2h0M91.2 764.0h0M193.3 727.5h0M139.2 755.1h0M126.4 750.7h0M91.7 761.8h0M140.8 746.9h0M172.9 779.1h0M86.8 755.2h0M80.1 759.3h0M140.1 773.4h0M69.5 772.8h0M116.0 765.4h0M192.2 733.6h0M165.8 734.0h0M61.5 731.5h0M166.2 781.5h0M147.9 770.8h0M113.8 777.4h0M178.2 728.5h0M95.2 771.2h0M171.7 765.5h0M57.0 734.8h0M165.5 770.7h0M71.4 763.5h0M172.4 774.5h0M121.3 772.4h0M155.4 743.2h0M164.9 772.8h0M178.5 721.7h0M197.0 729.1h0M131.0 767.3h0M107.4 768.9h0M190.9 739.5h0M194.8 729.3h0M163.9 769.1h0M115.1 766.5h0M170.7 763.0h0M62.0 762.3h0M114.6 768.9h0M164.9 761.8h0M120.6 768.9h0M122.2 779.6h0M127.5 741.4h0M91.4 761.9h0M113.2 766.6h0M127.3 757.4h0M140.0 767.9h0M193.1 729.3h0M69.5 750.4h0M157.2 768.8h0M147.1 769.9h0M159.4 757.6h0M163.8 775.7h0M166.6 750.0h0M131.3 764.4h0M184.6 717.0h0M94.4 730.0h0M174.3 727.5h0M156.9 781.3h0M189.0 719.2h0M136.3 785.5h0M163.8 744.6h0M123.1 781.9h0M138.6 745.3h0M150.9 752.2h0M170.8 781.8h0M128.4 770.1h0M125.9 782.7h0M67.5 751.1h0M162.6 749.9h0M119.4 757.2h0M135.6 743.8h0M121.3 781.5h0M146.9 774.5h0M130.2 740.8h0M92.3 735.9h0M158.4 761.4h0M144.2 761.5h0M196.0 737.1h0M85.3 763.1h0M117.7 764.3h0M62.4 737.6h0M141.7 776.3h0M133.9 742.8h0M172.7 768.8h0M146.6 769.7h0M187.9 724.2h0M138.8 764.8h0M113.0 770.0h0M169.3 760.7h0M94.9 761.8h0M95.1 774.0h0M77.2 762.1h0M168.8 742.4h0M164.4 753.0h0M156.5 769.4h0M149.4 767.0h0M148.3 760.3h0M171.4 745.6h0M94.2 766.0h0M75.1 753.0h0M118.1 759.1h0M176.2 733.1h0M144.9 776.2h0M104.2 764.9h0M106.7 757.4h0M62.5 728.7h0M146.6 778.9h0M177.4 726.0h0M126.2 782.2h0M167.4 774.6h0M87.8 740.4h0M170.6 751.1h0M145.3 759.8h0M108.8 772.6h0M162.0 781.5h0M157.3 766.6h0M114.3 767.6h0M78.4 753.6h0M125.3 753.4h0M185.8 731.4h0M68.2 739.0h0M73.6 741.4h0M169.5 754.7h0M65.1 756.8h0M170.9 754.5h0M195.0 722.3h0M148.7 753.0h0M184.5 716.4h0M160.0 760.3h0M111.8 766.5h0M95.9 774.0h0M138.7 773.2h0M119.8 749.1h0M130.4 775.7h0M146.8 764.1h0M179.4 728.9h0M180.7 733.9h0M161.1 748.1h0M69.4 739.9h0M153.3 755.1h0M172.2 738.9h0M172.6 736.5h0M169.1 756.6h0M98.9 763.6h0M135.1 743.4h0M166.8 773.1h0M139.1 757.0h0M194.1 741.4h0M125.7 784.7h0M80.2 751.2h0M178.5 737.3h0M127.0 761.7h0M118.6 757.2h0M122.7 748.8h0M159.1 755.9h0M173.5 776.3h0M123.7 763.9h0M119.5 746.7h0M93.4 728.7h0M167.3 746.0h0M188.4 721.1h0M183.7 719.2h0M62.7 768.6h0M155.4 783.8h0M106.4 771.7h0M152.4 751.2h0M156.9 747.8h0M97.5 772.0h0M117.3 766.2h0M121.6 780.4h0M114.9 766.5h0M129.2 740.3h0M99.1 756.7h0M180.6 731.3h0M125.7 754.6h0M172.1 737.0h0M130.0 764.8h0M96.5 770.4h0M132.8 756.5h0M192.2 724.3h0M142.8 775.9h0M89.7 763.3h0M123.2 762.5h0M177.2 737.5h0M143.5 761.5h0M138.8 747.7h0M136.4 777.9h0M163.2 748.2h0M144.4 761.3h0M126.7 775.1h0M74.8 766.1h0M109.4 775.5h0M91.0 738.9h0M92.3 765.4h0M168.8 757.0h0M170.0 759.9h0M79.3 757.0h0M164.0 750.0h0M120.7 762.1h0M115.3 767.1h0M162.6 752.1h0M164.4 763.7h0M122.1 767.6h0M62.2 757.2h0M77.3 759.3h0M179.8 730.4h0M80.2 745.9h0M103.5 755.5h0M62.1 740.1h0M141.6 770.3h0M157.7 753.2h0M145.4 752.0h0M176.4 734.7h0M140.1 742.3h0M155.5 768.5h0M148.3 751.8h0M77.7 738.5h0M157.3 750.0h0M139.9 771.4h0M116.2 771.1h0M164.5 760.6h0M64.2 752.2h0M127.9 772.6h0M131.4 787.4h0M76.1 745.1h0M165.3 760.8h0M139.3 787.7h0M109.5 757.3h0M123.7 766.2h0M180.3 721.6h0M81.5 747.1h0M138.3 738.0h0M160.6 758.4h0M94.2 758.1h0M123.0 761.1h0M174.4 774.4h0M195.0 728.7h0M121.3 764.7h0M117.3 765.7h0M160.4 755.8h0M137.3 741.8h0M89.9 755.7h0M141.0 778.8h0M185.1 720.3h0" stroke="#22a884" stroke-width="1.76" stroke-linecap="round" fill="none"/>
<path d="M135.4 747.1h0M98.8 763.9h0M189.8 733.8h0M132.7 763.7h0M125.3 763.1h0M145.6 781.5h0M117.3 777.1h0M155.5 781.3h0M164.4 779.6h0M172.9 747.9h0M191.5 724.7h0M166.0 783.3h0M105.1 760.2h0M158.5 752.8h0M143.7 774.1h0M140.8 781.7h0M144.8 769.1h0M160.0 766.7h0M108.8 762.9h0M95.6 753.2h0M102.9 761.8h0M193.7 718.6h0M146.8 766.6h0M139.4 764.3h0M137.4 756.1h0M67.0 765.7h0M181.1 720.0h0M119.4 756.1h0M158.7 774.8h0M153.6 761.0h0M118.7 765.6h0M117.2 773.1h0M169.0 747.0h0M172.5 754.6h0M185.2 736.1h0M94.6 761.7h0M90.3 764.3h0M188.6 738.0h0M189.4 738.8h0M131.5 773.3h0M110.4 763.2h0M171.3 772.7h0M177.9 734.1h0M129.2 742.6h0M161.3 744.8h0M140.3 768.6h0M159.7 779.2h0M58.5 762.5h0M123.7 766.6h0M53.2 761.7h0M87.0 744.1h0M181.1 735.6h0M126.7 767.4h0M156.9 778.7h0M142.8 774.3h0M180.9 736.8h0M55.6 728.0h0M125.1 776.5h0M171.7 729.3h0M149.3 778.7h0M158.6 786.6h0M166.2 782.6h0M69.4 749.1h0M120.4 760.3h0M134.4 788.7h0M131.4 774.2h0M193.1 725.0h0M164.9 742.1h0M117.5 769.9h0M138.4 769.0h0M128.0 764.1h0M174.3 776.7h0M73.9 761.9h0M130.2 756.8h0M179.6 731.0h0M161.0 772.1h0M113.0 769.2h0M140.8 746.9h0M122.7 779.1h0M177.5 730.6h0M130.2 777.8h0M105.7 768.6h0M101.0 756.4h0M169.8 760.3h0M186.8 723.5h0M94.1 759.1h0M167.1 779.0h0M167.0 767.9h0M156.9 755.6h0M184.5 737.1h0M152.2 769.1h0M193.5 724.8h0M79.6 752.8h0M149.3 778.1h0M159.9 746.8h0M137.1 762.8h0M141.6 770.8h0M135.2 740.3h0M132.4 778.9h0M174.0 732.8h0M173.1 755.6h0M60.9 771.0h0M98.5 768.2h0M102.0 765.8h0M130.7 781.0h0M114.2 762.1h0M142.2 750.4h0M119.3 747.4h0M141.1 772.2h0M92.9 753.1h0M128.5 762.3h0M157.8 757.5h0M150.8 749.2h0M122.1 755.0h0M179.2 728.8h0M116.2 777.6h0M89.5 753.6h0M113.8 763.7h0M115.1 773.9h0M109.7 776.7h0M67.7 761.8h0M193.4 732.4h0M134.2 779.5h0M162.5 764.4h0M61.9 736.0h0M154.6 771.0h0M90.6 731.4h0M151.2 781.7h0M173.9 770.3h0M177.0 722.6h0M191.8 739.1h0M125.6 776.5h0M183.4 718.9h0M102.2 767.8h0M177.0 737.3h0M111.4 772.3h0M142.9 788.3h0M79.0 744.9h0M116.0 760.8h0M192.1 727.3h0M200.5 733.3h0M115.6 761.4h0M115.7 775.9h0M187.7 718.2h0M125.6 758.3h0M181.1 724.9h0M70.5 759.9h0M167.0 773.1h0M160.0 758.6h0M141.1 762.3h0M131.3 768.6h0M91.8 766.4h0M147.5 762.5h0M172.6 735.0h0M165.1 776.2h0M119.7 760.6h0M150.1 747.6h0M89.1 759.8h0M130.2 763.1h0M161.0 779.0h0M169.5 783.1h0M147.9 753.1h0M131.4 776.7h0M178.9 724.3h0M173.1 756.3h0M144.3 785.5h0M140.8 750.1h0M183.5 726.3h0M168.6 772.4h0M88.5 754.9h0M131.2 770.6h0M125.5 742.0h0M155.7 768.8h0M158.0 763.6h0M87.8 752.5h0M68.1 755.5h0M148.3 760.1h0M127.8 776.9h0M132.2 766.1h0M69.5 747.9h0M60.9 733.0h0M144.6 751.3h0M156.6 761.4h0M178.2 733.6h0M69.2 767.6h0M113.3 772.2h0M188.0 724.6h0M130.3 770.8h0M94.7 730.6h0M169.5 752.5h0M131.2 755.3h0M162.6 747.0h0M77.7 742.5h0M165.1 750.4h0M154.9 755.1h0M88.7 764.6h0M61.9 755.7h0M117.5 779.5h0M57.5 765.8h0M142.6 754.7h0M143.9 761.9h0M121.6 747.3h0M108.1 768.7h0M191.0 722.6h0M99.9 771.9h0M153.1 779.8h0M147.8 745.3h0M160.1 781.7h0M171.4 771.7h0M169.0 778.0h0M70.2 758.4h0M101.9 773.2h0M175.5 727.4h0M112.7 766.6h0M157.6 749.3h0M182.3 718.4h0M125.7 741.7h0M177.3 734.0h0M174.8 729.9h0M152.1 755.0h0M130.6 784.9h0M157.4 771.4h0M166.5 746.1h0M52.6 729.0h0M170.1 740.2h0M152.2 749.0h0M73.3 763.3h0M116.3 770.2h0M173.3 765.3h0M133.6 787.2h0M172.7 767.7h0M172.2 779.2h0M156.9 766.6h0M180.6 737.1h0M161.1 762.8h0M91.0 757.8h0M71.6 759.0h0M172.2 758.7h0M140.7 775.0h0M109.8 765.3h0M185.1 722.2h0M59.5 733.6h0M63.6 744.7h0M163.8 746.5h0M124.8 766.7h0M110.3 769.1h0M171.9 738.8h0" stroke="#44bf70" stroke-width="1.76" stroke-linecap="round" fill="none"/>
<path d="M98.8 770.0h0M153.9 751.7h0M63.2 734.8h0M116.2 758.4h0M113.6 773.4h0M167.9 741.6h0M138.7 750.1h0M47.7 751.1h0M120.2 771.8h0M88.0 760.5h0M192.0 721.4h0M173.1 729.8h0M125.3 765.6h0M130.5 739.0h0M49.4 751.2h0M49.1 752.4h0M154.5 749.1h0M118.0 778.5h0M176.1 725.1h0M132.0 779.5h0M168.1 760.8h0M130.9 740.1h0M118.2 770.7h0M186.7 741.5h0M178.0 726.4h0M81.5 742.3h0M159.1 749.1h0M158.0 767.0h0M90.1 748.7h0M62.9 757.7h0M134.1 777.3h0M147.3 761.9h0M48.1 750.7h0M188.5 737.7h0M176.1 742.5h0M89.2 755.8h0M49.2 751.7h0M164.4 752.9h0M179.3 741.2h0M160.0 748.8h0M49.3 751.9h0M45.4 751.0h0M126.8 783.7h0M120.6 766.6h0M138.7 750.5h0M137.7 755.7h0M144.4 777.1h0M115.3 779.6h0M121.1 782.9h0M46.9 750.8h0M121.6 768.2h0M66.2 759.7h0M138.1 777.7h0M160.9 769.4h0M194.1 731.4h0M111.3 775.2h0M188.2 740.4h0M133.4 785.9h0M162.3 758.6h0M99.7 760.0h0M141.7 786.8h0M131.9 739.5h0M59.7 731.7h0M70.8 742.0h0M190.0 740.6h0M46.3 750.4h0M187.7 719.4h0M150.3 752.3h0M189.6 734.1h0M149.1 775.5h0M48.2 751.8h0M136.4 753.2h0M116.6 781.4h0M122.6 746.2h0M147.5 757.0h0M181.4 722.0h0M194.3 739.8h0M46.9 750.8h0M71.3 762.2h0M162.7 758.5h0M118.3 761.8h0M85.8 770.0h0M155.6 776.3h0M48.7 753.9h0M49.6 751.8h0M83.6 746.2h0M133.0 780.1h0M128.8 764.2h0M88.7 762.4h0M179.8 735.5h0M113.3 762.5h0M100.3 764.3h0M150.5 771.8h0M185.6 728.8h0M123.8 783.6h0M170.2 756.0h0M92.1 771.6h0M94.2 753.8h0M178.3 726.8h0M197.3 724.2h0M123.7 750.3h0M151.7 768.4h0M149.1 750.6h0M112.1 763.8h0M46.7 750.1h0M168.3 767.0h0M86.5 761.1h0M48.5 751.7h0M112.7 767.0h0M158.8 757.0h0M181.3 737.1h0M167.9 754.7h0M172.9 772.5h0M155.1 750.5h0M160.7 760.9h0M144.3 765.6h0M185.0 739.2h0M48.3 752.8h0" stroke="#7ad151" stroke-width="1.76" stroke-linecap="round" fill="none"/>
<path d="M101.4 757.5h0M120.3 777.0h0M130.3 754.2h0M128.0 740.9h0M134.9 739.3h0M176.5 730.4h0M180.0 729.5h0M144.6 757.1h0M145.4 775.7h0M192.9 735.5h0M127.5 775.0h0M76.7 745.0h0M127.3 785.5h0M166.5 780.2h0M168.3 743.7h0M105.4 761.9h0M114.0 767.5h0M187.2 737.3h0M112.4 779.5h0M114.4 770.4h0M164.9 752.8h0M110.9 766.0h0M158.3 770.1h0M62.1 731.6h0M101.8 776.7h0M131.0 773.1h0M125.2 764.9h0M171.2 761.8h0" stroke="#bddf26" stroke-width="1.76" stroke-linecap="round" fill="none"/>
<path d="M176.9 743.1h0M186.4 738.0h0" stroke="#fde725" stroke-width="1.76" stroke-linecap="round" fill="none"/>
<line x1="36.5" y1="703.8" x2="36.5" y2="799.5" stroke="#555" stroke-width="0.9" />
<line x1="36.8" y1="799.5" x2="207.4" y2="799.5" stroke="#555" stroke-width="0.9" />
<text x="38.4" y="702.4" font-size="11.4" text-anchor="start" font-style="italic" fill="#111" >Ldb1</text>
<defs><linearGradient id="vg214734" x1="0" y1="0" x2="0" y2="1"><stop offset="0.0" stop-color="#fde725"/><stop offset="0.1" stop-color="#bddf26"/><stop offset="0.2" stop-color="#7ad151"/><stop offset="0.3" stop-color="#44bf70"/><stop offset="0.4" stop-color="#22a884"/><stop offset="0.5" stop-color="#21918c"/><stop offset="0.6" stop-color="#2a788e"/><stop offset="0.7" stop-color="#355f8d"/><stop offset="0.8" stop-color="#414487"/><stop offset="0.9" stop-color="#482475"/><stop offset="1.0" stop-color="#440154"/></linearGradient></defs>
<rect x="214.4" y="734.6" width="4.6" height="35.8" fill="url(#vg214734)" stroke="none" stroke-width="1" />
<text x="220.6" y="745.56" font-size="6" text-anchor="start" fill="#222" >2</text>
<text x="220.6" y="758.96" font-size="6" text-anchor="start" fill="#222" >1</text>
<text x="220.6" y="772.06" font-size="6" text-anchor="start" fill="#222" >0</text>
<rect x="254.3" y="704.4" width="167.7" height="94.9" fill="#e8e6e4" stroke="none" stroke-width="1" />
<path d="M310.1 754.3h0M348.6 741.3h0M384.0 745.5h0M312.2 768.9h0M371.3 779.5h0M379.5 766.5h0M344.2 755.5h0M376.6 770.2h0M351.2 747.3h0M347.4 772.8h0M372.7 777.1h0M350.4 782.1h0M347.5 786.6h0M374.5 743.6h0M330.3 766.9h0M362.4 747.1h0M409.2 735.6h0M282.8 755.1h0M373.2 755.5h0M359.6 775.7h0M335.8 746.2h0M348.6 763.8h0M299.3 755.8h0M285.3 751.1h0M356.6 768.9h0M398.0 729.9h0M306.3 737.9h0M341.3 763.2h0M345.2 770.0h0M313.2 756.7h0M361.2 781.4h0M407.8 719.0h0M303.9 769.1h0M333.5 777.1h0M360.7 776.2h0M347.5 758.5h0M381.4 750.8h0M383.0 777.9h0M348.0 746.1h0M370.9 781.2h0M379.7 779.5h0M307.1 764.8h0M406.4 725.1h0M306.9 747.3h0M337.3 753.0h0M296.1 752.5h0M270.6 734.2h0M323.3 757.3h0M278.4 734.7h0M360.6 777.6h0M359.6 773.0h0M367.1 756.3h0M378.3 763.6h0M383.1 741.9h0M381.3 783.2h0M321.5 760.3h0M375.7 760.2h0M373.9 752.9h0M342.3 760.6h0M359.4 774.1h0M339.8 776.0h0M333.7 777.1h0M307.0 769.2h0M403.2 725.8h0M392.2 726.0h0M356.5 781.6h0M395.6 737.7h0M345.6 782.7h0M360.4 769.2h0M375.4 766.7h0M409.0 724.8h0M307.9 734.6h0M350.5 784.0h0M320.5 765.2h0M274.7 765.7h0M325.1 763.0h0M353.6 764.7h0M412.7 732.3h0M330.0 767.3h0M361.6 771.7h0M327.7 773.0h0M312.1 753.4h0M319.3 761.9h0M308.7 735.6h0M408.5 719.0h0M371.7 765.5h0M354.5 750.3h0M406.2 738.0h0M296.5 758.0h0M308.8 773.6h0M362.5 766.6h0M299.7 757.8h0M380.9 762.1h0M387.8 782.2h0M397.4 738.0h0M412.6 727.5h0M301.6 762.5h0M413.5 733.9h0M381.2 746.3h0M306.9 755.6h0M345.1 774.7h0M354.3 781.4h0M292.7 751.5h0M274.8 734.1h0M336.8 778.7h0M376.0 774.7h0M348.5 738.8h0M276.8 761.0h0M355.2 764.4h0M319.2 768.6h0M353.2 756.3h0M358.7 766.9h0M364.8 764.7h0M349.0 743.0h0M286.5 747.7h0M278.3 729.5h0M406.8 721.7h0M351.1 782.9h0M328.1 767.6h0M396.2 720.5h0M312.3 731.7h0M393.2 738.4h0M406.9 721.9h0M335.5 756.3h0M404.4 737.8h0M274.3 734.9h0M374.1 774.8h0M278.2 730.5h0M411.1 732.5h0M273.0 732.4h0M369.1 761.1h0M334.8 765.7h0M384.9 740.2h0M333.3 773.2h0M280.0 765.8h0M384.2 747.2h0M353.5 746.0h0M278.5 729.7h0M371.2 769.5h0M291.7 762.1h0M266.7 751.4h0M389.9 735.2h0M324.5 776.4h0M387.7 754.7h0M370.8 768.7h0M400.2 736.4h0M346.2 778.4h0M275.0 731.8h0M355.1 763.4h0M277.1 731.6h0M311.1 761.8h0M395.3 739.2h0M361.9 783.0h0M338.5 780.2h0M306.9 764.4h0M266.4 752.6h0M327.6 770.7h0M336.8 746.6h0M370.0 749.3h0M411.1 727.3h0M285.7 755.8h0M293.3 749.8h0M317.1 760.6h0M403.5 738.3h0M378.2 771.4h0M379.2 784.1h0M386.0 739.7h0M313.8 767.2h0M404.3 739.1h0M302.3 756.7h0M340.1 781.1h0M306.5 753.8h0M347.4 773.4h0M334.6 749.4h0M326.7 763.3h0M378.0 742.6h0M272.1 758.4h0M360.2 784.3h0M307.2 769.1h0M344.7 741.5h0M399.1 721.7h0M275.2 758.3h0M276.8 731.9h0M383.4 760.9h0M380.1 783.1h0M353.5 747.4h0M386.5 772.8h0M393.0 734.5h0M285.3 758.4h0M354.8 775.3h0M369.9 775.7h0M384.2 760.7h0M345.1 742.9h0M284.2 758.6h0M367.5 784.0h0M363.0 780.0h0M376.7 745.1h0M379.7 758.5h0M356.4 749.5h0M302.0 756.1h0M301.9 761.8h0M341.6 761.9h0M302.8 746.7h0M334.2 755.3h0M356.1 768.6h0M374.2 761.3h0M375.1 779.2h0M331.7 764.1h0M365.0 760.3h0M393.0 734.6h0M339.7 766.7h0M407.8 725.9h0M356.7 787.1h0M288.9 758.7h0M382.8 783.7h0M399.7 736.1h0M390.5 733.7h0M300.3 764.0h0M299.8 742.0h0M352.1 754.0h0M362.7 751.5h0M273.6 732.6h0M354.9 747.5h0M367.9 754.3h0M374.5 750.3h0M324.8 763.1h0M317.9 761.2h0M401.1 731.1h0M394.8 722.1h0M275.2 759.2h0M393.5 731.8h0M396.1 735.9h0M355.2 771.2h0M342.7 767.5h0M372.4 778.7h0M358.5 774.3h0M296.4 755.5h0M342.0 755.4h0M351.9 751.7h0M395.9 737.1h0M288.6 761.2h0M308.9 735.1h0M355.2 748.2h0M363.0 776.3h0M395.9 735.6h0M288.8 760.8h0M353.4 745.3h0M396.2 724.8h0M272.8 728.4h0M341.1 776.5h0M386.9 729.7h0M305.2 742.4h0M373.5 786.2h0M399.7 721.6h0M302.9 757.3h0M350.3 742.9h0M381.5 782.6h0M339.9 744.3h0M296.4 756.5h0M337.0 766.0h0M286.3 749.3h0M321.7 760.8h0M409.2 732.2h0M334.7 760.6h0M336.5 760.4h0M350.2 788.6h0M347.2 774.2h0M312.9 767.9h0M282.7 750.6h0M344.2 766.0h0M318.6 760.2h0M313.6 762.3h0M380.5 751.4h0M287.0 767.5h0M408.0 725.4h0M311.6 731.7h0M299.6 761.2h0M366.9 772.5h0M346.8 766.0h0M323.3 757.4h0M352.5 780.5h0M344.3 765.6h0M311.3 772.4h0M380.2 742.3h0M380.7 759.0h0M292.6 755.1h0M290.1 745.0h0M333.7 769.9h0M373.1 759.1h0M335.8 755.9h0M354.1 769.1h0M285.5 754.2h0M291.1 750.6h0M363.7 783.1h0M389.5 776.7h0M354.3 785.8h0M395.9 718.6h0M334.1 775.6h0M277.7 763.2h0M288.9 758.0h0M290.8 762.0h0M271.8 757.8h0M405.4 723.1h0M353.5 748.0h0M355.2 763.5h0M368.9 768.9h0M370.3 759.1h0M288.8 735.4h0M290.8 754.7h0M273.0 733.3h0M336.0 759.1h0M370.7 761.2h0M383.5 769.4h0M302.0 742.4h0M293.3 748.3h0M331.5 770.8h0M346.1 757.0h0M266.4 751.9h0M284.3 757.4h0M353.2 768.9h0M395.6 725.1h0M338.9 744.8h0M385.3 771.1h0M329.2 769.2h0M336.1 759.3h0M274.8 730.2h0M400.6 739.5h0M331.2 772.3h0M323.5 767.7h0M343.0 765.8h0M297.6 759.3h0M336.8 762.5h0M359.6 757.0h0M343.7 769.3h0M343.1 769.2h0M308.0 764.1h0M330.0 771.6h0M266.6 752.1h0M356.6 747.1h0M385.4 762.5h0M401.3 722.0h0M398.4 722.6h0M372.8 748.2h0M407.4 737.0h0M392.3 723.4h0M318.5 756.7h0M374.1 754.8h0M346.2 781.9h0M347.0 743.8h0M309.9 734.2h0M399.5 720.4h0M303.6 767.4h0M336.8 745.3h0M283.5 758.4h0M395.3 732.9h0M296.5 751.5h0M361.9 782.2h0M339.9 748.7h0M341.2 762.3h0M341.8 775.8h0M338.7 779.1h0M294.6 750.4h0M359.3 748.1h0M307.8 764.1h0M408.1 727.9h0M346.1 777.8h0M342.7 783.6h0M322.1 768.7h0M355.0 755.3h0M342.4 750.9h0M308.3 761.9h0M356.5 747.1h0M393.9 734.8h0M296.8 759.5h0M355.9 773.4h0M286.5 772.8h0M332.2 765.5h0M401.8 723.9h0M310.6 759.2h0M407.0 734.0h0M381.1 734.3h0M408.9 725.7h0M278.6 731.9h0M363.5 770.8h0M398.6 734.8h0M330.0 777.4h0M382.4 779.0h0M393.2 728.9h0M383.6 769.3h0M311.7 771.2h0M382.3 767.9h0M386.9 765.6h0M372.3 755.8h0M274.1 735.2h0M399.5 737.4h0M380.8 770.7h0M367.8 769.2h0M387.5 756.6h0M408.4 725.3h0M275.6 730.5h0M387.6 774.5h0M337.3 772.4h0M406.5 738.4h0M370.9 743.4h0M380.2 772.8h0M364.8 778.0h0M375.3 747.0h0M376.5 757.6h0M352.9 762.9h0M357.3 770.8h0M351.0 740.6h0M355.8 774.8h0M348.3 778.9h0M411.8 729.5h0M389.2 733.1h0M356.2 781.5h0M401.3 737.5h0M346.9 767.3h0M399.9 736.8h0M405.7 739.8h0M409.6 729.7h0M388.3 755.7h0M406.1 734.4h0M337.1 782.8h0M379.3 769.2h0M292.8 759.5h0M331.3 766.6h0M384.9 754.1h0M386.0 763.1h0M280.2 729.9h0M315.0 768.3h0M403.0 725.2h0M330.8 769.0h0M380.3 761.9h0M318.4 765.8h0M336.6 768.9h0M346.6 780.9h0M353.4 786.0h0M338.2 779.6h0M371.3 743.7h0M330.4 762.2h0M264.2 751.0h0M380.4 773.9h0M343.5 741.7h0M308.0 762.1h0M357.9 750.6h0M345.5 776.4h0M329.4 766.7h0M335.4 747.6h0M343.3 757.6h0M356.9 772.2h0M355.8 768.0h0M407.9 729.7h0M337.6 768.3h0M309.5 753.3h0M344.4 762.4h0M305.4 772.2h0M286.5 750.6h0M373.3 757.6h0M366.4 749.4h0M292.6 759.3h0M338.2 755.1h0M394.3 729.2h0M372.7 768.8h0M362.7 770.0h0M360.7 758.3h0M374.8 757.8h0M338.5 771.7h0M379.2 775.7h0M376.3 769.5h0M381.9 750.2h0M332.3 777.6h0M297.1 738.8h0M277.0 766.0h0M347.2 764.5h0M310.9 730.3h0M389.4 727.9h0M372.4 781.3h0M411.9 725.9h0M287.8 743.8h0M306.1 753.8h0M403.9 719.7h0M352.1 785.4h0M286.6 759.7h0M348.9 786.7h0M339.1 781.8h0M380.9 757.8h0M354.4 745.5h0M366.5 752.4h0M386.1 781.7h0M330.0 763.8h0M331.3 773.9h0M356.2 772.2h0M326.0 776.7h0M344.3 770.1h0M330.4 780.1h0M280.4 758.6h0M378.0 781.0h0M274.5 756.4h0M318.9 763.6h0M408.2 732.8h0M350.0 779.5h0M377.9 764.5h0M341.9 782.7h0M385.0 772.1h0M284.4 751.3h0M408.5 732.0h0M377.9 750.1h0M295.3 743.5h0M314.0 764.9h0M370.1 771.1h0M376.9 745.8h0M307.1 731.8h0M362.5 774.5h0M303.8 761.6h0M366.7 781.7h0M282.8 761.9h0M316.1 760.1h0M406.7 739.4h0M346.1 741.1h0M308.8 736.2h0M373.8 761.5h0M375.5 777.1h0M359.9 761.7h0M362.6 778.3h0M410.8 737.5h0M373.4 750.3h0M302.0 763.2h0M360.9 774.2h0M333.8 764.4h0M341.6 776.5h0M351.8 748.1h0M349.9 773.0h0M373.8 755.9h0M357.4 776.3h0M288.9 763.6h0M333.2 777.8h0M408.1 736.4h0M349.7 743.1h0M274.7 731.9h0M407.1 720.3h0M398.4 719.3h0M318.6 767.9h0M387.9 768.9h0M348.4 742.2h0M392.1 737.6h0M401.1 720.5h0M273.5 734.6h0M347.7 739.8h0M377.7 748.9h0M373.4 762.2h0M362.2 769.7h0M358.6 788.2h0M366.9 754.9h0M402.8 724.7h0M354.6 764.9h0M295.8 745.2h0M376.7 760.4h0M384.6 760.9h0M311.7 774.0h0M332.1 760.9h0M324.6 763.1h0M407.0 727.7h0M415.3 733.7h0M294.1 762.2h0M384.0 742.7h0M305.6 757.3h0M331.8 761.5h0M331.8 775.9h0M385.8 781.0h0M371.9 769.4h0M342.9 784.1h0M402.6 718.6h0M285.7 755.7h0M364.0 760.4h0M341.6 758.4h0M386.6 745.9h0M337.8 781.7h0M396.2 725.3h0M310.7 766.1h0M291.9 753.2h0M334.2 759.2h0M287.5 760.0h0M360.6 776.1h0M320.5 764.9h0M323.1 757.5h0M382.3 773.1h0M263.7 750.6h0M279.6 729.0h0M272.2 761.5h0M375.4 758.7h0M356.9 762.4h0M362.2 778.9h0M392.5 726.4h0M347.2 768.7h0M333.0 778.7h0M374.6 752.8h0M402.7 719.9h0M365.9 752.5h0M380.6 746.2h0M342.2 782.1h0M382.7 774.6h0M308.4 766.5h0M364.7 775.5h0M373.6 775.7h0M363.1 762.6h0M304.4 740.7h0M360.5 754.1h0M385.8 751.3h0M361.0 759.9h0M343.2 777.7h0M392.9 730.2h0M325.1 772.6h0M377.4 781.4h0M362.2 776.7h0M379.4 744.7h0M387.8 735.4h0M372.7 766.7h0M265.5 752.0h0M352.2 753.3h0M380.4 776.2h0M362.7 779.2h0M335.8 760.8h0M330.5 767.7h0M365.7 747.9h0M295.2 753.7h0M341.3 753.6h0M346.1 763.2h0M376.4 779.0h0M400.8 731.8h0M384.7 783.1h0M285.2 739.3h0M315.8 772.5h0M290.5 741.7h0M372.3 759.9h0M384.7 754.9h0M346.0 766.8h0M318.3 772.6h0M288.8 742.9h0M282.2 757.0h0M363.5 753.3h0M386.2 754.6h0M347.3 776.6h0M409.8 722.7h0M364.3 753.2h0M394.0 724.7h0M388.3 756.4h0M285.1 763.5h0M375.4 760.5h0M328.0 766.6h0M360.0 785.4h0M369.9 759.6h0M328.4 763.4h0M312.4 774.0h0M356.5 750.3h0M354.5 773.2h0M372.7 780.6h0M335.9 749.3h0M383.9 772.5h0M346.3 775.7h0M362.4 764.2h0M394.5 729.3h0M395.8 734.3h0M289.8 760.6h0M383.9 748.6h0M376.5 748.3h0M286.4 740.2h0M350.1 762.9h0M317.1 762.3h0M287.8 743.1h0M368.8 755.3h0M387.4 739.2h0M387.8 736.9h0M347.1 770.7h0M281.8 759.3h0M384.4 756.8h0M307.9 765.9h0M371.2 768.8h0M315.4 763.7h0M351.0 743.7h0M373.5 763.7h0M382.1 773.2h0M351.3 762.4h0M354.9 757.2h0M408.9 741.7h0M304.4 752.7h0M357.6 780.5h0M380.6 759.8h0M377.3 744.4h0M285.1 755.7h0M371.1 768.1h0M343.8 776.9h0M341.7 784.6h0M318.9 768.1h0M264.3 751.0h0M341.2 753.4h0M348.1 766.2h0M378.0 758.6h0M281.1 760.7h0M297.0 751.4h0M334.4 761.9h0M402.8 740.7h0M342.9 761.8h0M297.3 762.0h0M334.7 757.3h0M338.7 749.0h0M374.5 756.1h0M278.0 733.3h0M288.7 761.1h0M388.7 776.3h0M339.7 764.0h0M397.3 737.4h0M360.3 751.5h0M335.6 747.0h0M358.9 778.7h0M372.1 761.5h0M382.6 746.2h0M403.3 721.5h0M397.6 739.8h0M284.3 751.9h0M393.3 733.9h0M387.7 761.4h0M281.4 741.9h0M398.7 719.7h0M350.6 780.4h0M303.3 764.6h0M286.1 767.6h0M279.8 768.7h0M329.5 772.2h0M370.9 783.7h0M322.8 771.7h0M367.9 751.4h0M372.4 748.0h0M314.0 772.0h0M286.1 762.0h0M369.5 756.0h0M266.0 754.1h0M372.7 780.8h0M370.0 764.4h0M337.7 780.4h0M346.2 770.9h0M311.2 730.9h0M343.5 768.7h0M331.1 766.6h0M345.1 740.6h0M315.6 756.9h0M395.7 731.6h0M347.1 755.4h0M326.9 764.6h0M372.4 783.3h0M302.8 748.3h0M379.4 749.5h0M341.7 754.8h0M387.3 737.4h0M340.0 744.7h0M294.5 742.7h0M290.6 753.9h0M387.2 755.1h0M295.1 741.2h0M313.0 770.5h0M327.7 773.6h0M290.7 748.6h0M348.7 756.7h0M380.4 750.6h0M406.3 737.4h0M404.8 723.7h0M407.0 724.8h0M358.5 775.9h0M323.9 756.9h0M270.2 755.2h0M306.3 763.4h0M339.2 762.6h0M326.1 769.6h0M318.1 764.5h0M392.4 737.8h0M370.4 755.3h0M305.3 764.6h0M279.0 755.8h0M333.7 779.5h0M359.2 761.6h0M354.6 748.0h0M358.3 754.9h0M352.2 777.9h0M325.4 771.0h0M285.8 737.0h0M359.5 762.0h0M337.7 747.6h0M360.1 761.4h0M342.7 775.1h0M291.7 766.1h0M325.6 775.5h0M324.3 768.7h0M307.6 739.2h0M352.1 741.3h0M298.2 756.8h0M405.9 723.1h0M384.1 757.2h0M296.1 757.1h0M316.3 771.9h0M316.7 764.4h0M366.1 771.9h0M400.6 729.2h0M368.7 779.8h0M379.3 750.2h0M336.8 762.2h0M363.4 745.6h0M345.3 785.6h0M375.5 781.7h0M290.3 757.3h0M386.6 771.8h0M384.3 778.0h0M378.0 752.3h0M393.7 734.5h0M323.9 775.5h0M276.5 752.3h0M379.7 763.8h0M287.1 758.5h0M299.6 760.8h0M390.3 723.8h0M372.3 766.6h0M338.1 767.7h0M283.0 761.3h0M318.3 773.3h0M387.9 729.3h0M393.8 729.7h0M287.3 752.9h0M390.7 727.8h0M380.7 774.1h0M294.1 759.5h0M394.9 730.8h0M407.4 723.5h0M276.4 734.1h0M297.0 746.2h0M328.9 766.6h0M330.0 768.2h0M279.2 740.4h0M341.7 742.0h0M276.3 768.3h0M347.5 757.8h0M367.2 768.4h0M392.4 734.4h0M390.0 730.3h0M357.3 770.4h0M373.1 753.4h0M288.3 762.5h0M299.2 748.8h0M332.0 766.6h0M361.1 752.2h0M391.5 735.0h0M355.8 742.6h0M367.7 755.2h0M371.0 768.6h0M346.5 784.8h0M372.9 771.4h0M381.8 746.3h0M287.0 762.4h0M264.0 750.3h0M363.9 752.0h0M372.7 750.2h0M355.6 771.4h0M385.3 740.5h0M367.8 749.2h0M332.5 770.3h0M328.1 768.2h0M332.3 771.1h0M388.5 765.4h0M349.5 787.1h0M281.2 752.3h0M387.9 764.5h0M343.9 772.6h0M279.5 756.1h0M347.3 787.3h0M292.9 745.3h0M360.3 766.2h0M387.9 767.7h0M380.6 761.0h0M339.7 766.3h0M395.3 722.1h0M387.4 779.1h0M372.3 766.7h0M339.3 761.3h0M298.2 747.3h0M395.7 737.4h0M287.6 762.0h0M376.5 762.9h0M362.6 750.6h0M354.1 738.3h0M307.6 758.0h0M324.0 758.5h0M387.4 758.9h0M396.4 737.4h0M376.0 758.6h0M289.7 756.7h0M329.0 766.7h0M400.1 722.7h0M407.1 737.3h0M310.7 758.3h0M339.1 761.2h0M389.6 774.4h0M387.0 750.6h0M409.8 729.1h0M337.3 764.8h0M280.4 761.4h0M379.1 746.7h0M347.6 761.8h0M353.1 742.1h0M283.2 767.7h0M380.9 769.8h0M327.3 770.6h0M340.8 766.8h0M372.3 753.3h0M274.3 734.7h0M265.6 753.0h0M356.8 778.8h0M400.1 720.8h0M387.1 739.1h0M305.6 764.9h0M274.5 744.7h0M354.1 781.6h0" stroke="#440154" stroke-width="1.76" stroke-linecap="round" fill="none"/>
<path d="M315.3 770.1h0M410.5 732.2h0M338.7 756.8h0M377.8 769.8h0M381.4 759.0h0M294.6 745.3h0M376.9 755.5h0M369.4 751.9h0M362.9 778.5h0M280.2 735.2h0M332.4 758.6h0M357.4 769.9h0M355.1 766.4h0M329.8 773.4h0M357.3 775.2h0M276.3 734.2h0M294.0 754.9h0M317.8 757.7h0M404.6 740.7h0M344.0 761.6h0M265.0 751.3h0M291.6 764.8h0M405.9 722.5h0M284.0 765.8h0M314.3 769.4h0M388.3 730.2h0M341.3 765.6h0M346.4 739.3h0M348.7 744.4h0M358.5 754.1h0M393.0 728.4h0M314.2 728.9h0M341.5 776.9h0M336.4 777.0h0M368.2 746.7h0M378.3 762.3h0M334.1 778.5h0M342.8 763.8h0M346.1 779.8h0M391.3 725.5h0M347.9 779.5h0M404.4 722.1h0M346.8 740.4h0M334.3 770.7h0M401.6 741.8h0M393.1 726.8h0M288.7 741.0h0M275.6 762.6h0M298.3 742.6h0M374.6 749.3h0M346.2 754.4h0M304.0 741.7h0M373.4 767.1h0M317.3 759.7h0M380.0 784.2h0M321.4 762.7h0M279.9 757.8h0M396.5 722.2h0M343.3 785.0h0M398.4 726.0h0M340.3 769.2h0M349.9 777.3h0M343.9 741.2h0M362.9 762.0h0M265.4 750.9h0M394.6 733.8h0M371.4 771.8h0M358.2 758.1h0M403.4 738.0h0M330.6 773.3h0M363.3 778.8h0M376.7 754.5h0M391.2 742.8h0M305.8 755.9h0M349.5 776.9h0M383.2 754.0h0M410.1 737.2h0M379.8 753.1h0M352.7 751.6h0M370.8 756.6h0M394.4 741.5h0M408.2 739.9h0M375.4 749.0h0M262.8 751.3h0M401.7 734.7h0M300.4 753.5h0M287.4 740.3h0M319.2 763.1h0M339.2 744.6h0M285.3 765.7h0M389.1 729.7h0M336.7 766.7h0M354.5 750.7h0M353.5 755.9h0M354.7 770.5h0M336.4 777.9h0M383.7 740.0h0M278.9 739.6h0M360.1 777.1h0M296.4 753.0h0M364.4 758.1h0M328.5 766.9h0M350.8 739.6h0M391.6 730.8h0M319.3 774.9h0M376.6 757.3h0M301.0 764.2h0M376.3 758.2h0M408.1 731.1h0M357.2 783.1h0M283.5 747.7h0M409.0 731.8h0M327.6 775.2h0M403.1 740.7h0M343.5 775.0h0M349.2 785.8h0M276.8 731.1h0M377.7 758.7h0M299.3 744.2h0M371.0 760.0h0M278.9 736.3h0M281.6 759.2h0M367.4 763.2h0M387.0 775.7h0M357.4 786.7h0M293.5 745.3h0M352.2 782.5h0M339.9 784.3h0M381.8 780.2h0M276.9 732.1h0M383.5 744.0h0M404.9 740.9h0M390.4 735.7h0M336.1 782.1h0M404.5 734.4h0M353.7 748.8h0M321.7 762.0h0M332.7 781.3h0M337.2 771.3h0M286.5 762.6h0M330.2 767.6h0M363.1 757.1h0M315.3 762.3h0M383.5 740.6h0M379.7 753.4h0M394.1 721.1h0M355.3 757.4h0M396.4 722.5h0M409.2 740.1h0M366.3 779.7h0M409.7 728.4h0M402.1 737.6h0M364.5 764.5h0M369.6 776.9h0M288.2 762.3h0M288.0 764.3h0M288.1 749.3h0M344.9 773.5h0M328.6 779.4h0M302.5 770.0h0M327.9 767.4h0M371.1 776.3h0M376.8 756.4h0M266.9 752.0h0M300.3 746.4h0M348.9 780.0h0M327.2 766.1h0M282.3 757.8h0M330.9 780.4h0M344.7 764.3h0M332.0 766.0h0M356.4 767.5h0M281.5 732.7h0M305.4 762.5h0M290.4 739.5h0M329.5 762.7h0M339.8 783.6h0M385.5 756.2h0M339.9 764.9h0M373.7 770.1h0M392.0 743.3h0M393.4 727.3h0M412.0 724.7h0M389.8 763.3h0M359.2 771.6h0M339.7 750.5h0M364.7 750.8h0M328.4 763.9h0M354.6 779.7h0M291.2 751.4h0M338.0 783.1h0M341.5 767.1h0M269.8 729.4h0M393.5 729.9h0M279.2 731.9h0M290.2 763.4h0M343.6 739.5h0M341.7 745.9h0M315.5 773.4h0M345.6 743.0h0M287.0 764.8h0M318.2 776.7h0M364.7 761.3h0M374.3 757.2h0M341.4 741.7h0M381.0 746.0h0M278.7 758.8h0M288.5 759.2h0M346.9 773.1h0M327.9 767.8h0M401.4 738.3h0M383.2 754.9h0M388.1 772.5h0M376.1 761.0h0M277.0 762.4h0M404.5 736.1h0M341.2 765.0h0M342.4 739.7h0M360.0 765.7h0M400.0 739.5h0M386.5 761.9h0" stroke="#482475" stroke-width="1.76" stroke-linecap="round" fill="none"/>
<path d="M368.3 764.8h0M329.9 769.9h0M373.9 759.5h0M383.5 750.5h0M270.3 752.0h0M350.5 783.8h0M375.1 756.6h0M320.5 763.8h0M333.6 761.6h0M283.8 736.3h0M291.8 756.0h0M281.4 731.7h0M353.1 746.4h0M381.9 750.4h0M383.6 767.2h0M280.9 762.2h0M296.5 753.6h0M353.7 767.0h0M340.6 760.7h0M358.3 748.2h0M354.5 768.0h0M324.3 765.6h0M288.8 739.0h0" stroke="#414487" stroke-width="1.76" stroke-linecap="round" fill="none"/>
<path d="M285.0 755.5h0M327.9 772.9h0M390.9 731.0h0M362.8 750.2h0M345.8 777.2h0M279.8 770.3h0M322.6 761.2h0M334.2 761.8h0M278.3 732.9h0M336.6 761.3h0M285.1 745.4h0M298.3 747.5h0M348.6 762.0h0M398.6 722.6h0M311.9 730.4h0M375.5 753.7h0M310.1 754.9h0M346.3 742.7h0M337.6 778.8h0M341.9 753.3h0M300.7 763.5h0M287.4 770.3h0M282.2 752.0h0M336.7 781.7h0M370.0 782.1h0M289.9 742.7h0M359.7 755.4h0M350.5 742.3h0M287.5 748.6h0M293.2 749.9h0M391.4 735.3h0M305.4 768.4h0M399.4 723.6h0M293.4 754.3h0M293.0 738.1h0M329.5 772.7h0M363.4 766.5h0M326.6 765.5h0M334.6 773.1h0M384.7 739.4h0M409.1 735.2h0M358.6 762.2h0M297.4 755.3h0M294.5 747.2h0M280.8 757.9h0M410.2 731.7h0M314.6 763.4h0M299.5 760.6h0M395.0 732.2h0M356.2 766.8h0M293.0 747.0h0M292.3 743.4h0M334.2 774.1h0M308.5 736.1h0M284.9 738.5h0M294.1 753.6h0M404.4 737.7h0M369.8 777.2h0M402.9 738.1h0M355.1 748.6h0M403.8 739.3h0M340.9 762.4h0M321.7 766.0h0M412.5 727.4h0M265.8 751.9h0M284.5 767.3h0M369.3 778.7h0M293.2 752.8h0M288.7 767.1h0M347.2 754.2h0M279.8 754.6h0M280.5 758.7h0" stroke="#355f8d" stroke-width="1.76" stroke-linecap="round" fill="none"/>
<path d="M399.1 723.8h0M294.6 758.4h0M322.2 775.5h0M339.1 763.6h0M400.6 736.4h0M357.3 768.0h0M296.7 756.3h0M376.2 757.6h0M283.0 773.7h0M288.8 765.0h0M307.8 731.6h0M314.6 757.8h0M396.2 725.9h0M304.9 755.2h0M398.9 721.7h0M272.9 734.2h0M406.3 737.1h0M370.9 758.6h0M371.8 758.8h0M305.0 757.2h0M329.8 762.6h0M302.8 770.4h0M361.6 748.9h0M327.7 773.5h0M333.0 768.4h0M290.5 752.4h0M285.5 757.2h0M391.7 723.4h0M392.2 731.2h0M304.2 743.5h0M317.3 772.6h0M327.5 773.2h0M409.8 720.0h0M348.0 743.1h0M399.1 720.3h0M298.9 741.8h0M288.9 752.4h0M380.4 754.2h0M297.6 765.0h0M378.1 776.0h0M341.5 767.0h0M344.2 761.8h0M394.9 732.6h0M388.1 779.1h0M381.5 781.5h0M292.8 743.8h0M304.5 742.7h0M395.6 730.4h0M301.2 754.7h0M391.6 734.8h0M361.4 776.9h0M379.1 744.9h0M372.7 779.2h0M351.2 753.7h0M337.3 781.4h0M407.3 739.1h0M303.4 758.3h0M307.8 767.9h0M305.2 747.2h0M310.3 759.0h0M329.2 770.0h0M311.5 762.0h0M358.7 757.6h0M311.2 731.1h0M365.0 767.1h0M294.5 742.3h0M391.3 733.5h0M381.5 759.1h0M297.3 752.7h0M399.5 716.9h0M366.3 781.3h0M298.3 755.2h0M313.0 759.7h0M393.6 737.6h0M288.2 752.4h0M331.9 763.5h0M278.7 731.8h0M333.4 766.2h0M345.9 764.9h0M406.9 726.9h0M390.6 771.1h0M281.2 744.0h0M367.8 748.8h0M350.6 768.6h0M384.0 750.6h0M378.5 748.4h0M308.9 765.5h0M385.2 760.0h0M331.5 767.1h0M284.1 760.5h0M370.8 757.3h0M292.5 749.6h0M369.7 741.9h0M337.7 750.9h0M355.1 787.6h0M325.8 757.5h0M372.4 761.4h0M333.4 765.8h0M375.8 755.9h0M306.5 755.9h0" stroke="#2a788e" stroke-width="1.76" stroke-linecap="round" fill="none"/>
<path d="M290.7 761.9h0M310.1 771.8h0M315.2 764.0h0M404.7 734.1h0M285.2 756.6h0M388.1 748.1h0M368.2 768.3h0M367.4 747.8h0M278.8 760.2h0M351.1 767.8h0M346.9 783.8h0M394.8 736.8h0M303.7 744.4h0M405.3 725.6h0M288.3 767.0h0M364.9 778.7h0M374.0 786.5h0M344.0 764.2h0M290.4 751.4h0M289.8 752.8h0M394.7 731.4h0M376.4 772.2h0M301.4 764.9h0M401.3 721.4h0M392.7 731.0h0M402.3 733.9h0M288.8 762.5h0M333.9 766.7h0M303.4 755.4h0M317.4 756.6h0M385.0 760.5h0M288.4 763.6h0M393.6 722.2h0M383.2 771.0h0M323.7 769.0h0M279.1 762.4h0M399.6 717.5h0M335.4 757.4h0M351.4 744.0h0M299.1 751.4h0M389.1 770.3h0M392.1 723.1h0M279.4 738.0h0M327.6 772.3h0M379.7 753.2h0M305.7 760.0h0M368.2 756.4h0M398.6 726.7h0M305.1 755.0h0M341.5 742.2h0M364.0 760.3h0M309.9 729.1h0M402.9 725.0h0M384.7 752.7h0M377.9 747.2h0M382.1 747.8h0M409.0 734.3h0M279.2 757.3h0M319.8 755.7h0M373.1 749.5h0M397.3 718.8h0M294.5 738.8h0M379.9 760.7h0M356.5 775.0h0M326.0 765.4h0M326.5 769.1h0" stroke="#21918c" stroke-width="1.76" stroke-linecap="round" fill="none"/>
<path d="M413.2 736.6h0M336.3 771.8h0M304.7 760.7h0M344.2 785.8h0M270.4 761.8h0M306.7 748.9h0M289.7 747.3h0M358.4 762.9h0M331.5 779.6h0M277.9 771.0h0M353.9 777.7h0M284.7 761.9h0M395.4 731.8h0M407.7 732.8h0M303.6 765.1h0M338.7 746.4h0M414.0 726.2h0M286.5 748.1h0M274.6 765.9h0M394.9 735.8h0M308.6 771.6h0M310.7 754.0h0M383.5 767.0h0M303.2 761.3h0M328.9 767.1h0M370.6 750.7h0M276.6 734.0h0M280.6 744.9h0" stroke="#22a884" stroke-width="1.76" stroke-linecap="round" fill="none"/>
<path d="M404.5 743.6h0M395.1 729.8h0M360.3 757.2h0M283.2 759.9h0M361.0 775.7h0M407.7 735.8h0M343.2 785.4h0M287.7 742.2h0M330.6 770.5h0M380.2 753.0h0" stroke="#44bf70" stroke-width="1.76" stroke-linecap="round" fill="none"/>
<line x1="254.5" y1="704.4" x2="254.5" y2="799.3" stroke="#555" stroke-width="0.9" />
<line x1="254.3" y1="799.5" x2="422" y2="799.5" stroke="#555" stroke-width="0.9" />
<text x="255.5" y="701.9" font-size="11.4" text-anchor="start" font-style="italic" fill="#111" >Six4</text>
<defs><linearGradient id="vg429735" x1="0" y1="0" x2="0" y2="1"><stop offset="0.0" stop-color="#fde725"/><stop offset="0.1" stop-color="#bddf26"/><stop offset="0.2" stop-color="#7ad151"/><stop offset="0.3" stop-color="#44bf70"/><stop offset="0.4" stop-color="#22a884"/><stop offset="0.5" stop-color="#21918c"/><stop offset="0.6" stop-color="#2a788e"/><stop offset="0.7" stop-color="#355f8d"/><stop offset="0.8" stop-color="#414487"/><stop offset="0.9" stop-color="#482475"/><stop offset="1.0" stop-color="#440154"/></linearGradient></defs>
<rect x="429.2" y="735" width="4.6" height="35.4" fill="url(#vg429735)" stroke="none" stroke-width="1" />
<text x="435.4" y="740.86" font-size="6" text-anchor="start" fill="#222" >2.0</text>
<text x="435.4" y="748.76" font-size="6" text-anchor="start" fill="#222" >1.5</text>
<text x="435.4" y="756.66" font-size="6" text-anchor="start" fill="#222" >1.0</text>
<text x="435.4" y="764.56" font-size="6" text-anchor="start" fill="#222" >0.5</text>
<text x="435.4" y="772.36" font-size="6" text-anchor="start" fill="#222" >0.0</text>
<rect x="472.3" y="704.4" width="167.2" height="94.9" fill="#e8e6e4" stroke="none" stroke-width="1" />
<path d="M527.9 754.3h0M566.3 741.3h0M601.6 745.5h0M530.0 768.9h0M588.9 779.5h0M597.2 766.5h0M533.1 770.1h0M562.0 755.5h0M594.2 770.2h0M568.9 747.3h0M528.0 771.8h0M565.1 772.8h0M590.3 777.1h0M533.0 764.0h0M503.0 755.5h0M568.1 782.1h0M556.4 756.8h0M565.2 786.6h0M599.0 759.0h0M592.1 743.6h0M512.5 758.4h0M548.0 766.9h0M540.0 775.5h0M580.1 747.1h0M626.8 735.6h0M594.5 755.5h0M500.8 755.1h0M590.9 755.5h0M545.6 772.9h0M622.3 734.1h0M577.2 775.7h0M553.6 746.2h0M566.3 763.8h0M517.2 755.8h0M503.2 751.1h0M574.3 768.9h0M615.6 729.9h0M524.1 737.9h0M587.1 751.9h0M580.6 778.5h0M559.0 763.2h0M563.0 770.0h0M531.1 756.7h0M503.1 756.6h0M578.9 781.4h0M625.3 719.0h0M521.8 769.1h0M575.0 768.0h0M551.2 777.1h0M550.1 758.6h0M578.4 776.2h0M565.2 758.5h0M599.0 750.8h0M600.6 777.9h0M565.8 746.1h0M593.9 757.6h0M588.6 781.2h0M597.3 779.5h0M575.1 769.9h0M524.9 764.8h0M506.7 765.0h0M547.6 773.4h0M623.9 725.1h0M524.8 747.3h0M555.0 753.0h0M514.0 752.5h0M525.6 731.6h0M488.6 734.2h0M541.1 757.3h0M496.3 734.7h0M578.3 777.6h0M577.3 773.0h0M584.8 756.3h0M595.9 763.6h0M600.7 741.9h0M599.0 783.2h0M539.3 760.3h0M593.3 760.2h0M591.6 752.9h0M560.0 760.6h0M577.1 774.1h0M575.0 775.2h0M557.6 776.0h0M551.5 777.1h0M524.8 769.2h0M620.7 725.8h0M609.8 726.0h0M580.5 750.2h0M613.8 725.9h0M574.2 781.6h0M613.2 737.7h0M563.3 782.7h0M578.1 769.2h0M593.1 766.7h0M626.5 724.8h0M525.8 734.6h0M568.2 784.0h0M538.3 765.2h0M492.6 765.7h0M542.9 763.0h0M522.8 755.2h0M571.3 764.7h0M630.2 732.3h0M547.7 767.3h0M579.3 771.7h0M545.4 773.0h0M529.9 753.4h0M537.1 761.9h0M526.5 735.6h0M626.1 719.0h0M589.3 765.5h0M547.7 769.9h0M572.2 750.3h0M482.9 751.3h0M623.7 738.0h0M514.3 758.0h0M526.6 773.6h0M580.1 766.6h0M517.6 757.8h0M598.5 762.1h0M605.4 782.2h0M614.9 738.0h0M509.5 764.8h0M554.1 771.8h0M630.1 727.5h0M519.5 762.5h0M631.1 733.9h0M598.8 746.3h0M524.8 755.6h0M562.8 774.7h0M572.0 781.4h0M510.6 751.5h0M492.8 734.1h0M563.6 777.2h0M554.5 778.7h0M522.5 760.7h0M497.7 770.3h0M540.4 761.2h0M593.7 774.7h0M623.4 722.5h0M566.2 738.8h0M494.7 761.0h0M572.9 764.4h0M537.0 768.6h0M552.0 761.8h0M570.9 756.3h0M576.4 766.9h0M623.8 737.1h0M582.5 764.7h0M566.7 743.0h0M501.9 765.8h0M504.4 747.7h0M496.2 729.5h0M624.3 721.7h0M568.8 782.9h0M545.9 767.6h0M613.7 720.5h0M530.2 731.7h0M610.8 738.4h0M624.4 721.9h0M553.3 756.3h0M621.9 737.8h0M492.2 734.9h0M532.1 769.4h0M591.7 774.8h0M496.1 730.5h0M628.6 732.5h0M490.9 732.4h0M586.8 761.1h0M552.6 765.7h0M605.9 730.2h0M602.5 740.2h0M551.1 773.2h0M497.9 765.8h0M564.1 739.3h0M496.3 732.9h0M601.8 747.2h0M554.4 761.3h0M571.2 746.0h0M496.4 729.7h0M576.2 754.1h0M588.8 769.5h0M509.6 762.1h0M484.6 751.4h0M607.5 735.2h0M532.0 728.9h0M542.3 776.4h0M559.3 776.9h0M605.3 754.7h0M588.5 768.7h0M617.8 736.4h0M563.9 778.4h0M492.9 731.8h0M566.4 762.0h0M572.8 763.4h0M616.1 722.6h0M495.0 731.6h0M564.6 783.8h0M529.7 730.4h0M528.9 761.8h0M612.8 739.2h0M579.6 783.0h0M556.2 780.2h0M524.8 764.4h0M484.4 752.6h0M545.4 770.7h0M554.5 746.6h0M587.6 749.3h0M628.7 727.3h0M503.6 755.8h0M522.8 757.2h0M551.9 778.5h0M511.2 749.8h0M534.9 760.6h0M621.0 738.3h0M595.8 771.4h0M596.8 784.1h0M603.6 739.7h0M531.6 767.2h0M621.8 739.1h0M520.2 756.7h0M557.8 781.1h0M524.4 753.8h0M565.1 773.4h0M552.3 749.4h0M544.5 763.3h0M560.5 763.8h0M547.6 762.6h0M520.6 770.4h0M563.9 779.8h0M565.6 779.5h0M595.6 742.6h0M490.1 758.4h0M577.9 784.3h0M621.9 722.1h0M525.0 769.1h0M579.3 748.9h0M562.4 741.5h0M616.6 721.7h0M493.1 758.3h0M494.8 731.9h0M601.0 760.9h0M597.7 783.1h0M564.5 740.4h0M550.8 768.4h0M571.2 747.4h0M552.0 770.7h0M604.2 772.8h0M610.6 734.5h0M503.2 758.4h0M572.5 775.3h0M587.6 775.7h0M601.8 760.7h0M619.2 741.8h0M562.9 742.9h0M502.1 758.6h0M585.1 784.0h0M580.7 780.0h0M610.7 726.8h0M594.3 745.1h0M597.4 758.5h0M574.1 749.5h0M527.9 754.9h0M519.9 756.1h0M519.8 761.8h0M559.3 761.9h0M520.7 746.7h0M503.4 757.2h0M552.0 755.3h0M506.6 741.0h0M609.3 723.4h0M573.8 768.6h0M591.8 761.3h0M592.8 779.2h0M493.5 762.6h0M549.5 764.1h0M582.7 760.3h0M610.5 734.6h0M559.6 753.3h0M557.4 766.7h0M609.8 731.2h0M625.4 725.9h0M574.4 787.1h0M506.8 758.7h0M600.4 783.7h0M617.3 736.1h0M488.4 761.8h0M518.6 763.5h0M521.5 744.4h0M592.2 749.3h0M608.1 733.7h0M518.2 764.0h0M517.6 742.0h0M569.8 754.0h0M521.8 741.7h0M580.4 751.5h0M591.1 767.1h0M491.6 732.6h0M572.6 747.5h0M585.6 754.3h0M592.1 750.3h0M542.6 763.1h0M535.7 761.2h0M618.7 731.1h0M612.4 722.1h0M493.1 759.2h0M611.1 731.8h0M522.0 743.5h0M613.7 735.9h0M572.9 771.2h0M560.4 767.5h0M597.6 784.2h0M590.0 778.7h0M576.2 774.3h0M514.3 755.5h0M559.7 755.4h0M569.6 751.7h0M613.5 737.1h0M506.5 761.2h0M526.7 735.1h0M572.9 748.2h0M580.7 776.3h0M613.4 735.6h0M506.7 760.8h0M571.1 745.3h0M613.8 724.8h0M490.8 728.4h0M558.8 776.5h0M604.6 729.7h0M523.0 742.4h0M582.6 778.7h0M591.1 786.2h0M617.3 721.6h0M614.1 722.2h0M561.1 785.0h0M591.7 786.5h0M520.7 757.3h0M568.0 742.9h0M599.1 782.6h0M557.6 744.3h0M514.3 756.5h0M554.7 766.0h0M504.2 749.3h0M539.5 760.8h0M626.7 732.2h0M552.5 760.6h0M554.3 760.4h0M568.0 788.6h0M565.0 774.2h0M567.6 777.3h0M530.8 767.9h0M500.6 750.6h0M561.9 766.0h0M580.6 762.0h0M536.5 760.2h0M531.4 762.3h0M598.1 751.4h0M504.9 767.5h0M612.1 733.8h0M625.5 725.4h0M529.4 731.7h0M517.5 761.2h0M565.7 743.1h0M584.6 772.5h0M564.5 766.0h0M541.1 757.4h0M570.2 780.5h0M562.0 765.6h0M529.1 772.4h0M589.0 771.8h0M597.8 742.3h0M575.9 758.1h0M598.3 759.0h0M510.4 755.1h0M508.0 745.0h0M551.4 769.9h0M590.7 759.1h0M621.0 738.0h0M553.6 755.9h0M571.8 769.1h0M503.4 754.2h0M509.0 750.6h0M561.7 764.2h0M581.4 783.1h0M607.1 776.7h0M572.0 785.8h0M505.3 770.3h0M613.5 718.6h0M551.8 775.6h0M500.1 752.0h0M495.6 763.2h0M507.7 752.8h0M506.8 758.0h0M516.7 741.8h0M508.7 762.0h0M594.4 754.5h0M489.7 757.8h0M623.0 723.1h0M571.2 748.0h0M572.9 763.5h0M586.6 768.9h0M587.9 759.1h0M506.7 735.4h0M508.7 754.7h0M490.9 733.3h0M553.8 759.1h0M554.4 781.7h0M588.4 761.2h0M601.2 769.4h0M519.8 742.4h0M506.8 752.4h0M511.2 748.3h0M587.7 782.1h0M567.2 776.9h0M549.3 770.8h0M600.8 754.0h0M563.8 757.0h0M484.4 751.9h0M502.2 757.4h0M627.7 737.2h0M598.1 754.2h0M597.4 753.1h0M612.3 731.4h0M570.9 768.9h0M594.0 772.2h0M613.1 725.1h0M556.7 744.8h0M588.5 756.6h0M602.9 771.1h0M612.0 741.5h0M547.0 769.2h0M553.9 759.3h0M492.7 730.2h0M618.2 739.5h0M549.0 772.3h0M541.3 767.7h0M560.8 765.8h0M515.4 759.3h0M554.6 762.5h0M577.3 757.0h0M593.1 749.0h0M561.5 769.3h0M507.8 742.7h0M560.8 769.2h0M525.8 764.1h0M547.8 771.6h0M484.5 752.1h0M574.3 747.1h0M603.0 762.5h0M618.8 722.0h0M515.4 765.0h0M616.0 722.6h0M568.2 742.3h0M595.8 776.0h0M590.4 748.2h0M625.0 737.0h0M609.9 723.4h0M480.8 751.3h0M536.4 756.7h0M619.2 734.7h0M591.8 754.8h0M563.9 781.9h0M559.2 767.0h0M564.7 743.8h0M527.7 734.2h0M617.1 720.4h0M521.4 767.4h0M554.5 745.3h0M501.4 758.4h0M612.9 732.9h0M514.4 751.5h0M579.5 782.2h0M557.6 748.7h0M558.9 762.3h0M559.5 775.8h0M519.3 764.9h0M505.3 740.3h0M556.5 779.1h0M562.0 761.8h0M512.5 750.4h0M577.0 748.1h0M525.7 764.1h0M625.6 727.9h0M537.1 763.1h0M563.9 777.8h0M560.5 783.6h0M539.9 768.7h0M572.7 755.3h0M556.9 744.6h0M560.2 750.9h0M526.1 761.9h0M606.7 729.7h0M511.1 749.9h0M609.0 735.3h0M554.5 766.7h0M574.2 747.1h0M571.2 755.9h0M605.7 779.1h0M572.5 770.5h0M611.5 734.8h0M521.3 755.4h0M514.7 759.5h0M573.6 773.4h0M504.4 772.8h0M523.2 768.4h0M549.9 765.5h0M535.2 756.6h0M602.6 760.5h0M619.3 723.9h0M528.5 759.2h0M624.6 734.0h0M598.7 734.3h0M626.5 725.7h0M551.3 761.6h0M496.6 731.9h0M599.1 781.5h0M581.2 770.8h0M616.2 734.8h0M547.7 777.4h0M600.0 779.0h0M610.8 728.9h0M601.2 769.3h0M529.5 771.2h0M599.9 767.9h0M496.8 739.6h0M604.5 765.6h0M590.0 755.8h0M492.1 735.2h0M617.1 737.4h0M598.4 770.7h0M506.3 763.6h0M585.4 769.2h0M605.1 756.6h0M625.9 725.3h0M493.5 730.5h0M605.2 774.5h0M514.2 753.0h0M555.1 772.4h0M549.2 779.6h0M624.1 738.4h0M588.6 743.4h0M597.8 772.8h0M582.5 778.0h0M592.9 747.0h0M582.0 758.1h0M594.1 757.6h0M546.3 766.9h0M570.6 762.9h0M575.0 770.8h0M568.7 740.6h0M573.5 774.8h0M566.0 778.9h0M629.3 729.5h0M606.8 733.1h0M573.9 781.5h0M618.9 737.5h0M564.6 767.3h0M617.5 736.8h0M541.4 769.0h0M510.9 738.1h0M623.3 739.8h0M627.2 729.7h0M605.9 755.7h0M623.6 734.4h0M554.9 782.8h0M596.9 769.2h0M510.6 759.5h0M495.9 771.0h0M549.1 766.6h0M602.5 754.1h0M603.6 763.1h0M497.0 762.4h0M498.1 729.9h0M501.7 736.3h0M537.2 774.9h0M532.8 768.3h0M620.5 725.2h0M548.6 769.0h0M597.9 761.9h0M536.2 765.8h0M554.4 768.9h0M564.4 780.9h0M571.1 786.0h0M556.0 779.6h0M589.0 743.7h0M548.2 762.2h0M482.2 751.0h0M598.1 773.9h0M561.2 741.7h0M525.8 762.1h0M575.6 750.6h0M563.2 776.4h0M547.2 766.7h0M553.1 747.6h0M561.0 757.6h0M574.5 772.2h0M573.5 768.0h0M625.5 729.7h0M555.4 768.3h0M527.3 753.3h0M562.1 762.4h0M523.2 772.2h0M504.4 750.6h0M590.9 757.6h0M584.0 749.4h0M510.5 759.3h0M555.9 755.1h0M611.9 729.2h0M590.3 768.8h0M580.4 770.0h0M578.4 758.3h0M592.5 757.8h0M556.2 771.7h0M596.8 775.7h0M593.9 769.5h0M599.6 750.2h0M550.1 777.6h0M515.0 738.8h0M547.3 772.7h0M581.1 766.5h0M494.9 766.0h0M565.0 764.5h0M574.9 783.1h0M528.8 730.3h0M607.0 727.9h0M590.0 781.3h0M629.5 725.9h0M505.7 743.8h0M545.4 775.2h0M524.0 753.8h0M544.4 765.5h0M620.6 740.7h0M621.5 719.7h0M569.8 785.4h0M504.5 759.7h0M566.7 786.7h0M556.8 781.8h0M598.5 757.8h0M572.1 745.5h0M584.1 752.4h0M603.7 781.7h0M547.8 763.8h0M549.0 773.9h0M573.9 772.2h0M543.8 776.7h0M562.1 770.1h0M566.9 785.8h0M548.2 780.1h0M498.3 758.6h0M595.6 781.0h0M502.6 761.9h0M492.4 756.4h0M536.7 763.6h0M625.8 732.8h0M567.8 779.5h0M595.3 758.7h0M517.2 744.2h0M595.5 764.5h0M559.6 782.7h0M602.6 772.1h0M502.3 751.3h0M626.0 732.0h0M595.5 750.1h0M570.8 746.4h0M513.2 743.5h0M553.2 757.4h0M569.1 744.0h0M496.9 736.3h0M555.1 781.4h0M499.5 759.2h0M552.3 773.1h0M531.8 764.9h0M587.8 771.1h0M594.5 745.8h0M525.0 731.8h0M580.2 774.5h0M521.6 761.6h0M584.4 781.7h0M500.7 761.9h0M533.9 760.1h0M606.7 770.3h0M624.2 739.4h0M604.6 775.7h0M563.9 741.1h0M526.7 736.2h0M575.1 786.7h0M591.5 761.5h0M593.1 777.1h0M577.5 761.7h0M580.3 778.3h0M628.3 737.5h0M591.0 750.3h0M519.9 763.2h0M578.6 774.2h0M551.6 764.4h0M559.4 776.5h0M569.5 748.1h0M525.6 767.9h0M567.6 773.0h0M591.4 755.9h0M523.1 747.2h0M575.1 776.3h0M506.7 763.6h0M551.0 777.8h0M569.9 782.5h0M625.6 736.4h0M567.5 743.1h0M492.7 731.9h0M624.6 720.3h0M616.0 719.3h0M536.4 767.9h0M605.5 768.9h0M566.1 742.2h0M609.7 737.6h0M528.2 759.0h0M618.6 720.5h0M515.3 755.3h0M491.5 734.6h0M565.5 739.8h0M595.3 748.9h0M545.4 772.3h0M591.0 762.2h0M579.9 769.7h0M576.3 788.2h0M584.5 754.9h0M620.4 724.7h0M572.3 764.9h0M513.7 745.2h0M594.3 760.4h0M546.9 770.0h0M602.2 760.9h0M529.3 762.0h0M529.5 774.0h0M549.9 760.9h0M542.4 763.1h0M624.5 727.7h0M632.8 733.7h0M511.9 762.2h0M601.6 742.7h0M523.4 757.3h0M549.6 761.5h0M549.6 775.9h0M603.4 781.0h0M597.3 753.2h0M589.6 769.4h0M582.7 767.1h0M560.6 784.1h0M512.4 742.3h0M620.2 718.6h0M503.6 755.7h0M581.6 760.4h0M559.3 758.4h0M604.2 745.9h0M555.6 781.7h0M613.8 725.3h0M528.6 766.1h0M509.8 753.2h0M552.0 759.2h0M498.8 757.9h0M505.4 760.0h0M578.3 776.1h0M622.5 740.9h0M538.4 764.9h0M627.7 731.7h0M540.8 757.5h0M599.9 773.1h0M481.6 750.6h0M497.5 729.0h0M490.1 761.5h0M593.1 758.7h0M574.6 762.4h0M579.9 778.9h0M610.1 726.4h0M564.9 768.7h0M550.8 778.7h0M592.2 752.8h0M620.2 719.9h0M553.9 782.1h0M583.5 752.5h0M532.4 763.4h0M598.2 746.2h0M622.1 734.4h0M560.0 782.1h0M571.4 748.8h0M600.3 774.6h0M526.2 766.5h0M582.4 775.5h0M591.2 775.7h0M580.8 762.6h0M522.3 740.7h0M578.2 754.1h0M603.4 751.3h0M578.6 759.9h0M561.0 777.7h0M610.5 730.2h0M542.9 772.6h0M595.0 781.4h0M579.9 776.7h0M597.0 744.7h0M605.4 735.4h0M590.4 766.7h0M483.5 752.0h0M569.9 753.3h0M598.0 776.2h0M580.4 779.2h0M553.5 760.8h0M548.3 767.7h0M517.4 760.6h0M583.4 747.9h0M513.1 753.7h0M523.5 760.0h0M559.1 753.6h0M563.9 763.2h0M594.1 779.0h0M618.4 731.8h0M602.3 783.1h0M504.4 762.6h0M503.1 739.3h0M533.7 772.5h0M508.4 741.7h0M515.1 752.7h0M589.9 759.9h0M602.3 754.9h0M563.7 766.8h0M536.1 772.6h0M514.3 753.6h0M506.7 742.9h0M500.1 757.0h0M581.2 753.3h0M603.8 754.6h0M565.0 776.6h0M627.4 722.7h0M581.9 753.2h0M611.5 724.7h0M605.9 756.4h0M503.0 763.5h0M617.0 716.9h0M593.0 760.5h0M545.8 766.6h0M612.6 732.2h0M577.6 785.4h0M587.6 759.6h0M546.1 763.4h0M530.2 774.0h0M574.2 750.3h0M572.2 773.2h0M616.1 726.7h0M590.3 780.6h0M553.6 749.3h0M601.5 772.5h0M564.1 775.7h0M580.1 764.2h0M516.2 755.2h0M612.1 729.3h0M613.3 734.3h0M507.7 760.6h0M601.5 748.6h0M594.1 748.3h0M504.3 740.2h0M601.1 740.6h0M567.8 762.9h0M534.9 762.3h0M505.7 743.1h0M522.9 755.0h0M573.0 757.4h0M586.5 755.3h0M605.0 739.2h0M605.4 736.9h0M564.8 770.7h0M499.7 759.3h0M602.0 756.8h0M525.7 765.9h0M559.2 742.2h0M588.8 768.8h0M533.2 763.7h0M568.7 743.7h0M591.1 763.7h0M599.7 773.2h0M569.0 762.4h0M572.6 757.2h0M627.3 728.4h0M626.5 741.7h0M522.3 752.7h0M575.3 780.5h0M598.2 759.8h0M595.0 744.4h0M503.0 755.7h0M588.8 768.1h0M581.6 760.3h0M561.5 776.9h0M559.4 784.6h0M536.7 768.1h0M582.2 764.5h0M482.2 751.0h0M559.0 753.4h0M565.8 766.2h0M595.7 758.6h0M499.0 760.7h0M514.8 751.4h0M552.1 761.9h0M510.2 743.4h0M611.2 737.6h0M505.9 764.3h0M504.4 748.1h0M506.0 749.3h0M620.4 740.7h0M560.7 761.8h0M515.2 762.0h0M552.4 757.3h0M556.4 749.0h0M592.1 756.1h0M495.9 733.3h0M506.1 752.4h0M506.6 761.1h0M606.3 776.3h0M557.4 764.0h0M526.3 736.1h0M614.8 737.4h0M578.0 751.5h0M553.4 747.0h0M576.6 778.7h0M545.7 767.4h0M527.7 729.1h0M589.7 761.5h0M600.2 746.2h0M620.8 721.5h0M615.2 739.8h0M502.2 751.9h0M549.7 763.5h0M610.9 733.9h0M496.7 731.8h0M605.3 761.4h0M499.3 741.9h0M616.3 719.7h0M568.3 780.4h0M521.2 764.6h0M504.0 767.6h0M497.7 768.7h0M547.3 772.2h0M588.6 783.7h0M540.6 771.7h0M585.6 751.4h0M590.1 748.0h0M502.9 738.5h0M588.8 776.3h0M531.8 772.0h0M504.0 762.0h0M587.2 756.0h0M511.9 753.6h0M551.2 766.2h0M484.0 754.1h0M590.3 780.8h0M587.7 764.4h0M555.4 780.4h0M563.9 770.9h0M529.0 730.9h0M587.4 777.2h0M561.3 768.7h0M548.8 766.6h0M562.8 740.6h0M602.3 752.7h0M566.6 780.0h0M533.4 756.9h0M613.2 731.6h0M564.9 755.4h0M544.6 764.6h0M590.0 783.3h0M520.7 748.3h0M597.0 749.5h0M559.4 754.8h0M604.9 737.4h0M557.7 744.7h0M563.6 764.9h0M595.6 747.2h0M512.3 742.7h0M508.5 753.9h0M604.8 755.1h0M500.3 757.8h0M512.9 741.2h0M530.8 770.5h0M545.5 773.6h0M508.6 748.6h0M566.4 756.7h0M598.0 750.6h0M623.9 737.4h0M622.4 723.7h0M562.5 764.3h0M624.6 724.8h0M576.2 775.9h0M541.7 756.9h0M488.1 755.2h0M524.1 763.4h0M557.0 762.6h0M543.9 769.6h0M536.0 764.5h0M609.9 737.8h0M588.0 755.3h0M523.2 764.6h0M568.3 768.6h0M496.9 755.8h0M551.4 779.5h0M576.8 761.6h0M572.3 748.0h0M576.0 754.9h0M620.5 738.1h0M569.9 777.9h0M543.2 771.0h0M503.7 737.0h0M596.2 748.4h0M577.2 762.0h0M555.5 747.6h0M577.8 761.4h0M560.4 775.1h0M572.8 748.6h0M509.6 766.1h0M543.4 775.5h0M542.1 768.7h0M525.4 739.2h0M508.3 739.5h0M569.8 741.3h0M558.3 760.7h0M516.1 756.8h0M526.7 765.5h0M576.0 748.2h0M623.5 723.1h0M547.3 762.7h0M601.7 757.2h0M602.8 760.0h0M514.0 757.1h0M534.1 771.9h0M534.5 764.4h0M583.8 771.9h0M618.1 729.2h0M557.5 783.6h0M586.3 779.8h0M572.2 768.0h0M597.0 750.2h0M554.5 762.2h0M549.2 767.1h0M581.0 745.6h0M502.0 760.5h0M563.1 785.6h0M603.1 756.2h0M593.1 781.7h0M508.2 757.3h0M604.2 771.8h0M601.9 778.0h0M595.6 752.3h0M611.3 734.5h0M541.7 775.5h0M494.5 752.3h0M597.4 763.8h0M505.0 758.5h0M517.5 760.8h0M607.9 723.8h0M589.9 766.6h0M555.9 767.7h0M500.9 761.3h0M536.1 773.3h0M605.5 729.3h0M611.4 729.7h0M505.2 752.9h0M608.3 727.8h0M598.4 774.1h0M512.0 759.5h0M612.5 730.8h0M624.9 723.5h0M526.5 771.6h0M494.4 734.1h0M510.4 749.6h0M514.8 746.2h0M546.7 766.6h0M528.5 754.0h0M537.6 755.7h0M547.8 768.2h0M590.7 749.5h0M497.1 740.4h0M611.0 727.3h0M614.9 718.8h0M559.5 742.0h0M629.6 724.7h0M607.4 763.3h0M494.2 768.3h0M576.9 771.6h0M557.5 750.5h0M565.2 757.8h0M584.9 768.4h0M610.0 734.4h0M607.6 730.3h0M575.0 770.4h0M590.8 753.4h0M506.2 762.5h0M517.1 748.8h0M549.8 766.6h0M578.8 752.2h0M546.1 763.9h0M609.1 735.0h0M539.5 766.0h0M573.5 742.6h0M585.3 755.2h0M588.6 768.6h0M564.2 784.8h0M509.0 751.4h0M590.5 771.4h0M599.4 746.3h0M504.9 762.4h0M482.0 750.3h0M581.5 752.0h0M601.2 767.0h0M590.4 750.2h0M559.3 767.1h0M487.7 729.4h0M573.3 771.4h0M611.1 729.9h0M602.9 740.5h0M585.4 749.2h0M508.1 763.4h0M550.2 770.3h0M546.7 767.1h0M545.9 768.2h0M550.1 771.1h0M597.5 760.7h0M606.1 765.4h0M567.2 787.1h0M499.1 752.3h0M605.5 764.5h0M502.4 767.3h0M561.6 772.6h0M586.9 778.7h0M561.3 739.5h0M559.4 745.9h0M497.5 756.1h0M563.4 743.0h0M504.9 764.8h0M565.0 787.3h0M510.8 745.3h0M582.3 761.3h0M578.0 766.2h0M605.5 767.7h0M598.3 761.0h0M572.8 787.6h0M543.6 757.5h0M511.1 752.8h0M559.1 741.7h0M557.4 766.3h0M612.9 722.1h0M506.6 767.1h0M564.9 754.2h0M605.0 779.1h0M590.0 766.7h0M557.0 761.3h0M516.1 747.3h0M613.2 737.4h0M505.5 762.0h0M594.1 762.9h0M580.3 750.6h0M571.8 738.3h0M525.4 758.0h0M506.4 759.2h0M541.8 758.5h0M605.0 758.9h0M614.0 737.4h0M574.1 775.0h0M593.6 758.6h0M507.6 756.7h0M543.8 765.4h0M546.8 766.7h0M617.6 722.7h0M624.7 737.3h0M605.7 772.5h0M588.2 750.7h0M593.7 761.0h0M528.5 758.3h0M497.7 754.6h0M556.8 761.2h0M607.2 774.4h0M604.7 750.6h0M627.4 729.1h0M494.5 734.0h0M555.1 764.8h0M498.3 761.4h0M551.2 765.8h0M596.7 746.7h0M565.3 761.8h0M560.1 739.7h0M570.8 742.1h0M577.7 765.7h0M501.1 767.7h0M524.3 755.9h0M598.6 769.8h0M545.1 770.6h0M617.5 739.5h0M558.6 766.8h0M589.9 753.3h0M544.3 769.1h0M492.2 734.7h0M483.5 753.0h0M574.5 778.8h0M617.6 720.8h0M604.7 739.1h0M523.5 764.9h0M492.4 744.7h0M571.8 781.6h0" stroke="#440154" stroke-width="1.76" stroke-linecap="round" fill="none"/>
<path d="M628.0 732.2h0M595.4 769.8h0M512.5 745.3h0M498.1 735.2h0M572.8 766.4h0M494.2 734.2h0M511.9 754.9h0M535.6 757.7h0M586.0 764.8h0M622.2 740.7h0M561.7 761.6h0M591.6 759.5h0M559.0 765.6h0M566.4 744.4h0M610.6 728.4h0M554.1 777.0h0M601.1 750.5h0M585.8 746.7h0M488.3 752.0h0M595.9 762.3h0M608.8 725.5h0M568.2 783.8h0M516.2 742.6h0M564.0 754.4h0M524.6 748.9h0M535.1 759.7h0M592.7 756.6h0M539.2 762.7h0M497.8 757.8h0M616.0 726.0h0M558.1 769.2h0M561.7 741.2h0M483.3 750.9h0M548.4 773.3h0M581.0 778.8h0M538.3 763.8h0M608.8 742.8h0M523.6 755.9h0M570.4 751.6h0M625.7 739.9h0M518.2 753.5h0M503.2 765.7h0M572.2 750.7h0M554.2 777.9h0M601.3 740.0h0M577.7 777.1h0M568.5 739.6h0M609.2 730.8h0M509.7 756.0h0M612.7 729.8h0M578.0 757.2h0M571.6 777.7h0M594.2 757.3h0M499.3 731.7h0M518.8 764.2h0M578.7 775.7h0M593.9 758.2h0M625.7 731.1h0M501.4 747.7h0M626.5 731.8h0M625.2 735.8h0M561.2 775.0h0M494.7 731.1h0M588.7 760.0h0M585.0 763.2h0M599.6 750.4h0M511.4 745.3h0M601.2 767.2h0M498.8 762.2h0M561.0 785.4h0M557.7 784.3h0M599.4 780.2h0M494.8 732.1h0M601.1 744.0h0M608.0 735.7h0M539.5 762.0h0M550.5 781.3h0M556.4 746.4h0M555.0 771.3h0M547.9 767.6h0M580.8 757.1h0M571.4 767.0h0M533.2 762.3h0M597.3 753.4h0M611.7 721.1h0M614.0 722.5h0M626.7 740.1h0M584.0 779.7h0M619.7 737.6h0M587.2 776.9h0M506.1 762.3h0M562.7 773.5h0M546.4 779.4h0M520.4 770.0h0M548.4 770.5h0M594.5 756.4h0M484.9 752.0h0M518.1 746.4h0M545.0 766.1h0M548.6 780.4h0M549.8 766.0h0M574.1 767.5h0M499.4 732.7h0M523.2 762.5h0M557.7 764.9h0M591.4 770.1h0M609.6 743.3h0M582.4 750.8h0M572.3 779.7h0M555.8 783.1h0M497.1 731.9h0M533.3 773.4h0M536.0 776.7h0M591.9 757.2h0M598.6 746.0h0M496.6 758.8h0M542.1 765.6h0M564.6 773.1h0M545.6 767.8h0M619.0 738.3h0M600.8 754.9h0M494.9 762.4h0M622.0 736.1h0M559.0 765.0h0M604.1 761.9h0M506.7 739.0h0" stroke="#482475" stroke-width="1.76" stroke-linecap="round" fill="none"/>
<path d="M608.5 731.0h0M503.0 745.4h0M516.1 747.5h0M593.2 753.7h0M564.1 742.7h0M555.3 778.8h0M577.4 755.4h0M505.4 748.6h0M616.9 723.6h0M511.3 754.3h0M602.4 739.4h0M626.6 735.2h0M576.3 762.2h0M512.4 747.2h0M573.9 766.8h0M510.9 747.0h0M552.0 774.1h0M622.0 737.7h0M621.4 739.3h0M558.6 762.4h0M630.0 727.4h0M483.8 751.9h0M498.5 758.7h0" stroke="#414487" stroke-width="1.76" stroke-linecap="round" fill="none"/>
<path d="M616.7 723.8h0M556.9 763.6h0M618.2 736.4h0M514.6 756.3h0M500.9 773.7h0M532.4 757.8h0M616.5 721.7h0M490.8 734.2h0M588.6 758.6h0M589.5 758.8h0M545.5 773.5h0M508.4 752.4h0M535.2 772.6h0M545.3 773.2h0M627.3 720.0h0M616.7 720.3h0M612.5 732.6h0M510.7 743.8h0M522.4 742.7h0M613.2 730.4h0M519.1 754.7h0M609.2 734.8h0M579.0 776.9h0M596.8 744.9h0M590.3 779.2h0M568.9 753.7h0M624.9 739.1h0M521.3 758.3h0M576.4 757.6h0M529.1 731.1h0M608.9 733.5h0M599.2 759.1h0M584.0 781.3h0M530.8 759.7h0M624.5 726.9h0M608.2 771.1h0M499.2 744.0h0M585.5 748.8h0M601.6 750.6h0M588.5 757.3h0M587.3 741.9h0M555.4 750.9h0M590.0 761.4h0M593.4 755.9h0" stroke="#355f8d" stroke-width="1.76" stroke-linecap="round" fill="none"/>
<path d="M508.6 761.9h0M605.7 748.1h0M585.9 768.3h0M585.1 747.8h0M496.8 760.2h0M568.8 767.8h0M612.3 736.8h0M622.9 725.6h0M506.2 767.0h0M508.3 751.4h0M618.8 721.4h0M610.2 731.0h0M619.9 733.9h0M506.7 762.5h0M551.7 766.7h0M611.1 722.2h0M600.8 771.0h0M617.1 717.5h0M517.0 751.4h0M609.7 723.1h0M497.4 738.0h0M585.9 756.4h0M620.5 725.0h0M599.7 747.8h0M626.5 734.3h0M497.2 757.3h0M512.4 738.8h0" stroke="#2a788e" stroke-width="1.76" stroke-linecap="round" fill="none"/>
<path d="M630.7 736.6h0M561.9 785.8h0M507.6 747.3h0M576.1 762.9h0M613.0 731.8h0M625.3 732.8h0M521.4 765.1h0M631.6 726.2h0M492.6 765.9h0M612.5 735.8h0M521.1 761.3h0M498.6 744.9h0" stroke="#21918c" stroke-width="1.76" stroke-linecap="round" fill="none"/>
<path d="M622.1 743.6h0M501.1 759.9h0M505.6 742.2h0M597.9 753.0h0" stroke="#22a884" stroke-width="1.76" stroke-linecap="round" fill="none"/>
<line x1="472.5" y1="704.4" x2="472.5" y2="799.3" stroke="#555" stroke-width="0.9" />
<line x1="472.3" y1="799.5" x2="639.5" y2="799.5" stroke="#555" stroke-width="0.9" />
<text x="473" y="703" font-size="11.4" text-anchor="start" font-style="italic" fill="#111" >Zbtb7b</text>
<defs><linearGradient id="vg647734" x1="0" y1="0" x2="0" y2="1"><stop offset="0.0" stop-color="#fde725"/><stop offset="0.1" stop-color="#bddf26"/><stop offset="0.2" stop-color="#7ad151"/><stop offset="0.3" stop-color="#44bf70"/><stop offset="0.4" stop-color="#22a884"/><stop offset="0.5" stop-color="#21918c"/><stop offset="0.6" stop-color="#2a788e"/><stop offset="0.7" stop-color="#355f8d"/><stop offset="0.8" stop-color="#414487"/><stop offset="0.9" stop-color="#482475"/><stop offset="1.0" stop-color="#440154"/></linearGradient></defs>
<rect x="647.3" y="734.6" width="4.6" height="35.8" fill="url(#vg647734)" stroke="none" stroke-width="1" />
<text x="653.5" y="740.86" font-size="6" text-anchor="start" fill="#222" >2.0</text>
<text x="653.5" y="748.76" font-size="6" text-anchor="start" fill="#222" >1.5</text>
<text x="653.5" y="756.66" font-size="6" text-anchor="start" fill="#222" >1.0</text>
<text x="653.5" y="764.56" font-size="6" text-anchor="start" fill="#222" >0.5</text>
<text x="653.5" y="772.36" font-size="6" text-anchor="start" fill="#222" >0.0</text>
<text x="-1.3" y="566.9" font-size="11.8" text-anchor="start" fill="#111" >i</text>
</svg></body></html>
